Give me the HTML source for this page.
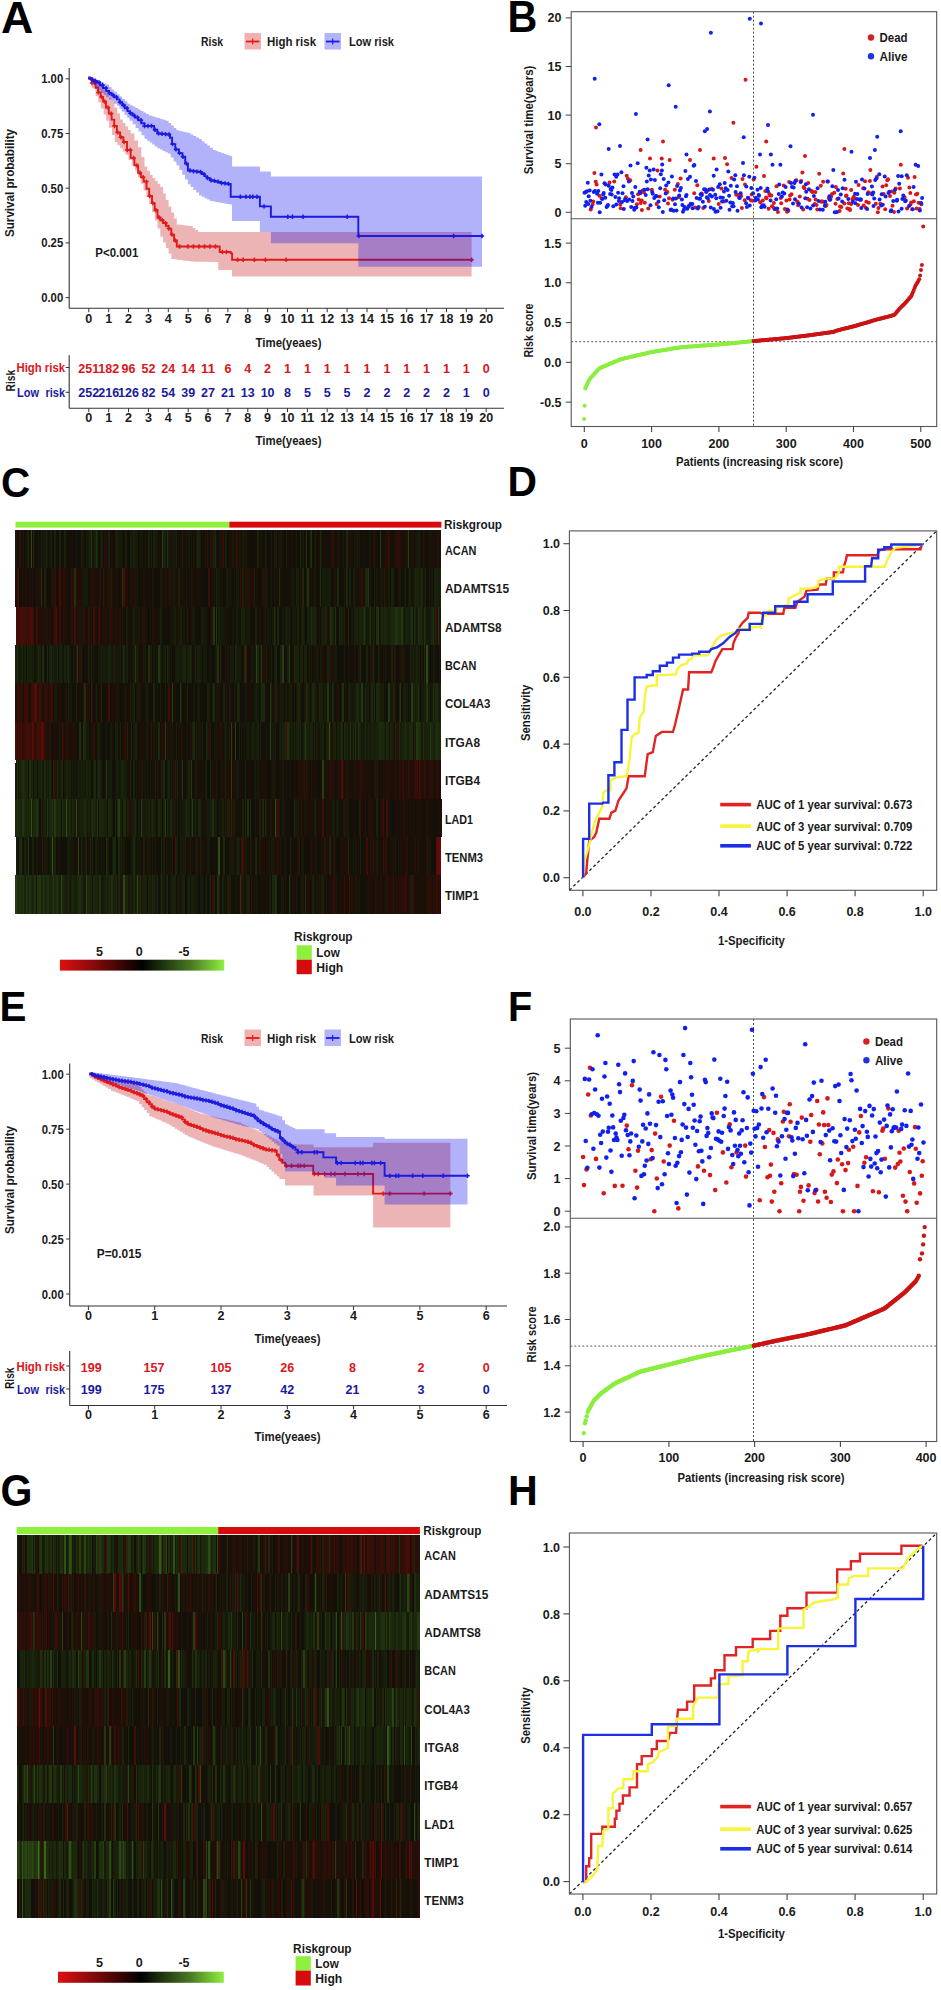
<!DOCTYPE html><html><head><meta charset="utf-8"><style>html,body{margin:0;padding:0;background:#fff;width:941px;height:1990px;overflow:hidden}svg{display:block}</style></head><body><svg width="941" height="1990" viewBox="0 0 941 1990" font-family="Liberation Sans, sans-serif" font-weight="bold">
<rect width="941" height="1990" fill="#fff"/>
<text transform="translate(1.06,32.94) scale(0.4470,0.4353)" x="0" y="0" font-size="100" fill="#000">A</text>
<text transform="translate(507.51,32.10) scale(0.4131,0.4348)" x="0" y="0" font-size="100" fill="#000">B</text>
<text transform="translate(1.08,496.97) scale(0.4046,0.4338)" x="0" y="0" font-size="100" fill="#000">C</text>
<text transform="translate(507.54,496.30) scale(0.4082,0.4261)" x="0" y="0" font-size="100" fill="#000">D</text>
<text transform="translate(-0.43,1020.90) scale(0.4036,0.4290)" x="0" y="0" font-size="100" fill="#000">E</text>
<text transform="translate(508.11,1020.70) scale(0.3980,0.4290)" x="0" y="0" font-size="100" fill="#000">F</text>
<text transform="translate(0.46,1506.16) scale(0.4103,0.4380)" x="0" y="0" font-size="100" fill="#000">G</text>
<text transform="translate(508.02,1504.80) scale(0.4121,0.4290)" x="0" y="0" font-size="100" fill="#000">H</text>
<path d="M88.2 76 L90.8 76 L90.8 77.9 L93.3 77.9 L93.3 79.8 L95.9 79.8 L95.9 81.8 L98.4 81.8 L98.4 83.7 L101 83.7 L101 85.6 L103.7 85.6 L103.7 89.6 L106.3 89.6 L106.3 93.6 L108.9 93.6 L108.9 97.6 L111.6 97.6 L111.6 101.6 L114.4 101.6 L114.4 107.6 L117.3 107.6 L117.3 113.6 L120.1 113.6 L120.1 119.6 L122.8 119.6 L122.8 123 L125.4 123 L125.4 126.5 L128 126.5 L128 129.9 L130.7 129.9 L130.7 133.4 L134.4 133.4 L134.4 140.4 L138.1 140.4 L138.1 147.3 L141.3 147.3 L141.3 156.9 L144.5 156.9 L144.5 166.4 L147.2 166.4 L147.2 170.7 L150 170.7 L150 175 L152.6 175 L152.6 178 L155.2 178 L155.2 181.1 L157.7 181.1 L157.7 184.1 L160.3 184.1 L160.3 187.1 L163.1 187.1 L163.1 193.5 L165.8 193.5 L165.8 200 L168.6 200 L168.6 206.4 L171.3 206.4 L171.3 212.4 L174.1 212.4 L174.1 218.4 L176.8 218.4 L176.8 224.4 L179.4 224.4 L179.4 224.7 L182.1 224.7 L182.1 225 L184.7 225 L184.7 225.4 L187.4 225.4 L187.4 225.7 L190 225.7 L190 226 L192.7 226 L192.7 228 L195.3 228 L195.3 229.9 L198 229.9 L198 231.9 L471.6 231.9 L471.6 231.9 L471.6 276.4 L471.6 276.4 L232 276.4 L232 270 L232 270 L232 270 L221 270 L218.3 270 L218.3 262 L218.3 262 L215.5 262 L215.5 261.9 L212.8 261.9 L212.8 261.9 L210 261.9 L210 261.9 L207.2 261.9 L207.2 261.8 L204.5 261.8 L204.5 261.8 L201.7 261.8 L201.7 261.8 L198.9 261.8 L198.9 261.7 L196.2 261.7 L196.2 261.7 L193.4 261.7 L193.4 261.4 L190.6 261.4 L190.6 261 L187.9 261 L187.9 260.7 L185.1 260.7 L185.1 260.4 L182.4 260.4 L182.4 260 L179.6 260 L179.6 259.7 L176.8 259.7 L176.8 259.3 L174.1 259.3 L174.1 259 L171.3 259 L171.3 253.4 L168.6 253.4 L168.6 247.9 L165.8 247.9 L165.8 242.4 L163.1 242.4 L163.1 236.8 L160.3 236.8 L160.3 228.5 L157.5 228.5 L157.5 220.2 L154.8 220.2 L154.8 212 L152 212 L152 203.7 L149.2 203.7 L149.2 197.1 L146.4 197.1 L146.4 190.5 L143.5 190.5 L143.5 183.8 L140.7 183.8 L140.7 177.2 L137.8 177.2 L137.8 170.6 L135 170.6 L135 165.3 L131.8 165.3 L131.8 160 L128.6 160 L128.6 154.7 L125.4 154.7 L125.4 151.5 L122.8 151.5 L122.8 148.3 L120.1 148.3 L120.1 145.2 L117.5 145.2 L117.5 142 L114.8 142 L114.8 134.9 L112 134.9 L112 127.8 L109.1 127.8 L109.1 120.7 L106.3 120.7 L106.3 114.6 L103.6 114.6 L103.6 108.5 L100.9 108.5 L100.9 102.4 L98.3 102.4 L98.3 96.3 L95.6 96.3 L95.6 88.2 L91.9 88.2 L91.9 80 L88.2 80 Z" fill="#c10d0d" fill-opacity="0.31" stroke="none"/>
<path d="M88.2 78.2 L91.9 78.2 L91.9 83 L95.6 83 L95.6 87.8 L98.1 87.8 L98.1 92.4 L100.6 92.4 L100.6 97 L103.1 97 L103.1 101.6 L105.9 101.6 L105.9 107.6 L108.8 107.6 L108.8 113.6 L111.6 113.6 L111.6 119.6 L114.2 119.6 L114.2 126 L116.9 126 L116.9 132.4 L120.1 132.4 L120.1 137.2 L123.3 137.2 L123.3 142 L127 142 L127 149.9 L130.7 149.9 L130.7 157.9 L134.4 157.9 L134.4 165.4 L138.1 165.4 L138.1 172.8 L140.9 172.8 L140.9 177.2 L143.7 177.2 L143.7 181.6 L146.5 181.6 L146.5 188.8 L149.2 188.8 L149.2 196 L152 196 L152 203.1 L154.7 203.1 L154.7 210.3 L157.5 210.3 L157.5 217.5 L160.3 217.5 L160.3 220.3 L163.1 220.3 L163.1 223.1 L165.8 223.1 L165.8 225.8 L168.6 225.8 L168.6 228.6 L171.3 228.6 L171.3 234.6 L174.1 234.6 L174.1 240.5 L176.8 240.5 L176.8 246.5 L218.3 246.5 L218.3 246.5 L219.7 246.5 L219.7 252 L230.7 252 L230.7 253.4 L232.1 253.4 L232.1 259.8 L471.6 259.8 L471.6 259.8" fill="none" stroke="#e01a1a" stroke-width="1.9"/>
<path d="M89.8 83h4.4M92 80.8v4.4M93 83h4.4M95.2 80.8v4.4M96.2 92.4h4.4M98.4 90.2v4.4M99.4 97h4.4M101.6 94.8v4.4M102.6 101.6h4.4M104.8 99.4v4.4M105.8 107.6h4.4M108 105.4v4.4M109 113.6h4.4M111.2 111.4v4.4M112.2 126h4.4M114.4 123.8v4.4M115.4 132.4h4.4M117.6 130.2v4.4M118.6 137.2h4.4M120.8 135v4.4M121.8 142h4.4M124 139.8v4.4M125 149.9h4.4M127.2 147.8v4.4M128.2 149.9h4.4M130.4 147.8v4.4M131.4 157.9h4.4M133.6 155.7v4.4M134.6 165.4h4.4M136.8 163.2v4.4M137.8 172.8h4.4M140 170.6v4.4M141 177.2h4.4M143.2 175v4.4M144.2 181.6h4.4M146.4 179.4v4.4M147.4 196h4.4M149.6 193.8v4.4M150.6 203.1h4.4M152.8 200.9v4.4M153.8 210.3h4.4M156 208.1v4.4M157 217.5h4.4M159.2 215.3v4.4M160.2 220.3h4.4M162.4 218.1v4.4M163.4 223.1h4.4M165.6 220.9v4.4M166.6 228.6h4.4M168.8 226.4v4.4M169.8 234.6h4.4M172 232.4v4.4M173 240.5h4.4M175.2 238.3v4.4M177.4 246.5h4.4M179.6 244.3v4.4M185.7 246.5h4.4M187.9 244.3v4.4M191.2 246.5h4.4M193.4 244.3v4.4M196.8 246.5h4.4M199 244.3v4.4M202.3 246.5h4.4M204.5 244.3v4.4M207.8 246.5h4.4M210 244.3v4.4M213.3 246.5h4.4M215.5 244.3v4.4M220.2 252h4.4M222.4 249.8v4.4M224.3 252h4.4M226.5 249.8v4.4M235.4 259.8h4.4M237.6 257.6v4.4M241 259.8h4.4M243.2 257.6v4.4M252.2 259.8h4.4M254.4 257.6v4.4M263.2 259.8h4.4M265.4 257.6v4.4M283.9 259.8h4.4M286.1 257.6v4.4M469.4 259.8h4.4M471.6 257.6v4.4" fill="none" stroke="#e01a1a" stroke-width="1.5"/>
<path d="M88.2 76 L90.8 76 L90.8 77.2 L93.4 77.2 L93.4 78.5 L96 78.5 L96 79.7 L98.5 79.7 L98.5 80.9 L101.1 80.9 L101.1 82.1 L103.7 82.1 L103.7 83.4 L106.3 83.4 L106.3 84.6 L109 84.6 L109 87 L111.6 87 L111.6 89.4 L114.2 89.4 L114.2 91.8 L116.9 91.8 L116.9 94.2 L119.5 94.2 L119.5 96.5 L122.2 96.5 L122.2 98.9 L124.8 98.9 L124.8 101.3 L127.5 101.3 L127.5 103.7 L130.2 103.7 L130.2 105.2 L132.8 105.2 L132.8 106.6 L135.5 106.6 L135.5 108.1 L138.2 108.1 L138.2 109.6 L140.8 109.6 L140.8 111 L143.5 111 L143.5 112.5 L146.1 112.5 L146.1 113.9 L148.8 113.9 L148.8 115.4 L151.6 115.4 L151.6 116.3 L154.5 116.3 L154.5 117.2 L157.3 117.2 L157.3 118.1 L160.1 118.1 L160.1 118.9 L163 118.9 L163 119.8 L165.8 119.8 L165.8 120.7 L168.5 120.7 L168.5 123.1 L171.1 123.1 L171.1 125.5 L173.8 125.5 L173.8 127.9 L176.4 127.9 L176.4 130.3 L179.3 130.3 L179.3 131 L182.2 131 L182.2 131.7 L185 131.7 L185 132.3 L187.9 132.3 L187.9 133 L190.7 133 L190.7 134.5 L193.4 134.5 L193.4 136 L196.2 136 L196.2 137.5 L199 137.5 L199 139 L201.8 139 L201.8 141.2 L204.5 141.2 L204.5 143.4 L207.3 143.4 L207.3 145.6 L210 145.6 L210 147.8 L212.8 147.8 L212.8 150 L215.6 150 L215.6 151 L218.3 151 L218.3 152 L221.1 152 L221.1 153 L223.8 153 L223.8 154 L226.6 154 L226.6 155 L229.3 155 L229.3 156 L232.1 156 L232.1 157 L232.1 166.4 L234.9 166.4 L259.9 166.4 L259.9 166.4 L259.9 166.4 L259.9 171.4 L270.9 171.4 L270.9 171.4 L270.9 171.4 L270.9 176.6 L482 176.6 L482 176.6 L482 266.7 L482 266.7 L358.3 266.7 L358.3 243.2 L358.3 243.2 L358.3 243.2 L270.9 243.2 L270.9 231.9 L270.9 231.9 L270.9 231.9 L259.9 231.9 L259.9 221.1 L259.9 221.1 L259.9 221.1 L234.9 221.1 L232 221.1 L232 205 L232 204.5 L229.2 204.5 L229.2 204 L226.5 204 L226.5 203.5 L223.8 203.5 L223.8 203 L221 203 L221 202.5 L218.2 202.5 L218.2 202 L215.5 202 L215.5 201.5 L212.8 201.5 L212.8 201 L210 201 L210 199.6 L207.2 199.6 L207.2 198.2 L204.5 198.2 L204.5 196.8 L201.8 196.8 L201.8 195.4 L199 195.4 L199 192.6 L196.2 192.6 L196.2 189.9 L193.4 189.9 L193.4 187.1 L190.7 187.1 L190.7 184.3 L187.9 184.3 L187.9 179.6 L185 179.6 L185 174.8 L182.2 174.8 L182.2 170.1 L179.3 170.1 L179.3 165.3 L176.4 165.3 L176.4 161.4 L173.6 161.4 L173.6 157.5 L170.7 157.5 L170.7 153.6 L167.9 153.6 L167.9 152.3 L165.2 152.3 L165.2 150.9 L162.6 150.9 L162.6 149.6 L160 149.6 L160 148.3 L157.3 148.3 L157.3 146.4 L154.7 146.4 L154.7 144.5 L152.2 144.5 L152.2 142.6 L149.6 142.6 L149.6 140.7 L147.1 140.7 L147.1 138.8 L144.5 138.8 L144.5 135.2 L141.5 135.2 L141.5 131.6 L138.5 131.6 L138.5 127.9 L135.6 127.9 L135.6 124.3 L132.6 124.3 L132.6 120.7 L129.6 120.7 L129.6 117.7 L127.1 117.7 L127.1 114.7 L124.5 114.7 L124.5 111.8 L122 111.8 L122 108.8 L119.4 108.8 L119.4 105.8 L116.9 105.8 L116.9 103.7 L114.2 103.7 L114.2 101.5 L111.6 101.5 L111.6 99.4 L109 99.4 L109 97.3 L106.3 97.3 L106.3 95.1 L103.7 95.1 L103.7 93 L101 93 L101 90.4 L98.4 90.4 L98.4 87.8 L95.9 87.8 L95.9 85.2 L93.3 85.2 L93.3 82.6 L90.8 82.6 L90.8 80 L88.2 80 Z" fill="#0707ef" fill-opacity="0.31" stroke="none"/>
<path d="M88.2 78.2 L91 78.2 L91 79.6 L93.9 79.6 L93.9 81 L96.7 81 L96.7 82.4 L99.9 82.4 L99.9 85.3 L103.1 85.3 L103.1 88.1 L106.3 88.1 L106.3 91 L109 91 L109 93.1 L111.6 93.1 L111.6 95.2 L114.2 95.2 L114.2 97.3 L116.9 97.3 L116.9 99.4 L119.6 99.4 L119.6 102.3 L122.2 102.3 L122.2 105.2 L124.8 105.2 L124.8 108.2 L127.5 108.2 L127.5 111.1 L130 111.1 L130 113.2 L132.5 113.2 L132.5 115.4 L135 115.4 L135 117.5 L138.2 117.5 L138.2 120.3 L141.3 120.3 L141.3 123.2 L144.5 123.2 L144.5 126 L147.7 126 L147.7 126 L150.9 126 L150.9 126 L154.1 126 L154.1 129.7 L157.3 129.7 L157.3 133.4 L160.1 133.4 L160.1 133.8 L163 133.8 L163 134.1 L165.8 134.1 L165.8 134.5 L170 134.5 L170 137.7 L172.1 137.7 L172.1 144.1 L175.3 144.1 L175.3 149.4 L178.9 149.4 L178.9 153.1 L182.4 153.1 L182.4 156.7 L185.2 156.7 L185.2 163.6 L187.9 163.6 L187.9 170.5 L190.7 170.5 L190.7 170.9 L193.4 170.9 L193.4 171.2 L196.2 171.2 L196.2 171.6 L199 171.6 L199 172 L201.8 172 L201.8 174.1 L204.5 174.1 L204.5 176.1 L207.2 176.1 L207.2 178.1 L210 178.1 L210 180.2 L212.8 180.2 L212.8 180.9 L215.5 180.9 L215.5 181.6 L218.2 181.6 L218.2 182.3 L221 182.3 L221 183 L224.2 183 L224.2 183.4 L227.5 183.4 L227.5 183.9 L230.7 183.9 L230.7 184.3 L230.7 196.8 L234.9 196.8 L259.9 196.8 L259.9 196.8 L259.9 196.8 L259.9 206.4 L270.9 206.4 L270.9 206.4 L270.9 206.4 L270.9 216.7 L358.3 216.7 L358.3 216.7 L358.3 216.7 L358.3 236 L482 236 L482 236" fill="none" stroke="#1a1ae0" stroke-width="1.9"/>
<path d="M89.8 79.6h4.4M92 77.4v4.4M93.3 81h4.4M95.5 78.8v4.4M96.8 82.4h4.4M99 80.2v4.4M100.3 85.3h4.4M102.5 83.1v4.4M103.8 88.1h4.4M106 85.9v4.4M107.3 93.1h4.4M109.5 90.9v4.4M110.8 95.2h4.4M113 93v4.4M114.3 97.3h4.4M116.5 95.1v4.4M117.8 102.3h4.4M120 100.1v4.4M121.3 105.2h4.4M123.5 103v4.4M124.8 108.2h4.4M127 106v4.4M128.3 113.2h4.4M130.5 111v4.4M131.8 115.4h4.4M134 113.2v4.4M135.3 117.5h4.4M137.5 115.3v4.4M138.8 120.3h4.4M141 118.1v4.4M142.3 126h4.4M144.5 123.8v4.4M145.8 126h4.4M148 123.8v4.4M149.3 126h4.4M151.5 123.8v4.4M152.8 129.7h4.4M155 127.5v4.4M156.3 133.4h4.4M158.5 131.2v4.4M159.8 133.8h4.4M162 131.6v4.4M163.3 134.1h4.4M165.5 131.9v4.4M166.8 134.5h4.4M169 132.3v4.4M170.3 144.1h4.4M172.5 141.9v4.4M173.8 149.4h4.4M176 147.2v4.4M177.3 153.1h4.4M179.5 150.9v4.4M180.8 156.7h4.4M183 154.5v4.4M184.3 163.6h4.4M186.5 161.4v4.4M187.8 170.5h4.4M190 168.3v4.4M191.3 171.2h4.4M193.5 169.1v4.4M194.8 171.6h4.4M197 169.4v4.4M198.3 172h4.4M200.5 169.8v4.4M201.8 174.1h4.4M204 171.9v4.4M205.3 178.1h4.4M207.5 175.9v4.4M208.8 180.2h4.4M211 178v4.4M212.3 180.9h4.4M214.5 178.7v4.4M215.8 181.6h4.4M218 179.4v4.4M219.3 183h4.4M221.5 180.8v4.4M222.8 183.4h4.4M225 181.2v4.4M226.3 183.9h4.4M228.5 181.7v4.4M238.2 196.8h4.4M240.4 194.6v4.4M243.7 196.8h4.4M245.9 194.6v4.4M247.8 196.8h4.4M250 194.6v4.4M250.6 196.8h4.4M252.8 194.6v4.4M254.8 196.8h4.4M257 194.6v4.4M261.8 206.4h4.4M264 204.2v4.4M285.6 216.7h4.4M287.8 214.5v4.4M290.3 216.7h4.4M292.5 214.5v4.4M300.8 216.7h4.4M303 214.5v4.4M345 216.7h4.4M347.2 214.5v4.4M356.6 236h4.4M358.8 233.8v4.4M451.4 236h4.4M453.6 233.8v4.4M479.8 236h4.4M482 233.8v4.4" fill="none" stroke="#1a1ae0" stroke-width="1.5"/>
<line x1="69.2" y1="68" x2="69.2" y2="308.2" stroke="#333" stroke-width="1.1"/>
<line x1="69.2" y1="308.2" x2="504" y2="308.2" stroke="#333" stroke-width="1.1"/>
<line x1="65.7" y1="78.8" x2="69.2" y2="78.8" stroke="#333" stroke-width="1"/>
<text x="63.2" y="83.3" text-anchor="end" font-size="13.2" fill="#1a1a1a" textLength="22" lengthAdjust="spacingAndGlyphs">1.00</text>
<line x1="65.7" y1="133.5" x2="69.2" y2="133.5" stroke="#333" stroke-width="1"/>
<text x="63.2" y="138" text-anchor="end" font-size="13.2" fill="#1a1a1a" textLength="22" lengthAdjust="spacingAndGlyphs">0.75</text>
<line x1="65.7" y1="188.2" x2="69.2" y2="188.2" stroke="#333" stroke-width="1"/>
<text x="63.2" y="192.7" text-anchor="end" font-size="13.2" fill="#1a1a1a" textLength="22" lengthAdjust="spacingAndGlyphs">0.50</text>
<line x1="65.7" y1="242.9" x2="69.2" y2="242.9" stroke="#333" stroke-width="1"/>
<text x="63.2" y="247.4" text-anchor="end" font-size="13.2" fill="#1a1a1a" textLength="22" lengthAdjust="spacingAndGlyphs">0.25</text>
<line x1="65.7" y1="297.6" x2="69.2" y2="297.6" stroke="#333" stroke-width="1"/>
<text x="63.2" y="302.1" text-anchor="end" font-size="13.2" fill="#1a1a1a" textLength="22" lengthAdjust="spacingAndGlyphs">0.00</text>
<line x1="88.8" y1="308.2" x2="88.8" y2="312.2" stroke="#333" stroke-width="1"/>
<text x="88.8" y="323.1" text-anchor="middle" font-size="13.2" fill="#1a1a1a" textLength="7" lengthAdjust="spacingAndGlyphs">0</text>
<line x1="108.7" y1="308.2" x2="108.7" y2="312.2" stroke="#333" stroke-width="1"/>
<text x="108.7" y="323.1" text-anchor="middle" font-size="13.2" fill="#1a1a1a" textLength="7" lengthAdjust="spacingAndGlyphs">1</text>
<line x1="128.5" y1="308.2" x2="128.5" y2="312.2" stroke="#333" stroke-width="1"/>
<text x="128.5" y="323.1" text-anchor="middle" font-size="13.2" fill="#1a1a1a" textLength="7" lengthAdjust="spacingAndGlyphs">2</text>
<line x1="148.4" y1="308.2" x2="148.4" y2="312.2" stroke="#333" stroke-width="1"/>
<text x="148.4" y="323.1" text-anchor="middle" font-size="13.2" fill="#1a1a1a" textLength="7" lengthAdjust="spacingAndGlyphs">3</text>
<line x1="168.3" y1="308.2" x2="168.3" y2="312.2" stroke="#333" stroke-width="1"/>
<text x="168.3" y="323.1" text-anchor="middle" font-size="13.2" fill="#1a1a1a" textLength="7" lengthAdjust="spacingAndGlyphs">4</text>
<line x1="188.2" y1="308.2" x2="188.2" y2="312.2" stroke="#333" stroke-width="1"/>
<text x="188.2" y="323.1" text-anchor="middle" font-size="13.2" fill="#1a1a1a" textLength="7" lengthAdjust="spacingAndGlyphs">5</text>
<line x1="208" y1="308.2" x2="208" y2="312.2" stroke="#333" stroke-width="1"/>
<text x="208" y="323.1" text-anchor="middle" font-size="13.2" fill="#1a1a1a" textLength="7" lengthAdjust="spacingAndGlyphs">6</text>
<line x1="227.9" y1="308.2" x2="227.9" y2="312.2" stroke="#333" stroke-width="1"/>
<text x="227.9" y="323.1" text-anchor="middle" font-size="13.2" fill="#1a1a1a" textLength="7" lengthAdjust="spacingAndGlyphs">7</text>
<line x1="247.8" y1="308.2" x2="247.8" y2="312.2" stroke="#333" stroke-width="1"/>
<text x="247.8" y="323.1" text-anchor="middle" font-size="13.2" fill="#1a1a1a" textLength="7" lengthAdjust="spacingAndGlyphs">8</text>
<line x1="267.6" y1="308.2" x2="267.6" y2="312.2" stroke="#333" stroke-width="1"/>
<text x="267.6" y="323.1" text-anchor="middle" font-size="13.2" fill="#1a1a1a" textLength="7" lengthAdjust="spacingAndGlyphs">9</text>
<line x1="287.5" y1="308.2" x2="287.5" y2="312.2" stroke="#333" stroke-width="1"/>
<text x="287.5" y="323.1" text-anchor="middle" font-size="13.2" fill="#1a1a1a" textLength="13.9" lengthAdjust="spacingAndGlyphs">10</text>
<line x1="307.4" y1="308.2" x2="307.4" y2="312.2" stroke="#333" stroke-width="1"/>
<text x="307.4" y="323.1" text-anchor="middle" font-size="13.2" fill="#1a1a1a" textLength="13.9" lengthAdjust="spacingAndGlyphs">11</text>
<line x1="327.2" y1="308.2" x2="327.2" y2="312.2" stroke="#333" stroke-width="1"/>
<text x="327.2" y="323.1" text-anchor="middle" font-size="13.2" fill="#1a1a1a" textLength="13.9" lengthAdjust="spacingAndGlyphs">12</text>
<line x1="347.1" y1="308.2" x2="347.1" y2="312.2" stroke="#333" stroke-width="1"/>
<text x="347.1" y="323.1" text-anchor="middle" font-size="13.2" fill="#1a1a1a" textLength="13.9" lengthAdjust="spacingAndGlyphs">13</text>
<line x1="367" y1="308.2" x2="367" y2="312.2" stroke="#333" stroke-width="1"/>
<text x="367" y="323.1" text-anchor="middle" font-size="13.2" fill="#1a1a1a" textLength="13.9" lengthAdjust="spacingAndGlyphs">14</text>
<line x1="386.9" y1="308.2" x2="386.9" y2="312.2" stroke="#333" stroke-width="1"/>
<text x="386.9" y="323.1" text-anchor="middle" font-size="13.2" fill="#1a1a1a" textLength="13.9" lengthAdjust="spacingAndGlyphs">15</text>
<line x1="406.7" y1="308.2" x2="406.7" y2="312.2" stroke="#333" stroke-width="1"/>
<text x="406.7" y="323.1" text-anchor="middle" font-size="13.2" fill="#1a1a1a" textLength="13.9" lengthAdjust="spacingAndGlyphs">16</text>
<line x1="426.6" y1="308.2" x2="426.6" y2="312.2" stroke="#333" stroke-width="1"/>
<text x="426.6" y="323.1" text-anchor="middle" font-size="13.2" fill="#1a1a1a" textLength="13.9" lengthAdjust="spacingAndGlyphs">17</text>
<line x1="446.5" y1="308.2" x2="446.5" y2="312.2" stroke="#333" stroke-width="1"/>
<text x="446.5" y="323.1" text-anchor="middle" font-size="13.2" fill="#1a1a1a" textLength="13.9" lengthAdjust="spacingAndGlyphs">18</text>
<line x1="466.3" y1="308.2" x2="466.3" y2="312.2" stroke="#333" stroke-width="1"/>
<text x="466.3" y="323.1" text-anchor="middle" font-size="13.2" fill="#1a1a1a" textLength="13.9" lengthAdjust="spacingAndGlyphs">19</text>
<line x1="486.2" y1="308.2" x2="486.2" y2="312.2" stroke="#333" stroke-width="1"/>
<text x="486.2" y="323.1" text-anchor="middle" font-size="13.2" fill="#1a1a1a" textLength="13.9" lengthAdjust="spacingAndGlyphs">20</text>
<text x="288.5" y="346.8" text-anchor="middle" font-size="13.2" fill="#1a1a1a" textLength="66" lengthAdjust="spacingAndGlyphs">Time(yeaes)</text>
<text transform="translate(9.6,183) rotate(-90)" x="0" y="4.1" text-anchor="middle" font-size="12" fill="#1a1a1a" textLength="108" lengthAdjust="spacingAndGlyphs">Survival probability</text>
<text x="95.3" y="256.5" text-anchor="start" font-size="13.2" fill="#1a1a1a" textLength="43" lengthAdjust="spacingAndGlyphs">P&lt;0.001</text>
<text x="201" y="46" text-anchor="start" font-size="13" fill="#1a1a1a" textLength="22" lengthAdjust="spacingAndGlyphs">Risk</text>
<rect x="244.5" y="33" width="16.5" height="16.5" fill="#f2b1b1"/>
<line x1="246" y1="41.5" x2="259.5" y2="41.5" stroke="#e01a1a" stroke-width="1.8"/>
<line x1="252.7" y1="38.5" x2="252.7" y2="44.5" stroke="#e01a1a" stroke-width="1.2"/>
<text x="267" y="46" text-anchor="start" font-size="13" fill="#1a1a1a" textLength="49" lengthAdjust="spacingAndGlyphs">High risk</text>
<rect x="324.5" y="33" width="16.5" height="16.5" fill="#b4b4fb"/>
<line x1="326" y1="41.5" x2="339.5" y2="41.5" stroke="#1a1ae0" stroke-width="1.8"/>
<line x1="332.7" y1="38.5" x2="332.7" y2="44.5" stroke="#1a1ae0" stroke-width="1.2"/>
<text x="349" y="46" text-anchor="start" font-size="13" fill="#1a1a1a" textLength="45" lengthAdjust="spacingAndGlyphs">Low risk</text>
<line x1="69.2" y1="355.3" x2="69.2" y2="408.2" stroke="#333" stroke-width="1.1"/>
<line x1="69.2" y1="408.2" x2="504" y2="408.2" stroke="#333" stroke-width="1.1"/>
<line x1="65.7" y1="367.5" x2="69.2" y2="367.5" stroke="#333" stroke-width="1"/>
<line x1="65.7" y1="392.3" x2="69.2" y2="392.3" stroke="#333" stroke-width="1"/>
<text x="65" y="372" text-anchor="end" font-size="13.2" fill="#d8161b" textLength="48.5" lengthAdjust="spacingAndGlyphs">High risk</text>
<text x="17" y="396.8" text-anchor="start" font-size="13.2" fill="#1a1a9c" textLength="22" lengthAdjust="spacingAndGlyphs">Low</text>
<text x="65" y="396.8" text-anchor="end" font-size="13.2" fill="#1a1a9c" textLength="19.5" lengthAdjust="spacingAndGlyphs">risk</text>
<text transform="translate(10,380.7) rotate(-90)" x="0" y="4.7" text-anchor="middle" font-size="13.6" fill="#1a1a1a" textLength="21.5" lengthAdjust="spacingAndGlyphs">Risk</text>
<text x="88.8" y="373" text-anchor="middle" font-size="13.2" fill="#d8161b" textLength="20.9" lengthAdjust="spacingAndGlyphs">251</text>
<text x="108.7" y="373" text-anchor="middle" font-size="13.2" fill="#d8161b" textLength="20.9" lengthAdjust="spacingAndGlyphs">182</text>
<text x="128.5" y="373" text-anchor="middle" font-size="13.2" fill="#d8161b" textLength="13.9" lengthAdjust="spacingAndGlyphs">96</text>
<text x="148.4" y="373" text-anchor="middle" font-size="13.2" fill="#d8161b" textLength="13.9" lengthAdjust="spacingAndGlyphs">52</text>
<text x="168.3" y="373" text-anchor="middle" font-size="13.2" fill="#d8161b" textLength="13.9" lengthAdjust="spacingAndGlyphs">24</text>
<text x="188.2" y="373" text-anchor="middle" font-size="13.2" fill="#d8161b" textLength="13.9" lengthAdjust="spacingAndGlyphs">14</text>
<text x="208" y="373" text-anchor="middle" font-size="13.2" fill="#d8161b" textLength="13.9" lengthAdjust="spacingAndGlyphs">11</text>
<text x="227.9" y="373" text-anchor="middle" font-size="13.2" fill="#d8161b" textLength="7" lengthAdjust="spacingAndGlyphs">6</text>
<text x="247.8" y="373" text-anchor="middle" font-size="13.2" fill="#d8161b" textLength="7" lengthAdjust="spacingAndGlyphs">4</text>
<text x="267.6" y="373" text-anchor="middle" font-size="13.2" fill="#d8161b" textLength="7" lengthAdjust="spacingAndGlyphs">2</text>
<text x="287.5" y="373" text-anchor="middle" font-size="13.2" fill="#d8161b" textLength="7" lengthAdjust="spacingAndGlyphs">1</text>
<text x="307.4" y="373" text-anchor="middle" font-size="13.2" fill="#d8161b" textLength="7" lengthAdjust="spacingAndGlyphs">1</text>
<text x="327.2" y="373" text-anchor="middle" font-size="13.2" fill="#d8161b" textLength="7" lengthAdjust="spacingAndGlyphs">1</text>
<text x="347.1" y="373" text-anchor="middle" font-size="13.2" fill="#d8161b" textLength="7" lengthAdjust="spacingAndGlyphs">1</text>
<text x="367" y="373" text-anchor="middle" font-size="13.2" fill="#d8161b" textLength="7" lengthAdjust="spacingAndGlyphs">1</text>
<text x="386.9" y="373" text-anchor="middle" font-size="13.2" fill="#d8161b" textLength="7" lengthAdjust="spacingAndGlyphs">1</text>
<text x="406.7" y="373" text-anchor="middle" font-size="13.2" fill="#d8161b" textLength="7" lengthAdjust="spacingAndGlyphs">1</text>
<text x="426.6" y="373" text-anchor="middle" font-size="13.2" fill="#d8161b" textLength="7" lengthAdjust="spacingAndGlyphs">1</text>
<text x="446.5" y="373" text-anchor="middle" font-size="13.2" fill="#d8161b" textLength="7" lengthAdjust="spacingAndGlyphs">1</text>
<text x="466.3" y="373" text-anchor="middle" font-size="13.2" fill="#d8161b" textLength="7" lengthAdjust="spacingAndGlyphs">1</text>
<text x="486.2" y="373" text-anchor="middle" font-size="13.2" fill="#d8161b" textLength="7" lengthAdjust="spacingAndGlyphs">0</text>
<text x="88.8" y="396.8" text-anchor="middle" font-size="13.2" fill="#1a1a9c" textLength="20.9" lengthAdjust="spacingAndGlyphs">252</text>
<text x="108.7" y="396.8" text-anchor="middle" font-size="13.2" fill="#1a1a9c" textLength="20.9" lengthAdjust="spacingAndGlyphs">216</text>
<text x="128.5" y="396.8" text-anchor="middle" font-size="13.2" fill="#1a1a9c" textLength="20.9" lengthAdjust="spacingAndGlyphs">126</text>
<text x="148.4" y="396.8" text-anchor="middle" font-size="13.2" fill="#1a1a9c" textLength="13.9" lengthAdjust="spacingAndGlyphs">82</text>
<text x="168.3" y="396.8" text-anchor="middle" font-size="13.2" fill="#1a1a9c" textLength="13.9" lengthAdjust="spacingAndGlyphs">54</text>
<text x="188.2" y="396.8" text-anchor="middle" font-size="13.2" fill="#1a1a9c" textLength="13.9" lengthAdjust="spacingAndGlyphs">39</text>
<text x="208" y="396.8" text-anchor="middle" font-size="13.2" fill="#1a1a9c" textLength="13.9" lengthAdjust="spacingAndGlyphs">27</text>
<text x="227.9" y="396.8" text-anchor="middle" font-size="13.2" fill="#1a1a9c" textLength="13.9" lengthAdjust="spacingAndGlyphs">21</text>
<text x="247.8" y="396.8" text-anchor="middle" font-size="13.2" fill="#1a1a9c" textLength="13.9" lengthAdjust="spacingAndGlyphs">13</text>
<text x="267.6" y="396.8" text-anchor="middle" font-size="13.2" fill="#1a1a9c" textLength="13.9" lengthAdjust="spacingAndGlyphs">10</text>
<text x="287.5" y="396.8" text-anchor="middle" font-size="13.2" fill="#1a1a9c" textLength="7" lengthAdjust="spacingAndGlyphs">8</text>
<text x="307.4" y="396.8" text-anchor="middle" font-size="13.2" fill="#1a1a9c" textLength="7" lengthAdjust="spacingAndGlyphs">5</text>
<text x="327.2" y="396.8" text-anchor="middle" font-size="13.2" fill="#1a1a9c" textLength="7" lengthAdjust="spacingAndGlyphs">5</text>
<text x="347.1" y="396.8" text-anchor="middle" font-size="13.2" fill="#1a1a9c" textLength="7" lengthAdjust="spacingAndGlyphs">5</text>
<text x="367" y="396.8" text-anchor="middle" font-size="13.2" fill="#1a1a9c" textLength="7" lengthAdjust="spacingAndGlyphs">2</text>
<text x="386.9" y="396.8" text-anchor="middle" font-size="13.2" fill="#1a1a9c" textLength="7" lengthAdjust="spacingAndGlyphs">2</text>
<text x="406.7" y="396.8" text-anchor="middle" font-size="13.2" fill="#1a1a9c" textLength="7" lengthAdjust="spacingAndGlyphs">2</text>
<text x="426.6" y="396.8" text-anchor="middle" font-size="13.2" fill="#1a1a9c" textLength="7" lengthAdjust="spacingAndGlyphs">2</text>
<text x="446.5" y="396.8" text-anchor="middle" font-size="13.2" fill="#1a1a9c" textLength="7" lengthAdjust="spacingAndGlyphs">2</text>
<text x="466.3" y="396.8" text-anchor="middle" font-size="13.2" fill="#1a1a9c" textLength="7" lengthAdjust="spacingAndGlyphs">1</text>
<text x="486.2" y="396.8" text-anchor="middle" font-size="13.2" fill="#1a1a9c" textLength="7" lengthAdjust="spacingAndGlyphs">0</text>
<line x1="88.8" y1="408.2" x2="88.8" y2="412.2" stroke="#333" stroke-width="1"/>
<text x="88.8" y="421.7" text-anchor="middle" font-size="13.2" fill="#1a1a1a" textLength="7" lengthAdjust="spacingAndGlyphs">0</text>
<line x1="108.7" y1="408.2" x2="108.7" y2="412.2" stroke="#333" stroke-width="1"/>
<text x="108.7" y="421.7" text-anchor="middle" font-size="13.2" fill="#1a1a1a" textLength="7" lengthAdjust="spacingAndGlyphs">1</text>
<line x1="128.5" y1="408.2" x2="128.5" y2="412.2" stroke="#333" stroke-width="1"/>
<text x="128.5" y="421.7" text-anchor="middle" font-size="13.2" fill="#1a1a1a" textLength="7" lengthAdjust="spacingAndGlyphs">2</text>
<line x1="148.4" y1="408.2" x2="148.4" y2="412.2" stroke="#333" stroke-width="1"/>
<text x="148.4" y="421.7" text-anchor="middle" font-size="13.2" fill="#1a1a1a" textLength="7" lengthAdjust="spacingAndGlyphs">3</text>
<line x1="168.3" y1="408.2" x2="168.3" y2="412.2" stroke="#333" stroke-width="1"/>
<text x="168.3" y="421.7" text-anchor="middle" font-size="13.2" fill="#1a1a1a" textLength="7" lengthAdjust="spacingAndGlyphs">4</text>
<line x1="188.2" y1="408.2" x2="188.2" y2="412.2" stroke="#333" stroke-width="1"/>
<text x="188.2" y="421.7" text-anchor="middle" font-size="13.2" fill="#1a1a1a" textLength="7" lengthAdjust="spacingAndGlyphs">5</text>
<line x1="208" y1="408.2" x2="208" y2="412.2" stroke="#333" stroke-width="1"/>
<text x="208" y="421.7" text-anchor="middle" font-size="13.2" fill="#1a1a1a" textLength="7" lengthAdjust="spacingAndGlyphs">6</text>
<line x1="227.9" y1="408.2" x2="227.9" y2="412.2" stroke="#333" stroke-width="1"/>
<text x="227.9" y="421.7" text-anchor="middle" font-size="13.2" fill="#1a1a1a" textLength="7" lengthAdjust="spacingAndGlyphs">7</text>
<line x1="247.8" y1="408.2" x2="247.8" y2="412.2" stroke="#333" stroke-width="1"/>
<text x="247.8" y="421.7" text-anchor="middle" font-size="13.2" fill="#1a1a1a" textLength="7" lengthAdjust="spacingAndGlyphs">8</text>
<line x1="267.6" y1="408.2" x2="267.6" y2="412.2" stroke="#333" stroke-width="1"/>
<text x="267.6" y="421.7" text-anchor="middle" font-size="13.2" fill="#1a1a1a" textLength="7" lengthAdjust="spacingAndGlyphs">9</text>
<line x1="287.5" y1="408.2" x2="287.5" y2="412.2" stroke="#333" stroke-width="1"/>
<text x="287.5" y="421.7" text-anchor="middle" font-size="13.2" fill="#1a1a1a" textLength="13.9" lengthAdjust="spacingAndGlyphs">10</text>
<line x1="307.4" y1="408.2" x2="307.4" y2="412.2" stroke="#333" stroke-width="1"/>
<text x="307.4" y="421.7" text-anchor="middle" font-size="13.2" fill="#1a1a1a" textLength="13.9" lengthAdjust="spacingAndGlyphs">11</text>
<line x1="327.2" y1="408.2" x2="327.2" y2="412.2" stroke="#333" stroke-width="1"/>
<text x="327.2" y="421.7" text-anchor="middle" font-size="13.2" fill="#1a1a1a" textLength="13.9" lengthAdjust="spacingAndGlyphs">12</text>
<line x1="347.1" y1="408.2" x2="347.1" y2="412.2" stroke="#333" stroke-width="1"/>
<text x="347.1" y="421.7" text-anchor="middle" font-size="13.2" fill="#1a1a1a" textLength="13.9" lengthAdjust="spacingAndGlyphs">13</text>
<line x1="367" y1="408.2" x2="367" y2="412.2" stroke="#333" stroke-width="1"/>
<text x="367" y="421.7" text-anchor="middle" font-size="13.2" fill="#1a1a1a" textLength="13.9" lengthAdjust="spacingAndGlyphs">14</text>
<line x1="386.9" y1="408.2" x2="386.9" y2="412.2" stroke="#333" stroke-width="1"/>
<text x="386.9" y="421.7" text-anchor="middle" font-size="13.2" fill="#1a1a1a" textLength="13.9" lengthAdjust="spacingAndGlyphs">15</text>
<line x1="406.7" y1="408.2" x2="406.7" y2="412.2" stroke="#333" stroke-width="1"/>
<text x="406.7" y="421.7" text-anchor="middle" font-size="13.2" fill="#1a1a1a" textLength="13.9" lengthAdjust="spacingAndGlyphs">16</text>
<line x1="426.6" y1="408.2" x2="426.6" y2="412.2" stroke="#333" stroke-width="1"/>
<text x="426.6" y="421.7" text-anchor="middle" font-size="13.2" fill="#1a1a1a" textLength="13.9" lengthAdjust="spacingAndGlyphs">17</text>
<line x1="446.5" y1="408.2" x2="446.5" y2="412.2" stroke="#333" stroke-width="1"/>
<text x="446.5" y="421.7" text-anchor="middle" font-size="13.2" fill="#1a1a1a" textLength="13.9" lengthAdjust="spacingAndGlyphs">18</text>
<line x1="466.3" y1="408.2" x2="466.3" y2="412.2" stroke="#333" stroke-width="1"/>
<text x="466.3" y="421.7" text-anchor="middle" font-size="13.2" fill="#1a1a1a" textLength="13.9" lengthAdjust="spacingAndGlyphs">19</text>
<line x1="486.2" y1="408.2" x2="486.2" y2="412.2" stroke="#333" stroke-width="1"/>
<text x="486.2" y="421.7" text-anchor="middle" font-size="13.2" fill="#1a1a1a" textLength="13.9" lengthAdjust="spacingAndGlyphs">20</text>
<text x="288.5" y="445" text-anchor="middle" font-size="13.2" fill="#1a1a1a" textLength="66" lengthAdjust="spacingAndGlyphs">Time(yeaes)</text>
<path d="M89.3 1072 L91.9 1072 L91.9 1072.7 L94.5 1072.7 L94.5 1073.4 L97.2 1073.4 L97.2 1074 L99.8 1074 L99.8 1074.7 L102.4 1074.7 L102.4 1075.4 L105 1075.4 L105 1076.1 L107.7 1076.1 L107.7 1076.8 L110.3 1076.8 L110.3 1077.5 L112.9 1077.5 L112.9 1078.2 L115.5 1078.2 L115.5 1078.8 L118.1 1078.8 L118.1 1079.5 L120.8 1079.5 L120.8 1080.2 L123.4 1080.2 L123.4 1080.9 L126 1080.9 L126 1081.6 L128.6 1081.6 L128.6 1082.2 L131.3 1082.2 L131.3 1082.9 L133.9 1082.9 L133.9 1083.6 L136.5 1083.6 L136.5 1084.3 L139.1 1084.3 L139.1 1086.8 L141.6 1086.8 L141.6 1089.4 L144.1 1089.4 L144.1 1092 L146.7 1092 L146.7 1094.5 L149.3 1094.5 L149.3 1095.3 L151.8 1095.3 L151.8 1096.1 L154.4 1096.1 L154.4 1097 L156.9 1097 L156.9 1097.8 L159.5 1097.8 L159.5 1098.6 L162 1098.6 L162 1099.4 L164.6 1099.4 L164.6 1100.2 L167.1 1100.2 L167.1 1101 L169.7 1101 L169.7 1101.9 L172.2 1101.9 L172.2 1102.7 L174.8 1102.7 L174.8 1103.5 L177.4 1103.5 L177.4 1104.5 L179.9 1104.5 L179.9 1105.5 L182.5 1105.5 L182.5 1106.6 L185 1106.6 L185 1107.6 L187.6 1107.6 L187.6 1108.6 L190.1 1108.6 L190.1 1109.6 L192.7 1109.6 L192.7 1110.6 L195.2 1110.6 L195.2 1111.7 L197.8 1111.7 L197.8 1112.7 L200.3 1112.7 L200.3 1113.7 L202.8 1113.7 L202.8 1114.3 L205.4 1114.3 L205.4 1114.9 L207.9 1114.9 L207.9 1115.5 L210.5 1115.5 L210.5 1116.1 L213 1116.1 L213 1116.7 L215.6 1116.7 L215.6 1117.3 L218.1 1117.3 L218.1 1117.9 L220.7 1117.9 L220.7 1118.4 L223.2 1118.4 L223.2 1119 L225.8 1119 L225.8 1119.6 L228.3 1119.6 L228.3 1120.2 L230.9 1120.2 L230.9 1120.8 L233.4 1120.8 L233.4 1121.4 L236 1121.4 L236 1122 L238.5 1122 L238.5 1122.6 L241.1 1122.6 L241.1 1123.7 L243.6 1123.7 L243.6 1124.9 L246.2 1124.9 L246.2 1126 L248.7 1126 L248.7 1127.2 L251.2 1127.2 L251.2 1128.3 L253.8 1128.3 L253.8 1129.4 L256.4 1129.4 L256.4 1130.6 L258.9 1130.6 L258.9 1131.7 L261.4 1131.7 L261.4 1132.9 L264 1132.9 L264 1134 L266.6 1134 L266.6 1135.3 L269.1 1135.3 L269.1 1136.6 L271.6 1136.6 L271.6 1137.8 L274.2 1137.8 L274.2 1139.1 L276.8 1139.1 L276.8 1140.4 L279.3 1140.4 L279.3 1141.7 L282 1141.7 L282 1142.2 L284.6 1142.2 L284.6 1142.7 L287.3 1142.7 L287.3 1143.2 L290 1143.2 L290 1143.6 L292.6 1143.6 L292.6 1144.1 L295.3 1144.1 L295.3 1144.6 L313.5 1144.6 L313.5 1147.2 L373.1 1147.2 L373.1 1142.8 L450.4 1142.8 L450.4 1142.8 L450.4 1227.5 L450.4 1227.5 L373.1 1227.5 L373.1 1195.6 L313.5 1195.6 L313.5 1185.4 L285.1 1185.4 L285.1 1179 L279.3 1179 L279.3 1176.6 L276.8 1176.6 L276.8 1174.2 L274.2 1174.2 L274.2 1171.8 L271.6 1171.8 L271.6 1169.5 L269.1 1169.5 L269.1 1167.1 L266.6 1167.1 L266.6 1164.7 L264 1164.7 L264 1163.7 L261.4 1163.7 L261.4 1162.7 L258.9 1162.7 L258.9 1161.6 L256.4 1161.6 L256.4 1160.6 L253.8 1160.6 L253.8 1159.6 L251.2 1159.6 L251.2 1158.6 L248.7 1158.6 L248.7 1157.6 L246.2 1157.6 L246.2 1156.5 L243.6 1156.5 L243.6 1155.5 L241.1 1155.5 L241.1 1154.5 L238.5 1154.5 L238.5 1153.7 L235.9 1153.7 L235.9 1153 L233.4 1153 L233.4 1152.2 L230.8 1152.2 L230.8 1151.4 L228.3 1151.4 L228.3 1150.7 L225.8 1150.7 L225.8 1149.9 L223.2 1149.9 L223.2 1149.1 L220.7 1149.1 L220.7 1148.3 L218.1 1148.3 L218.1 1147.6 L215.6 1147.6 L215.6 1146.8 L213 1146.8 L213 1145.8 L210.4 1145.8 L210.4 1144.8 L207.9 1144.8 L207.9 1143.7 L205.3 1143.7 L205.3 1142.7 L202.8 1142.7 L202.8 1141.7 L200.2 1141.7 L200.2 1140.7 L197.7 1140.7 L197.7 1139.7 L195.2 1139.7 L195.2 1138.6 L192.6 1138.6 L192.6 1137.6 L190.1 1137.6 L190.1 1136.6 L187.5 1136.6 L187.5 1135 L184.9 1135 L184.9 1133.4 L182.4 1133.4 L182.4 1131.8 L179.8 1131.8 L179.8 1130.2 L177.3 1130.2 L177.3 1128.7 L174.8 1128.7 L174.8 1127.1 L172.2 1127.1 L172.2 1125.5 L169.7 1125.5 L169.7 1123.9 L167.1 1123.9 L167.1 1122.8 L164.6 1122.8 L164.6 1121.7 L162 1121.7 L162 1120.6 L159.5 1120.6 L159.5 1119.5 L156.9 1119.5 L156.9 1118.4 L154.4 1118.4 L154.4 1117.3 L151.8 1117.3 L151.8 1116.2 L149.3 1116.2 L149.3 1113.1 L146.7 1113.1 L146.7 1110.1 L144.2 1110.1 L144.2 1107 L141.6 1107 L141.6 1104 L139.1 1104 L139.1 1100.9 L136.5 1100.9 L136.5 1099.9 L133.9 1099.9 L133.9 1098.9 L131.4 1098.9 L131.4 1097.8 L128.8 1097.8 L128.8 1096.8 L126.3 1096.8 L126.3 1095.8 L123.8 1095.8 L123.8 1094.8 L121.2 1094.8 L121.2 1093.8 L118.7 1093.8 L118.7 1092.7 L116.1 1092.7 L116.1 1091.7 L113.5 1091.7 L113.5 1090.7 L111 1090.7 L111 1089.1 L108.3 1089.1 L108.3 1087.5 L105.6 1087.5 L105.6 1085.9 L102.9 1085.9 L102.9 1084.3 L100.2 1084.3 L100.2 1082.8 L97.4 1082.8 L97.4 1081.2 L94.7 1081.2 L94.7 1079.6 L92 1079.6 L92 1078 L89.3 1078 Z" fill="#c10d0d" fill-opacity="0.31" stroke="none"/>
<path d="M89.3 1074.1 L92 1074.1 L92 1075.4 L94.7 1075.4 L94.7 1076.6 L97.4 1076.6 L97.4 1077.9 L100.2 1077.9 L100.2 1079.2 L102.9 1079.2 L102.9 1080.5 L105.6 1080.5 L105.6 1081.8 L108.3 1081.8 L108.3 1083 L111 1083 L111 1084.3 L113.5 1084.3 L113.5 1085.2 L116.1 1085.2 L116.1 1086.1 L118.7 1086.1 L118.7 1087 L121.2 1087 L121.2 1087.9 L123.8 1087.9 L123.8 1088.8 L126.3 1088.8 L126.3 1089.7 L128.8 1089.7 L128.8 1090.6 L131.4 1090.6 L131.4 1091.5 L133.9 1091.5 L133.9 1092.4 L136.5 1092.4 L136.5 1093.3 L139.1 1093.3 L139.1 1094.5 L141.6 1094.5 L141.6 1095.8 L144.1 1095.8 L144.1 1099 L146.7 1099 L146.7 1102.2 L149.3 1102.2 L149.3 1104.3 L151.8 1104.3 L151.8 1106.5 L154.4 1106.5 L154.4 1108.6 L156.9 1108.6 L156.9 1109.4 L159.5 1109.4 L159.5 1110.1 L162 1110.1 L162 1110.9 L164.6 1110.9 L164.6 1111.6 L167.1 1111.6 L167.1 1112.4 L169.7 1112.4 L169.7 1113.4 L172.2 1113.4 L172.2 1114.4 L174.8 1114.4 L174.8 1115.5 L177.3 1115.5 L177.3 1116.5 L179.9 1116.5 L179.9 1117.5 L182.4 1117.5 L182.4 1119.6 L185 1119.6 L185 1121.8 L187.5 1121.8 L187.5 1123.9 L190.1 1123.9 L190.1 1124.9 L192.6 1124.9 L192.6 1125.8 L195.2 1125.8 L195.2 1126.8 L197.7 1126.8 L197.7 1127.7 L200.2 1127.7 L200.2 1128.7 L202.8 1128.7 L202.8 1129.6 L205.3 1129.6 L205.3 1130.5 L207.9 1130.5 L207.9 1131.5 L210.5 1131.5 L210.5 1132.2 L213 1132.2 L213 1133 L215.6 1133 L215.6 1133.7 L218.1 1133.7 L218.1 1134.4 L220.7 1134.4 L220.7 1135.1 L223.2 1135.1 L223.2 1135.9 L225.8 1135.9 L225.8 1136.6 L228.4 1136.6 L228.4 1137.2 L230.9 1137.2 L230.9 1137.9 L233.4 1137.9 L233.4 1138.5 L236 1138.5 L236 1139.2 L238.6 1139.2 L238.6 1139.8 L241.1 1139.8 L241.1 1140.4 L243.6 1140.4 L243.6 1141.1 L246.2 1141.1 L246.2 1141.7 L248.7 1141.7 L248.7 1142.8 L251.3 1142.8 L251.3 1143.9 L253.8 1143.9 L253.8 1145 L256.4 1145 L256.4 1146.1 L258.9 1146.1 L258.9 1147.2 L261.5 1147.2 L261.5 1148.3 L264 1148.3 L264 1149.4 L266.6 1149.4 L266.6 1149.7 L269.1 1149.7 L269.1 1150 L271.6 1150 L271.6 1150.3 L274.2 1150.3 L274.2 1150.6 L276.8 1150.6 L276.8 1155.2 L279.3 1155.2 L279.3 1159.9 L282.2 1159.9 L282.2 1162.8 L285.1 1162.8 L285.1 1165.8 L313.2 1165.8 L313.2 1174 L373.1 1174 L373.1 1193.6 L450.4 1193.6 L450.4 1193.6" fill="none" stroke="#e01a1a" stroke-width="1.9"/>
<path d="M89.8 1074.1h4.4M92 1071.9v4.4M92.8 1076.6h4.4M95 1074.4v4.4M95.8 1077.9h4.4M98 1075.7v4.4M98.8 1079.2h4.4M101 1077v4.4M101.8 1080.5h4.4M104 1078.3v4.4M104.8 1081.8h4.4M107 1079.5v4.4M107.8 1083h4.4M110 1080.8v4.4M110.8 1084.3h4.4M113 1082.1v4.4M113.8 1085.2h4.4M116 1083v4.4M116.8 1087h4.4M119 1084.8v4.4M119.8 1087.9h4.4M122 1085.7v4.4M122.8 1088.8h4.4M125 1086.6v4.4M125.8 1089.7h4.4M128 1087.5v4.4M128.8 1090.6h4.4M131 1088.4v4.4M131.8 1092.4h4.4M134 1090.2v4.4M134.8 1093.3h4.4M137 1091.1v4.4M137.8 1094.5h4.4M140 1092.3v4.4M140.8 1095.8h4.4M143 1093.6v4.4M143.8 1099h4.4M146 1096.8v4.4M146.8 1102.2h4.4M149 1100v4.4M149.8 1106.5h4.4M152 1104.3v4.4M152.8 1108.6h4.4M155 1106.4v4.4M155.8 1109.4h4.4M158 1107.2v4.4M158.8 1110.1h4.4M161 1107.9v4.4M161.8 1110.9h4.4M164 1108.7v4.4M164.8 1111.6h4.4M167 1109.4v4.4M167.8 1113.4h4.4M170 1111.2v4.4M170.8 1114.4h4.4M173 1112.2v4.4M173.8 1115.5h4.4M176 1113.3v4.4M176.8 1116.5h4.4M179 1114.3v4.4M179.8 1117.5h4.4M182 1115.3v4.4M182.8 1121.8h4.4M185 1119.6v4.4M185.8 1123.9h4.4M188 1121.7v4.4M188.8 1124.9h4.4M191 1122.7v4.4M191.8 1125.8h4.4M194 1123.6v4.4M194.8 1126.8h4.4M197 1124.5v4.4M197.8 1127.7h4.4M200 1125.5v4.4M200.8 1129.6h4.4M203 1127.4v4.4M203.8 1130.5h4.4M206 1128.3v4.4M206.8 1131.5h4.4M209 1129.3v4.4M209.8 1132.2h4.4M212 1130v4.4M212.8 1133h4.4M215 1130.8v4.4M215.8 1133.7h4.4M218 1131.5v4.4M218.8 1135.1h4.4M221 1132.9v4.4M221.8 1135.9h4.4M224 1133.7v4.4M224.8 1136.6h4.4M227 1134.4v4.4M227.8 1137.2h4.4M230 1135v4.4M230.8 1137.9h4.4M233 1135.7v4.4M233.8 1139.2h4.4M236 1137v4.4M236.8 1139.8h4.4M239 1137.6v4.4M239.8 1140.4h4.4M242 1138.2v4.4M242.8 1141.1h4.4M245 1138.9v4.4M245.8 1141.7h4.4M248 1139.5v4.4M248.8 1142.8h4.4M251 1140.6v4.4M251.8 1145h4.4M254 1142.8v4.4M254.8 1146.1h4.4M257 1143.9v4.4M257.8 1147.2h4.4M260 1145v4.4M260.8 1148.3h4.4M263 1146.1v4.4M263.8 1149.4h4.4M266 1147.2v4.4M266.8 1149.7h4.4M269 1147.5v4.4M269.8 1150.3h4.4M272 1148.1v4.4M272.8 1150.6h4.4M275 1148.4v4.4M275.8 1155.2h4.4M278 1153v4.4M278.8 1159.9h4.4M281 1157.7v4.4M284.2 1165.8h4.4M286.4 1163.6v4.4M289.3 1165.8h4.4M291.5 1163.6v4.4M295.7 1165.8h4.4M297.9 1163.6v4.4M298.2 1165.8h4.4M300.4 1163.6v4.4M302 1165.8h4.4M304.2 1163.6v4.4M312.2 1174h4.4M314.4 1171.8v4.4M316.1 1174h4.4M318.3 1171.8v4.4M322.4 1174h4.4M324.6 1171.8v4.4M328.8 1174h4.4M331 1171.8v4.4M332.6 1174h4.4M334.8 1171.8v4.4M342.8 1174h4.4M345 1171.8v4.4M355.6 1174h4.4M357.8 1171.8v4.4M362 1174h4.4M364.2 1171.8v4.4M381.1 1193.6h4.4M383.3 1191.4v4.4M387.5 1193.6h4.4M389.7 1191.4v4.4M421.9 1193.6h4.4M424.1 1191.4v4.4M448.2 1193.6h4.4M450.4 1191.4v4.4" fill="none" stroke="#e01a1a" stroke-width="1.5"/>
<path d="M89.3 1072 L91.9 1072 L91.9 1072.3 L94.5 1072.3 L94.5 1072.7 L97.2 1072.7 L97.2 1073 L99.8 1073 L99.8 1073.3 L102.4 1073.3 L102.4 1073.7 L105 1073.7 L105 1074 L107.7 1074 L107.7 1074.3 L110.3 1074.3 L110.3 1074.7 L112.9 1074.7 L112.9 1075 L115.5 1075 L115.5 1075.3 L118.1 1075.3 L118.1 1075.7 L120.8 1075.7 L120.8 1076 L123.4 1076 L123.4 1076.3 L126 1076.3 L126 1076.7 L128.6 1076.7 L128.6 1077 L131.3 1077 L131.3 1077.3 L133.9 1077.3 L133.9 1077.7 L136.5 1077.7 L136.5 1078 L139.1 1078 L139.1 1078.3 L141.6 1078.3 L141.6 1078.7 L144.2 1078.7 L144.2 1079 L146.7 1079 L146.7 1079.4 L149.3 1079.4 L149.3 1079.7 L151.8 1079.7 L151.8 1080 L154.4 1080 L154.4 1080.4 L156.9 1080.4 L156.9 1080.7 L159.5 1080.7 L159.5 1081.1 L162 1081.1 L162 1081.4 L164.6 1081.4 L164.6 1081.7 L167.1 1081.7 L167.1 1082.1 L169.7 1082.1 L169.7 1082.4 L172.2 1082.4 L172.2 1082.8 L174.8 1082.8 L174.8 1083.1 L177.3 1083.1 L177.3 1083.8 L179.9 1083.8 L179.9 1084.5 L182.4 1084.5 L182.4 1085.1 L185 1085.1 L185 1085.8 L187.5 1085.8 L187.5 1086.5 L190.1 1086.5 L190.1 1087.2 L192.6 1087.2 L192.6 1087.9 L195.2 1087.9 L195.2 1088.5 L197.7 1088.5 L197.7 1089.2 L200.3 1089.2 L200.3 1089.9 L202.8 1089.9 L202.8 1090.6 L205.4 1090.6 L205.4 1091.3 L207.9 1091.3 L207.9 1091.9 L210.5 1091.9 L210.5 1092.6 L213 1092.6 L213 1093.3 L215.6 1093.3 L215.6 1093.9 L218.1 1093.9 L218.1 1094.6 L220.7 1094.6 L220.7 1095.2 L223.2 1095.2 L223.2 1095.8 L225.8 1095.8 L225.8 1096.5 L228.3 1096.5 L228.3 1097.1 L230.8 1097.1 L230.8 1097.8 L233.4 1097.8 L233.4 1098.4 L236 1098.4 L236 1099 L238.5 1099 L238.5 1099.7 L241.1 1099.7 L241.1 1100.3 L243.6 1100.3 L243.6 1101 L246.2 1101 L246.2 1101.6 L248.7 1101.6 L248.7 1102.2 L251.2 1102.2 L251.2 1102.9 L253.8 1102.9 L253.8 1103.5 L256.4 1103.5 L256.4 1106.7 L258.9 1106.7 L258.9 1109.8 L261.4 1109.8 L261.4 1110.6 L264 1110.6 L264 1111.4 L266.6 1111.4 L266.6 1112.2 L269.1 1112.2 L269.1 1113 L271.6 1113 L271.6 1113.8 L274.2 1113.8 L274.2 1114.6 L276.8 1114.6 L276.8 1115.4 L279.3 1115.4 L279.3 1116.2 L282.2 1116.2 L282.2 1120.2 L285.1 1120.2 L285.1 1124.2 L287.7 1124.2 L287.7 1125.5 L290.2 1125.5 L290.2 1126.8 L292.8 1126.8 L292.8 1128 L295.3 1128 L295.3 1129.3 L324.6 1129.3 L324.6 1133.2 L336.1 1133.2 L336.1 1137 L384.6 1137 L384.6 1138.8 L467.5 1138.8 L467.5 1138.8 L467.5 1204.6 L467.5 1204.6 L384.6 1204.6 L384.6 1185.4 L336.1 1185.4 L336.1 1177.8 L324.6 1177.8 L324.6 1174 L313.5 1174 L313.5 1171.4 L285.1 1171.4 L285.1 1162.8 L282.3 1162.8 L282.3 1154.1 L279.6 1154.1 L279.6 1145.5 L276.8 1145.5 L276.8 1143.4 L274.2 1143.4 L274.2 1141.4 L271.7 1141.4 L271.7 1139.3 L269.1 1139.3 L269.1 1137.2 L266.6 1137.2 L266.6 1135.2 L264.1 1135.2 L264.1 1133.1 L261.5 1133.1 L261.5 1131.1 L258.9 1131.1 L258.9 1129 L256.4 1129 L256.4 1128.4 L253.8 1128.4 L253.8 1127.9 L251.3 1127.9 L251.3 1127.3 L248.7 1127.3 L248.7 1126.8 L246.2 1126.8 L246.2 1126.2 L243.6 1126.2 L243.6 1125.7 L241.1 1125.7 L241.1 1125.1 L238.5 1125.1 L238.5 1124.3 L235.9 1124.3 L235.9 1123.6 L233.4 1123.6 L233.4 1122.8 L230.8 1122.8 L230.8 1122.1 L228.3 1122.1 L228.3 1121.3 L225.8 1121.3 L225.8 1120.5 L223.2 1120.5 L223.2 1119.8 L220.7 1119.8 L220.7 1119 L218.1 1119 L218.1 1118.3 L215.6 1118.3 L215.6 1117.5 L213 1117.5 L213 1116.6 L210.5 1116.6 L210.5 1115.6 L207.9 1115.6 L207.9 1114.7 L205.4 1114.7 L205.4 1113.8 L202.8 1113.8 L202.8 1112.8 L200.3 1112.8 L200.3 1111.9 L197.7 1111.9 L197.7 1111 L195.2 1111 L195.2 1110 L192.6 1110 L192.6 1109.1 L190.1 1109.1 L190.1 1108.2 L187.5 1108.2 L187.5 1107.2 L185 1107.2 L185 1106.3 L182.4 1106.3 L182.4 1105.4 L179.9 1105.4 L179.9 1104.4 L177.3 1104.4 L177.3 1103.5 L174.8 1103.5 L174.8 1102.6 L172.2 1102.6 L172.2 1101.8 L169.7 1101.8 L169.7 1100.9 L167.1 1100.9 L167.1 1100.1 L164.6 1100.1 L164.6 1099.2 L162 1099.2 L162 1098.4 L159.5 1098.4 L159.5 1097.5 L156.9 1097.5 L156.9 1096.7 L154.4 1096.7 L154.4 1095.8 L151.8 1095.8 L151.8 1095 L149.3 1095 L149.3 1094.1 L146.7 1094.1 L146.7 1093.3 L144.2 1093.3 L144.2 1092.4 L141.6 1092.4 L141.6 1091.6 L139.1 1091.6 L139.1 1090.7 L136.5 1090.7 L136.5 1089.9 L133.9 1089.9 L133.9 1089.1 L131.3 1089.1 L131.3 1088.2 L128.6 1088.2 L128.6 1087.4 L126 1087.4 L126 1086.6 L123.4 1086.6 L123.4 1085.8 L120.8 1085.8 L120.8 1085 L118.1 1085 L118.1 1084.2 L115.5 1084.2 L115.5 1083.3 L112.9 1083.3 L112.9 1082.5 L110.3 1082.5 L110.3 1081.7 L107.7 1081.7 L107.7 1080.9 L105 1080.9 L105 1080.1 L102.4 1080.1 L102.4 1079.3 L99.8 1079.3 L99.8 1078.5 L97.2 1078.5 L97.2 1077.6 L94.5 1077.6 L94.5 1076.8 L91.9 1076.8 L91.9 1076 L89.3 1076 Z" fill="#0707ef" fill-opacity="0.31" stroke="none"/>
<path d="M89.3 1074.1 L92 1074.1 L92 1074.7 L94.7 1074.7 L94.7 1075.4 L97.4 1075.4 L97.4 1076 L100.2 1076 L100.2 1076.7 L102.9 1076.7 L102.9 1077.3 L105.6 1077.3 L105.6 1077.9 L108.3 1077.9 L108.3 1078.6 L111 1078.6 L111 1079.2 L113.5 1079.2 L113.5 1079.6 L116.1 1079.6 L116.1 1080 L118.7 1080 L118.7 1080.4 L121.2 1080.4 L121.2 1080.8 L123.8 1080.8 L123.8 1081.2 L126.3 1081.2 L126.3 1081.5 L128.8 1081.5 L128.8 1081.9 L131.4 1081.9 L131.4 1082.3 L133.9 1082.3 L133.9 1082.7 L136.5 1082.7 L136.5 1083.1 L139.1 1083.1 L139.1 1083.9 L141.6 1083.9 L141.6 1084.6 L144.2 1084.6 L144.2 1085.4 L146.7 1085.4 L146.7 1086.1 L149.2 1086.1 L149.2 1086.9 L151.8 1086.9 L151.8 1087.7 L154.3 1087.7 L154.3 1088.4 L156.9 1088.4 L156.9 1089.2 L159.4 1089.2 L159.4 1089.9 L162 1089.9 L162 1090.7 L164.6 1090.7 L164.6 1091.3 L167.1 1091.3 L167.1 1092 L169.7 1092 L169.7 1092.6 L172.2 1092.6 L172.2 1093.3 L174.8 1093.3 L174.8 1093.9 L177.3 1093.9 L177.3 1094.5 L179.8 1094.5 L179.8 1095.2 L182.4 1095.2 L182.4 1095.8 L184.9 1095.8 L184.9 1096.5 L187.5 1096.5 L187.5 1097.1 L190.1 1097.1 L190.1 1097.6 L192.6 1097.6 L192.6 1098 L195.2 1098 L195.2 1098.5 L197.7 1098.5 L197.7 1099 L200.2 1099 L200.2 1099.5 L202.8 1099.5 L202.8 1100 L205.3 1100 L205.3 1100.4 L207.9 1100.4 L207.9 1100.9 L210.4 1100.9 L210.4 1101.8 L213 1101.8 L213 1102.6 L215.6 1102.6 L215.6 1103.5 L218.1 1103.5 L218.1 1104.3 L220.6 1104.3 L220.6 1105.2 L223.2 1105.2 L223.2 1106 L225.8 1106 L225.8 1106.8 L228.3 1106.8 L228.3 1107.7 L230.8 1107.7 L230.8 1108.5 L233.4 1108.5 L233.4 1109.4 L235.9 1109.4 L235.9 1110.2 L238.5 1110.2 L238.5 1111.1 L241.3 1111.1 L241.3 1112 L244.1 1112 L244.1 1112.9 L246.9 1112.9 L246.9 1113.9 L249.7 1113.9 L249.7 1114.8 L252.5 1114.8 L252.5 1115.7 L255.1 1115.7 L255.1 1118.5 L257.7 1118.5 L257.7 1121.3 L260.9 1121.3 L260.9 1123.2 L264 1123.2 L264 1125.1 L266.6 1125.1 L266.6 1126.4 L269.1 1126.4 L269.1 1127.7 L271.7 1127.7 L271.7 1128.9 L274.2 1128.9 L274.2 1130.2 L276.8 1130.2 L276.8 1131.5 L280 1131.5 L280 1138.3 L282.6 1138.3 L282.6 1140.8 L285.1 1140.8 L285.1 1143.4 L287.7 1143.4 L287.7 1144.7 L290.2 1144.7 L290.2 1145.9 L292.8 1145.9 L292.8 1147.2 L295.4 1147.2 L295.4 1149.8 L297.9 1149.8 L297.9 1152.3 L323.4 1152.3 L323.4 1157.4 L336.1 1157.4 L336.1 1163 L384.6 1163 L384.6 1175.7 L467.5 1175.7 L467.5 1175.7" fill="none" stroke="#1a1ae0" stroke-width="1.9"/>
<path d="M89.8 1074.1h4.4M92 1071.9v4.4M92.8 1075.4h4.4M95 1073.2v4.4M95.8 1076h4.4M98 1073.8v4.4M98.8 1076.7h4.4M101 1074.5v4.4M101.8 1077.3h4.4M104 1075.1v4.4M104.8 1077.9h4.4M107 1075.7v4.4M107.8 1078.6h4.4M110 1076.4v4.4M110.8 1079.2h4.4M113 1077v4.4M113.8 1079.6h4.4M116 1077.4v4.4M116.8 1080.4h4.4M119 1078.2v4.4M119.8 1080.8h4.4M122 1078.6v4.4M122.8 1081.2h4.4M125 1079v4.4M125.8 1081.5h4.4M128 1079.3v4.4M128.8 1081.9h4.4M131 1079.7v4.4M131.8 1082.7h4.4M134 1080.5v4.4M134.8 1083.1h4.4M137 1080.9v4.4M137.8 1083.9h4.4M140 1081.7v4.4M140.8 1084.6h4.4M143 1082.4v4.4M143.8 1085.4h4.4M146 1083.2v4.4M146.8 1086.1h4.4M149 1083.9v4.4M149.8 1087.7h4.4M152 1085.5v4.4M152.8 1088.4h4.4M155 1086.2v4.4M155.8 1089.2h4.4M158 1087v4.4M158.8 1089.9h4.4M161 1087.7v4.4M161.8 1090.7h4.4M164 1088.5v4.4M164.8 1091.3h4.4M167 1089.1v4.4M167.8 1092.6h4.4M170 1090.4v4.4M170.8 1093.3h4.4M173 1091.1v4.4M173.8 1093.9h4.4M176 1091.7v4.4M176.8 1094.5h4.4M179 1092.3v4.4M179.8 1095.2h4.4M182 1093v4.4M182.8 1096.5h4.4M185 1094.3v4.4M185.8 1097.1h4.4M188 1094.9v4.4M188.8 1097.6h4.4M191 1095.4v4.4M191.8 1098h4.4M194 1095.8v4.4M194.8 1098.5h4.4M197 1096.3v4.4M197.8 1099h4.4M200 1096.8v4.4M200.8 1100h4.4M203 1097.8v4.4M203.8 1100.4h4.4M206 1098.2v4.4M206.8 1100.9h4.4M209 1098.7v4.4M209.8 1101.8h4.4M212 1099.5v4.4M212.8 1102.6h4.4M215 1100.4v4.4M215.8 1103.5h4.4M218 1101.2v4.4M218.8 1105.2h4.4M221 1103v4.4M221.8 1106h4.4M224 1103.8v4.4M224.8 1106.8h4.4M227 1104.6v4.4M227.8 1107.7h4.4M230 1105.5v4.4M230.8 1108.5h4.4M233 1106.3v4.4M233.8 1110.2h4.4M236 1108v4.4M236.8 1111.1h4.4M239 1108.9v4.4M239.8 1112h4.4M242 1109.8v4.4M242.8 1112.9h4.4M245 1110.7v4.4M245.8 1113.9h4.4M248 1111.7v4.4M248.8 1114.8h4.4M251 1112.6v4.4M251.8 1115.7h4.4M254 1113.5v4.4M254.8 1118.5h4.4M257 1116.3v4.4M257.8 1121.3h4.4M260 1119.1v4.4M260.8 1123.2h4.4M263 1121v4.4M263.8 1125.1h4.4M266 1122.9v4.4M266.8 1126.4h4.4M269 1124.2v4.4M269.8 1128.9h4.4M272 1126.7v4.4M272.8 1130.2h4.4M275 1128v4.4M275.8 1131.5h4.4M278 1129.3v4.4M278.8 1138.3h4.4M281 1136.1v4.4M281.8 1140.8h4.4M284 1138.6v4.4M284.8 1143.4h4.4M287 1141.2v4.4M287.8 1144.7h4.4M290 1142.5v4.4M290.8 1147.2h4.4M293 1145v4.4M295.7 1152.3h4.4M297.9 1150.1v4.4M299.5 1152.3h4.4M301.7 1150.1v4.4M312.2 1152.3h4.4M314.4 1150.1v4.4M314.8 1152.3h4.4M317 1150.1v4.4M335.2 1163h4.4M337.4 1160.8v4.4M339 1163h4.4M341.2 1160.8v4.4M353 1163h4.4M355.2 1160.8v4.4M358.1 1163h4.4M360.3 1160.8v4.4M360.7 1163h4.4M362.9 1160.8v4.4M369.6 1163h4.4M371.8 1160.8v4.4M372.2 1163h4.4M374.4 1160.8v4.4M378.5 1163h4.4M380.7 1160.8v4.4M387.5 1175.7h4.4M389.7 1173.5v4.4M393.8 1175.7h4.4M396 1173.5v4.4M396.4 1175.7h4.4M398.6 1173.5v4.4M410.4 1175.7h4.4M412.6 1173.5v4.4M420.6 1175.7h4.4M422.8 1173.5v4.4M441 1175.7h4.4M443.2 1173.5v4.4M465.3 1175.7h4.4M467.5 1173.5v4.4" fill="none" stroke="#1a1ae0" stroke-width="1.5"/>
<line x1="69.7" y1="1063.5" x2="69.7" y2="1306" stroke="#333" stroke-width="1.1"/>
<line x1="69.7" y1="1306" x2="507" y2="1306" stroke="#333" stroke-width="1.1"/>
<line x1="66.2" y1="1074.2" x2="69.7" y2="1074.2" stroke="#333" stroke-width="1"/>
<text x="63.7" y="1078.7" text-anchor="end" font-size="13.2" fill="#1a1a1a" textLength="22" lengthAdjust="spacingAndGlyphs">1.00</text>
<line x1="66.2" y1="1129.2" x2="69.7" y2="1129.2" stroke="#333" stroke-width="1"/>
<text x="63.7" y="1133.7" text-anchor="end" font-size="13.2" fill="#1a1a1a" textLength="22" lengthAdjust="spacingAndGlyphs">0.75</text>
<line x1="66.2" y1="1184.1" x2="69.7" y2="1184.1" stroke="#333" stroke-width="1"/>
<text x="63.7" y="1188.6" text-anchor="end" font-size="13.2" fill="#1a1a1a" textLength="22" lengthAdjust="spacingAndGlyphs">0.50</text>
<line x1="66.2" y1="1239" x2="69.7" y2="1239" stroke="#333" stroke-width="1"/>
<text x="63.7" y="1243.6" text-anchor="end" font-size="13.2" fill="#1a1a1a" textLength="22" lengthAdjust="spacingAndGlyphs">0.25</text>
<line x1="66.2" y1="1294" x2="69.7" y2="1294" stroke="#333" stroke-width="1"/>
<text x="63.7" y="1298.5" text-anchor="end" font-size="13.2" fill="#1a1a1a" textLength="22" lengthAdjust="spacingAndGlyphs">0.00</text>
<line x1="88.4" y1="1306" x2="88.4" y2="1310" stroke="#333" stroke-width="1"/>
<text x="88.4" y="1319.5" text-anchor="middle" font-size="13.2" fill="#1a1a1a" textLength="7" lengthAdjust="spacingAndGlyphs">0</text>
<line x1="154.7" y1="1306" x2="154.7" y2="1310" stroke="#333" stroke-width="1"/>
<text x="154.7" y="1319.5" text-anchor="middle" font-size="13.2" fill="#1a1a1a" textLength="7" lengthAdjust="spacingAndGlyphs">1</text>
<line x1="221" y1="1306" x2="221" y2="1310" stroke="#333" stroke-width="1"/>
<text x="221" y="1319.5" text-anchor="middle" font-size="13.2" fill="#1a1a1a" textLength="7" lengthAdjust="spacingAndGlyphs">2</text>
<line x1="287.3" y1="1306" x2="287.3" y2="1310" stroke="#333" stroke-width="1"/>
<text x="287.3" y="1319.5" text-anchor="middle" font-size="13.2" fill="#1a1a1a" textLength="7" lengthAdjust="spacingAndGlyphs">3</text>
<line x1="353.6" y1="1306" x2="353.6" y2="1310" stroke="#333" stroke-width="1"/>
<text x="353.6" y="1319.5" text-anchor="middle" font-size="13.2" fill="#1a1a1a" textLength="7" lengthAdjust="spacingAndGlyphs">4</text>
<line x1="419.9" y1="1306" x2="419.9" y2="1310" stroke="#333" stroke-width="1"/>
<text x="419.9" y="1319.5" text-anchor="middle" font-size="13.2" fill="#1a1a1a" textLength="7" lengthAdjust="spacingAndGlyphs">5</text>
<line x1="486.2" y1="1306" x2="486.2" y2="1310" stroke="#333" stroke-width="1"/>
<text x="486.2" y="1319.5" text-anchor="middle" font-size="13.2" fill="#1a1a1a" textLength="7" lengthAdjust="spacingAndGlyphs">6</text>
<text x="287.5" y="1342.5" text-anchor="middle" font-size="13.2" fill="#1a1a1a" textLength="66" lengthAdjust="spacingAndGlyphs">Time(yeaes)</text>
<text transform="translate(9.6,1180) rotate(-90)" x="0" y="4.1" text-anchor="middle" font-size="12" fill="#1a1a1a" textLength="108" lengthAdjust="spacingAndGlyphs">Survival probability</text>
<text x="96.7" y="1257.5" text-anchor="start" font-size="13.2" fill="#1a1a1a" textLength="44.7" lengthAdjust="spacingAndGlyphs">P=0.015</text>
<text x="201" y="1042.5" text-anchor="start" font-size="13" fill="#1a1a1a" textLength="22" lengthAdjust="spacingAndGlyphs">Risk</text>
<rect x="244.5" y="1029.5" width="16.5" height="16.5" fill="#f2b1b1"/>
<line x1="246" y1="1038" x2="259.5" y2="1038" stroke="#e01a1a" stroke-width="1.8"/>
<line x1="252.7" y1="1035" x2="252.7" y2="1041" stroke="#e01a1a" stroke-width="1.2"/>
<text x="267" y="1042.5" text-anchor="start" font-size="13" fill="#1a1a1a" textLength="49" lengthAdjust="spacingAndGlyphs">High risk</text>
<rect x="324.5" y="1029.5" width="16.5" height="16.5" fill="#b4b4fb"/>
<line x1="326" y1="1038" x2="339.5" y2="1038" stroke="#1a1ae0" stroke-width="1.8"/>
<line x1="332.7" y1="1035" x2="332.7" y2="1041" stroke="#1a1ae0" stroke-width="1.2"/>
<text x="349" y="1042.5" text-anchor="start" font-size="13" fill="#1a1a1a" textLength="45" lengthAdjust="spacingAndGlyphs">Low risk</text>
<line x1="69.7" y1="1351" x2="69.7" y2="1405.5" stroke="#333" stroke-width="1.1"/>
<line x1="69.7" y1="1405.5" x2="507" y2="1405.5" stroke="#333" stroke-width="1.1"/>
<line x1="66.2" y1="1366" x2="69.7" y2="1366" stroke="#333" stroke-width="1"/>
<line x1="66.2" y1="1389" x2="69.7" y2="1389" stroke="#333" stroke-width="1"/>
<text x="65" y="1370.5" text-anchor="end" font-size="13.2" fill="#d8161b" textLength="48.5" lengthAdjust="spacingAndGlyphs">High risk</text>
<text x="17" y="1393.5" text-anchor="start" font-size="13.2" fill="#1a1a9c" textLength="22" lengthAdjust="spacingAndGlyphs">Low</text>
<text x="65" y="1393.5" text-anchor="end" font-size="13.2" fill="#1a1a9c" textLength="19.5" lengthAdjust="spacingAndGlyphs">risk</text>
<text transform="translate(9.5,1378.3) rotate(-90)" x="0" y="4.7" text-anchor="middle" font-size="13.6" fill="#1a1a1a" textLength="21.5" lengthAdjust="spacingAndGlyphs">Risk</text>
<text x="91.2" y="1371.5" text-anchor="middle" font-size="13.2" fill="#d8161b" textLength="20.9" lengthAdjust="spacingAndGlyphs">199</text>
<text x="154" y="1371.5" text-anchor="middle" font-size="13.2" fill="#d8161b" textLength="20.9" lengthAdjust="spacingAndGlyphs">157</text>
<text x="221" y="1371.5" text-anchor="middle" font-size="13.2" fill="#d8161b" textLength="20.9" lengthAdjust="spacingAndGlyphs">105</text>
<text x="287.3" y="1371.5" text-anchor="middle" font-size="13.2" fill="#d8161b" textLength="13.9" lengthAdjust="spacingAndGlyphs">26</text>
<text x="352.5" y="1371.5" text-anchor="middle" font-size="13.2" fill="#d8161b" textLength="7" lengthAdjust="spacingAndGlyphs">8</text>
<text x="421" y="1371.5" text-anchor="middle" font-size="13.2" fill="#d8161b" textLength="7" lengthAdjust="spacingAndGlyphs">2</text>
<text x="486.2" y="1371.5" text-anchor="middle" font-size="13.2" fill="#d8161b" textLength="7" lengthAdjust="spacingAndGlyphs">0</text>
<text x="91.2" y="1393.5" text-anchor="middle" font-size="13.2" fill="#1a1a9c" textLength="20.9" lengthAdjust="spacingAndGlyphs">199</text>
<text x="154" y="1393.5" text-anchor="middle" font-size="13.2" fill="#1a1a9c" textLength="20.9" lengthAdjust="spacingAndGlyphs">175</text>
<text x="221" y="1393.5" text-anchor="middle" font-size="13.2" fill="#1a1a9c" textLength="20.9" lengthAdjust="spacingAndGlyphs">137</text>
<text x="287.3" y="1393.5" text-anchor="middle" font-size="13.2" fill="#1a1a9c" textLength="13.9" lengthAdjust="spacingAndGlyphs">42</text>
<text x="352.5" y="1393.5" text-anchor="middle" font-size="13.2" fill="#1a1a9c" textLength="13.9" lengthAdjust="spacingAndGlyphs">21</text>
<text x="421" y="1393.5" text-anchor="middle" font-size="13.2" fill="#1a1a9c" textLength="7" lengthAdjust="spacingAndGlyphs">3</text>
<text x="486.2" y="1393.5" text-anchor="middle" font-size="13.2" fill="#1a1a9c" textLength="7" lengthAdjust="spacingAndGlyphs">0</text>
<line x1="88.4" y1="1405.5" x2="88.4" y2="1409.5" stroke="#333" stroke-width="1"/>
<text x="88.4" y="1418.8" text-anchor="middle" font-size="13.2" fill="#1a1a1a" textLength="7" lengthAdjust="spacingAndGlyphs">0</text>
<line x1="154.7" y1="1405.5" x2="154.7" y2="1409.5" stroke="#333" stroke-width="1"/>
<text x="154.7" y="1418.8" text-anchor="middle" font-size="13.2" fill="#1a1a1a" textLength="7" lengthAdjust="spacingAndGlyphs">1</text>
<line x1="221" y1="1405.5" x2="221" y2="1409.5" stroke="#333" stroke-width="1"/>
<text x="221" y="1418.8" text-anchor="middle" font-size="13.2" fill="#1a1a1a" textLength="7" lengthAdjust="spacingAndGlyphs">2</text>
<line x1="287.3" y1="1405.5" x2="287.3" y2="1409.5" stroke="#333" stroke-width="1"/>
<text x="287.3" y="1418.8" text-anchor="middle" font-size="13.2" fill="#1a1a1a" textLength="7" lengthAdjust="spacingAndGlyphs">3</text>
<line x1="353.6" y1="1405.5" x2="353.6" y2="1409.5" stroke="#333" stroke-width="1"/>
<text x="353.6" y="1418.8" text-anchor="middle" font-size="13.2" fill="#1a1a1a" textLength="7" lengthAdjust="spacingAndGlyphs">4</text>
<line x1="419.9" y1="1405.5" x2="419.9" y2="1409.5" stroke="#333" stroke-width="1"/>
<text x="419.9" y="1418.8" text-anchor="middle" font-size="13.2" fill="#1a1a1a" textLength="7" lengthAdjust="spacingAndGlyphs">5</text>
<line x1="486.2" y1="1405.5" x2="486.2" y2="1409.5" stroke="#333" stroke-width="1"/>
<text x="486.2" y="1418.8" text-anchor="middle" font-size="13.2" fill="#1a1a1a" textLength="7" lengthAdjust="spacingAndGlyphs">6</text>
<text x="287.5" y="1440.9" text-anchor="middle" font-size="13.2" fill="#1a1a1a" textLength="66" lengthAdjust="spacingAndGlyphs">Time(yeaes)</text>
<line x1="753.5" y1="11.7" x2="753.5" y2="426.5" stroke="#444" stroke-width="0.9" stroke-dasharray="2,2"/>
<line x1="571.2" y1="341.7" x2="936.7" y2="341.7" stroke="#444" stroke-width="0.9" stroke-dasharray="2,2"/>
<g fill="#d81818"><circle cx="596" cy="127.5" r="2.0"/><circle cx="661.7" cy="158.4" r="2.0"/><circle cx="663" cy="141.5" r="2.0"/><circle cx="650" cy="158.4" r="2.0"/><circle cx="713.7" cy="158.4" r="2.0"/><circle cx="733.4" cy="122.8" r="2.0"/><circle cx="745.5" cy="79.7" r="2.0"/><circle cx="766.2" cy="141.5" r="2.0"/><circle cx="844.4" cy="149" r="2.0"/><circle cx="640.6" cy="150" r="2.0"/><circle cx="700" cy="150" r="2.0"/><circle cx="725" cy="158" r="2.0"/><circle cx="690" cy="160" r="2.0"/><circle cx="805" cy="156" r="2.0"/><circle cx="590.7" cy="209.4" r="2.0"/><circle cx="592.6" cy="204.6" r="2.0"/><circle cx="593.3" cy="201.4" r="2.0"/><circle cx="594.4" cy="173" r="2.0"/><circle cx="595.7" cy="181.7" r="2.0"/><circle cx="596.6" cy="184.5" r="2.0"/><circle cx="599.4" cy="195.7" r="2.0"/><circle cx="601.6" cy="198.2" r="2.0"/><circle cx="609.5" cy="182.6" r="2.0"/><circle cx="614.2" cy="181.5" r="2.0"/><circle cx="620.2" cy="204.6" r="2.0"/><circle cx="620.7" cy="208.2" r="2.0"/><circle cx="625.9" cy="197.3" r="2.0"/><circle cx="626.7" cy="175.7" r="2.0"/><circle cx="627.9" cy="178.8" r="2.0"/><circle cx="630.2" cy="180.3" r="2.0"/><circle cx="636.9" cy="204.3" r="2.0"/><circle cx="638.1" cy="194.2" r="2.0"/><circle cx="638.7" cy="199.6" r="2.0"/><circle cx="640.7" cy="203" r="2.0"/><circle cx="641.7" cy="200.6" r="2.0"/><circle cx="641.9" cy="210" r="2.0"/><circle cx="642.6" cy="190.6" r="2.0"/><circle cx="643.8" cy="192.3" r="2.0"/><circle cx="644.8" cy="202.8" r="2.0"/><circle cx="648.3" cy="208.6" r="2.0"/><circle cx="651.8" cy="189.7" r="2.0"/><circle cx="656.7" cy="204.1" r="2.0"/><circle cx="657.5" cy="170.6" r="2.0"/><circle cx="659.7" cy="196.6" r="2.0"/><circle cx="665.1" cy="189.7" r="2.0"/><circle cx="667.4" cy="192" r="2.0"/><circle cx="668" cy="203.4" r="2.0"/><circle cx="669" cy="198.3" r="2.0"/><circle cx="669.6" cy="159.9" r="2.0"/><circle cx="672.6" cy="199.8" r="2.0"/><circle cx="674.8" cy="189.7" r="2.0"/><circle cx="677.9" cy="184.1" r="2.0"/><circle cx="678.7" cy="197.2" r="2.0"/><circle cx="680.6" cy="178.5" r="2.0"/><circle cx="689.2" cy="205.4" r="2.0"/><circle cx="691.2" cy="204.6" r="2.0"/><circle cx="694.2" cy="193.3" r="2.0"/><circle cx="695.3" cy="207.6" r="2.0"/><circle cx="697.3" cy="185.2" r="2.0"/><circle cx="701.7" cy="193.4" r="2.0"/><circle cx="703.2" cy="208.1" r="2.0"/><circle cx="707.3" cy="190.7" r="2.0"/><circle cx="708.8" cy="200.9" r="2.0"/><circle cx="711.8" cy="188.7" r="2.0"/><circle cx="718.7" cy="204.1" r="2.0"/><circle cx="721.4" cy="188.4" r="2.0"/><circle cx="723.8" cy="201.6" r="2.0"/><circle cx="727.1" cy="164.3" r="2.0"/><circle cx="731.5" cy="177.9" r="2.0"/><circle cx="736.3" cy="194.7" r="2.0"/><circle cx="738.2" cy="194.9" r="2.0"/><circle cx="741.2" cy="196.1" r="2.0"/><circle cx="741.9" cy="208" r="2.0"/><circle cx="742.5" cy="178.9" r="2.0"/><circle cx="744.7" cy="200.3" r="2.0"/><circle cx="745" cy="184.6" r="2.0"/><circle cx="750.8" cy="200.2" r="2.0"/><circle cx="751.7" cy="194.5" r="2.0"/><circle cx="752.4" cy="200.7" r="2.0"/><circle cx="753.6" cy="179.4" r="2.0"/><circle cx="756.4" cy="166.8" r="2.0"/><circle cx="760.2" cy="202.2" r="2.0"/><circle cx="762.8" cy="200.6" r="2.0"/><circle cx="764" cy="175.9" r="2.0"/><circle cx="765.3" cy="191" r="2.0"/><circle cx="766" cy="197.4" r="2.0"/><circle cx="766.5" cy="198.2" r="2.0"/><circle cx="768.6" cy="208.7" r="2.0"/><circle cx="769.3" cy="194" r="2.0"/><circle cx="769.8" cy="195.4" r="2.0"/><circle cx="771.3" cy="195.5" r="2.0"/><circle cx="772" cy="206.3" r="2.0"/><circle cx="773.7" cy="207.8" r="2.0"/><circle cx="773.9" cy="203.1" r="2.0"/><circle cx="774.8" cy="209.3" r="2.0"/><circle cx="776.5" cy="186.3" r="2.0"/><circle cx="777.9" cy="212.1" r="2.0"/><circle cx="780.7" cy="197.9" r="2.0"/><circle cx="781.2" cy="203.2" r="2.0"/><circle cx="783.7" cy="185.4" r="2.0"/><circle cx="784.9" cy="208.9" r="2.0"/><circle cx="786.4" cy="200.4" r="2.0"/><circle cx="787" cy="211.7" r="2.0"/><circle cx="788.4" cy="210.8" r="2.0"/><circle cx="789.1" cy="181.9" r="2.0"/><circle cx="789.6" cy="199.6" r="2.0"/><circle cx="790.1" cy="195.4" r="2.0"/><circle cx="791.5" cy="194.3" r="2.0"/><circle cx="796.4" cy="180.2" r="2.0"/><circle cx="797.3" cy="201.5" r="2.0"/><circle cx="797.6" cy="202.4" r="2.0"/><circle cx="798.2" cy="205.2" r="2.0"/><circle cx="799.8" cy="196.4" r="2.0"/><circle cx="801.2" cy="181" r="2.0"/><circle cx="802.4" cy="172.4" r="2.0"/><circle cx="803.2" cy="209.5" r="2.0"/><circle cx="803.6" cy="187.1" r="2.0"/><circle cx="804.4" cy="188.2" r="2.0"/><circle cx="807.7" cy="198.8" r="2.0"/><circle cx="808.2" cy="183" r="2.0"/><circle cx="809.5" cy="199.9" r="2.0"/><circle cx="811.2" cy="190.7" r="2.0"/><circle cx="811.8" cy="191.6" r="2.0"/><circle cx="812.6" cy="191.9" r="2.0"/><circle cx="814.8" cy="204.1" r="2.0"/><circle cx="815.4" cy="191.9" r="2.0"/><circle cx="815.6" cy="199.6" r="2.0"/><circle cx="816.5" cy="204.9" r="2.0"/><circle cx="817.3" cy="209.4" r="2.0"/><circle cx="819.2" cy="173.7" r="2.0"/><circle cx="820.8" cy="185.8" r="2.0"/><circle cx="821.1" cy="201.8" r="2.0"/><circle cx="822" cy="201.3" r="2.0"/><circle cx="823.1" cy="181.7" r="2.0"/><circle cx="824" cy="202.1" r="2.0"/><circle cx="825.6" cy="205.9" r="2.0"/><circle cx="826.5" cy="205" r="2.0"/><circle cx="828" cy="181.6" r="2.0"/><circle cx="828.9" cy="198.2" r="2.0"/><circle cx="830.4" cy="199.6" r="2.0"/><circle cx="831.1" cy="196.8" r="2.0"/><circle cx="832" cy="193.9" r="2.0"/><circle cx="834.2" cy="192.8" r="2.0"/><circle cx="835.5" cy="203.8" r="2.0"/><circle cx="835.9" cy="187" r="2.0"/><circle cx="837.3" cy="199.1" r="2.0"/><circle cx="839.6" cy="211" r="2.0"/><circle cx="840" cy="206.6" r="2.0"/><circle cx="841.3" cy="207" r="2.0"/><circle cx="843.2" cy="173.4" r="2.0"/><circle cx="844.3" cy="203.4" r="2.0"/><circle cx="845.7" cy="188.7" r="2.0"/><circle cx="845.9" cy="196.1" r="2.0"/><circle cx="846.5" cy="195.5" r="2.0"/><circle cx="847.4" cy="208.5" r="2.0"/><circle cx="848.8" cy="203.2" r="2.0"/><circle cx="849.5" cy="208.9" r="2.0"/><circle cx="850" cy="210.1" r="2.0"/><circle cx="851.1" cy="190.1" r="2.0"/><circle cx="851.2" cy="204" r="2.0"/><circle cx="852.4" cy="199.1" r="2.0"/><circle cx="853.8" cy="196.8" r="2.0"/><circle cx="854.3" cy="198.7" r="2.0"/><circle cx="858" cy="205" r="2.0"/><circle cx="858.6" cy="185.1" r="2.0"/><circle cx="860.2" cy="200" r="2.0"/><circle cx="863.2" cy="188.2" r="2.0"/><circle cx="863.6" cy="205.6" r="2.0"/><circle cx="865.1" cy="181.2" r="2.0"/><circle cx="865.8" cy="207.8" r="2.0"/><circle cx="866.3" cy="201.8" r="2.0"/><circle cx="868.3" cy="192.3" r="2.0"/><circle cx="868.8" cy="202.7" r="2.0"/><circle cx="869.9" cy="181.1" r="2.0"/><circle cx="870.4" cy="170.1" r="2.0"/><circle cx="871" cy="193.6" r="2.0"/><circle cx="875.8" cy="203.8" r="2.0"/><circle cx="876.9" cy="176.8" r="2.0"/><circle cx="877.9" cy="212.2" r="2.0"/><circle cx="878.4" cy="207.9" r="2.0"/><circle cx="880.3" cy="203.7" r="2.0"/><circle cx="882.5" cy="186.6" r="2.0"/><circle cx="883.7" cy="193.9" r="2.0"/><circle cx="885.2" cy="209.3" r="2.0"/><circle cx="886.2" cy="185.2" r="2.0"/><circle cx="887.3" cy="180.2" r="2.0"/><circle cx="888" cy="179.2" r="2.0"/><circle cx="890" cy="195.9" r="2.0"/><circle cx="891.9" cy="191.4" r="2.0"/><circle cx="892.5" cy="205.7" r="2.0"/><circle cx="894" cy="211.9" r="2.0"/><circle cx="894.4" cy="192.7" r="2.0"/><circle cx="895.7" cy="188.6" r="2.0"/><circle cx="899.9" cy="188.5" r="2.0"/><circle cx="900.8" cy="164.7" r="2.0"/><circle cx="903.9" cy="198.2" r="2.0"/><circle cx="904.5" cy="197.3" r="2.0"/><circle cx="907.1" cy="208.5" r="2.0"/><circle cx="908" cy="177.7" r="2.0"/><circle cx="909.4" cy="187.5" r="2.0"/><circle cx="910.3" cy="192.9" r="2.0"/><circle cx="910.5" cy="204.4" r="2.0"/><circle cx="911.1" cy="202.5" r="2.0"/><circle cx="912.2" cy="209.3" r="2.0"/><circle cx="913.9" cy="201.3" r="2.0"/><circle cx="914.6" cy="177.1" r="2.0"/><circle cx="916" cy="194.5" r="2.0"/><circle cx="916.7" cy="208.4" r="2.0"/><circle cx="917.3" cy="193.8" r="2.0"/><circle cx="918.6" cy="202.7" r="2.0"/><circle cx="919.6" cy="209.1" r="2.0"/><circle cx="921.4" cy="204.3" r="2.0"/></g>
<g fill="#1020ee"><circle cx="594.7" cy="78.7" r="2.0"/><circle cx="599.3" cy="124.2" r="2.0"/><circle cx="608.7" cy="149" r="2.0"/><circle cx="635.9" cy="113.9" r="2.0"/><circle cx="647.6" cy="139.6" r="2.0"/><circle cx="668.7" cy="85.3" r="2.0"/><circle cx="675.7" cy="106.8" r="2.0"/><circle cx="686.5" cy="154.6" r="2.0"/><circle cx="704.8" cy="131.2" r="2.0"/><circle cx="707.1" cy="128.9" r="2.0"/><circle cx="709.9" cy="111.5" r="2.0"/><circle cx="710.9" cy="32.8" r="2.0"/><circle cx="743.7" cy="137.3" r="2.0"/><circle cx="749.8" cy="18.7" r="2.0"/><circle cx="761" cy="23.4" r="2.0"/><circle cx="768" cy="125.1" r="2.0"/><circle cx="770.9" cy="154.6" r="2.0"/><circle cx="790.5" cy="146.2" r="2.0"/><circle cx="813" cy="114.8" r="2.0"/><circle cx="851.5" cy="151.8" r="2.0"/><circle cx="877.2" cy="136.8" r="2.0"/><circle cx="900.7" cy="131.2" r="2.0"/><circle cx="874.9" cy="150" r="2.0"/><circle cx="620" cy="146" r="2.0"/><circle cx="760" cy="154.6" r="2.0"/><circle cx="870" cy="158" r="2.0"/><circle cx="584.5" cy="192.8" r="2.0"/><circle cx="585.2" cy="205.8" r="2.0"/><circle cx="585.8" cy="192" r="2.0"/><circle cx="586.2" cy="201.9" r="2.0"/><circle cx="587" cy="191.3" r="2.0"/><circle cx="587.8" cy="182.7" r="2.0"/><circle cx="588.2" cy="204" r="2.0"/><circle cx="588.7" cy="196.3" r="2.0"/><circle cx="589.7" cy="190.6" r="2.0"/><circle cx="590.4" cy="200.7" r="2.0"/><circle cx="591.5" cy="207.1" r="2.0"/><circle cx="593.8" cy="191.9" r="2.0"/><circle cx="595" cy="191.1" r="2.0"/><circle cx="597.1" cy="193.8" r="2.0"/><circle cx="597.9" cy="202.7" r="2.0"/><circle cx="598.3" cy="191" r="2.0"/><circle cx="599.7" cy="212.2" r="2.0"/><circle cx="600.2" cy="202.7" r="2.0"/><circle cx="601.4" cy="174.5" r="2.0"/><circle cx="602.3" cy="199.1" r="2.0"/><circle cx="603.2" cy="194.6" r="2.0"/><circle cx="603.7" cy="193" r="2.0"/><circle cx="604.5" cy="183.3" r="2.0"/><circle cx="605.3" cy="197.8" r="2.0"/><circle cx="605.6" cy="184.4" r="2.0"/><circle cx="606.6" cy="207.1" r="2.0"/><circle cx="607.4" cy="206" r="2.0"/><circle cx="608" cy="205" r="2.0"/><circle cx="608.7" cy="185.7" r="2.0"/><circle cx="610.1" cy="194" r="2.0"/><circle cx="610.7" cy="189.1" r="2.0"/><circle cx="611.4" cy="190" r="2.0"/><circle cx="611.7" cy="194.6" r="2.0"/><circle cx="612.4" cy="187.6" r="2.0"/><circle cx="613.3" cy="206.3" r="2.0"/><circle cx="614.6" cy="174.6" r="2.0"/><circle cx="615.4" cy="196.9" r="2.0"/><circle cx="616.2" cy="176.8" r="2.0"/><circle cx="616.3" cy="204.4" r="2.0"/><circle cx="617.5" cy="174.5" r="2.0"/><circle cx="618.1" cy="192.7" r="2.0"/><circle cx="618.9" cy="201" r="2.0"/><circle cx="619.1" cy="198.3" r="2.0"/><circle cx="621.4" cy="172.3" r="2.0"/><circle cx="622" cy="202.1" r="2.0"/><circle cx="622.5" cy="193.2" r="2.0"/><circle cx="623.5" cy="186.2" r="2.0"/><circle cx="623.8" cy="209" r="2.0"/><circle cx="624.9" cy="200.3" r="2.0"/><circle cx="625.1" cy="199.3" r="2.0"/><circle cx="627.2" cy="201.1" r="2.0"/><circle cx="628.9" cy="181.5" r="2.0"/><circle cx="629.2" cy="199.5" r="2.0"/><circle cx="630.5" cy="165.5" r="2.0"/><circle cx="631.2" cy="207.1" r="2.0"/><circle cx="632" cy="193" r="2.0"/><circle cx="632.5" cy="201" r="2.0"/><circle cx="633.2" cy="196.4" r="2.0"/><circle cx="634.2" cy="209.7" r="2.0"/><circle cx="634.9" cy="207.8" r="2.0"/><circle cx="635.3" cy="186.9" r="2.0"/><circle cx="636.4" cy="207.4" r="2.0"/><circle cx="637.7" cy="163.3" r="2.0"/><circle cx="639.7" cy="191.7" r="2.0"/><circle cx="640.2" cy="193.2" r="2.0"/><circle cx="644.4" cy="189.7" r="2.0"/><circle cx="645.7" cy="194.9" r="2.0"/><circle cx="646.4" cy="167.8" r="2.0"/><circle cx="646.8" cy="181.6" r="2.0"/><circle cx="647.7" cy="189.2" r="2.0"/><circle cx="648.7" cy="175.5" r="2.0"/><circle cx="649.7" cy="170.6" r="2.0"/><circle cx="650.5" cy="205.3" r="2.0"/><circle cx="650.9" cy="179.5" r="2.0"/><circle cx="652.2" cy="192.1" r="2.0"/><circle cx="652.7" cy="193.7" r="2.0"/><circle cx="653.6" cy="169.5" r="2.0"/><circle cx="654.2" cy="197.9" r="2.0"/><circle cx="654.9" cy="180.1" r="2.0"/><circle cx="655.9" cy="196.1" r="2.0"/><circle cx="656.5" cy="196.3" r="2.0"/><circle cx="658.5" cy="201.6" r="2.0"/><circle cx="658.8" cy="207.3" r="2.0"/><circle cx="660.2" cy="188.2" r="2.0"/><circle cx="660.8" cy="174.2" r="2.0"/><circle cx="661.9" cy="170.6" r="2.0"/><circle cx="662.2" cy="164.4" r="2.0"/><circle cx="662.8" cy="212" r="2.0"/><circle cx="663.7" cy="178.9" r="2.0"/><circle cx="664.2" cy="200.2" r="2.0"/><circle cx="665.7" cy="193.4" r="2.0"/><circle cx="666.2" cy="185.5" r="2.0"/><circle cx="668.4" cy="182.6" r="2.0"/><circle cx="670.6" cy="209.9" r="2.0"/><circle cx="671.2" cy="209.6" r="2.0"/><circle cx="671.9" cy="176.6" r="2.0"/><circle cx="673.2" cy="198.5" r="2.0"/><circle cx="673.6" cy="210.7" r="2.0"/><circle cx="675" cy="204.3" r="2.0"/><circle cx="675.9" cy="198.4" r="2.0"/><circle cx="676.5" cy="210.6" r="2.0"/><circle cx="677.1" cy="186.1" r="2.0"/><circle cx="679.2" cy="195.4" r="2.0"/><circle cx="679.9" cy="190.5" r="2.0"/><circle cx="680.9" cy="187.9" r="2.0"/><circle cx="681.9" cy="199.6" r="2.0"/><circle cx="682.4" cy="204.9" r="2.0"/><circle cx="683" cy="211.7" r="2.0"/><circle cx="684" cy="209.4" r="2.0"/><circle cx="684.6" cy="207.1" r="2.0"/><circle cx="685.4" cy="171" r="2.0"/><circle cx="686" cy="196.2" r="2.0"/><circle cx="686.5" cy="195.1" r="2.0"/><circle cx="687.3" cy="208.7" r="2.0"/><circle cx="687.9" cy="178.9" r="2.0"/><circle cx="688.6" cy="206.6" r="2.0"/><circle cx="690" cy="176.7" r="2.0"/><circle cx="690.7" cy="203.7" r="2.0"/><circle cx="692.3" cy="203.9" r="2.0"/><circle cx="692.6" cy="208.2" r="2.0"/><circle cx="693.6" cy="165.7" r="2.0"/><circle cx="694.4" cy="165" r="2.0"/><circle cx="696" cy="180.9" r="2.0"/><circle cx="696.6" cy="198" r="2.0"/><circle cx="697.8" cy="208.6" r="2.0"/><circle cx="698.7" cy="207.1" r="2.0"/><circle cx="699.2" cy="198.7" r="2.0"/><circle cx="700.1" cy="198.6" r="2.0"/><circle cx="700.7" cy="194.2" r="2.0"/><circle cx="701.9" cy="194.9" r="2.0"/><circle cx="702.9" cy="201.7" r="2.0"/><circle cx="704.1" cy="189.2" r="2.0"/><circle cx="704.8" cy="206.7" r="2.0"/><circle cx="705.3" cy="189.4" r="2.0"/><circle cx="706.1" cy="191.9" r="2.0"/><circle cx="706.9" cy="197.2" r="2.0"/><circle cx="707.8" cy="198.3" r="2.0"/><circle cx="709.3" cy="189.4" r="2.0"/><circle cx="710" cy="194.9" r="2.0"/><circle cx="710.8" cy="207.5" r="2.0"/><circle cx="711.9" cy="196.6" r="2.0"/><circle cx="713" cy="189.8" r="2.0"/><circle cx="713.7" cy="175.8" r="2.0"/><circle cx="713.9" cy="209" r="2.0"/><circle cx="715.2" cy="194.8" r="2.0"/><circle cx="715.6" cy="211.8" r="2.0"/><circle cx="716.3" cy="198.3" r="2.0"/><circle cx="716.6" cy="169.6" r="2.0"/><circle cx="717.5" cy="211.2" r="2.0"/><circle cx="718.1" cy="187.1" r="2.0"/><circle cx="719.8" cy="184.3" r="2.0"/><circle cx="720.4" cy="197.4" r="2.0"/><circle cx="720.6" cy="207.8" r="2.0"/><circle cx="722.1" cy="201.6" r="2.0"/><circle cx="722.8" cy="197.7" r="2.0"/><circle cx="724" cy="191.5" r="2.0"/><circle cx="724.7" cy="182.9" r="2.0"/><circle cx="725.7" cy="188.3" r="2.0"/><circle cx="726.3" cy="200.7" r="2.0"/><circle cx="727.6" cy="190" r="2.0"/><circle cx="728.3" cy="171.4" r="2.0"/><circle cx="729.1" cy="195.7" r="2.0"/><circle cx="729.5" cy="209.7" r="2.0"/><circle cx="730.3" cy="202.5" r="2.0"/><circle cx="730.8" cy="185.7" r="2.0"/><circle cx="732.2" cy="206.2" r="2.0"/><circle cx="732.9" cy="203.1" r="2.0"/><circle cx="733.5" cy="206.3" r="2.0"/><circle cx="734.1" cy="179.5" r="2.0"/><circle cx="735.3" cy="175.2" r="2.0"/><circle cx="735.6" cy="191.9" r="2.0"/><circle cx="737" cy="186.3" r="2.0"/><circle cx="737.5" cy="210.8" r="2.0"/><circle cx="739.1" cy="197.7" r="2.0"/><circle cx="739.8" cy="198.1" r="2.0"/><circle cx="740.6" cy="193.3" r="2.0"/><circle cx="743" cy="162.9" r="2.0"/><circle cx="743.9" cy="175.2" r="2.0"/><circle cx="746.1" cy="203.3" r="2.0"/><circle cx="746.3" cy="186.5" r="2.0"/><circle cx="746.9" cy="207.1" r="2.0"/><circle cx="747.9" cy="197.7" r="2.0"/><circle cx="748.3" cy="198.1" r="2.0"/><circle cx="749.3" cy="176.7" r="2.0"/><circle cx="749.7" cy="205.5" r="2.0"/><circle cx="751.3" cy="187.9" r="2.0"/><circle cx="753.1" cy="193.3" r="2.0"/><circle cx="754.4" cy="177.8" r="2.0"/><circle cx="755.2" cy="200.6" r="2.0"/><circle cx="755.8" cy="197.8" r="2.0"/><circle cx="757.5" cy="189.8" r="2.0"/><circle cx="757.9" cy="199.5" r="2.0"/><circle cx="758.7" cy="195.1" r="2.0"/><circle cx="759" cy="195.7" r="2.0"/><circle cx="760.7" cy="188" r="2.0"/><circle cx="761.3" cy="207.2" r="2.0"/><circle cx="762.1" cy="205.5" r="2.0"/><circle cx="763.6" cy="205.3" r="2.0"/><circle cx="764.6" cy="206.7" r="2.0"/><circle cx="767.4" cy="188.5" r="2.0"/><circle cx="767.9" cy="191.2" r="2.0"/><circle cx="770.6" cy="200.4" r="2.0"/><circle cx="772.5" cy="164.7" r="2.0"/><circle cx="775.2" cy="208.9" r="2.0"/><circle cx="776.2" cy="199.2" r="2.0"/><circle cx="777.2" cy="208.4" r="2.0"/><circle cx="778.8" cy="193.9" r="2.0"/><circle cx="779.2" cy="184.4" r="2.0"/><circle cx="780.4" cy="164.7" r="2.0"/><circle cx="781.9" cy="196.5" r="2.0"/><circle cx="782.7" cy="192.6" r="2.0"/><circle cx="784.3" cy="193.4" r="2.0"/><circle cx="785.6" cy="187" r="2.0"/><circle cx="787.5" cy="209.4" r="2.0"/><circle cx="791.1" cy="182.9" r="2.0"/><circle cx="792" cy="187.1" r="2.0"/><circle cx="793" cy="203.6" r="2.0"/><circle cx="793.6" cy="187.6" r="2.0"/><circle cx="794.5" cy="183.1" r="2.0"/><circle cx="795" cy="199.2" r="2.0"/><circle cx="795.4" cy="181.1" r="2.0"/><circle cx="798.9" cy="203.8" r="2.0"/><circle cx="800.6" cy="182.1" r="2.0"/><circle cx="801.6" cy="207.6" r="2.0"/><circle cx="805.3" cy="198.2" r="2.0"/><circle cx="805.9" cy="184.2" r="2.0"/><circle cx="806.2" cy="191.8" r="2.0"/><circle cx="807.1" cy="207.3" r="2.0"/><circle cx="808.9" cy="189.2" r="2.0"/><circle cx="810.4" cy="208.6" r="2.0"/><circle cx="813.1" cy="205.4" r="2.0"/><circle cx="813.9" cy="195.9" r="2.0"/><circle cx="817.6" cy="188.2" r="2.0"/><circle cx="818.5" cy="200.9" r="2.0"/><circle cx="820" cy="209.5" r="2.0"/><circle cx="822.8" cy="209.7" r="2.0"/><circle cx="824.8" cy="205.8" r="2.0"/><circle cx="825.3" cy="201.7" r="2.0"/><circle cx="827.4" cy="181.4" r="2.0"/><circle cx="829.4" cy="196.3" r="2.0"/><circle cx="829.8" cy="199.7" r="2.0"/><circle cx="832.4" cy="186.3" r="2.0"/><circle cx="833.3" cy="170" r="2.0"/><circle cx="834.8" cy="212.3" r="2.0"/><circle cx="836.9" cy="212.1" r="2.0"/><circle cx="838" cy="190.1" r="2.0"/><circle cx="838.6" cy="198.4" r="2.0"/><circle cx="840.8" cy="194.6" r="2.0"/><circle cx="842.2" cy="201.5" r="2.0"/><circle cx="842.7" cy="188.2" r="2.0"/><circle cx="844.5" cy="179.7" r="2.0"/><circle cx="848.3" cy="198.9" r="2.0"/><circle cx="852.7" cy="201.7" r="2.0"/><circle cx="855" cy="193.8" r="2.0"/><circle cx="855.4" cy="203.3" r="2.0"/><circle cx="856" cy="181.8" r="2.0"/><circle cx="856.9" cy="199" r="2.0"/><circle cx="857.4" cy="194" r="2.0"/><circle cx="859.7" cy="199.2" r="2.0"/><circle cx="861" cy="199.4" r="2.0"/><circle cx="861.3" cy="208" r="2.0"/><circle cx="862" cy="179.6" r="2.0"/><circle cx="864.4" cy="188.4" r="2.0"/><circle cx="867.1" cy="208.9" r="2.0"/><circle cx="867.6" cy="193.9" r="2.0"/><circle cx="871.9" cy="186.4" r="2.0"/><circle cx="872.4" cy="194.4" r="2.0"/><circle cx="873.2" cy="192.4" r="2.0"/><circle cx="873.5" cy="206" r="2.0"/><circle cx="874.2" cy="198.4" r="2.0"/><circle cx="875.2" cy="180.1" r="2.0"/><circle cx="876.4" cy="178.4" r="2.0"/><circle cx="879.3" cy="174.2" r="2.0"/><circle cx="879.6" cy="199.4" r="2.0"/><circle cx="881.2" cy="205.5" r="2.0"/><circle cx="881.7" cy="194.3" r="2.0"/><circle cx="882.8" cy="204.7" r="2.0"/><circle cx="884.7" cy="176.4" r="2.0"/><circle cx="885.6" cy="196.4" r="2.0"/><circle cx="888.5" cy="193.1" r="2.0"/><circle cx="889.3" cy="191.7" r="2.0"/><circle cx="890.7" cy="211.2" r="2.0"/><circle cx="891.3" cy="210.2" r="2.0"/><circle cx="893.2" cy="201" r="2.0"/><circle cx="895" cy="189.7" r="2.0"/><circle cx="896.8" cy="200.8" r="2.0"/><circle cx="897.1" cy="199.8" r="2.0"/><circle cx="898.1" cy="176" r="2.0"/><circle cx="898.5" cy="211.5" r="2.0"/><circle cx="899.2" cy="183.8" r="2.0"/><circle cx="901.6" cy="208.7" r="2.0"/><circle cx="901.7" cy="176.3" r="2.0"/><circle cx="902.4" cy="199.1" r="2.0"/><circle cx="903.3" cy="195.5" r="2.0"/><circle cx="905.2" cy="201.2" r="2.0"/><circle cx="905.8" cy="200.4" r="2.0"/><circle cx="906.8" cy="175.3" r="2.0"/><circle cx="909" cy="206.1" r="2.0"/><circle cx="912.7" cy="209.2" r="2.0"/><circle cx="913.6" cy="187" r="2.0"/><circle cx="915.6" cy="164.7" r="2.0"/><circle cx="918.2" cy="165.9" r="2.0"/><circle cx="919.8" cy="210.5" r="2.0"/><circle cx="921.1" cy="203.1" r="2.0"/><circle cx="922.1" cy="198.1" r="2.0"/></g>
<g fill="#8aee3e"><circle cx="584.1" cy="418.9" r="2.0"/><circle cx="584.6" cy="405.7" r="2.0"/><circle cx="585.2" cy="388.6" r="2.0"/><circle cx="586.1" cy="386.6" r="2.0"/><circle cx="587" cy="384.5" r="2.0"/><circle cx="587.9" cy="382.5" r="2.0"/><circle cx="588.8" cy="380.4" r="2.0"/><circle cx="589.7" cy="379" r="2.0"/><circle cx="590.6" cy="378" r="2.0"/><circle cx="591.5" cy="377" r="2.0"/><circle cx="592.4" cy="376" r="2.0"/><circle cx="593.3" cy="375" r="2.0"/><circle cx="594.2" cy="374" r="2.0"/><circle cx="595.1" cy="373" r="2.0"/><circle cx="596" cy="372" r="2.0"/><circle cx="596.9" cy="371" r="2.0"/><circle cx="597.8" cy="370" r="2.0"/><circle cx="598.7" cy="369.1" r="2.0"/><circle cx="599.6" cy="368.3" r="2.0"/><circle cx="600.5" cy="367.9" r="2.0"/><circle cx="601.4" cy="367.5" r="2.0"/><circle cx="602.3" cy="367.1" r="2.0"/><circle cx="603.2" cy="366.7" r="2.0"/><circle cx="604.1" cy="366.3" r="2.0"/><circle cx="605" cy="366" r="2.0"/><circle cx="605.9" cy="365.6" r="2.0"/><circle cx="606.8" cy="365.2" r="2.0"/><circle cx="607.7" cy="364.8" r="2.0"/><circle cx="608.6" cy="364.4" r="2.0"/><circle cx="609.5" cy="364" r="2.0"/><circle cx="610.4" cy="363.6" r="2.0"/><circle cx="611.3" cy="363.2" r="2.0"/><circle cx="612.2" cy="362.9" r="2.0"/><circle cx="613.1" cy="362.5" r="2.0"/><circle cx="614" cy="362.1" r="2.0"/><circle cx="614.9" cy="361.7" r="2.0"/><circle cx="615.8" cy="361.3" r="2.0"/><circle cx="616.7" cy="360.9" r="2.0"/><circle cx="617.6" cy="360.5" r="2.0"/><circle cx="618.5" cy="360.2" r="2.0"/><circle cx="619.4" cy="359.8" r="2.0"/><circle cx="620.3" cy="359.4" r="2.0"/><circle cx="621.2" cy="359.1" r="2.0"/><circle cx="622.1" cy="358.9" r="2.0"/><circle cx="623" cy="358.7" r="2.0"/><circle cx="623.9" cy="358.5" r="2.0"/><circle cx="624.8" cy="358.3" r="2.0"/><circle cx="625.7" cy="358.1" r="2.0"/><circle cx="626.6" cy="357.9" r="2.0"/><circle cx="627.5" cy="357.7" r="2.0"/><circle cx="628.4" cy="357.4" r="2.0"/><circle cx="629.3" cy="357.2" r="2.0"/><circle cx="630.2" cy="357" r="2.0"/><circle cx="631.1" cy="356.8" r="2.0"/><circle cx="632" cy="356.6" r="2.0"/><circle cx="632.9" cy="356.4" r="2.0"/><circle cx="633.8" cy="356.2" r="2.0"/><circle cx="634.7" cy="356" r="2.0"/><circle cx="635.6" cy="355.8" r="2.0"/><circle cx="636.5" cy="355.6" r="2.0"/><circle cx="637.4" cy="355.3" r="2.0"/><circle cx="638.3" cy="355.1" r="2.0"/><circle cx="639.2" cy="354.9" r="2.0"/><circle cx="640.1" cy="354.7" r="2.0"/><circle cx="641" cy="354.5" r="2.0"/><circle cx="641.9" cy="354.3" r="2.0"/><circle cx="642.8" cy="354.1" r="2.0"/><circle cx="643.7" cy="353.9" r="2.0"/><circle cx="644.6" cy="353.7" r="2.0"/><circle cx="645.5" cy="353.4" r="2.0"/><circle cx="646.4" cy="353.2" r="2.0"/><circle cx="647.3" cy="353" r="2.0"/><circle cx="648.2" cy="352.8" r="2.0"/><circle cx="649.1" cy="352.6" r="2.0"/><circle cx="650" cy="352.4" r="2.0"/><circle cx="650.9" cy="352.2" r="2.0"/><circle cx="651.8" cy="352" r="2.0"/><circle cx="652.7" cy="351.9" r="2.0"/><circle cx="653.6" cy="351.7" r="2.0"/><circle cx="654.5" cy="351.6" r="2.0"/><circle cx="655.4" cy="351.4" r="2.0"/><circle cx="656.3" cy="351.3" r="2.0"/><circle cx="657.2" cy="351.1" r="2.0"/><circle cx="658.1" cy="351" r="2.0"/><circle cx="659" cy="350.8" r="2.0"/><circle cx="659.9" cy="350.7" r="2.0"/><circle cx="660.8" cy="350.5" r="2.0"/><circle cx="661.7" cy="350.4" r="2.0"/><circle cx="662.6" cy="350.2" r="2.0"/><circle cx="663.5" cy="350.1" r="2.0"/><circle cx="664.4" cy="349.9" r="2.0"/><circle cx="665.3" cy="349.8" r="2.0"/><circle cx="666.2" cy="349.7" r="2.0"/><circle cx="667.1" cy="349.5" r="2.0"/><circle cx="668" cy="349.4" r="2.0"/><circle cx="668.9" cy="349.2" r="2.0"/><circle cx="669.8" cy="349.1" r="2.0"/><circle cx="670.7" cy="348.9" r="2.0"/><circle cx="671.6" cy="348.8" r="2.0"/><circle cx="672.5" cy="348.6" r="2.0"/><circle cx="673.4" cy="348.5" r="2.0"/><circle cx="674.3" cy="348.3" r="2.0"/><circle cx="675.2" cy="348.2" r="2.0"/><circle cx="676.1" cy="348" r="2.0"/><circle cx="677" cy="347.9" r="2.0"/><circle cx="677.9" cy="347.7" r="2.0"/><circle cx="678.8" cy="347.6" r="2.0"/><circle cx="679.7" cy="347.4" r="2.0"/><circle cx="680.6" cy="347.3" r="2.0"/><circle cx="681.5" cy="347.2" r="2.0"/><circle cx="682.4" cy="347.1" r="2.0"/><circle cx="683.3" cy="347" r="2.0"/><circle cx="684.2" cy="347" r="2.0"/><circle cx="685.1" cy="346.9" r="2.0"/><circle cx="686" cy="346.8" r="2.0"/><circle cx="686.9" cy="346.8" r="2.0"/><circle cx="687.8" cy="346.7" r="2.0"/><circle cx="688.7" cy="346.6" r="2.0"/><circle cx="689.6" cy="346.6" r="2.0"/><circle cx="690.5" cy="346.5" r="2.0"/><circle cx="691.4" cy="346.4" r="2.0"/><circle cx="692.3" cy="346.4" r="2.0"/><circle cx="693.2" cy="346.3" r="2.0"/><circle cx="694.1" cy="346.2" r="2.0"/><circle cx="695" cy="346.2" r="2.0"/><circle cx="695.9" cy="346.1" r="2.0"/><circle cx="696.8" cy="346" r="2.0"/><circle cx="697.7" cy="346" r="2.0"/><circle cx="698.6" cy="345.9" r="2.0"/><circle cx="699.5" cy="345.8" r="2.0"/><circle cx="700.4" cy="345.8" r="2.0"/><circle cx="701.3" cy="345.7" r="2.0"/><circle cx="702.2" cy="345.6" r="2.0"/><circle cx="703.1" cy="345.6" r="2.0"/><circle cx="704" cy="345.5" r="2.0"/><circle cx="704.9" cy="345.4" r="2.0"/><circle cx="705.8" cy="345.4" r="2.0"/><circle cx="706.7" cy="345.3" r="2.0"/><circle cx="707.6" cy="345.2" r="2.0"/><circle cx="708.5" cy="345.2" r="2.0"/><circle cx="709.4" cy="345.1" r="2.0"/><circle cx="710.3" cy="345" r="2.0"/><circle cx="711.2" cy="345" r="2.0"/><circle cx="712.1" cy="344.9" r="2.0"/><circle cx="713" cy="344.8" r="2.0"/><circle cx="713.9" cy="344.8" r="2.0"/><circle cx="714.8" cy="344.7" r="2.0"/><circle cx="715.7" cy="344.6" r="2.0"/><circle cx="716.6" cy="344.6" r="2.0"/><circle cx="717.5" cy="344.5" r="2.0"/><circle cx="718.4" cy="344.4" r="2.0"/><circle cx="719.3" cy="344.4" r="2.0"/><circle cx="720.2" cy="344.3" r="2.0"/><circle cx="721.1" cy="344.2" r="2.0"/><circle cx="722" cy="344.1" r="2.0"/><circle cx="722.9" cy="344.1" r="2.0"/><circle cx="723.8" cy="344" r="2.0"/><circle cx="724.7" cy="343.9" r="2.0"/><circle cx="725.6" cy="343.8" r="2.0"/><circle cx="726.5" cy="343.7" r="2.0"/><circle cx="727.4" cy="343.6" r="2.0"/><circle cx="728.3" cy="343.5" r="2.0"/><circle cx="729.2" cy="343.4" r="2.0"/><circle cx="730.1" cy="343.4" r="2.0"/><circle cx="731" cy="343.3" r="2.0"/><circle cx="731.9" cy="343.2" r="2.0"/><circle cx="732.8" cy="343.1" r="2.0"/><circle cx="733.7" cy="343" r="2.0"/><circle cx="734.6" cy="342.9" r="2.0"/><circle cx="735.5" cy="342.8" r="2.0"/><circle cx="736.4" cy="342.7" r="2.0"/><circle cx="737.3" cy="342.7" r="2.0"/><circle cx="738.2" cy="342.6" r="2.0"/><circle cx="739.1" cy="342.5" r="2.0"/><circle cx="740" cy="342.4" r="2.0"/><circle cx="740.9" cy="342.3" r="2.0"/><circle cx="741.8" cy="342.2" r="2.0"/><circle cx="742.7" cy="342.1" r="2.0"/><circle cx="743.6" cy="342" r="2.0"/><circle cx="744.5" cy="342" r="2.0"/><circle cx="745.4" cy="341.9" r="2.0"/><circle cx="746.3" cy="341.8" r="2.0"/><circle cx="747.2" cy="341.7" r="2.0"/><circle cx="748.1" cy="341.6" r="2.0"/><circle cx="749" cy="341.5" r="2.0"/><circle cx="749.9" cy="341.4" r="2.0"/><circle cx="750.8" cy="341.3" r="2.0"/><circle cx="751.7" cy="341.3" r="2.0"/><circle cx="752.6" cy="341.2" r="2.0"/></g>
<g fill="#cc1414"><circle cx="753.6" cy="341.1" r="2.0"/><circle cx="754.5" cy="341" r="2.0"/><circle cx="755.4" cy="340.9" r="2.0"/><circle cx="756.3" cy="340.8" r="2.0"/><circle cx="757.2" cy="340.7" r="2.0"/><circle cx="758.1" cy="340.7" r="2.0"/><circle cx="759" cy="340.6" r="2.0"/><circle cx="759.9" cy="340.5" r="2.0"/><circle cx="760.8" cy="340.4" r="2.0"/><circle cx="761.7" cy="340.3" r="2.0"/><circle cx="762.6" cy="340.3" r="2.0"/><circle cx="763.5" cy="340.2" r="2.0"/><circle cx="764.4" cy="340.1" r="2.0"/><circle cx="765.3" cy="340" r="2.0"/><circle cx="766.2" cy="339.9" r="2.0"/><circle cx="767.1" cy="339.8" r="2.0"/><circle cx="768" cy="339.8" r="2.0"/><circle cx="768.9" cy="339.7" r="2.0"/><circle cx="769.8" cy="339.6" r="2.0"/><circle cx="770.7" cy="339.5" r="2.0"/><circle cx="771.6" cy="339.4" r="2.0"/><circle cx="772.5" cy="339.4" r="2.0"/><circle cx="773.4" cy="339.3" r="2.0"/><circle cx="774.3" cy="339.2" r="2.0"/><circle cx="775.2" cy="339.1" r="2.0"/><circle cx="776.1" cy="339" r="2.0"/><circle cx="777" cy="338.9" r="2.0"/><circle cx="777.9" cy="338.9" r="2.0"/><circle cx="778.8" cy="338.8" r="2.0"/><circle cx="779.7" cy="338.7" r="2.0"/><circle cx="780.6" cy="338.6" r="2.0"/><circle cx="781.5" cy="338.5" r="2.0"/><circle cx="782.4" cy="338.5" r="2.0"/><circle cx="783.3" cy="338.4" r="2.0"/><circle cx="784.2" cy="338.3" r="2.0"/><circle cx="785.1" cy="338.2" r="2.0"/><circle cx="786" cy="338.1" r="2.0"/><circle cx="786.9" cy="338" r="2.0"/><circle cx="787.8" cy="337.9" r="2.0"/><circle cx="788.7" cy="337.8" r="2.0"/><circle cx="789.6" cy="337.7" r="2.0"/><circle cx="790.5" cy="337.6" r="2.0"/><circle cx="791.4" cy="337.5" r="2.0"/><circle cx="792.3" cy="337.4" r="2.0"/><circle cx="793.2" cy="337.2" r="2.0"/><circle cx="794.1" cy="337.1" r="2.0"/><circle cx="795" cy="337" r="2.0"/><circle cx="795.9" cy="336.9" r="2.0"/><circle cx="796.8" cy="336.8" r="2.0"/><circle cx="797.7" cy="336.7" r="2.0"/><circle cx="798.6" cy="336.6" r="2.0"/><circle cx="799.5" cy="336.5" r="2.0"/><circle cx="800.4" cy="336.4" r="2.0"/><circle cx="801.3" cy="336.2" r="2.0"/><circle cx="802.2" cy="336.1" r="2.0"/><circle cx="803.1" cy="336" r="2.0"/><circle cx="804" cy="335.9" r="2.0"/><circle cx="804.9" cy="335.8" r="2.0"/><circle cx="805.8" cy="335.7" r="2.0"/><circle cx="806.7" cy="335.6" r="2.0"/><circle cx="807.6" cy="335.5" r="2.0"/><circle cx="808.5" cy="335.4" r="2.0"/><circle cx="809.4" cy="335.2" r="2.0"/><circle cx="810.3" cy="335.1" r="2.0"/><circle cx="811.2" cy="335" r="2.0"/><circle cx="812.1" cy="334.9" r="2.0"/><circle cx="813" cy="334.8" r="2.0"/><circle cx="813.9" cy="334.6" r="2.0"/><circle cx="814.8" cy="334.5" r="2.0"/><circle cx="815.7" cy="334.4" r="2.0"/><circle cx="816.6" cy="334.3" r="2.0"/><circle cx="817.5" cy="334.1" r="2.0"/><circle cx="818.4" cy="334" r="2.0"/><circle cx="819.3" cy="333.9" r="2.0"/><circle cx="820.2" cy="333.8" r="2.0"/><circle cx="821.1" cy="333.6" r="2.0"/><circle cx="822" cy="333.5" r="2.0"/><circle cx="822.9" cy="333.4" r="2.0"/><circle cx="823.8" cy="333.3" r="2.0"/><circle cx="824.7" cy="333.1" r="2.0"/><circle cx="825.6" cy="333" r="2.0"/><circle cx="826.5" cy="332.9" r="2.0"/><circle cx="827.4" cy="332.8" r="2.0"/><circle cx="828.3" cy="332.6" r="2.0"/><circle cx="829.2" cy="332.5" r="2.0"/><circle cx="830.1" cy="332.4" r="2.0"/><circle cx="831" cy="332.3" r="2.0"/><circle cx="831.9" cy="332.1" r="2.0"/><circle cx="832.8" cy="332" r="2.0"/><circle cx="833.7" cy="331.7" r="2.0"/><circle cx="834.6" cy="331.4" r="2.0"/><circle cx="835.5" cy="331.1" r="2.0"/><circle cx="836.4" cy="330.8" r="2.0"/><circle cx="837.3" cy="330.5" r="2.0"/><circle cx="838.2" cy="330.2" r="2.0"/><circle cx="839.1" cy="329.9" r="2.0"/><circle cx="840" cy="329.7" r="2.0"/><circle cx="840.9" cy="329.5" r="2.0"/><circle cx="841.8" cy="329.3" r="2.0"/><circle cx="842.7" cy="329" r="2.0"/><circle cx="843.6" cy="328.8" r="2.0"/><circle cx="844.5" cy="328.6" r="2.0"/><circle cx="845.4" cy="328.4" r="2.0"/><circle cx="846.3" cy="328.1" r="2.0"/><circle cx="847.2" cy="327.9" r="2.0"/><circle cx="848.1" cy="327.7" r="2.0"/><circle cx="849" cy="327.5" r="2.0"/><circle cx="849.9" cy="327.3" r="2.0"/><circle cx="850.8" cy="327" r="2.0"/><circle cx="851.7" cy="326.8" r="2.0"/><circle cx="852.6" cy="326.6" r="2.0"/><circle cx="853.5" cy="326.4" r="2.0"/><circle cx="854.4" cy="326.1" r="2.0"/><circle cx="855.3" cy="325.9" r="2.0"/><circle cx="856.2" cy="325.6" r="2.0"/><circle cx="857.1" cy="325.4" r="2.0"/><circle cx="858" cy="325.1" r="2.0"/><circle cx="858.9" cy="324.8" r="2.0"/><circle cx="859.8" cy="324.6" r="2.0"/><circle cx="860.7" cy="324.3" r="2.0"/><circle cx="861.6" cy="324" r="2.0"/><circle cx="862.5" cy="323.8" r="2.0"/><circle cx="863.4" cy="323.5" r="2.0"/><circle cx="864.3" cy="323.2" r="2.0"/><circle cx="865.2" cy="323" r="2.0"/><circle cx="866.1" cy="322.7" r="2.0"/><circle cx="867" cy="322.4" r="2.0"/><circle cx="867.9" cy="322.2" r="2.0"/><circle cx="868.8" cy="321.9" r="2.0"/><circle cx="869.7" cy="321.6" r="2.0"/><circle cx="870.6" cy="321.4" r="2.0"/><circle cx="871.5" cy="321.1" r="2.0"/><circle cx="872.4" cy="320.8" r="2.0"/><circle cx="873.3" cy="320.6" r="2.0"/><circle cx="874.2" cy="320.3" r="2.0"/><circle cx="875.1" cy="320" r="2.0"/><circle cx="876" cy="319.8" r="2.0"/><circle cx="876.9" cy="319.5" r="2.0"/><circle cx="877.8" cy="319.3" r="2.0"/><circle cx="878.7" cy="319.1" r="2.0"/><circle cx="879.6" cy="318.8" r="2.0"/><circle cx="880.5" cy="318.6" r="2.0"/><circle cx="881.4" cy="318.4" r="2.0"/><circle cx="882.3" cy="318.1" r="2.0"/><circle cx="883.2" cy="317.9" r="2.0"/><circle cx="884.1" cy="317.6" r="2.0"/><circle cx="885" cy="317.4" r="2.0"/><circle cx="885.9" cy="317.2" r="2.0"/><circle cx="886.8" cy="316.9" r="2.0"/><circle cx="887.7" cy="316.7" r="2.0"/><circle cx="888.6" cy="316.4" r="2.0"/><circle cx="889.5" cy="316.2" r="2.0"/><circle cx="890.4" cy="316" r="2.0"/><circle cx="891.3" cy="315.7" r="2.0"/><circle cx="892.2" cy="315.5" r="2.0"/><circle cx="893.1" cy="315.2" r="2.0"/><circle cx="894" cy="315" r="2.0"/><circle cx="894.9" cy="314.3" r="2.0"/><circle cx="895.8" cy="313.2" r="2.0"/><circle cx="896.7" cy="312.1" r="2.0"/><circle cx="897.6" cy="311" r="2.0"/><circle cx="898.5" cy="309.9" r="2.0"/><circle cx="899.4" cy="308.8" r="2.0"/><circle cx="900.3" cy="307.9" r="2.0"/><circle cx="901.2" cy="307" r="2.0"/><circle cx="902.1" cy="306.1" r="2.0"/><circle cx="903" cy="305.3" r="2.0"/><circle cx="903.9" cy="304.4" r="2.0"/><circle cx="904.8" cy="303.5" r="2.0"/><circle cx="905.7" cy="302.6" r="2.0"/><circle cx="906.6" cy="301.5" r="2.0"/><circle cx="907.5" cy="300.4" r="2.0"/><circle cx="908.4" cy="299.4" r="2.0"/><circle cx="909.3" cy="298.3" r="2.0"/><circle cx="910.2" cy="297.2" r="2.0"/><circle cx="911.1" cy="296.2" r="2.0"/><circle cx="912" cy="294.5" r="2.0"/><circle cx="912.9" cy="292.3" r="2.0"/><circle cx="913.8" cy="290" r="2.0"/><circle cx="914.7" cy="287.8" r="2.0"/><circle cx="915.6" cy="285.6" r="2.0"/><circle cx="916.5" cy="284" r="2.0"/><circle cx="917.4" cy="282.5" r="2.0"/><circle cx="918.3" cy="280.9" r="2.0"/><circle cx="919.2" cy="279.3" r="2.0"/><circle cx="920.1" cy="275.6" r="2.0"/><circle cx="921" cy="270.1" r="2.0"/><circle cx="921.9" cy="264.9" r="2.0"/><circle cx="923.2" cy="226.5" r="2.0"/></g>
<rect x="571.2" y="11.7" width="365.5" height="414.8" fill="none" stroke="#555" stroke-width="1.1"/>
<line x1="571.2" y1="218.8" x2="936.7" y2="218.8" stroke="#555" stroke-width="1.1"/>
<line x1="565.7" y1="212.3" x2="571.2" y2="212.3" stroke="#444" stroke-width="1"/>
<text x="561.5" y="216.8" text-anchor="end" font-size="13.2" fill="#1a1a1a" textLength="7" lengthAdjust="spacingAndGlyphs">0</text>
<line x1="565.7" y1="163.7" x2="571.2" y2="163.7" stroke="#444" stroke-width="1"/>
<text x="561.5" y="168.2" text-anchor="end" font-size="13.2" fill="#1a1a1a" textLength="7" lengthAdjust="spacingAndGlyphs">5</text>
<line x1="565.7" y1="115.1" x2="571.2" y2="115.1" stroke="#444" stroke-width="1"/>
<text x="561.5" y="119.6" text-anchor="end" font-size="13.2" fill="#1a1a1a" textLength="13.9" lengthAdjust="spacingAndGlyphs">10</text>
<line x1="565.7" y1="66.5" x2="571.2" y2="66.5" stroke="#444" stroke-width="1"/>
<text x="561.5" y="71" text-anchor="end" font-size="13.2" fill="#1a1a1a" textLength="13.9" lengthAdjust="spacingAndGlyphs">15</text>
<line x1="565.7" y1="17.9" x2="571.2" y2="17.9" stroke="#444" stroke-width="1"/>
<text x="561.5" y="22.4" text-anchor="end" font-size="13.2" fill="#1a1a1a" textLength="13.9" lengthAdjust="spacingAndGlyphs">20</text>
<line x1="565.7" y1="402.1" x2="571.2" y2="402.1" stroke="#444" stroke-width="1"/>
<text x="561.5" y="406.6" text-anchor="end" font-size="13.2" fill="#1a1a1a" textLength="21.5" lengthAdjust="spacingAndGlyphs">-0.5</text>
<line x1="565.7" y1="362.3" x2="571.2" y2="362.3" stroke="#444" stroke-width="1"/>
<text x="561.5" y="366.8" text-anchor="end" font-size="13.2" fill="#1a1a1a" textLength="17.4" lengthAdjust="spacingAndGlyphs">0.0</text>
<line x1="565.7" y1="322.6" x2="571.2" y2="322.6" stroke="#444" stroke-width="1"/>
<text x="561.5" y="327.1" text-anchor="end" font-size="13.2" fill="#1a1a1a" textLength="17.4" lengthAdjust="spacingAndGlyphs">0.5</text>
<line x1="565.7" y1="282.8" x2="571.2" y2="282.8" stroke="#444" stroke-width="1"/>
<text x="561.5" y="287.3" text-anchor="end" font-size="13.2" fill="#1a1a1a" textLength="17.4" lengthAdjust="spacingAndGlyphs">1.0</text>
<line x1="565.7" y1="243.1" x2="571.2" y2="243.1" stroke="#444" stroke-width="1"/>
<text x="561.5" y="247.6" text-anchor="end" font-size="13.2" fill="#1a1a1a" textLength="17.4" lengthAdjust="spacingAndGlyphs">1.5</text>
<line x1="584.3" y1="426.5" x2="584.3" y2="432" stroke="#444" stroke-width="1.1"/>
<text x="584.3" y="447.5" text-anchor="middle" font-size="13.2" fill="#1a1a1a" textLength="7" lengthAdjust="spacingAndGlyphs">0</text>
<line x1="651.6" y1="426.5" x2="651.6" y2="432" stroke="#444" stroke-width="1.1"/>
<text x="651.6" y="447.5" text-anchor="middle" font-size="13.2" fill="#1a1a1a" textLength="20.9" lengthAdjust="spacingAndGlyphs">100</text>
<line x1="718.9" y1="426.5" x2="718.9" y2="432" stroke="#444" stroke-width="1.1"/>
<text x="718.9" y="447.5" text-anchor="middle" font-size="13.2" fill="#1a1a1a" textLength="20.9" lengthAdjust="spacingAndGlyphs">200</text>
<line x1="786.2" y1="426.5" x2="786.2" y2="432" stroke="#444" stroke-width="1.1"/>
<text x="786.2" y="447.5" text-anchor="middle" font-size="13.2" fill="#1a1a1a" textLength="20.9" lengthAdjust="spacingAndGlyphs">300</text>
<line x1="853.5" y1="426.5" x2="853.5" y2="432" stroke="#444" stroke-width="1.1"/>
<text x="853.5" y="447.5" text-anchor="middle" font-size="13.2" fill="#1a1a1a" textLength="20.9" lengthAdjust="spacingAndGlyphs">400</text>
<line x1="920.8" y1="426.5" x2="920.8" y2="432" stroke="#444" stroke-width="1.1"/>
<text x="920.8" y="447.5" text-anchor="middle" font-size="13.2" fill="#1a1a1a" textLength="20.9" lengthAdjust="spacingAndGlyphs">500</text>
<text x="759.4" y="466.1" text-anchor="middle" font-size="13.2" fill="#1a1a1a" textLength="167" lengthAdjust="spacingAndGlyphs">Patients (increasing risk score)</text>
<text transform="translate(528,120) rotate(-90)" x="0" y="4.5" text-anchor="middle" font-size="13.2" fill="#1a1a1a" textLength="108.7" lengthAdjust="spacingAndGlyphs">Survival time(years)</text>
<text transform="translate(528,330.6) rotate(-90)" x="0" y="4.5" text-anchor="middle" font-size="13.2" fill="#1a1a1a" textLength="54" lengthAdjust="spacingAndGlyphs">Risk score</text>
<circle cx="871" cy="37.5" r="3.2" fill="#d42222"/>
<circle cx="871" cy="56.2" r="3.2" fill="#2233dd"/>
<text x="879.5" y="42" text-anchor="start" font-size="13.2" fill="#1a1a1a" textLength="28" lengthAdjust="spacingAndGlyphs">Dead</text>
<text x="879.5" y="60.7" text-anchor="start" font-size="13.2" fill="#1a1a1a" textLength="28" lengthAdjust="spacingAndGlyphs">Alive</text>
<line x1="753.5" y1="1019" x2="753.5" y2="1441.5" stroke="#444" stroke-width="0.9" stroke-dasharray="2,2"/>
<line x1="570.3" y1="1346.1" x2="936.7" y2="1346.1" stroke="#444" stroke-width="0.9" stroke-dasharray="2,2"/>
<g fill="#d81818"><circle cx="583.1" cy="1157" r="2.3"/><circle cx="584" cy="1185.1" r="2.3"/><circle cx="586.5" cy="1169.4" r="2.3"/><circle cx="588.2" cy="1094.5" r="2.3"/><circle cx="590" cy="1067.8" r="2.3"/><circle cx="590.8" cy="1115.5" r="2.3"/><circle cx="596" cy="1158.9" r="2.3"/><circle cx="603.7" cy="1193.3" r="2.3"/><circle cx="614.8" cy="1185.9" r="2.3"/><circle cx="622.5" cy="1185.8" r="2.3"/><circle cx="626.8" cy="1125.6" r="2.3"/><circle cx="628.5" cy="1149.2" r="2.3"/><circle cx="632" cy="1085.3" r="2.3"/><circle cx="635.4" cy="1170.8" r="2.3"/><circle cx="637.1" cy="1187.6" r="2.3"/><circle cx="638" cy="1150.8" r="2.3"/><circle cx="650.8" cy="1159.2" r="2.3"/><circle cx="651.7" cy="1150.1" r="2.3"/><circle cx="654.3" cy="1211.2" r="2.3"/><circle cx="655.1" cy="1133.6" r="2.3"/><circle cx="656.8" cy="1178.5" r="2.3"/><circle cx="661.1" cy="1096.7" r="2.3"/><circle cx="663.7" cy="1161.5" r="2.3"/><circle cx="669.7" cy="1145.6" r="2.3"/><circle cx="674" cy="1120.7" r="2.3"/><circle cx="678.3" cy="1208.4" r="2.3"/><circle cx="698" cy="1166.4" r="2.3"/><circle cx="704" cy="1170.8" r="2.3"/><circle cx="710" cy="1175.1" r="2.3"/><circle cx="715.2" cy="1190.1" r="2.3"/><circle cx="716.9" cy="1112.8" r="2.3"/><circle cx="722.9" cy="1152.4" r="2.3"/><circle cx="726.3" cy="1182.5" r="2.3"/><circle cx="729.7" cy="1124.4" r="2.3"/><circle cx="731.4" cy="1167.3" r="2.3"/><circle cx="736.6" cy="1152.4" r="2.3"/><circle cx="745.2" cy="1145.6" r="2.3"/><circle cx="746" cy="1176.6" r="2.3"/><circle cx="759.7" cy="1200.2" r="2.3"/><circle cx="764" cy="1097.1" r="2.3"/><circle cx="764.9" cy="1147" r="2.3"/><circle cx="767.5" cy="1177.2" r="2.3"/><circle cx="769.2" cy="1130" r="2.3"/><circle cx="770" cy="1175.7" r="2.3"/><circle cx="770.9" cy="1164.6" r="2.3"/><circle cx="771.8" cy="1201.6" r="2.3"/><circle cx="773.5" cy="1132.9" r="2.3"/><circle cx="774.3" cy="1191.8" r="2.3"/><circle cx="777.8" cy="1139.4" r="2.3"/><circle cx="779.5" cy="1211.2" r="2.3"/><circle cx="781.2" cy="1183.3" r="2.3"/><circle cx="782.9" cy="1121.5" r="2.3"/><circle cx="783.8" cy="1111.8" r="2.3"/><circle cx="788.9" cy="1136.2" r="2.3"/><circle cx="789.8" cy="1104.2" r="2.3"/><circle cx="790.6" cy="1121.7" r="2.3"/><circle cx="794" cy="1174" r="2.3"/><circle cx="796.6" cy="1174.7" r="2.3"/><circle cx="799.2" cy="1211.2" r="2.3"/><circle cx="800" cy="1191.7" r="2.3"/><circle cx="800.9" cy="1186.9" r="2.3"/><circle cx="801.8" cy="1117.6" r="2.3"/><circle cx="803.5" cy="1200.7" r="2.3"/><circle cx="808.6" cy="1185.4" r="2.3"/><circle cx="810.3" cy="1141.8" r="2.3"/><circle cx="811.2" cy="1115" r="2.3"/><circle cx="814.6" cy="1193.1" r="2.3"/><circle cx="816.3" cy="1189.7" r="2.3"/><circle cx="817.2" cy="1101" r="2.3"/><circle cx="818.1" cy="1201.5" r="2.3"/><circle cx="818.9" cy="1124.5" r="2.3"/><circle cx="819.8" cy="1154.2" r="2.3"/><circle cx="822.3" cy="1143.4" r="2.3"/><circle cx="823.2" cy="1112.4" r="2.3"/><circle cx="824.1" cy="1125.1" r="2.3"/><circle cx="824.9" cy="1191.8" r="2.3"/><circle cx="826.6" cy="1197.8" r="2.3"/><circle cx="827.5" cy="1098.4" r="2.3"/><circle cx="828.3" cy="1125" r="2.3"/><circle cx="830.9" cy="1202" r="2.3"/><circle cx="831.8" cy="1174.6" r="2.3"/><circle cx="833.5" cy="1171.4" r="2.3"/><circle cx="836.9" cy="1183.1" r="2.3"/><circle cx="837.8" cy="1159.5" r="2.3"/><circle cx="842.1" cy="1164.3" r="2.3"/><circle cx="842.9" cy="1211.2" r="2.3"/><circle cx="845.5" cy="1170.1" r="2.3"/><circle cx="848.1" cy="1163.1" r="2.3"/><circle cx="848.9" cy="1149.7" r="2.3"/><circle cx="853.2" cy="1146.8" r="2.3"/><circle cx="854.1" cy="1211.2" r="2.3"/><circle cx="857.5" cy="1185.9" r="2.3"/><circle cx="859.2" cy="1132.4" r="2.3"/><circle cx="860.9" cy="1116" r="2.3"/><circle cx="864.4" cy="1162.8" r="2.3"/><circle cx="866.1" cy="1157.3" r="2.3"/><circle cx="872.9" cy="1191.3" r="2.3"/><circle cx="878.9" cy="1192.2" r="2.3"/><circle cx="882.4" cy="1130.7" r="2.3"/><circle cx="883.2" cy="1128.5" r="2.3"/><circle cx="884.9" cy="1158.7" r="2.3"/><circle cx="888.4" cy="1108.5" r="2.3"/><circle cx="895.2" cy="1167.6" r="2.3"/><circle cx="897.8" cy="1164.1" r="2.3"/><circle cx="898.7" cy="1130.8" r="2.3"/><circle cx="899.5" cy="1152.7" r="2.3"/><circle cx="900.4" cy="1161.5" r="2.3"/><circle cx="902.9" cy="1195.8" r="2.3"/><circle cx="903.8" cy="1148.5" r="2.3"/><circle cx="905.5" cy="1201.6" r="2.3"/><circle cx="907.2" cy="1211.2" r="2.3"/><circle cx="909.8" cy="1172" r="2.3"/><circle cx="914.1" cy="1183.4" r="2.3"/><circle cx="915" cy="1127.1" r="2.3"/><circle cx="915.8" cy="1148.7" r="2.3"/><circle cx="916.7" cy="1202.7" r="2.3"/><circle cx="920.1" cy="1193.4" r="2.3"/><circle cx="921.8" cy="1175.8" r="2.3"/><circle cx="922.7" cy="1161.3" r="2.3"/></g>
<g fill="#1020ee"><circle cx="584.8" cy="1078.9" r="2.3"/><circle cx="585.7" cy="1141" r="2.3"/><circle cx="587.4" cy="1167.8" r="2.3"/><circle cx="589.1" cy="1079.5" r="2.3"/><circle cx="591.7" cy="1114.3" r="2.3"/><circle cx="592.5" cy="1069.2" r="2.3"/><circle cx="593.4" cy="1148.7" r="2.3"/><circle cx="594.2" cy="1113" r="2.3"/><circle cx="595.1" cy="1089.5" r="2.3"/><circle cx="596.8" cy="1114.3" r="2.3"/><circle cx="597.7" cy="1035.2" r="2.3"/><circle cx="598.5" cy="1115.7" r="2.3"/><circle cx="599.4" cy="1167.6" r="2.3"/><circle cx="600.2" cy="1134.7" r="2.3"/><circle cx="601.1" cy="1143" r="2.3"/><circle cx="602" cy="1098.8" r="2.3"/><circle cx="602.8" cy="1131.6" r="2.3"/><circle cx="604.5" cy="1076.5" r="2.3"/><circle cx="605.4" cy="1063" r="2.3"/><circle cx="606.3" cy="1157.6" r="2.3"/><circle cx="607.1" cy="1096.5" r="2.3"/><circle cx="608" cy="1131.8" r="2.3"/><circle cx="608.8" cy="1127.8" r="2.3"/><circle cx="609.7" cy="1103.7" r="2.3"/><circle cx="610.5" cy="1150.5" r="2.3"/><circle cx="611.4" cy="1171.7" r="2.3"/><circle cx="612.3" cy="1115.5" r="2.3"/><circle cx="613.1" cy="1127.4" r="2.3"/><circle cx="614" cy="1140" r="2.3"/><circle cx="615.7" cy="1133.6" r="2.3"/><circle cx="616.5" cy="1137.6" r="2.3"/><circle cx="617.4" cy="1140" r="2.3"/><circle cx="618.3" cy="1064.8" r="2.3"/><circle cx="619.1" cy="1084.3" r="2.3"/><circle cx="620" cy="1092.1" r="2.3"/><circle cx="620.8" cy="1120.7" r="2.3"/><circle cx="621.7" cy="1155.8" r="2.3"/><circle cx="623.4" cy="1118" r="2.3"/><circle cx="624.3" cy="1114.7" r="2.3"/><circle cx="625.1" cy="1073.4" r="2.3"/><circle cx="626" cy="1130.2" r="2.3"/><circle cx="627.7" cy="1135" r="2.3"/><circle cx="629.4" cy="1155.3" r="2.3"/><circle cx="630.3" cy="1141.4" r="2.3"/><circle cx="631.1" cy="1133.5" r="2.3"/><circle cx="632.8" cy="1080.9" r="2.3"/><circle cx="633.7" cy="1061.1" r="2.3"/><circle cx="634.6" cy="1198.3" r="2.3"/><circle cx="636.3" cy="1135.5" r="2.3"/><circle cx="638.8" cy="1146.8" r="2.3"/><circle cx="639.7" cy="1089.6" r="2.3"/><circle cx="640.6" cy="1100.6" r="2.3"/><circle cx="641.4" cy="1175.9" r="2.3"/><circle cx="642.3" cy="1141.4" r="2.3"/><circle cx="643.1" cy="1124.8" r="2.3"/><circle cx="644" cy="1174.3" r="2.3"/><circle cx="644.8" cy="1165.8" r="2.3"/><circle cx="645.7" cy="1128.5" r="2.3"/><circle cx="646.6" cy="1160.5" r="2.3"/><circle cx="647.4" cy="1113.4" r="2.3"/><circle cx="648.3" cy="1143.9" r="2.3"/><circle cx="649.1" cy="1094.4" r="2.3"/><circle cx="650" cy="1123.7" r="2.3"/><circle cx="652.6" cy="1158.1" r="2.3"/><circle cx="653.4" cy="1052.2" r="2.3"/><circle cx="656" cy="1125.1" r="2.3"/><circle cx="657.7" cy="1188.1" r="2.3"/><circle cx="658.6" cy="1101.7" r="2.3"/><circle cx="659.4" cy="1055" r="2.3"/><circle cx="660.3" cy="1137.1" r="2.3"/><circle cx="662" cy="1184.3" r="2.3"/><circle cx="662.8" cy="1101.3" r="2.3"/><circle cx="664.6" cy="1174.3" r="2.3"/><circle cx="665.4" cy="1059.9" r="2.3"/><circle cx="666.3" cy="1069.3" r="2.3"/><circle cx="667.1" cy="1116" r="2.3"/><circle cx="668" cy="1153.3" r="2.3"/><circle cx="668.9" cy="1164" r="2.3"/><circle cx="670.6" cy="1090.6" r="2.3"/><circle cx="671.4" cy="1114.8" r="2.3"/><circle cx="672.3" cy="1094.5" r="2.3"/><circle cx="673.1" cy="1097.7" r="2.3"/><circle cx="674.9" cy="1138" r="2.3"/><circle cx="675.7" cy="1165.8" r="2.3"/><circle cx="676.6" cy="1203" r="2.3"/><circle cx="677.4" cy="1162.8" r="2.3"/><circle cx="679.1" cy="1156.1" r="2.3"/><circle cx="680" cy="1082.1" r="2.3"/><circle cx="680.9" cy="1152.3" r="2.3"/><circle cx="681.7" cy="1139.9" r="2.3"/><circle cx="682.6" cy="1124.5" r="2.3"/><circle cx="683.4" cy="1055" r="2.3"/><circle cx="684.3" cy="1104.1" r="2.3"/><circle cx="685.1" cy="1028.1" r="2.3"/><circle cx="686" cy="1127.6" r="2.3"/><circle cx="686.9" cy="1194.6" r="2.3"/><circle cx="687.7" cy="1137" r="2.3"/><circle cx="688.6" cy="1108.9" r="2.3"/><circle cx="689.4" cy="1172.6" r="2.3"/><circle cx="690.3" cy="1063" r="2.3"/><circle cx="691.1" cy="1077.2" r="2.3"/><circle cx="692" cy="1094.8" r="2.3"/><circle cx="692.9" cy="1127.7" r="2.3"/><circle cx="693.7" cy="1104.7" r="2.3"/><circle cx="694.6" cy="1120.5" r="2.3"/><circle cx="695.4" cy="1144.8" r="2.3"/><circle cx="696.3" cy="1179.1" r="2.3"/><circle cx="697.1" cy="1131" r="2.3"/><circle cx="698.9" cy="1151.3" r="2.3"/><circle cx="699.7" cy="1121.3" r="2.3"/><circle cx="700.6" cy="1116.6" r="2.3"/><circle cx="701.4" cy="1150.8" r="2.3"/><circle cx="702.3" cy="1161.4" r="2.3"/><circle cx="703.2" cy="1203.9" r="2.3"/><circle cx="704.9" cy="1079.8" r="2.3"/><circle cx="705.7" cy="1082.1" r="2.3"/><circle cx="706.6" cy="1135.9" r="2.3"/><circle cx="707.4" cy="1128.1" r="2.3"/><circle cx="708.3" cy="1133.1" r="2.3"/><circle cx="709.2" cy="1157.2" r="2.3"/><circle cx="710.9" cy="1148" r="2.3"/><circle cx="711.7" cy="1113.4" r="2.3"/><circle cx="712.6" cy="1117.5" r="2.3"/><circle cx="713.4" cy="1118.1" r="2.3"/><circle cx="714.3" cy="1059.6" r="2.3"/><circle cx="716" cy="1138.8" r="2.3"/><circle cx="717.7" cy="1139.4" r="2.3"/><circle cx="718.6" cy="1131.4" r="2.3"/><circle cx="719.4" cy="1140.7" r="2.3"/><circle cx="720.3" cy="1078.7" r="2.3"/><circle cx="721.2" cy="1141.7" r="2.3"/><circle cx="722" cy="1132.8" r="2.3"/><circle cx="723.7" cy="1116" r="2.3"/><circle cx="724.6" cy="1108.6" r="2.3"/><circle cx="725.4" cy="1096" r="2.3"/><circle cx="727.2" cy="1081.8" r="2.3"/><circle cx="728" cy="1148.9" r="2.3"/><circle cx="728.9" cy="1127.1" r="2.3"/><circle cx="730.6" cy="1130.4" r="2.3"/><circle cx="732.3" cy="1155" r="2.3"/><circle cx="733.2" cy="1164" r="2.3"/><circle cx="734" cy="1112.4" r="2.3"/><circle cx="734.9" cy="1145.7" r="2.3"/><circle cx="735.7" cy="1119.9" r="2.3"/><circle cx="737.5" cy="1150" r="2.3"/><circle cx="738.3" cy="1156.3" r="2.3"/><circle cx="739.2" cy="1133.5" r="2.3"/><circle cx="740" cy="1145.7" r="2.3"/><circle cx="740.9" cy="1153.7" r="2.3"/><circle cx="741.7" cy="1130.4" r="2.3"/><circle cx="742.6" cy="1120.3" r="2.3"/><circle cx="743.5" cy="1092.2" r="2.3"/><circle cx="744.3" cy="1162.2" r="2.3"/><circle cx="746.9" cy="1128" r="2.3"/><circle cx="747.7" cy="1097.4" r="2.3"/><circle cx="748.6" cy="1172.3" r="2.3"/><circle cx="749.5" cy="1205.4" r="2.3"/><circle cx="750.3" cy="1143.6" r="2.3"/><circle cx="751.2" cy="1152.6" r="2.3"/><circle cx="752" cy="1029.8" r="2.3"/><circle cx="752.9" cy="1073.7" r="2.3"/><circle cx="753.7" cy="1110.8" r="2.3"/><circle cx="754.6" cy="1128.7" r="2.3"/><circle cx="755.5" cy="1136.4" r="2.3"/><circle cx="756.3" cy="1111.2" r="2.3"/><circle cx="757.2" cy="1127.9" r="2.3"/><circle cx="758" cy="1166.8" r="2.3"/><circle cx="758.9" cy="1124.5" r="2.3"/><circle cx="760.6" cy="1067.1" r="2.3"/><circle cx="761.5" cy="1108.5" r="2.3"/><circle cx="762.3" cy="1094.1" r="2.3"/><circle cx="763.2" cy="1137.8" r="2.3"/><circle cx="765.7" cy="1059.7" r="2.3"/><circle cx="766.6" cy="1132.2" r="2.3"/><circle cx="768.3" cy="1108.7" r="2.3"/><circle cx="772.6" cy="1088.5" r="2.3"/><circle cx="775.2" cy="1112.7" r="2.3"/><circle cx="776" cy="1095.7" r="2.3"/><circle cx="776.9" cy="1146.2" r="2.3"/><circle cx="778.6" cy="1141.6" r="2.3"/><circle cx="780.3" cy="1175.5" r="2.3"/><circle cx="782" cy="1136.3" r="2.3"/><circle cx="784.6" cy="1119" r="2.3"/><circle cx="785.5" cy="1158.7" r="2.3"/><circle cx="786.3" cy="1129.7" r="2.3"/><circle cx="787.2" cy="1112.9" r="2.3"/><circle cx="788" cy="1112.9" r="2.3"/><circle cx="791.5" cy="1137.2" r="2.3"/><circle cx="792.3" cy="1140.5" r="2.3"/><circle cx="793.2" cy="1176.1" r="2.3"/><circle cx="794.9" cy="1153.7" r="2.3"/><circle cx="795.8" cy="1127.9" r="2.3"/><circle cx="797.5" cy="1122.9" r="2.3"/><circle cx="798.3" cy="1138.3" r="2.3"/><circle cx="802.6" cy="1139.2" r="2.3"/><circle cx="804.3" cy="1173.3" r="2.3"/><circle cx="805.2" cy="1044.3" r="2.3"/><circle cx="806.1" cy="1119.9" r="2.3"/><circle cx="806.9" cy="1135.7" r="2.3"/><circle cx="807.8" cy="1190.2" r="2.3"/><circle cx="809.5" cy="1099.5" r="2.3"/><circle cx="812.1" cy="1096.1" r="2.3"/><circle cx="812.9" cy="1131.9" r="2.3"/><circle cx="813.8" cy="1082.6" r="2.3"/><circle cx="815.5" cy="1190.3" r="2.3"/><circle cx="820.6" cy="1142" r="2.3"/><circle cx="821.5" cy="1080.7" r="2.3"/><circle cx="825.8" cy="1135.1" r="2.3"/><circle cx="829.2" cy="1130.6" r="2.3"/><circle cx="830.1" cy="1160.3" r="2.3"/><circle cx="832.6" cy="1128.2" r="2.3"/><circle cx="834.3" cy="1141.2" r="2.3"/><circle cx="835.2" cy="1086.1" r="2.3"/><circle cx="836.1" cy="1141.6" r="2.3"/><circle cx="838.6" cy="1084.6" r="2.3"/><circle cx="839.5" cy="1101" r="2.3"/><circle cx="840.4" cy="1135.2" r="2.3"/><circle cx="841.2" cy="1153" r="2.3"/><circle cx="843.8" cy="1189.9" r="2.3"/><circle cx="844.6" cy="1119.1" r="2.3"/><circle cx="846.4" cy="1147.1" r="2.3"/><circle cx="847.2" cy="1128.6" r="2.3"/><circle cx="849.8" cy="1120.3" r="2.3"/><circle cx="850.6" cy="1074" r="2.3"/><circle cx="851.5" cy="1080.3" r="2.3"/><circle cx="852.4" cy="1141.1" r="2.3"/><circle cx="854.9" cy="1129.8" r="2.3"/><circle cx="855.8" cy="1138.8" r="2.3"/><circle cx="856.6" cy="1090.5" r="2.3"/><circle cx="858.4" cy="1211.2" r="2.3"/><circle cx="860.1" cy="1108.9" r="2.3"/><circle cx="861.8" cy="1143" r="2.3"/><circle cx="862.6" cy="1126.1" r="2.3"/><circle cx="863.5" cy="1167.1" r="2.3"/><circle cx="865.2" cy="1111.1" r="2.3"/><circle cx="866.9" cy="1131.7" r="2.3"/><circle cx="867.8" cy="1136.9" r="2.3"/><circle cx="868.6" cy="1176.5" r="2.3"/><circle cx="869.5" cy="1105.9" r="2.3"/><circle cx="870.4" cy="1158.9" r="2.3"/><circle cx="871.2" cy="1166.6" r="2.3"/><circle cx="872.1" cy="1115.5" r="2.3"/><circle cx="873.8" cy="1109.1" r="2.3"/><circle cx="874.7" cy="1163.5" r="2.3"/><circle cx="875.5" cy="1136.5" r="2.3"/><circle cx="876.4" cy="1153.1" r="2.3"/><circle cx="877.2" cy="1168.3" r="2.3"/><circle cx="878.1" cy="1151.1" r="2.3"/><circle cx="879.8" cy="1122.6" r="2.3"/><circle cx="880.7" cy="1172.2" r="2.3"/><circle cx="881.5" cy="1159.6" r="2.3"/><circle cx="884.1" cy="1119.6" r="2.3"/><circle cx="885.8" cy="1196.6" r="2.3"/><circle cx="886.7" cy="1125.9" r="2.3"/><circle cx="887.5" cy="1105.6" r="2.3"/><circle cx="889.2" cy="1167.4" r="2.3"/><circle cx="890.1" cy="1114.4" r="2.3"/><circle cx="890.9" cy="1147.4" r="2.3"/><circle cx="891.8" cy="1131.3" r="2.3"/><circle cx="892.7" cy="1109.2" r="2.3"/><circle cx="893.5" cy="1128.1" r="2.3"/><circle cx="894.4" cy="1127" r="2.3"/><circle cx="896.1" cy="1127.6" r="2.3"/><circle cx="896.9" cy="1091.5" r="2.3"/><circle cx="901.2" cy="1128.9" r="2.3"/><circle cx="902.1" cy="1124.6" r="2.3"/><circle cx="904.7" cy="1110.3" r="2.3"/><circle cx="906.4" cy="1125.9" r="2.3"/><circle cx="908.1" cy="1073.5" r="2.3"/><circle cx="909" cy="1146.6" r="2.3"/><circle cx="910.7" cy="1110.9" r="2.3"/><circle cx="911.5" cy="1144.7" r="2.3"/><circle cx="912.4" cy="1139.5" r="2.3"/><circle cx="913.2" cy="1178.9" r="2.3"/><circle cx="917.5" cy="1158.8" r="2.3"/><circle cx="918.4" cy="1127.5" r="2.3"/><circle cx="919.2" cy="1153.1" r="2.3"/><circle cx="921" cy="1104.5" r="2.3"/><circle cx="923.5" cy="1142.5" r="2.3"/></g>
<g fill="#8aee3e"><circle cx="583.8" cy="1433.1" r="2.2"/><circle cx="585" cy="1423.3" r="2.2"/><circle cx="585.7" cy="1420.5" r="2.2"/><circle cx="586.7" cy="1416.2" r="2.2"/><circle cx="587.7" cy="1411.9" r="2.2"/><circle cx="588.7" cy="1410" r="2.2"/><circle cx="589.7" cy="1408.2" r="2.2"/><circle cx="590.7" cy="1406.3" r="2.2"/><circle cx="591.7" cy="1404.4" r="2.2"/><circle cx="592.7" cy="1402.6" r="2.2"/><circle cx="593.7" cy="1400.8" r="2.2"/><circle cx="594.7" cy="1399.8" r="2.2"/><circle cx="595.7" cy="1398.8" r="2.2"/><circle cx="596.7" cy="1397.8" r="2.2"/><circle cx="597.7" cy="1396.8" r="2.2"/><circle cx="598.7" cy="1395.8" r="2.2"/><circle cx="599.7" cy="1394.8" r="2.2"/><circle cx="600.7" cy="1393.8" r="2.2"/><circle cx="601.7" cy="1392.9" r="2.2"/><circle cx="602.7" cy="1392.1" r="2.2"/><circle cx="603.7" cy="1391.4" r="2.2"/><circle cx="604.7" cy="1390.7" r="2.2"/><circle cx="605.7" cy="1390" r="2.2"/><circle cx="606.7" cy="1389.3" r="2.2"/><circle cx="607.7" cy="1388.6" r="2.2"/><circle cx="608.7" cy="1387.8" r="2.2"/><circle cx="609.7" cy="1387.1" r="2.2"/><circle cx="610.7" cy="1386.4" r="2.2"/><circle cx="611.7" cy="1385.7" r="2.2"/><circle cx="612.7" cy="1385" r="2.2"/><circle cx="613.7" cy="1384.3" r="2.2"/><circle cx="614.7" cy="1383.6" r="2.2"/><circle cx="615.7" cy="1383" r="2.2"/><circle cx="616.7" cy="1382.5" r="2.2"/><circle cx="617.7" cy="1382" r="2.2"/><circle cx="618.7" cy="1381.6" r="2.2"/><circle cx="619.7" cy="1381.1" r="2.2"/><circle cx="620.7" cy="1380.7" r="2.2"/><circle cx="621.7" cy="1380.2" r="2.2"/><circle cx="622.7" cy="1379.7" r="2.2"/><circle cx="623.7" cy="1379.3" r="2.2"/><circle cx="624.7" cy="1378.8" r="2.2"/><circle cx="625.7" cy="1378.4" r="2.2"/><circle cx="626.7" cy="1377.9" r="2.2"/><circle cx="627.7" cy="1377.4" r="2.2"/><circle cx="628.7" cy="1377" r="2.2"/><circle cx="629.7" cy="1376.5" r="2.2"/><circle cx="630.7" cy="1376.1" r="2.2"/><circle cx="631.7" cy="1375.6" r="2.2"/><circle cx="632.7" cy="1375.1" r="2.2"/><circle cx="633.7" cy="1374.7" r="2.2"/><circle cx="634.7" cy="1374.2" r="2.2"/><circle cx="635.7" cy="1373.8" r="2.2"/><circle cx="636.7" cy="1373.3" r="2.2"/><circle cx="637.7" cy="1372.8" r="2.2"/><circle cx="638.7" cy="1372.4" r="2.2"/><circle cx="639.7" cy="1371.9" r="2.2"/><circle cx="640.7" cy="1371.4" r="2.2"/><circle cx="641.7" cy="1371.2" r="2.2"/><circle cx="642.7" cy="1370.9" r="2.2"/><circle cx="643.7" cy="1370.7" r="2.2"/><circle cx="644.7" cy="1370.4" r="2.2"/><circle cx="645.7" cy="1370.2" r="2.2"/><circle cx="646.7" cy="1370" r="2.2"/><circle cx="647.7" cy="1369.7" r="2.2"/><circle cx="648.7" cy="1369.5" r="2.2"/><circle cx="649.7" cy="1369.2" r="2.2"/><circle cx="650.7" cy="1369" r="2.2"/><circle cx="651.7" cy="1368.7" r="2.2"/><circle cx="652.7" cy="1368.5" r="2.2"/><circle cx="653.7" cy="1368.3" r="2.2"/><circle cx="654.7" cy="1368" r="2.2"/><circle cx="655.7" cy="1367.8" r="2.2"/><circle cx="656.7" cy="1367.5" r="2.2"/><circle cx="657.7" cy="1367.3" r="2.2"/><circle cx="658.7" cy="1367" r="2.2"/><circle cx="659.7" cy="1366.8" r="2.2"/><circle cx="660.7" cy="1366.6" r="2.2"/><circle cx="661.7" cy="1366.3" r="2.2"/><circle cx="662.7" cy="1366.1" r="2.2"/><circle cx="663.7" cy="1365.8" r="2.2"/><circle cx="664.7" cy="1365.6" r="2.2"/><circle cx="665.7" cy="1365.3" r="2.2"/><circle cx="666.7" cy="1365.1" r="2.2"/><circle cx="667.7" cy="1364.8" r="2.2"/><circle cx="668.7" cy="1364.6" r="2.2"/><circle cx="669.7" cy="1364.3" r="2.2"/><circle cx="670.7" cy="1364.1" r="2.2"/><circle cx="671.7" cy="1363.8" r="2.2"/><circle cx="672.7" cy="1363.6" r="2.2"/><circle cx="673.7" cy="1363.3" r="2.2"/><circle cx="674.7" cy="1363.1" r="2.2"/><circle cx="675.7" cy="1362.8" r="2.2"/><circle cx="676.7" cy="1362.6" r="2.2"/><circle cx="677.7" cy="1362.3" r="2.2"/><circle cx="678.7" cy="1362.1" r="2.2"/><circle cx="679.7" cy="1361.8" r="2.2"/><circle cx="680.7" cy="1361.6" r="2.2"/><circle cx="681.7" cy="1361.3" r="2.2"/><circle cx="682.7" cy="1361.1" r="2.2"/><circle cx="683.7" cy="1360.8" r="2.2"/><circle cx="684.7" cy="1360.6" r="2.2"/><circle cx="685.7" cy="1360.3" r="2.2"/><circle cx="686.7" cy="1360.1" r="2.2"/><circle cx="687.7" cy="1359.8" r="2.2"/><circle cx="688.7" cy="1359.6" r="2.2"/><circle cx="689.7" cy="1359.3" r="2.2"/><circle cx="690.7" cy="1359.1" r="2.2"/><circle cx="691.7" cy="1358.8" r="2.2"/><circle cx="692.7" cy="1358.6" r="2.2"/><circle cx="693.7" cy="1358.3" r="2.2"/><circle cx="694.7" cy="1358.1" r="2.2"/><circle cx="695.7" cy="1357.8" r="2.2"/><circle cx="696.7" cy="1357.6" r="2.2"/><circle cx="697.7" cy="1357.3" r="2.2"/><circle cx="698.7" cy="1357.1" r="2.2"/><circle cx="699.7" cy="1356.8" r="2.2"/><circle cx="700.7" cy="1356.6" r="2.2"/><circle cx="701.7" cy="1356.4" r="2.2"/><circle cx="702.7" cy="1356.2" r="2.2"/><circle cx="703.7" cy="1356" r="2.2"/><circle cx="704.7" cy="1355.8" r="2.2"/><circle cx="705.7" cy="1355.6" r="2.2"/><circle cx="706.7" cy="1355.3" r="2.2"/><circle cx="707.7" cy="1355.1" r="2.2"/><circle cx="708.7" cy="1354.9" r="2.2"/><circle cx="709.7" cy="1354.7" r="2.2"/><circle cx="710.7" cy="1354.5" r="2.2"/><circle cx="711.7" cy="1354.3" r="2.2"/><circle cx="712.7" cy="1354.1" r="2.2"/><circle cx="713.7" cy="1353.9" r="2.2"/><circle cx="714.7" cy="1353.7" r="2.2"/><circle cx="715.7" cy="1353.4" r="2.2"/><circle cx="716.7" cy="1353.2" r="2.2"/><circle cx="717.7" cy="1353" r="2.2"/><circle cx="718.7" cy="1352.8" r="2.2"/><circle cx="719.7" cy="1352.6" r="2.2"/><circle cx="720.7" cy="1352.4" r="2.2"/><circle cx="721.7" cy="1352.2" r="2.2"/><circle cx="722.7" cy="1352" r="2.2"/><circle cx="723.7" cy="1351.8" r="2.2"/><circle cx="724.7" cy="1351.5" r="2.2"/><circle cx="725.7" cy="1351.3" r="2.2"/><circle cx="726.7" cy="1351.1" r="2.2"/><circle cx="727.7" cy="1350.9" r="2.2"/><circle cx="728.7" cy="1350.7" r="2.2"/><circle cx="729.7" cy="1350.5" r="2.2"/><circle cx="730.7" cy="1350.3" r="2.2"/><circle cx="731.7" cy="1350.1" r="2.2"/><circle cx="732.7" cy="1349.9" r="2.2"/><circle cx="733.7" cy="1349.7" r="2.2"/><circle cx="734.7" cy="1349.5" r="2.2"/><circle cx="735.7" cy="1349.3" r="2.2"/><circle cx="736.7" cy="1349.1" r="2.2"/><circle cx="737.7" cy="1348.9" r="2.2"/><circle cx="738.7" cy="1348.7" r="2.2"/><circle cx="739.7" cy="1348.5" r="2.2"/><circle cx="740.7" cy="1348.3" r="2.2"/><circle cx="741.7" cy="1348.1" r="2.2"/><circle cx="742.7" cy="1347.9" r="2.2"/><circle cx="743.7" cy="1347.7" r="2.2"/><circle cx="744.7" cy="1347.5" r="2.2"/><circle cx="745.7" cy="1347.3" r="2.2"/><circle cx="746.7" cy="1347.1" r="2.2"/><circle cx="747.7" cy="1346.9" r="2.2"/><circle cx="748.7" cy="1346.7" r="2.2"/><circle cx="749.7" cy="1346.5" r="2.2"/><circle cx="750.7" cy="1346.3" r="2.2"/><circle cx="751.7" cy="1346.1" r="2.2"/><circle cx="752.7" cy="1345.9" r="2.2"/></g>
<g fill="#cc1414"><circle cx="753.8" cy="1345.7" r="2.2"/><circle cx="754.8" cy="1345.4" r="2.2"/><circle cx="755.8" cy="1345.2" r="2.2"/><circle cx="756.8" cy="1345" r="2.2"/><circle cx="757.8" cy="1344.8" r="2.2"/><circle cx="758.8" cy="1344.6" r="2.2"/><circle cx="759.8" cy="1344.3" r="2.2"/><circle cx="760.8" cy="1344.1" r="2.2"/><circle cx="761.8" cy="1343.9" r="2.2"/><circle cx="762.8" cy="1343.7" r="2.2"/><circle cx="763.8" cy="1343.5" r="2.2"/><circle cx="764.8" cy="1343.2" r="2.2"/><circle cx="765.8" cy="1343" r="2.2"/><circle cx="766.8" cy="1342.8" r="2.2"/><circle cx="767.8" cy="1342.6" r="2.2"/><circle cx="768.8" cy="1342.4" r="2.2"/><circle cx="769.8" cy="1342.1" r="2.2"/><circle cx="770.8" cy="1341.9" r="2.2"/><circle cx="771.8" cy="1341.7" r="2.2"/><circle cx="772.8" cy="1341.5" r="2.2"/><circle cx="773.8" cy="1341.3" r="2.2"/><circle cx="774.8" cy="1341" r="2.2"/><circle cx="775.8" cy="1340.8" r="2.2"/><circle cx="776.8" cy="1340.6" r="2.2"/><circle cx="777.8" cy="1340.4" r="2.2"/><circle cx="778.8" cy="1340.2" r="2.2"/><circle cx="779.8" cy="1340" r="2.2"/><circle cx="780.8" cy="1339.8" r="2.2"/><circle cx="781.8" cy="1339.6" r="2.2"/><circle cx="782.8" cy="1339.4" r="2.2"/><circle cx="783.8" cy="1339.2" r="2.2"/><circle cx="784.8" cy="1339" r="2.2"/><circle cx="785.8" cy="1338.8" r="2.2"/><circle cx="786.8" cy="1338.6" r="2.2"/><circle cx="787.8" cy="1338.4" r="2.2"/><circle cx="788.8" cy="1338.2" r="2.2"/><circle cx="789.8" cy="1338" r="2.2"/><circle cx="790.8" cy="1337.8" r="2.2"/><circle cx="791.8" cy="1337.6" r="2.2"/><circle cx="792.8" cy="1337.4" r="2.2"/><circle cx="793.8" cy="1337.2" r="2.2"/><circle cx="794.8" cy="1337" r="2.2"/><circle cx="795.8" cy="1336.8" r="2.2"/><circle cx="796.8" cy="1336.6" r="2.2"/><circle cx="797.8" cy="1336.4" r="2.2"/><circle cx="798.8" cy="1336.2" r="2.2"/><circle cx="799.8" cy="1336" r="2.2"/><circle cx="800.8" cy="1335.8" r="2.2"/><circle cx="801.8" cy="1335.6" r="2.2"/><circle cx="802.8" cy="1335.4" r="2.2"/><circle cx="803.8" cy="1335.2" r="2.2"/><circle cx="804.8" cy="1335" r="2.2"/><circle cx="805.8" cy="1334.8" r="2.2"/><circle cx="806.8" cy="1334.6" r="2.2"/><circle cx="807.8" cy="1334.3" r="2.2"/><circle cx="808.8" cy="1334.1" r="2.2"/><circle cx="809.8" cy="1333.9" r="2.2"/><circle cx="810.8" cy="1333.6" r="2.2"/><circle cx="811.8" cy="1333.4" r="2.2"/><circle cx="812.8" cy="1333.2" r="2.2"/><circle cx="813.8" cy="1332.9" r="2.2"/><circle cx="814.8" cy="1332.7" r="2.2"/><circle cx="815.8" cy="1332.4" r="2.2"/><circle cx="816.8" cy="1332.2" r="2.2"/><circle cx="817.8" cy="1332" r="2.2"/><circle cx="818.8" cy="1331.7" r="2.2"/><circle cx="819.8" cy="1331.5" r="2.2"/><circle cx="820.8" cy="1331.2" r="2.2"/><circle cx="821.8" cy="1331" r="2.2"/><circle cx="822.8" cy="1330.8" r="2.2"/><circle cx="823.8" cy="1330.5" r="2.2"/><circle cx="824.8" cy="1330.3" r="2.2"/><circle cx="825.8" cy="1330.1" r="2.2"/><circle cx="826.8" cy="1329.8" r="2.2"/><circle cx="827.8" cy="1329.6" r="2.2"/><circle cx="828.8" cy="1329.3" r="2.2"/><circle cx="829.8" cy="1329.1" r="2.2"/><circle cx="830.8" cy="1328.9" r="2.2"/><circle cx="831.8" cy="1328.6" r="2.2"/><circle cx="832.8" cy="1328.4" r="2.2"/><circle cx="833.8" cy="1328.1" r="2.2"/><circle cx="834.8" cy="1327.9" r="2.2"/><circle cx="835.8" cy="1327.7" r="2.2"/><circle cx="836.8" cy="1327.4" r="2.2"/><circle cx="837.8" cy="1327.2" r="2.2"/><circle cx="838.8" cy="1327" r="2.2"/><circle cx="839.8" cy="1326.7" r="2.2"/><circle cx="840.8" cy="1326.5" r="2.2"/><circle cx="841.8" cy="1326.2" r="2.2"/><circle cx="842.8" cy="1326" r="2.2"/><circle cx="843.8" cy="1325.8" r="2.2"/><circle cx="844.8" cy="1325.5" r="2.2"/><circle cx="845.8" cy="1325.2" r="2.2"/><circle cx="846.8" cy="1324.8" r="2.2"/><circle cx="847.8" cy="1324.3" r="2.2"/><circle cx="848.8" cy="1323.9" r="2.2"/><circle cx="849.8" cy="1323.5" r="2.2"/><circle cx="850.8" cy="1323" r="2.2"/><circle cx="851.8" cy="1322.6" r="2.2"/><circle cx="852.8" cy="1322.2" r="2.2"/><circle cx="853.8" cy="1321.7" r="2.2"/><circle cx="854.8" cy="1321.3" r="2.2"/><circle cx="855.8" cy="1320.9" r="2.2"/><circle cx="856.8" cy="1320.5" r="2.2"/><circle cx="857.8" cy="1320" r="2.2"/><circle cx="858.8" cy="1319.6" r="2.2"/><circle cx="859.8" cy="1319.2" r="2.2"/><circle cx="860.8" cy="1318.7" r="2.2"/><circle cx="861.8" cy="1318.3" r="2.2"/><circle cx="862.8" cy="1317.9" r="2.2"/><circle cx="863.8" cy="1317.4" r="2.2"/><circle cx="864.8" cy="1317" r="2.2"/><circle cx="865.8" cy="1316.6" r="2.2"/><circle cx="866.8" cy="1316.2" r="2.2"/><circle cx="867.8" cy="1315.7" r="2.2"/><circle cx="868.8" cy="1315.3" r="2.2"/><circle cx="869.8" cy="1314.9" r="2.2"/><circle cx="870.8" cy="1314.4" r="2.2"/><circle cx="871.8" cy="1314" r="2.2"/><circle cx="872.8" cy="1313.6" r="2.2"/><circle cx="873.8" cy="1313.1" r="2.2"/><circle cx="874.8" cy="1312.7" r="2.2"/><circle cx="875.8" cy="1312.3" r="2.2"/><circle cx="876.8" cy="1311.9" r="2.2"/><circle cx="877.8" cy="1311.4" r="2.2"/><circle cx="878.8" cy="1311" r="2.2"/><circle cx="879.8" cy="1310.6" r="2.2"/><circle cx="880.8" cy="1310.1" r="2.2"/><circle cx="881.8" cy="1309.7" r="2.2"/><circle cx="882.8" cy="1309.3" r="2.2"/><circle cx="883.8" cy="1308.8" r="2.2"/><circle cx="884.8" cy="1308.3" r="2.2"/><circle cx="885.8" cy="1307.5" r="2.2"/><circle cx="886.8" cy="1306.7" r="2.2"/><circle cx="887.8" cy="1305.9" r="2.2"/><circle cx="888.8" cy="1305.1" r="2.2"/><circle cx="889.8" cy="1304.3" r="2.2"/><circle cx="890.8" cy="1303.5" r="2.2"/><circle cx="891.8" cy="1302.7" r="2.2"/><circle cx="892.8" cy="1301.9" r="2.2"/><circle cx="893.8" cy="1301.1" r="2.2"/><circle cx="894.8" cy="1300.3" r="2.2"/><circle cx="895.8" cy="1299.5" r="2.2"/><circle cx="896.8" cy="1298.7" r="2.2"/><circle cx="897.8" cy="1297.9" r="2.2"/><circle cx="898.8" cy="1297.1" r="2.2"/><circle cx="899.8" cy="1296.3" r="2.2"/><circle cx="900.8" cy="1295.5" r="2.2"/><circle cx="901.8" cy="1294.7" r="2.2"/><circle cx="902.8" cy="1293.9" r="2.2"/><circle cx="903.8" cy="1293.1" r="2.2"/><circle cx="904.8" cy="1292.2" r="2.2"/><circle cx="905.8" cy="1291.2" r="2.2"/><circle cx="906.8" cy="1290.2" r="2.2"/><circle cx="907.8" cy="1289.2" r="2.2"/><circle cx="908.8" cy="1288.2" r="2.2"/><circle cx="909.8" cy="1287.2" r="2.2"/><circle cx="910.8" cy="1286.3" r="2.2"/><circle cx="911.8" cy="1285.3" r="2.2"/><circle cx="912.8" cy="1284.3" r="2.2"/><circle cx="913.8" cy="1283.3" r="2.2"/><circle cx="914.8" cy="1282.3" r="2.2"/><circle cx="915.8" cy="1281.3" r="2.2"/><circle cx="916.8" cy="1279.6" r="2.2"/><circle cx="917.8" cy="1277.7" r="2.2"/><circle cx="918.8" cy="1275.8" r="2.2"/><circle cx="920" cy="1259.3" r="2.2"/><circle cx="922" cy="1253.4" r="2.2"/><circle cx="923.1" cy="1244.4" r="2.2"/><circle cx="923.9" cy="1235.7" r="2.2"/><circle cx="924.7" cy="1227.1" r="2.2"/></g>
<rect x="570.3" y="1019" width="366.4" height="422.5" fill="none" stroke="#555" stroke-width="1.1"/>
<line x1="570.3" y1="1218.2" x2="936.7" y2="1218.2" stroke="#555" stroke-width="1.1"/>
<line x1="564.8" y1="1211.2" x2="570.3" y2="1211.2" stroke="#444" stroke-width="1"/>
<text x="560.6" y="1215.7" text-anchor="end" font-size="13.2" fill="#1a1a1a" textLength="7" lengthAdjust="spacingAndGlyphs">0</text>
<line x1="564.8" y1="1178.6" x2="570.3" y2="1178.6" stroke="#444" stroke-width="1"/>
<text x="560.6" y="1183.1" text-anchor="end" font-size="13.2" fill="#1a1a1a" textLength="7" lengthAdjust="spacingAndGlyphs">1</text>
<line x1="564.8" y1="1146" x2="570.3" y2="1146" stroke="#444" stroke-width="1"/>
<text x="560.6" y="1150.5" text-anchor="end" font-size="13.2" fill="#1a1a1a" textLength="7" lengthAdjust="spacingAndGlyphs">2</text>
<line x1="564.8" y1="1113.4" x2="570.3" y2="1113.4" stroke="#444" stroke-width="1"/>
<text x="560.6" y="1117.9" text-anchor="end" font-size="13.2" fill="#1a1a1a" textLength="7" lengthAdjust="spacingAndGlyphs">3</text>
<line x1="564.8" y1="1080.8" x2="570.3" y2="1080.8" stroke="#444" stroke-width="1"/>
<text x="560.6" y="1085.3" text-anchor="end" font-size="13.2" fill="#1a1a1a" textLength="7" lengthAdjust="spacingAndGlyphs">4</text>
<line x1="564.8" y1="1048.2" x2="570.3" y2="1048.2" stroke="#444" stroke-width="1"/>
<text x="560.6" y="1052.7" text-anchor="end" font-size="13.2" fill="#1a1a1a" textLength="7" lengthAdjust="spacingAndGlyphs">5</text>
<line x1="564.8" y1="1412.1" x2="570.3" y2="1412.1" stroke="#444" stroke-width="1"/>
<text x="560.6" y="1416.6" text-anchor="end" font-size="13.2" fill="#1a1a1a" textLength="17.4" lengthAdjust="spacingAndGlyphs">1.2</text>
<line x1="564.8" y1="1365.8" x2="570.3" y2="1365.8" stroke="#444" stroke-width="1"/>
<text x="560.6" y="1370.3" text-anchor="end" font-size="13.2" fill="#1a1a1a" textLength="17.4" lengthAdjust="spacingAndGlyphs">1.4</text>
<line x1="564.8" y1="1319.5" x2="570.3" y2="1319.5" stroke="#444" stroke-width="1"/>
<text x="560.6" y="1324" text-anchor="end" font-size="13.2" fill="#1a1a1a" textLength="17.4" lengthAdjust="spacingAndGlyphs">1.6</text>
<line x1="564.8" y1="1273.2" x2="570.3" y2="1273.2" stroke="#444" stroke-width="1"/>
<text x="560.6" y="1277.7" text-anchor="end" font-size="13.2" fill="#1a1a1a" textLength="17.4" lengthAdjust="spacingAndGlyphs">1.8</text>
<line x1="564.8" y1="1226.9" x2="570.3" y2="1226.9" stroke="#444" stroke-width="1"/>
<text x="560.6" y="1231.4" text-anchor="end" font-size="13.2" fill="#1a1a1a" textLength="17.4" lengthAdjust="spacingAndGlyphs">2.0</text>
<line x1="583.1" y1="1441.5" x2="583.1" y2="1447" stroke="#444" stroke-width="1.1"/>
<text x="583.1" y="1461.7" text-anchor="middle" font-size="13.2" fill="#1a1a1a" textLength="7" lengthAdjust="spacingAndGlyphs">0</text>
<line x1="668.9" y1="1441.5" x2="668.9" y2="1447" stroke="#444" stroke-width="1.1"/>
<text x="668.9" y="1461.7" text-anchor="middle" font-size="13.2" fill="#1a1a1a" textLength="20.9" lengthAdjust="spacingAndGlyphs">100</text>
<line x1="754.6" y1="1441.5" x2="754.6" y2="1447" stroke="#444" stroke-width="1.1"/>
<text x="754.6" y="1461.7" text-anchor="middle" font-size="13.2" fill="#1a1a1a" textLength="20.9" lengthAdjust="spacingAndGlyphs">200</text>
<line x1="840.4" y1="1441.5" x2="840.4" y2="1447" stroke="#444" stroke-width="1.1"/>
<text x="840.4" y="1461.7" text-anchor="middle" font-size="13.2" fill="#1a1a1a" textLength="20.9" lengthAdjust="spacingAndGlyphs">300</text>
<line x1="926.1" y1="1441.5" x2="926.1" y2="1447" stroke="#444" stroke-width="1.1"/>
<text x="926.1" y="1461.7" text-anchor="middle" font-size="13.2" fill="#1a1a1a" textLength="20.9" lengthAdjust="spacingAndGlyphs">400</text>
<text x="761" y="1481.8" text-anchor="middle" font-size="13.2" fill="#1a1a1a" textLength="167" lengthAdjust="spacingAndGlyphs">Patients (increasing risk score)</text>
<text transform="translate(531.9,1126) rotate(-90)" x="0" y="4.5" text-anchor="middle" font-size="13.2" fill="#1a1a1a" textLength="108" lengthAdjust="spacingAndGlyphs">Survival time(years)</text>
<text transform="translate(531.9,1334.4) rotate(-90)" x="0" y="4.5" text-anchor="middle" font-size="13.2" fill="#1a1a1a" textLength="56" lengthAdjust="spacingAndGlyphs">Risk score</text>
<circle cx="866.4" cy="1041.5" r="3.2" fill="#d42222"/>
<circle cx="866.4" cy="1060.3" r="3.2" fill="#2233dd"/>
<text x="874.9" y="1046" text-anchor="start" font-size="13.2" fill="#1a1a1a" textLength="28" lengthAdjust="spacingAndGlyphs">Dead</text>
<text x="874.9" y="1064.8" text-anchor="start" font-size="13.2" fill="#1a1a1a" textLength="28" lengthAdjust="spacingAndGlyphs">Alive</text>
<rect x="15.5" y="521.7" width="213.8" height="5.9" fill="#8ef03c"/>
<rect x="229.3" y="521.7" width="212.1" height="5.9" fill="#d60c0c"/>
<text x="445" y="554.9" text-anchor="start" font-size="13.2" fill="#1a1a1a" textLength="31.5" lengthAdjust="spacingAndGlyphs">ACAN</text>
<text x="445" y="593.3" text-anchor="start" font-size="13.2" fill="#1a1a1a" textLength="64" lengthAdjust="spacingAndGlyphs">ADAMTS15</text>
<text x="445" y="631.7" text-anchor="start" font-size="13.2" fill="#1a1a1a" textLength="56.5" lengthAdjust="spacingAndGlyphs">ADAMTS8</text>
<text x="445" y="670" text-anchor="start" font-size="13.2" fill="#1a1a1a" textLength="31.5" lengthAdjust="spacingAndGlyphs">BCAN</text>
<text x="445" y="708.4" text-anchor="start" font-size="13.2" fill="#1a1a1a" textLength="45.5" lengthAdjust="spacingAndGlyphs">COL4A3</text>
<text x="445" y="746.8" text-anchor="start" font-size="13.2" fill="#1a1a1a" textLength="35" lengthAdjust="spacingAndGlyphs">ITGA8</text>
<text x="445" y="785.1" text-anchor="start" font-size="13.2" fill="#1a1a1a" textLength="35" lengthAdjust="spacingAndGlyphs">ITGB4</text>
<text x="445" y="823.5" text-anchor="start" font-size="13.2" fill="#1a1a1a" textLength="28" lengthAdjust="spacingAndGlyphs">LAD1</text>
<text x="445" y="861.9" text-anchor="start" font-size="13.2" fill="#1a1a1a" textLength="38" lengthAdjust="spacingAndGlyphs">TENM3</text>
<text x="445" y="900.3" text-anchor="start" font-size="13.2" fill="#1a1a1a" textLength="34" lengthAdjust="spacingAndGlyphs">TIMP1</text>
<path fill="#151a0a" shape-rendering="crispEdges" d="M15.5 529.9h1.3v38.4h-1.3zM23 529.9h1.3v38.4h-1.3zM38 529.9h1.3v38.4h-1.3zM43.1 529.9h2.6v38.4h-2.6zM46.8 529.9h1.3v38.4h-1.3zM49.3 529.9h1.3v38.4h-1.3zM75.6 529.9h1.3v38.4h-1.3zM81.9 529.9h1.3v38.4h-1.3zM85.6 529.9h3.8v38.4h-3.8zM93.2 529.9h1.3v38.4h-1.3zM99.4 529.9h1.3v38.4h-1.3zM101.9 529.9h1.3v38.4h-1.3zM118.2 529.9h3.8v38.4h-3.8zM125.7 529.9h1.3v38.4h-1.3zM130.7 529.9h2.6v38.4h-2.6zM134.5 529.9h3.8v38.4h-3.8zM139.5 529.9h1.3v38.4h-1.3zM142 529.9h1.3v38.4h-1.3zM144.5 529.9h1.3v38.4h-1.3zM154.5 529.9h3.8v38.4h-3.8zM168.3 529.9h2.6v38.4h-2.6zM173.3 529.9h2.6v38.4h-2.6zM185.9 529.9h1.3v38.4h-1.3zM188.4 529.9h1.3v38.4h-1.3zM190.9 529.9h1.3v38.4h-1.3zM195.9 529.9h1.3v38.4h-1.3zM199.6 529.9h1.3v38.4h-1.3zM204.6 529.9h1.3v38.4h-1.3zM212.2 529.9h1.3v38.4h-1.3zM218.4 529.9h2.6v38.4h-2.6zM225.9 529.9h1.3v38.4h-1.3zM232.2 529.9h1.3v38.4h-1.3zM238.5 529.9h1.3v38.4h-1.3zM242.2 529.9h2.6v38.4h-2.6zM246 529.9h1.3v38.4h-1.3zM261 529.9h1.3v38.4h-1.3zM271 529.9h1.3v38.4h-1.3zM278.6 529.9h3.8v38.4h-3.8zM296.1 529.9h1.3v38.4h-1.3zM302.4 529.9h1.3v38.4h-1.3zM321.1 529.9h1.3v38.4h-1.3zM337.4 529.9h1.3v38.4h-1.3zM342.4 529.9h1.3v38.4h-1.3zM350 529.9h1.3v38.4h-1.3zM353.7 529.9h1.3v38.4h-1.3zM356.2 529.9h1.3v38.4h-1.3zM358.7 529.9h1.3v38.4h-1.3zM368.7 529.9h1.3v38.4h-1.3zM406.3 529.9h1.3v38.4h-1.3zM412.6 529.9h1.3v38.4h-1.3zM416.3 529.9h2.6v38.4h-2.6zM422.6 529.9h1.3v38.4h-1.3zM430.1 529.9h1.3v38.4h-1.3zM437.6 529.9h1.3v38.4h-1.3zM36.8 568.3h1.3v38.4h-1.3zM81.9 568.3h6.3v38.4h-6.3zM90.7 568.3h1.3v38.4h-1.3zM108.2 568.3h1.3v38.4h-1.3zM134.5 568.3h1.3v38.4h-1.3zM137 568.3h1.3v38.4h-1.3zM159.6 568.3h2.6v38.4h-2.6zM164.6 568.3h1.3v38.4h-1.3zM169.6 568.3h1.3v38.4h-1.3zM173.3 568.3h1.3v38.4h-1.3zM185.9 568.3h1.3v38.4h-1.3zM190.9 568.3h1.3v38.4h-1.3zM213.4 568.3h1.3v38.4h-1.3zM217.2 568.3h2.6v38.4h-2.6zM220.9 568.3h1.3v38.4h-1.3zM225.9 568.3h2.6v38.4h-2.6zM229.7 568.3h1.3v38.4h-1.3zM233.5 568.3h1.3v38.4h-1.3zM236 568.3h2.6v38.4h-2.6zM244.7 568.3h1.3v38.4h-1.3zM248.5 568.3h1.3v38.4h-1.3zM263.5 568.3h2.6v38.4h-2.6zM271 568.3h1.3v38.4h-1.3zM273.5 568.3h1.3v38.4h-1.3zM291.1 568.3h3.8v38.4h-3.8zM297.3 568.3h1.3v38.4h-1.3zM306.1 568.3h1.3v38.4h-1.3zM308.6 568.3h1.3v38.4h-1.3zM313.6 568.3h2.6v38.4h-2.6zM322.4 568.3h6.3v38.4h-6.3zM329.9 568.3h1.3v38.4h-1.3zM333.7 568.3h1.3v38.4h-1.3zM343.7 568.3h1.3v38.4h-1.3zM352.5 568.3h1.3v38.4h-1.3zM358.7 568.3h1.3v38.4h-1.3zM370 568.3h1.3v38.4h-1.3zM376.3 568.3h1.3v38.4h-1.3zM380 568.3h2.6v38.4h-2.6zM387.5 568.3h2.6v38.4h-2.6zM398.8 568.3h2.6v38.4h-2.6zM403.8 568.3h1.3v38.4h-1.3zM407.6 568.3h1.3v38.4h-1.3zM412.6 568.3h2.6v38.4h-2.6zM418.9 568.3h1.3v38.4h-1.3zM423.9 568.3h1.3v38.4h-1.3zM428.9 568.3h1.3v38.4h-1.3zM431.4 568.3h1.3v38.4h-1.3zM437.6 568.3h2.6v38.4h-2.6zM43.1 606.6h1.3v38.4h-1.3zM45.6 606.6h1.3v38.4h-1.3zM70.6 606.6h1.3v38.4h-1.3zM79.4 606.6h1.3v38.4h-1.3zM81.9 606.6h1.3v38.4h-1.3zM90.7 606.6h1.3v38.4h-1.3zM105.7 606.6h1.3v38.4h-1.3zM119.5 606.6h1.3v38.4h-1.3zM127 606.6h1.3v38.4h-1.3zM132 606.6h1.3v38.4h-1.3zM135.8 606.6h1.3v38.4h-1.3zM138.3 606.6h1.3v38.4h-1.3zM142 606.6h1.3v38.4h-1.3zM145.8 606.6h1.3v38.4h-1.3zM152 606.6h1.3v38.4h-1.3zM160.8 606.6h1.3v38.4h-1.3zM169.6 606.6h1.3v38.4h-1.3zM172.1 606.6h2.6v38.4h-2.6zM178.3 606.6h1.3v38.4h-1.3zM183.4 606.6h1.3v38.4h-1.3zM192.1 606.6h2.6v38.4h-2.6zM200.9 606.6h1.3v38.4h-1.3zM203.4 606.6h3.8v38.4h-3.8zM212.2 606.6h1.3v38.4h-1.3zM219.7 606.6h5.1v38.4h-5.1zM225.9 606.6h1.3v38.4h-1.3zM232.2 606.6h1.3v38.4h-1.3zM237.2 606.6h1.3v38.4h-1.3zM246 606.6h3.8v38.4h-3.8zM259.8 606.6h1.3v38.4h-1.3zM263.5 606.6h2.6v38.4h-2.6zM267.3 606.6h1.3v38.4h-1.3zM269.8 606.6h1.3v38.4h-1.3zM272.3 606.6h1.3v38.4h-1.3zM282.3 606.6h1.3v38.4h-1.3zM284.8 606.6h1.3v38.4h-1.3zM287.3 606.6h1.3v38.4h-1.3zM292.3 606.6h3.8v38.4h-3.8zM303.6 606.6h1.3v38.4h-1.3zM309.9 606.6h1.3v38.4h-1.3zM318.6 606.6h1.3v38.4h-1.3zM321.1 606.6h1.3v38.4h-1.3zM323.7 606.6h1.3v38.4h-1.3zM328.7 606.6h1.3v38.4h-1.3zM332.4 606.6h2.6v38.4h-2.6zM339.9 606.6h1.3v38.4h-1.3zM342.4 606.6h1.3v38.4h-1.3zM351.2 606.6h1.3v38.4h-1.3zM355 606.6h1.3v38.4h-1.3zM357.5 606.6h1.3v38.4h-1.3zM366.2 606.6h2.6v38.4h-2.6zM371.3 606.6h1.3v38.4h-1.3zM380 606.6h1.3v38.4h-1.3zM387.5 606.6h1.3v38.4h-1.3zM403.8 606.6h1.3v38.4h-1.3zM408.8 606.6h1.3v38.4h-1.3zM416.3 606.6h1.3v38.4h-1.3zM422.6 606.6h1.3v38.4h-1.3zM426.4 606.6h5.1v38.4h-5.1zM433.9 606.6h1.3v38.4h-1.3zM440.1 606.6h1.3v38.4h-1.3zM18 645h2.6v38.4h-2.6zM28 645h1.3v38.4h-1.3zM31.8 645h1.3v38.4h-1.3zM35.5 645h1.3v38.4h-1.3zM51.8 645h1.3v38.4h-1.3zM54.3 645h2.6v38.4h-2.6zM61.8 645h1.3v38.4h-1.3zM65.6 645h1.3v38.4h-1.3zM69.4 645h1.3v38.4h-1.3zM73.1 645h1.3v38.4h-1.3zM93.2 645h1.3v38.4h-1.3zM98.2 645h2.6v38.4h-2.6zM101.9 645h6.3v38.4h-6.3zM110.7 645h1.3v38.4h-1.3zM114.5 645h2.6v38.4h-2.6zM118.2 645h1.3v38.4h-1.3zM124.5 645h2.6v38.4h-2.6zM129.5 645h1.3v38.4h-1.3zM133.2 645h1.3v38.4h-1.3zM135.8 645h1.3v38.4h-1.3zM143.3 645h1.3v38.4h-1.3zM153.3 645h1.3v38.4h-1.3zM155.8 645h1.3v38.4h-1.3zM160.8 645h1.3v38.4h-1.3zM163.3 645h1.3v38.4h-1.3zM168.3 645h1.3v38.4h-1.3zM170.8 645h1.3v38.4h-1.3zM174.6 645h2.6v38.4h-2.6zM178.3 645h3.8v38.4h-3.8zM199.6 645h2.6v38.4h-2.6zM203.4 645h3.8v38.4h-3.8zM209.7 645h1.3v38.4h-1.3zM214.7 645h1.3v38.4h-1.3zM227.2 645h1.3v38.4h-1.3zM231 645h2.6v38.4h-2.6zM237.2 645h3.8v38.4h-3.8zM251 645h2.6v38.4h-2.6zM254.8 645h1.3v38.4h-1.3zM263.5 645h1.3v38.4h-1.3zM268.5 645h1.3v38.4h-1.3zM273.5 645h1.3v38.4h-1.3zM311.1 645h1.3v38.4h-1.3zM313.6 645h1.3v38.4h-1.3zM316.1 645h2.6v38.4h-2.6zM319.9 645h2.6v38.4h-2.6zM328.7 645h1.3v38.4h-1.3zM333.7 645h3.8v38.4h-3.8zM343.7 645h1.3v38.4h-1.3zM347.5 645h1.3v38.4h-1.3zM357.5 645h2.6v38.4h-2.6zM370 645h1.3v38.4h-1.3zM373.8 645h1.3v38.4h-1.3zM378.8 645h1.3v38.4h-1.3zM385 645h1.3v38.4h-1.3zM395.1 645h1.3v38.4h-1.3zM401.3 645h2.6v38.4h-2.6zM411.3 645h1.3v38.4h-1.3zM413.8 645h2.6v38.4h-2.6zM421.4 645h1.3v38.4h-1.3zM427.6 645h1.3v38.4h-1.3zM432.6 645h2.6v38.4h-2.6zM438.9 645h1.3v38.4h-1.3zM40.6 683.4h1.3v38.4h-1.3zM54.3 683.4h2.6v38.4h-2.6zM65.6 683.4h1.3v38.4h-1.3zM70.6 683.4h1.3v38.4h-1.3zM117 683.4h1.3v38.4h-1.3zM124.5 683.4h1.3v38.4h-1.3zM132 683.4h1.3v38.4h-1.3zM137 683.4h2.6v38.4h-2.6zM144.5 683.4h2.6v38.4h-2.6zM157 683.4h1.3v38.4h-1.3zM193.4 683.4h1.3v38.4h-1.3zM197.1 683.4h2.6v38.4h-2.6zM208.4 683.4h1.3v38.4h-1.3zM215.9 683.4h1.3v38.4h-1.3zM218.4 683.4h1.3v38.4h-1.3zM233.5 683.4h1.3v38.4h-1.3zM244.7 683.4h2.6v38.4h-2.6zM253.5 683.4h2.6v38.4h-2.6zM257.3 683.4h1.3v38.4h-1.3zM259.8 683.4h1.3v38.4h-1.3zM273.5 683.4h1.3v38.4h-1.3zM279.8 683.4h3.8v38.4h-3.8zM284.8 683.4h2.6v38.4h-2.6zM289.8 683.4h1.3v38.4h-1.3zM296.1 683.4h1.3v38.4h-1.3zM299.9 683.4h1.3v38.4h-1.3zM304.9 683.4h1.3v38.4h-1.3zM308.6 683.4h1.3v38.4h-1.3zM311.1 683.4h1.3v38.4h-1.3zM314.9 683.4h2.6v38.4h-2.6zM324.9 683.4h2.6v38.4h-2.6zM329.9 683.4h1.3v38.4h-1.3zM337.4 683.4h1.3v38.4h-1.3zM341.2 683.4h1.3v38.4h-1.3zM344.9 683.4h1.3v38.4h-1.3zM347.5 683.4h1.3v38.4h-1.3zM350 683.4h6.3v38.4h-6.3zM358.7 683.4h2.6v38.4h-2.6zM362.5 683.4h1.3v38.4h-1.3zM366.2 683.4h2.6v38.4h-2.6zM370 683.4h1.3v38.4h-1.3zM372.5 683.4h1.3v38.4h-1.3zM381.3 683.4h1.3v38.4h-1.3zM385 683.4h1.3v38.4h-1.3zM390 683.4h2.6v38.4h-2.6zM402.6 683.4h1.3v38.4h-1.3zM406.3 683.4h1.3v38.4h-1.3zM408.8 683.4h1.3v38.4h-1.3zM412.6 683.4h1.3v38.4h-1.3zM415.1 683.4h1.3v38.4h-1.3zM418.9 683.4h1.3v38.4h-1.3zM421.4 683.4h2.6v38.4h-2.6zM425.1 683.4h1.3v38.4h-1.3zM427.6 683.4h1.3v38.4h-1.3zM431.4 683.4h1.3v38.4h-1.3zM438.9 683.4h1.3v38.4h-1.3zM45.6 721.8h1.3v38.4h-1.3zM59.3 721.8h1.3v38.4h-1.3zM85.6 721.8h3.8v38.4h-3.8zM90.7 721.8h1.3v38.4h-1.3zM96.9 721.8h1.3v38.4h-1.3zM100.7 721.8h1.3v38.4h-1.3zM105.7 721.8h1.3v38.4h-1.3zM109.4 721.8h2.6v38.4h-2.6zM115.7 721.8h1.3v38.4h-1.3zM133.2 721.8h1.3v38.4h-1.3zM145.8 721.8h2.6v38.4h-2.6zM153.3 721.8h1.3v38.4h-1.3zM155.8 721.8h1.3v38.4h-1.3zM167.1 721.8h1.3v38.4h-1.3zM169.6 721.8h1.3v38.4h-1.3zM172.1 721.8h1.3v38.4h-1.3zM180.8 721.8h1.3v38.4h-1.3zM187.1 721.8h1.3v38.4h-1.3zM189.6 721.8h1.3v38.4h-1.3zM198.4 721.8h2.6v38.4h-2.6zM213.4 721.8h1.3v38.4h-1.3zM215.9 721.8h1.3v38.4h-1.3zM218.4 721.8h1.3v38.4h-1.3zM223.4 721.8h1.3v38.4h-1.3zM225.9 721.8h1.3v38.4h-1.3zM228.5 721.8h1.3v38.4h-1.3zM241 721.8h1.3v38.4h-1.3zM243.5 721.8h1.3v38.4h-1.3zM246 721.8h3.8v38.4h-3.8zM251 721.8h1.3v38.4h-1.3zM253.5 721.8h3.8v38.4h-3.8zM266 721.8h1.3v38.4h-1.3zM268.5 721.8h1.3v38.4h-1.3zM271 721.8h2.6v38.4h-2.6zM278.6 721.8h1.3v38.4h-1.3zM281.1 721.8h1.3v38.4h-1.3zM289.8 721.8h1.3v38.4h-1.3zM292.3 721.8h1.3v38.4h-1.3zM294.8 721.8h1.3v38.4h-1.3zM298.6 721.8h1.3v38.4h-1.3zM302.4 721.8h1.3v38.4h-1.3zM308.6 721.8h1.3v38.4h-1.3zM317.4 721.8h1.3v38.4h-1.3zM321.1 721.8h1.3v38.4h-1.3zM338.7 721.8h1.3v38.4h-1.3zM347.5 721.8h2.6v38.4h-2.6zM351.2 721.8h1.3v38.4h-1.3zM353.7 721.8h1.3v38.4h-1.3zM356.2 721.8h1.3v38.4h-1.3zM361.2 721.8h3.8v38.4h-3.8zM366.2 721.8h1.3v38.4h-1.3zM370 721.8h1.3v38.4h-1.3zM373.8 721.8h1.3v38.4h-1.3zM385 721.8h1.3v38.4h-1.3zM397.6 721.8h1.3v38.4h-1.3zM400.1 721.8h1.3v38.4h-1.3zM415.1 721.8h1.3v38.4h-1.3zM421.4 721.8h1.3v38.4h-1.3zM15.5 760.1h1.3v38.4h-1.3zM18 760.1h1.3v38.4h-1.3zM41.8 760.1h2.6v38.4h-2.6zM45.6 760.1h1.3v38.4h-1.3zM48.1 760.1h1.3v38.4h-1.3zM50.6 760.1h1.3v38.4h-1.3zM55.6 760.1h1.3v38.4h-1.3zM58.1 760.1h2.6v38.4h-2.6zM64.4 760.1h1.3v38.4h-1.3zM68.1 760.1h1.3v38.4h-1.3zM71.9 760.1h1.3v38.4h-1.3zM74.4 760.1h1.3v38.4h-1.3zM76.9 760.1h1.3v38.4h-1.3zM79.4 760.1h1.3v38.4h-1.3zM81.9 760.1h1.3v38.4h-1.3zM84.4 760.1h1.3v38.4h-1.3zM88.2 760.1h1.3v38.4h-1.3zM100.7 760.1h1.3v38.4h-1.3zM104.4 760.1h1.3v38.4h-1.3zM106.9 760.1h3.8v38.4h-3.8zM114.5 760.1h2.6v38.4h-2.6zM118.2 760.1h2.6v38.4h-2.6zM124.5 760.1h1.3v38.4h-1.3zM135.8 760.1h1.3v38.4h-1.3zM140.8 760.1h2.6v38.4h-2.6zM144.5 760.1h1.3v38.4h-1.3zM147 760.1h1.3v38.4h-1.3zM149.5 760.1h1.3v38.4h-1.3zM157 760.1h1.3v38.4h-1.3zM162.1 760.1h1.3v38.4h-1.3zM167.1 760.1h1.3v38.4h-1.3zM173.3 760.1h1.3v38.4h-1.3zM180.8 760.1h1.3v38.4h-1.3zM187.1 760.1h1.3v38.4h-1.3zM189.6 760.1h1.3v38.4h-1.3zM194.6 760.1h2.6v38.4h-2.6zM202.1 760.1h1.3v38.4h-1.3zM204.6 760.1h1.3v38.4h-1.3zM212.2 760.1h1.3v38.4h-1.3zM215.9 760.1h1.3v38.4h-1.3zM220.9 760.1h1.3v38.4h-1.3zM236 760.1h2.6v38.4h-2.6zM253.5 760.1h2.6v38.4h-2.6zM257.3 760.1h1.3v38.4h-1.3zM272.3 760.1h2.6v38.4h-2.6zM282.3 760.1h1.3v38.4h-1.3zM306.1 760.1h1.3v38.4h-1.3zM323.7 760.1h1.3v38.4h-1.3zM337.4 760.1h1.3v38.4h-1.3zM346.2 760.1h1.3v38.4h-1.3zM353.7 760.1h1.3v38.4h-1.3zM376.3 760.1h1.3v38.4h-1.3zM45.6 798.5h1.3v38.4h-1.3zM48.1 798.5h1.3v38.4h-1.3zM70.6 798.5h1.3v38.4h-1.3zM74.4 798.5h1.3v38.4h-1.3zM76.9 798.5h1.3v38.4h-1.3zM86.9 798.5h1.3v38.4h-1.3zM89.4 798.5h1.3v38.4h-1.3zM95.7 798.5h1.3v38.4h-1.3zM112 798.5h1.3v38.4h-1.3zM125.7 798.5h1.3v38.4h-1.3zM128.2 798.5h1.3v38.4h-1.3zM132 798.5h1.3v38.4h-1.3zM135.8 798.5h1.3v38.4h-1.3zM138.3 798.5h1.3v38.4h-1.3zM143.3 798.5h2.6v38.4h-2.6zM147 798.5h1.3v38.4h-1.3zM149.5 798.5h1.3v38.4h-1.3zM154.5 798.5h1.3v38.4h-1.3zM157 798.5h1.3v38.4h-1.3zM168.3 798.5h1.3v38.4h-1.3zM172.1 798.5h2.6v38.4h-2.6zM182.1 798.5h2.6v38.4h-2.6zM193.4 798.5h1.3v38.4h-1.3zM195.9 798.5h1.3v38.4h-1.3zM200.9 798.5h1.3v38.4h-1.3zM205.9 798.5h3.8v38.4h-3.8zM210.9 798.5h1.3v38.4h-1.3zM213.4 798.5h3.8v38.4h-3.8zM218.4 798.5h1.3v38.4h-1.3zM220.9 798.5h1.3v38.4h-1.3zM229.7 798.5h1.3v38.4h-1.3zM232.2 798.5h1.3v38.4h-1.3zM254.8 798.5h1.3v38.4h-1.3zM266 798.5h1.3v38.4h-1.3zM271 798.5h1.3v38.4h-1.3zM278.6 798.5h1.3v38.4h-1.3zM282.3 798.5h1.3v38.4h-1.3zM294.8 798.5h3.8v38.4h-3.8zM304.9 798.5h1.3v38.4h-1.3zM313.6 798.5h1.3v38.4h-1.3zM326.2 798.5h1.3v38.4h-1.3zM329.9 798.5h1.3v38.4h-1.3zM333.7 798.5h1.3v38.4h-1.3zM336.2 798.5h2.6v38.4h-2.6zM342.4 798.5h1.3v38.4h-1.3zM344.9 798.5h1.3v38.4h-1.3zM347.5 798.5h1.3v38.4h-1.3zM388.8 798.5h1.3v38.4h-1.3zM15.5 836.9h2.6v38.4h-2.6zM25.5 836.9h2.6v38.4h-2.6zM35.5 836.9h2.6v38.4h-2.6zM44.3 836.9h2.6v38.4h-2.6zM49.3 836.9h2.6v38.4h-2.6zM58.1 836.9h1.3v38.4h-1.3zM66.9 836.9h1.3v38.4h-1.3zM69.4 836.9h3.8v38.4h-3.8zM81.9 836.9h1.3v38.4h-1.3zM84.4 836.9h1.3v38.4h-1.3zM94.4 836.9h1.3v38.4h-1.3zM96.9 836.9h2.6v38.4h-2.6zM100.7 836.9h1.3v38.4h-1.3zM103.2 836.9h1.3v38.4h-1.3zM108.2 836.9h1.3v38.4h-1.3zM112 836.9h1.3v38.4h-1.3zM119.5 836.9h1.3v38.4h-1.3zM123.2 836.9h1.3v38.4h-1.3zM130.7 836.9h2.6v38.4h-2.6zM134.5 836.9h1.3v38.4h-1.3zM137 836.9h2.6v38.4h-2.6zM148.3 836.9h1.3v38.4h-1.3zM152 836.9h1.3v38.4h-1.3zM154.5 836.9h1.3v38.4h-1.3zM165.8 836.9h1.3v38.4h-1.3zM169.6 836.9h1.3v38.4h-1.3zM177.1 836.9h1.3v38.4h-1.3zM180.8 836.9h1.3v38.4h-1.3zM183.4 836.9h1.3v38.4h-1.3zM194.6 836.9h2.6v38.4h-2.6zM207.2 836.9h2.6v38.4h-2.6zM217.2 836.9h1.3v38.4h-1.3zM228.5 836.9h2.6v38.4h-2.6zM232.2 836.9h1.3v38.4h-1.3zM234.7 836.9h1.3v38.4h-1.3zM238.5 836.9h1.3v38.4h-1.3zM244.7 836.9h2.6v38.4h-2.6zM258.5 836.9h1.3v38.4h-1.3zM268.5 836.9h1.3v38.4h-1.3zM271 836.9h2.6v38.4h-2.6zM279.8 836.9h1.3v38.4h-1.3zM284.8 836.9h1.3v38.4h-1.3zM302.4 836.9h1.3v38.4h-1.3zM316.1 836.9h1.3v38.4h-1.3zM321.1 836.9h1.3v38.4h-1.3zM324.9 836.9h1.3v38.4h-1.3zM352.5 836.9h1.3v38.4h-1.3zM355 836.9h1.3v38.4h-1.3zM376.3 836.9h1.3v38.4h-1.3zM392.5 836.9h1.3v38.4h-1.3zM397.6 836.9h1.3v38.4h-1.3zM427.6 836.9h1.3v38.4h-1.3zM430.1 836.9h1.3v38.4h-1.3zM65.6 875.2h1.3v38.4h-1.3zM69.4 875.2h1.3v38.4h-1.3zM75.6 875.2h1.3v38.4h-1.3zM83.1 875.2h2.6v38.4h-2.6zM100.7 875.2h3.8v38.4h-3.8zM106.9 875.2h1.3v38.4h-1.3zM119.5 875.2h2.6v38.4h-2.6zM128.2 875.2h1.3v38.4h-1.3zM134.5 875.2h1.3v38.4h-1.3zM150.8 875.2h1.3v38.4h-1.3zM154.5 875.2h2.6v38.4h-2.6zM159.6 875.2h1.3v38.4h-1.3zM163.3 875.2h1.3v38.4h-1.3zM169.6 875.2h2.6v38.4h-2.6zM177.1 875.2h2.6v38.4h-2.6zM180.8 875.2h1.3v38.4h-1.3zM187.1 875.2h1.3v38.4h-1.3zM193.4 875.2h5.1v38.4h-5.1zM199.6 875.2h2.6v38.4h-2.6zM204.6 875.2h1.3v38.4h-1.3zM208.4 875.2h1.3v38.4h-1.3zM224.7 875.2h1.3v38.4h-1.3zM236 875.2h1.3v38.4h-1.3zM242.2 875.2h1.3v38.4h-1.3zM253.5 875.2h1.3v38.4h-1.3zM256 875.2h1.3v38.4h-1.3zM266 875.2h1.3v38.4h-1.3zM268.5 875.2h1.3v38.4h-1.3zM281.1 875.2h2.6v38.4h-2.6zM289.8 875.2h1.3v38.4h-1.3zM296.1 875.2h1.3v38.4h-1.3zM301.1 875.2h2.6v38.4h-2.6zM313.6 875.2h1.3v38.4h-1.3zM316.1 875.2h1.3v38.4h-1.3zM318.6 875.2h1.3v38.4h-1.3zM326.2 875.2h1.3v38.4h-1.3zM336.2 875.2h1.3v38.4h-1.3zM355 875.2h1.3v38.4h-1.3zM358.7 875.2h1.3v38.4h-1.3zM385 875.2h1.3v38.4h-1.3z"/>
<path fill="#1a1008" shape-rendering="crispEdges" d="M16.8 529.9h2.6v38.4h-2.6zM21.8 529.9h1.3v38.4h-1.3zM29.3 529.9h1.3v38.4h-1.3zM34.3 529.9h1.3v38.4h-1.3zM41.8 529.9h1.3v38.4h-1.3zM53.1 529.9h1.3v38.4h-1.3zM65.6 529.9h1.3v38.4h-1.3zM69.4 529.9h1.3v38.4h-1.3zM71.9 529.9h1.3v38.4h-1.3zM91.9 529.9h1.3v38.4h-1.3zM110.7 529.9h1.3v38.4h-1.3zM122 529.9h1.3v38.4h-1.3zM140.8 529.9h1.3v38.4h-1.3zM147 529.9h1.3v38.4h-1.3zM158.3 529.9h2.6v38.4h-2.6zM170.8 529.9h1.3v38.4h-1.3zM178.3 529.9h2.6v38.4h-2.6zM183.4 529.9h2.6v38.4h-2.6zM187.1 529.9h1.3v38.4h-1.3zM202.1 529.9h1.3v38.4h-1.3zM220.9 529.9h1.3v38.4h-1.3zM223.4 529.9h1.3v38.4h-1.3zM228.5 529.9h3.8v38.4h-3.8zM233.5 529.9h1.3v38.4h-1.3zM244.7 529.9h1.3v38.4h-1.3zM247.2 529.9h1.3v38.4h-1.3zM253.5 529.9h1.3v38.4h-1.3zM256 529.9h1.3v38.4h-1.3zM258.5 529.9h2.6v38.4h-2.6zM268.5 529.9h1.3v38.4h-1.3zM277.3 529.9h1.3v38.4h-1.3zM282.3 529.9h1.3v38.4h-1.3zM287.3 529.9h1.3v38.4h-1.3zM292.3 529.9h1.3v38.4h-1.3zM294.8 529.9h1.3v38.4h-1.3zM304.9 529.9h1.3v38.4h-1.3zM313.6 529.9h1.3v38.4h-1.3zM316.1 529.9h1.3v38.4h-1.3zM318.6 529.9h1.3v38.4h-1.3zM322.4 529.9h1.3v38.4h-1.3zM326.2 529.9h1.3v38.4h-1.3zM329.9 529.9h1.3v38.4h-1.3zM333.7 529.9h1.3v38.4h-1.3zM336.2 529.9h1.3v38.4h-1.3zM338.7 529.9h2.6v38.4h-2.6zM343.7 529.9h1.3v38.4h-1.3zM351.2 529.9h1.3v38.4h-1.3zM355 529.9h1.3v38.4h-1.3zM357.5 529.9h1.3v38.4h-1.3zM365 529.9h1.3v38.4h-1.3zM370 529.9h1.3v38.4h-1.3zM375 529.9h1.3v38.4h-1.3zM381.3 529.9h1.3v38.4h-1.3zM390 529.9h1.3v38.4h-1.3zM395.1 529.9h1.3v38.4h-1.3zM401.3 529.9h1.3v38.4h-1.3zM403.8 529.9h2.6v38.4h-2.6zM408.8 529.9h2.6v38.4h-2.6zM420.1 529.9h2.6v38.4h-2.6zM427.6 529.9h1.3v38.4h-1.3zM431.4 529.9h1.3v38.4h-1.3zM438.9 529.9h1.3v38.4h-1.3zM24.3 568.3h1.3v38.4h-1.3zM26.8 568.3h1.3v38.4h-1.3zM38 568.3h1.3v38.4h-1.3zM41.8 568.3h2.6v38.4h-2.6zM45.6 568.3h1.3v38.4h-1.3zM48.1 568.3h1.3v38.4h-1.3zM53.1 568.3h1.3v38.4h-1.3zM55.6 568.3h1.3v38.4h-1.3zM60.6 568.3h1.3v38.4h-1.3zM65.6 568.3h3.8v38.4h-3.8zM88.2 568.3h2.6v38.4h-2.6zM94.4 568.3h3.8v38.4h-3.8zM112 568.3h2.6v38.4h-2.6zM119.5 568.3h2.6v38.4h-2.6zM124.5 568.3h2.6v38.4h-2.6zM130.7 568.3h1.3v38.4h-1.3zM133.2 568.3h1.3v38.4h-1.3zM139.5 568.3h1.3v38.4h-1.3zM143.3 568.3h1.3v38.4h-1.3zM148.3 568.3h2.6v38.4h-2.6zM157 568.3h1.3v38.4h-1.3zM163.3 568.3h1.3v38.4h-1.3zM165.8 568.3h2.6v38.4h-2.6zM172.1 568.3h1.3v38.4h-1.3zM174.6 568.3h3.8v38.4h-3.8zM179.6 568.3h1.3v38.4h-1.3zM182.1 568.3h2.6v38.4h-2.6zM188.4 568.3h1.3v38.4h-1.3zM193.4 568.3h1.3v38.4h-1.3zM195.9 568.3h3.8v38.4h-3.8zM210.9 568.3h2.6v38.4h-2.6zM222.2 568.3h1.3v38.4h-1.3zM228.5 568.3h1.3v38.4h-1.3zM231 568.3h1.3v38.4h-1.3zM238.5 568.3h1.3v38.4h-1.3zM243.5 568.3h1.3v38.4h-1.3zM254.8 568.3h1.3v38.4h-1.3zM267.3 568.3h1.3v38.4h-1.3zM269.8 568.3h1.3v38.4h-1.3zM274.8 568.3h3.8v38.4h-3.8zM279.8 568.3h1.3v38.4h-1.3zM283.6 568.3h1.3v38.4h-1.3zM286.1 568.3h1.3v38.4h-1.3zM288.6 568.3h2.6v38.4h-2.6zM301.1 568.3h1.3v38.4h-1.3zM312.4 568.3h1.3v38.4h-1.3zM318.6 568.3h1.3v38.4h-1.3zM332.4 568.3h1.3v38.4h-1.3zM336.2 568.3h1.3v38.4h-1.3zM342.4 568.3h1.3v38.4h-1.3zM344.9 568.3h1.3v38.4h-1.3zM356.2 568.3h1.3v38.4h-1.3zM363.7 568.3h1.3v38.4h-1.3zM368.7 568.3h1.3v38.4h-1.3zM377.5 568.3h2.6v38.4h-2.6zM382.5 568.3h1.3v38.4h-1.3zM386.3 568.3h1.3v38.4h-1.3zM411.3 568.3h1.3v38.4h-1.3zM430.1 568.3h1.3v38.4h-1.3zM38 606.6h1.3v38.4h-1.3zM41.8 606.6h1.3v38.4h-1.3zM51.8 606.6h1.3v38.4h-1.3zM58.1 606.6h1.3v38.4h-1.3zM60.6 606.6h1.3v38.4h-1.3zM65.6 606.6h5.1v38.4h-5.1zM73.1 606.6h1.3v38.4h-1.3zM78.1 606.6h1.3v38.4h-1.3zM80.6 606.6h1.3v38.4h-1.3zM86.9 606.6h1.3v38.4h-1.3zM89.4 606.6h1.3v38.4h-1.3zM100.7 606.6h2.6v38.4h-2.6zM106.9 606.6h2.6v38.4h-2.6zM113.2 606.6h2.6v38.4h-2.6zM120.7 606.6h1.3v38.4h-1.3zM123.2 606.6h1.3v38.4h-1.3zM128.2 606.6h1.3v38.4h-1.3zM137 606.6h1.3v38.4h-1.3zM139.5 606.6h1.3v38.4h-1.3zM144.5 606.6h1.3v38.4h-1.3zM154.5 606.6h1.3v38.4h-1.3zM157 606.6h2.6v38.4h-2.6zM162.1 606.6h1.3v38.4h-1.3zM170.8 606.6h1.3v38.4h-1.3zM175.8 606.6h2.6v38.4h-2.6zM182.1 606.6h1.3v38.4h-1.3zM185.9 606.6h1.3v38.4h-1.3zM194.6 606.6h1.3v38.4h-1.3zM197.1 606.6h1.3v38.4h-1.3zM199.6 606.6h1.3v38.4h-1.3zM207.2 606.6h1.3v38.4h-1.3zM217.2 606.6h1.3v38.4h-1.3zM227.2 606.6h1.3v38.4h-1.3zM244.7 606.6h1.3v38.4h-1.3zM249.7 606.6h1.3v38.4h-1.3zM258.5 606.6h1.3v38.4h-1.3zM261 606.6h2.6v38.4h-2.6zM266 606.6h1.3v38.4h-1.3zM289.8 606.6h1.3v38.4h-1.3zM296.1 606.6h1.3v38.4h-1.3zM298.6 606.6h1.3v38.4h-1.3zM336.2 606.6h1.3v38.4h-1.3zM344.9 606.6h2.6v38.4h-2.6zM350 606.6h1.3v38.4h-1.3zM378.8 606.6h1.3v38.4h-1.3zM23 645h1.3v38.4h-1.3zM74.4 645h1.3v38.4h-1.3zM84.4 645h1.3v38.4h-1.3zM94.4 645h2.6v38.4h-2.6zM112 645h1.3v38.4h-1.3zM138.3 645h2.6v38.4h-2.6zM142 645h1.3v38.4h-1.3zM165.8 645h1.3v38.4h-1.3zM193.4 645h1.3v38.4h-1.3zM195.9 645h1.3v38.4h-1.3zM208.4 645h1.3v38.4h-1.3zM218.4 645h1.3v38.4h-1.3zM220.9 645h2.6v38.4h-2.6zM242.2 645h1.3v38.4h-1.3zM249.7 645h1.3v38.4h-1.3zM264.8 645h1.3v38.4h-1.3zM267.3 645h1.3v38.4h-1.3zM292.3 645h1.3v38.4h-1.3zM312.4 645h1.3v38.4h-1.3zM323.7 645h3.8v38.4h-3.8zM331.2 645h1.3v38.4h-1.3zM344.9 645h1.3v38.4h-1.3zM348.7 645h1.3v38.4h-1.3zM351.2 645h1.3v38.4h-1.3zM361.2 645h1.3v38.4h-1.3zM388.8 645h1.3v38.4h-1.3zM392.5 645h1.3v38.4h-1.3zM398.8 645h1.3v38.4h-1.3zM405.1 645h1.3v38.4h-1.3zM408.8 645h1.3v38.4h-1.3zM425.1 645h1.3v38.4h-1.3zM435.1 645h2.6v38.4h-2.6zM440.1 645h1.3v38.4h-1.3zM23 683.4h1.3v38.4h-1.3zM29.3 683.4h1.3v38.4h-1.3zM43.1 683.4h1.3v38.4h-1.3zM56.8 683.4h2.6v38.4h-2.6zM64.4 683.4h1.3v38.4h-1.3zM76.9 683.4h3.8v38.4h-3.8zM85.6 683.4h1.3v38.4h-1.3zM94.4 683.4h1.3v38.4h-1.3zM96.9 683.4h1.3v38.4h-1.3zM101.9 683.4h1.3v38.4h-1.3zM105.7 683.4h1.3v38.4h-1.3zM112 683.4h2.6v38.4h-2.6zM115.7 683.4h1.3v38.4h-1.3zM118.2 683.4h1.3v38.4h-1.3zM122 683.4h2.6v38.4h-2.6zM128.2 683.4h1.3v38.4h-1.3zM130.7 683.4h1.3v38.4h-1.3zM140.8 683.4h1.3v38.4h-1.3zM149.5 683.4h1.3v38.4h-1.3zM154.5 683.4h1.3v38.4h-1.3zM160.8 683.4h1.3v38.4h-1.3zM167.1 683.4h1.3v38.4h-1.3zM170.8 683.4h1.3v38.4h-1.3zM173.3 683.4h2.6v38.4h-2.6zM184.6 683.4h1.3v38.4h-1.3zM190.9 683.4h1.3v38.4h-1.3zM200.9 683.4h1.3v38.4h-1.3zM209.7 683.4h1.3v38.4h-1.3zM220.9 683.4h1.3v38.4h-1.3zM229.7 683.4h2.6v38.4h-2.6zM249.7 683.4h2.6v38.4h-2.6zM264.8 683.4h2.6v38.4h-2.6zM272.3 683.4h1.3v38.4h-1.3zM278.6 683.4h1.3v38.4h-1.3zM287.3 683.4h1.3v38.4h-1.3zM317.4 683.4h1.3v38.4h-1.3zM322.4 683.4h1.3v38.4h-1.3zM346.2 683.4h1.3v38.4h-1.3zM401.3 683.4h1.3v38.4h-1.3zM48.1 721.8h1.3v38.4h-1.3zM53.1 721.8h5.1v38.4h-5.1zM60.6 721.8h1.3v38.4h-1.3zM64.4 721.8h1.3v38.4h-1.3zM68.1 721.8h5.1v38.4h-5.1zM75.6 721.8h2.6v38.4h-2.6zM81.9 721.8h1.3v38.4h-1.3zM91.9 721.8h1.3v38.4h-1.3zM94.4 721.8h2.6v38.4h-2.6zM99.4 721.8h1.3v38.4h-1.3zM112 721.8h1.3v38.4h-1.3zM118.2 721.8h1.3v38.4h-1.3zM122 721.8h1.3v38.4h-1.3zM128.2 721.8h1.3v38.4h-1.3zM140.8 721.8h3.8v38.4h-3.8zM148.3 721.8h2.6v38.4h-2.6zM152 721.8h1.3v38.4h-1.3zM157 721.8h1.3v38.4h-1.3zM165.8 721.8h1.3v38.4h-1.3zM168.3 721.8h1.3v38.4h-1.3zM170.8 721.8h1.3v38.4h-1.3zM173.3 721.8h1.3v38.4h-1.3zM179.6 721.8h1.3v38.4h-1.3zM185.9 721.8h1.3v38.4h-1.3zM194.6 721.8h1.3v38.4h-1.3zM197.1 721.8h1.3v38.4h-1.3zM200.9 721.8h1.3v38.4h-1.3zM214.7 721.8h1.3v38.4h-1.3zM217.2 721.8h1.3v38.4h-1.3zM219.7 721.8h1.3v38.4h-1.3zM222.2 721.8h1.3v38.4h-1.3zM227.2 721.8h1.3v38.4h-1.3zM229.7 721.8h1.3v38.4h-1.3zM232.2 721.8h2.6v38.4h-2.6zM242.2 721.8h1.3v38.4h-1.3zM244.7 721.8h1.3v38.4h-1.3zM263.5 721.8h1.3v38.4h-1.3zM273.5 721.8h1.3v38.4h-1.3zM324.9 721.8h1.3v38.4h-1.3zM388.8 721.8h1.3v38.4h-1.3zM412.6 721.8h1.3v38.4h-1.3zM70.6 760.1h1.3v38.4h-1.3zM101.9 760.1h1.3v38.4h-1.3zM112 760.1h1.3v38.4h-1.3zM128.2 760.1h1.3v38.4h-1.3zM139.5 760.1h1.3v38.4h-1.3zM143.3 760.1h1.3v38.4h-1.3zM152 760.1h2.6v38.4h-2.6zM158.3 760.1h2.6v38.4h-2.6zM175.8 760.1h1.3v38.4h-1.3zM178.3 760.1h2.6v38.4h-2.6zM192.1 760.1h1.3v38.4h-1.3zM197.1 760.1h3.8v38.4h-3.8zM217.2 760.1h1.3v38.4h-1.3zM219.7 760.1h1.3v38.4h-1.3zM222.2 760.1h2.6v38.4h-2.6zM225.9 760.1h1.3v38.4h-1.3zM232.2 760.1h1.3v38.4h-1.3zM234.7 760.1h1.3v38.4h-1.3zM239.7 760.1h1.3v38.4h-1.3zM251 760.1h1.3v38.4h-1.3zM256 760.1h1.3v38.4h-1.3zM258.5 760.1h2.6v38.4h-2.6zM262.3 760.1h2.6v38.4h-2.6zM266 760.1h1.3v38.4h-1.3zM278.6 760.1h1.3v38.4h-1.3zM288.6 760.1h1.3v38.4h-1.3zM294.8 760.1h1.3v38.4h-1.3zM297.3 760.1h1.3v38.4h-1.3zM301.1 760.1h1.3v38.4h-1.3zM304.9 760.1h1.3v38.4h-1.3zM312.4 760.1h5.1v38.4h-5.1zM319.9 760.1h2.6v38.4h-2.6zM324.9 760.1h1.3v38.4h-1.3zM327.4 760.1h1.3v38.4h-1.3zM336.2 760.1h1.3v38.4h-1.3zM343.7 760.1h2.6v38.4h-2.6zM350 760.1h3.8v38.4h-3.8zM355 760.1h1.3v38.4h-1.3zM357.5 760.1h1.3v38.4h-1.3zM363.7 760.1h1.3v38.4h-1.3zM366.2 760.1h1.3v38.4h-1.3zM368.7 760.1h2.6v38.4h-2.6zM383.8 760.1h1.3v38.4h-1.3zM390 760.1h3.8v38.4h-3.8zM403.8 760.1h1.3v38.4h-1.3zM410.1 760.1h1.3v38.4h-1.3zM426.4 760.1h1.3v38.4h-1.3zM433.9 760.1h2.6v38.4h-2.6zM440.1 760.1h1.3v38.4h-1.3zM122 798.5h1.3v38.4h-1.3zM129.5 798.5h1.3v38.4h-1.3zM139.5 798.5h1.3v38.4h-1.3zM155.8 798.5h1.3v38.4h-1.3zM180.8 798.5h1.3v38.4h-1.3zM203.4 798.5h2.6v38.4h-2.6zM219.7 798.5h1.3v38.4h-1.3zM223.4 798.5h1.3v38.4h-1.3zM234.7 798.5h3.8v38.4h-3.8zM239.7 798.5h1.3v38.4h-1.3zM243.5 798.5h1.3v38.4h-1.3zM251 798.5h1.3v38.4h-1.3zM257.3 798.5h1.3v38.4h-1.3zM261 798.5h1.3v38.4h-1.3zM263.5 798.5h1.3v38.4h-1.3zM267.3 798.5h2.6v38.4h-2.6zM272.3 798.5h2.6v38.4h-2.6zM281.1 798.5h1.3v38.4h-1.3zM283.6 798.5h2.6v38.4h-2.6zM287.3 798.5h1.3v38.4h-1.3zM298.6 798.5h2.6v38.4h-2.6zM302.4 798.5h2.6v38.4h-2.6zM306.1 798.5h7.6v38.4h-7.6zM317.4 798.5h5.1v38.4h-5.1zM328.7 798.5h1.3v38.4h-1.3zM362.5 798.5h1.3v38.4h-1.3zM367.5 798.5h1.3v38.4h-1.3zM370 798.5h1.3v38.4h-1.3zM377.5 798.5h1.3v38.4h-1.3zM380 798.5h1.3v38.4h-1.3zM383.8 798.5h1.3v38.4h-1.3zM396.3 798.5h3.8v38.4h-3.8zM405.1 798.5h2.6v38.4h-2.6zM408.8 798.5h1.3v38.4h-1.3zM411.3 798.5h3.8v38.4h-3.8zM416.3 798.5h1.3v38.4h-1.3zM418.9 798.5h3.8v38.4h-3.8zM425.1 798.5h1.3v38.4h-1.3zM430.1 798.5h2.6v38.4h-2.6zM433.9 798.5h2.6v38.4h-2.6zM438.9 798.5h2.6v38.4h-2.6zM21.8 836.9h1.3v38.4h-1.3zM39.3 836.9h1.3v38.4h-1.3zM59.3 836.9h1.3v38.4h-1.3zM74.4 836.9h1.3v38.4h-1.3zM99.4 836.9h1.3v38.4h-1.3zM122 836.9h1.3v38.4h-1.3zM125.7 836.9h1.3v38.4h-1.3zM142 836.9h1.3v38.4h-1.3zM144.5 836.9h2.6v38.4h-2.6zM153.3 836.9h1.3v38.4h-1.3zM157 836.9h1.3v38.4h-1.3zM167.1 836.9h2.6v38.4h-2.6zM170.8 836.9h1.3v38.4h-1.3zM185.9 836.9h1.3v38.4h-1.3zM190.9 836.9h2.6v38.4h-2.6zM198.4 836.9h1.3v38.4h-1.3zM200.9 836.9h3.8v38.4h-3.8zM205.9 836.9h1.3v38.4h-1.3zM213.4 836.9h1.3v38.4h-1.3zM219.7 836.9h1.3v38.4h-1.3zM225.9 836.9h1.3v38.4h-1.3zM239.7 836.9h1.3v38.4h-1.3zM243.5 836.9h1.3v38.4h-1.3zM247.2 836.9h1.3v38.4h-1.3zM257.3 836.9h1.3v38.4h-1.3zM261 836.9h2.6v38.4h-2.6zM266 836.9h1.3v38.4h-1.3zM278.6 836.9h1.3v38.4h-1.3zM293.6 836.9h2.6v38.4h-2.6zM304.9 836.9h1.3v38.4h-1.3zM308.6 836.9h1.3v38.4h-1.3zM312.4 836.9h1.3v38.4h-1.3zM314.9 836.9h1.3v38.4h-1.3zM318.6 836.9h2.6v38.4h-2.6zM322.4 836.9h1.3v38.4h-1.3zM331.2 836.9h1.3v38.4h-1.3zM339.9 836.9h1.3v38.4h-1.3zM342.4 836.9h1.3v38.4h-1.3zM346.2 836.9h1.3v38.4h-1.3zM348.7 836.9h2.6v38.4h-2.6zM356.2 836.9h1.3v38.4h-1.3zM362.5 836.9h2.6v38.4h-2.6zM367.5 836.9h1.3v38.4h-1.3zM373.8 836.9h2.6v38.4h-2.6zM377.5 836.9h1.3v38.4h-1.3zM383.8 836.9h1.3v38.4h-1.3zM390 836.9h2.6v38.4h-2.6zM401.3 836.9h3.8v38.4h-3.8zM410.1 836.9h1.3v38.4h-1.3zM416.3 836.9h1.3v38.4h-1.3zM418.9 836.9h1.3v38.4h-1.3zM421.4 836.9h1.3v38.4h-1.3zM423.9 836.9h1.3v38.4h-1.3zM435.1 836.9h1.3v38.4h-1.3zM35.5 875.2h1.3v38.4h-1.3zM223.4 875.2h1.3v38.4h-1.3zM234.7 875.2h1.3v38.4h-1.3zM252.3 875.2h1.3v38.4h-1.3zM254.8 875.2h1.3v38.4h-1.3zM261 875.2h3.8v38.4h-3.8zM279.8 875.2h1.3v38.4h-1.3zM293.6 875.2h1.3v38.4h-1.3zM299.9 875.2h1.3v38.4h-1.3zM303.6 875.2h1.3v38.4h-1.3zM306.1 875.2h1.3v38.4h-1.3zM308.6 875.2h3.8v38.4h-3.8zM323.7 875.2h2.6v38.4h-2.6zM338.7 875.2h5.1v38.4h-5.1zM346.2 875.2h1.3v38.4h-1.3zM350 875.2h1.3v38.4h-1.3zM352.5 875.2h2.6v38.4h-2.6zM360 875.2h1.3v38.4h-1.3zM365 875.2h2.6v38.4h-2.6zM370 875.2h2.6v38.4h-2.6zM373.8 875.2h1.3v38.4h-1.3zM377.5 875.2h1.3v38.4h-1.3zM381.3 875.2h1.3v38.4h-1.3zM383.8 875.2h1.3v38.4h-1.3zM393.8 875.2h2.6v38.4h-2.6zM407.6 875.2h1.3v38.4h-1.3zM415.1 875.2h3.8v38.4h-3.8zM421.4 875.2h2.6v38.4h-2.6zM425.1 875.2h1.3v38.4h-1.3zM440.1 875.2h1.3v38.4h-1.3z"/>
<path fill="#350e08" shape-rendering="crispEdges" d="M19.3 529.9h1.3v38.4h-1.3zM114.5 529.9h1.3v38.4h-1.3zM207.2 529.9h1.3v38.4h-1.3zM209.7 529.9h1.3v38.4h-1.3zM222.2 529.9h1.3v38.4h-1.3zM54.3 568.3h1.3v38.4h-1.3zM70.6 568.3h1.3v38.4h-1.3zM208.4 568.3h1.3v38.4h-1.3zM361.2 568.3h1.3v38.4h-1.3zM18 606.6h1.3v38.4h-1.3zM25.5 606.6h1.3v38.4h-1.3zM28 606.6h1.3v38.4h-1.3zM36.8 606.6h1.3v38.4h-1.3zM59.3 606.6h1.3v38.4h-1.3zM71.9 606.6h1.3v38.4h-1.3zM88.2 606.6h1.3v38.4h-1.3zM122 606.6h1.3v38.4h-1.3zM210.9 606.6h1.3v38.4h-1.3zM436.4 606.6h1.3v38.4h-1.3zM224.7 645h1.3v38.4h-1.3zM393.8 645h1.3v38.4h-1.3zM20.5 683.4h1.3v38.4h-1.3zM24.3 683.4h1.3v38.4h-1.3zM30.5 683.4h1.3v38.4h-1.3zM44.3 683.4h1.3v38.4h-1.3zM51.8 683.4h1.3v38.4h-1.3zM225.9 683.4h1.3v38.4h-1.3zM19.3 721.8h1.3v38.4h-1.3zM23 721.8h2.6v38.4h-2.6zM30.5 721.8h1.3v38.4h-1.3zM35.5 721.8h1.3v38.4h-1.3zM66.9 721.8h1.3v38.4h-1.3zM124.5 721.8h1.3v38.4h-1.3zM220.9 721.8h1.3v38.4h-1.3zM54.3 760.1h1.3v38.4h-1.3zM375 760.1h1.3v38.4h-1.3zM407.6 760.1h1.3v38.4h-1.3zM415.1 760.1h2.6v38.4h-2.6zM425.1 760.1h1.3v38.4h-1.3zM130.7 798.5h1.3v38.4h-1.3zM360 798.5h1.3v38.4h-1.3zM197.1 836.9h1.3v38.4h-1.3zM259.8 836.9h1.3v38.4h-1.3zM273.5 836.9h1.3v38.4h-1.3zM372.5 836.9h1.3v38.4h-1.3zM382.5 836.9h1.3v38.4h-1.3zM385 836.9h1.3v38.4h-1.3zM395.1 836.9h1.3v38.4h-1.3zM392.5 875.2h1.3v38.4h-1.3zM408.8 875.2h1.3v38.4h-1.3zM412.6 875.2h1.3v38.4h-1.3zM430.1 875.2h1.3v38.4h-1.3zM436.4 875.2h1.3v38.4h-1.3zM438.9 875.2h1.3v38.4h-1.3z"/>
<path fill="#121109" shape-rendering="crispEdges" d="M20.5 529.9h1.3v38.4h-1.3zM24.3 529.9h2.6v38.4h-2.6zM31.8 529.9h1.3v38.4h-1.3zM35.5 529.9h2.6v38.4h-2.6zM39.3 529.9h1.3v38.4h-1.3zM48.1 529.9h1.3v38.4h-1.3zM51.8 529.9h1.3v38.4h-1.3zM55.6 529.9h3.8v38.4h-3.8zM60.6 529.9h3.8v38.4h-3.8zM66.9 529.9h2.6v38.4h-2.6zM70.6 529.9h1.3v38.4h-1.3zM73.1 529.9h2.6v38.4h-2.6zM76.9 529.9h3.8v38.4h-3.8zM84.4 529.9h1.3v38.4h-1.3zM98.2 529.9h1.3v38.4h-1.3zM103.2 529.9h1.3v38.4h-1.3zM106.9 529.9h1.3v38.4h-1.3zM109.4 529.9h1.3v38.4h-1.3zM112 529.9h2.6v38.4h-2.6zM123.2 529.9h1.3v38.4h-1.3zM127 529.9h2.6v38.4h-2.6zM138.3 529.9h1.3v38.4h-1.3zM143.3 529.9h1.3v38.4h-1.3zM145.8 529.9h1.3v38.4h-1.3zM149.5 529.9h1.3v38.4h-1.3zM152 529.9h1.3v38.4h-1.3zM160.8 529.9h1.3v38.4h-1.3zM165.8 529.9h1.3v38.4h-1.3zM177.1 529.9h1.3v38.4h-1.3zM180.8 529.9h1.3v38.4h-1.3zM189.6 529.9h1.3v38.4h-1.3zM192.1 529.9h1.3v38.4h-1.3zM194.6 529.9h1.3v38.4h-1.3zM200.9 529.9h1.3v38.4h-1.3zM203.4 529.9h1.3v38.4h-1.3zM205.9 529.9h1.3v38.4h-1.3zM208.4 529.9h1.3v38.4h-1.3zM217.2 529.9h1.3v38.4h-1.3zM227.2 529.9h1.3v38.4h-1.3zM241 529.9h1.3v38.4h-1.3zM248.5 529.9h5.1v38.4h-5.1zM254.8 529.9h1.3v38.4h-1.3zM262.3 529.9h2.6v38.4h-2.6zM267.3 529.9h1.3v38.4h-1.3zM269.8 529.9h1.3v38.4h-1.3zM272.3 529.9h1.3v38.4h-1.3zM283.6 529.9h2.6v38.4h-2.6zM288.6 529.9h2.6v38.4h-2.6zM293.6 529.9h1.3v38.4h-1.3zM297.3 529.9h2.6v38.4h-2.6zM301.1 529.9h1.3v38.4h-1.3zM303.6 529.9h1.3v38.4h-1.3zM307.4 529.9h2.6v38.4h-2.6zM312.4 529.9h1.3v38.4h-1.3zM317.4 529.9h1.3v38.4h-1.3zM323.7 529.9h2.6v38.4h-2.6zM327.4 529.9h2.6v38.4h-2.6zM334.9 529.9h1.3v38.4h-1.3zM341.2 529.9h1.3v38.4h-1.3zM344.9 529.9h1.3v38.4h-1.3zM348.7 529.9h1.3v38.4h-1.3zM352.5 529.9h1.3v38.4h-1.3zM360 529.9h2.6v38.4h-2.6zM363.7 529.9h1.3v38.4h-1.3zM366.2 529.9h2.6v38.4h-2.6zM371.3 529.9h1.3v38.4h-1.3zM376.3 529.9h3.8v38.4h-3.8zM382.5 529.9h2.6v38.4h-2.6zM391.3 529.9h2.6v38.4h-2.6zM413.8 529.9h1.3v38.4h-1.3zM425.1 529.9h2.6v38.4h-2.6zM432.6 529.9h1.3v38.4h-1.3zM435.1 529.9h1.3v38.4h-1.3zM19.3 568.3h2.6v38.4h-2.6zM23 568.3h1.3v38.4h-1.3zM28 568.3h1.3v38.4h-1.3zM30.5 568.3h1.3v38.4h-1.3zM33 568.3h2.6v38.4h-2.6zM46.8 568.3h1.3v38.4h-1.3zM49.3 568.3h1.3v38.4h-1.3zM56.8 568.3h1.3v38.4h-1.3zM69.4 568.3h1.3v38.4h-1.3zM98.2 568.3h1.3v38.4h-1.3zM100.7 568.3h2.6v38.4h-2.6zM105.7 568.3h1.3v38.4h-1.3zM114.5 568.3h1.3v38.4h-1.3zM117 568.3h2.6v38.4h-2.6zM128.2 568.3h1.3v38.4h-1.3zM138.3 568.3h1.3v38.4h-1.3zM140.8 568.3h2.6v38.4h-2.6zM145.8 568.3h2.6v38.4h-2.6zM150.8 568.3h1.3v38.4h-1.3zM153.3 568.3h3.8v38.4h-3.8zM158.3 568.3h1.3v38.4h-1.3zM180.8 568.3h1.3v38.4h-1.3zM184.6 568.3h1.3v38.4h-1.3zM187.1 568.3h1.3v38.4h-1.3zM189.6 568.3h1.3v38.4h-1.3zM194.6 568.3h1.3v38.4h-1.3zM199.6 568.3h1.3v38.4h-1.3zM202.1 568.3h6.3v38.4h-6.3zM209.7 568.3h1.3v38.4h-1.3zM214.7 568.3h1.3v38.4h-1.3zM219.7 568.3h1.3v38.4h-1.3zM223.4 568.3h2.6v38.4h-2.6zM232.2 568.3h1.3v38.4h-1.3zM234.7 568.3h1.3v38.4h-1.3zM257.3 568.3h5.1v38.4h-5.1zM268.5 568.3h1.3v38.4h-1.3zM272.3 568.3h1.3v38.4h-1.3zM282.3 568.3h1.3v38.4h-1.3zM284.8 568.3h1.3v38.4h-1.3zM287.3 568.3h1.3v38.4h-1.3zM294.8 568.3h1.3v38.4h-1.3zM298.6 568.3h1.3v38.4h-1.3zM303.6 568.3h2.6v38.4h-2.6zM309.9 568.3h1.3v38.4h-1.3zM316.1 568.3h2.6v38.4h-2.6zM321.1 568.3h1.3v38.4h-1.3zM331.2 568.3h1.3v38.4h-1.3zM338.7 568.3h3.8v38.4h-3.8zM347.5 568.3h1.3v38.4h-1.3zM351.2 568.3h1.3v38.4h-1.3zM357.5 568.3h1.3v38.4h-1.3zM362.5 568.3h1.3v38.4h-1.3zM371.3 568.3h2.6v38.4h-2.6zM375 568.3h1.3v38.4h-1.3zM390 568.3h1.3v38.4h-1.3zM393.8 568.3h3.8v38.4h-3.8zM401.3 568.3h2.6v38.4h-2.6zM406.3 568.3h1.3v38.4h-1.3zM426.4 568.3h2.6v38.4h-2.6zM432.6 568.3h1.3v38.4h-1.3zM34.3 606.6h1.3v38.4h-1.3zM50.6 606.6h1.3v38.4h-1.3zM61.8 606.6h1.3v38.4h-1.3zM75.6 606.6h1.3v38.4h-1.3zM85.6 606.6h1.3v38.4h-1.3zM91.9 606.6h1.3v38.4h-1.3zM96.9 606.6h1.3v38.4h-1.3zM117 606.6h1.3v38.4h-1.3zM124.5 606.6h1.3v38.4h-1.3zM129.5 606.6h2.6v38.4h-2.6zM147 606.6h2.6v38.4h-2.6zM150.8 606.6h1.3v38.4h-1.3zM155.8 606.6h1.3v38.4h-1.3zM163.3 606.6h6.3v38.4h-6.3zM184.6 606.6h1.3v38.4h-1.3zM188.4 606.6h2.6v38.4h-2.6zM195.9 606.6h1.3v38.4h-1.3zM198.4 606.6h1.3v38.4h-1.3zM208.4 606.6h2.6v38.4h-2.6zM214.7 606.6h1.3v38.4h-1.3zM224.7 606.6h1.3v38.4h-1.3zM228.5 606.6h3.8v38.4h-3.8zM233.5 606.6h2.6v38.4h-2.6zM238.5 606.6h2.6v38.4h-2.6zM251 606.6h3.8v38.4h-3.8zM257.3 606.6h1.3v38.4h-1.3zM268.5 606.6h1.3v38.4h-1.3zM271 606.6h1.3v38.4h-1.3zM276.1 606.6h1.3v38.4h-1.3zM278.6 606.6h3.8v38.4h-3.8zM283.6 606.6h1.3v38.4h-1.3zM291.1 606.6h1.3v38.4h-1.3zM299.9 606.6h1.3v38.4h-1.3zM304.9 606.6h2.6v38.4h-2.6zM317.4 606.6h1.3v38.4h-1.3zM319.9 606.6h1.3v38.4h-1.3zM337.4 606.6h1.3v38.4h-1.3zM348.7 606.6h1.3v38.4h-1.3zM352.5 606.6h1.3v38.4h-1.3zM375 606.6h1.3v38.4h-1.3zM412.6 606.6h1.3v38.4h-1.3zM25.5 645h1.3v38.4h-1.3zM34.3 645h1.3v38.4h-1.3zM40.6 645h1.3v38.4h-1.3zM44.3 645h2.6v38.4h-2.6zM48.1 645h1.3v38.4h-1.3zM58.1 645h1.3v38.4h-1.3zM63.1 645h1.3v38.4h-1.3zM70.6 645h2.6v38.4h-2.6zM81.9 645h2.6v38.4h-2.6zM85.6 645h2.6v38.4h-2.6zM89.4 645h1.3v38.4h-1.3zM91.9 645h1.3v38.4h-1.3zM96.9 645h1.3v38.4h-1.3zM120.7 645h1.3v38.4h-1.3zM128.2 645h1.3v38.4h-1.3zM130.7 645h1.3v38.4h-1.3zM140.8 645h1.3v38.4h-1.3zM145.8 645h2.6v38.4h-2.6zM152 645h1.3v38.4h-1.3zM154.5 645h1.3v38.4h-1.3zM157 645h1.3v38.4h-1.3zM162.1 645h1.3v38.4h-1.3zM169.6 645h1.3v38.4h-1.3zM172.1 645h2.6v38.4h-2.6zM185.9 645h1.3v38.4h-1.3zM192.1 645h1.3v38.4h-1.3zM202.1 645h1.3v38.4h-1.3zM207.2 645h1.3v38.4h-1.3zM210.9 645h3.8v38.4h-3.8zM223.4 645h1.3v38.4h-1.3zM225.9 645h1.3v38.4h-1.3zM228.5 645h1.3v38.4h-1.3zM233.5 645h1.3v38.4h-1.3zM241 645h1.3v38.4h-1.3zM247.2 645h2.6v38.4h-2.6zM253.5 645h1.3v38.4h-1.3zM258.5 645h1.3v38.4h-1.3zM269.8 645h1.3v38.4h-1.3zM272.3 645h1.3v38.4h-1.3zM277.3 645h2.6v38.4h-2.6zM283.6 645h3.8v38.4h-3.8zM289.8 645h2.6v38.4h-2.6zM298.6 645h1.3v38.4h-1.3zM302.4 645h1.3v38.4h-1.3zM307.4 645h1.3v38.4h-1.3zM309.9 645h1.3v38.4h-1.3zM318.6 645h1.3v38.4h-1.3zM337.4 645h6.3v38.4h-6.3zM346.2 645h1.3v38.4h-1.3zM350 645h1.3v38.4h-1.3zM352.5 645h1.3v38.4h-1.3zM356.2 645h1.3v38.4h-1.3zM362.5 645h3.8v38.4h-3.8zM367.5 645h2.6v38.4h-2.6zM375 645h2.6v38.4h-2.6zM380 645h2.6v38.4h-2.6zM383.8 645h1.3v38.4h-1.3zM386.3 645h2.6v38.4h-2.6zM390 645h1.3v38.4h-1.3zM396.3 645h2.6v38.4h-2.6zM406.3 645h2.6v38.4h-2.6zM420.1 645h1.3v38.4h-1.3zM422.6 645h1.3v38.4h-1.3zM428.9 645h3.8v38.4h-3.8zM437.6 645h1.3v38.4h-1.3zM53.1 683.4h1.3v38.4h-1.3zM60.6 683.4h3.8v38.4h-3.8zM66.9 683.4h1.3v38.4h-1.3zM71.9 683.4h3.8v38.4h-3.8zM80.6 683.4h2.6v38.4h-2.6zM89.4 683.4h1.3v38.4h-1.3zM93.2 683.4h1.3v38.4h-1.3zM98.2 683.4h1.3v38.4h-1.3zM103.2 683.4h2.6v38.4h-2.6zM106.9 683.4h1.3v38.4h-1.3zM109.4 683.4h2.6v38.4h-2.6zM119.5 683.4h2.6v38.4h-2.6zM127 683.4h1.3v38.4h-1.3zM134.5 683.4h1.3v38.4h-1.3zM142 683.4h2.6v38.4h-2.6zM148.3 683.4h1.3v38.4h-1.3zM150.8 683.4h2.6v38.4h-2.6zM155.8 683.4h1.3v38.4h-1.3zM158.3 683.4h1.3v38.4h-1.3zM162.1 683.4h2.6v38.4h-2.6zM165.8 683.4h1.3v38.4h-1.3zM169.6 683.4h1.3v38.4h-1.3zM175.8 683.4h3.8v38.4h-3.8zM182.1 683.4h2.6v38.4h-2.6zM185.9 683.4h1.3v38.4h-1.3zM188.4 683.4h2.6v38.4h-2.6zM192.1 683.4h1.3v38.4h-1.3zM194.6 683.4h2.6v38.4h-2.6zM199.6 683.4h1.3v38.4h-1.3zM202.1 683.4h5.1v38.4h-5.1zM210.9 683.4h1.3v38.4h-1.3zM214.7 683.4h1.3v38.4h-1.3zM219.7 683.4h1.3v38.4h-1.3zM222.2 683.4h1.3v38.4h-1.3zM224.7 683.4h1.3v38.4h-1.3zM227.2 683.4h1.3v38.4h-1.3zM232.2 683.4h1.3v38.4h-1.3zM236 683.4h1.3v38.4h-1.3zM239.7 683.4h5.1v38.4h-5.1zM247.2 683.4h1.3v38.4h-1.3zM252.3 683.4h1.3v38.4h-1.3zM258.5 683.4h1.3v38.4h-1.3zM267.3 683.4h2.6v38.4h-2.6zM283.6 683.4h1.3v38.4h-1.3zM292.3 683.4h1.3v38.4h-1.3zM294.8 683.4h1.3v38.4h-1.3zM302.4 683.4h1.3v38.4h-1.3zM309.9 683.4h1.3v38.4h-1.3zM328.7 683.4h1.3v38.4h-1.3zM331.2 683.4h1.3v38.4h-1.3zM333.7 683.4h2.6v38.4h-2.6zM338.7 683.4h2.6v38.4h-2.6zM343.7 683.4h1.3v38.4h-1.3zM363.7 683.4h1.3v38.4h-1.3zM368.7 683.4h1.3v38.4h-1.3zM375 683.4h1.3v38.4h-1.3zM383.8 683.4h1.3v38.4h-1.3zM386.3 683.4h1.3v38.4h-1.3zM396.3 683.4h2.6v38.4h-2.6zM407.6 683.4h1.3v38.4h-1.3zM410.1 683.4h1.3v38.4h-1.3zM420.1 683.4h1.3v38.4h-1.3zM430.1 683.4h1.3v38.4h-1.3zM50.6 721.8h2.6v38.4h-2.6zM78.1 721.8h1.3v38.4h-1.3zM80.6 721.8h1.3v38.4h-1.3zM89.4 721.8h1.3v38.4h-1.3zM101.9 721.8h3.8v38.4h-3.8zM106.9 721.8h2.6v38.4h-2.6zM113.2 721.8h1.3v38.4h-1.3zM120.7 721.8h1.3v38.4h-1.3zM129.5 721.8h1.3v38.4h-1.3zM132 721.8h1.3v38.4h-1.3zM138.3 721.8h1.3v38.4h-1.3zM144.5 721.8h1.3v38.4h-1.3zM154.5 721.8h1.3v38.4h-1.3zM159.6 721.8h1.3v38.4h-1.3zM174.6 721.8h1.3v38.4h-1.3zM177.1 721.8h1.3v38.4h-1.3zM183.4 721.8h2.6v38.4h-2.6zM188.4 721.8h1.3v38.4h-1.3zM203.4 721.8h2.6v38.4h-2.6zM210.9 721.8h2.6v38.4h-2.6zM236 721.8h2.6v38.4h-2.6zM239.7 721.8h1.3v38.4h-1.3zM249.7 721.8h1.3v38.4h-1.3zM258.5 721.8h1.3v38.4h-1.3zM261 721.8h2.6v38.4h-2.6zM264.8 721.8h1.3v38.4h-1.3zM267.3 721.8h1.3v38.4h-1.3zM276.1 721.8h2.6v38.4h-2.6zM301.1 721.8h1.3v38.4h-1.3zM312.4 721.8h1.3v38.4h-1.3zM314.9 721.8h1.3v38.4h-1.3zM323.7 721.8h1.3v38.4h-1.3zM336.2 721.8h1.3v38.4h-1.3zM342.4 721.8h1.3v38.4h-1.3zM393.8 721.8h1.3v38.4h-1.3zM28 760.1h1.3v38.4h-1.3zM33 760.1h1.3v38.4h-1.3zM36.8 760.1h1.3v38.4h-1.3zM51.8 760.1h1.3v38.4h-1.3zM63.1 760.1h1.3v38.4h-1.3zM73.1 760.1h1.3v38.4h-1.3zM75.6 760.1h1.3v38.4h-1.3zM90.7 760.1h2.6v38.4h-2.6zM95.7 760.1h1.3v38.4h-1.3zM103.2 760.1h1.3v38.4h-1.3zM113.2 760.1h1.3v38.4h-1.3zM127 760.1h1.3v38.4h-1.3zM130.7 760.1h2.6v38.4h-2.6zM134.5 760.1h1.3v38.4h-1.3zM137 760.1h1.3v38.4h-1.3zM145.8 760.1h1.3v38.4h-1.3zM148.3 760.1h1.3v38.4h-1.3zM150.8 760.1h1.3v38.4h-1.3zM155.8 760.1h1.3v38.4h-1.3zM164.6 760.1h2.6v38.4h-2.6zM169.6 760.1h1.3v38.4h-1.3zM172.1 760.1h1.3v38.4h-1.3zM183.4 760.1h2.6v38.4h-2.6zM193.4 760.1h1.3v38.4h-1.3zM200.9 760.1h1.3v38.4h-1.3zM203.4 760.1h1.3v38.4h-1.3zM207.2 760.1h2.6v38.4h-2.6zM210.9 760.1h1.3v38.4h-1.3zM218.4 760.1h1.3v38.4h-1.3zM228.5 760.1h1.3v38.4h-1.3zM238.5 760.1h1.3v38.4h-1.3zM241 760.1h3.8v38.4h-3.8zM246 760.1h2.6v38.4h-2.6zM249.7 760.1h1.3v38.4h-1.3zM252.3 760.1h1.3v38.4h-1.3zM261 760.1h1.3v38.4h-1.3zM267.3 760.1h3.8v38.4h-3.8zM276.1 760.1h2.6v38.4h-2.6zM281.1 760.1h1.3v38.4h-1.3zM283.6 760.1h2.6v38.4h-2.6zM287.3 760.1h1.3v38.4h-1.3zM291.1 760.1h2.6v38.4h-2.6zM296.1 760.1h1.3v38.4h-1.3zM308.6 760.1h2.6v38.4h-2.6zM317.4 760.1h2.6v38.4h-2.6zM334.9 760.1h1.3v38.4h-1.3zM371.3 760.1h2.6v38.4h-2.6zM378.8 760.1h1.3v38.4h-1.3zM381.3 760.1h1.3v38.4h-1.3zM397.6 760.1h1.3v38.4h-1.3zM39.3 798.5h1.3v38.4h-1.3zM60.6 798.5h1.3v38.4h-1.3zM98.2 798.5h1.3v38.4h-1.3zM106.9 798.5h1.3v38.4h-1.3zM113.2 798.5h1.3v38.4h-1.3zM115.7 798.5h1.3v38.4h-1.3zM137 798.5h1.3v38.4h-1.3zM162.1 798.5h1.3v38.4h-1.3zM165.8 798.5h1.3v38.4h-1.3zM175.8 798.5h1.3v38.4h-1.3zM178.3 798.5h1.3v38.4h-1.3zM189.6 798.5h1.3v38.4h-1.3zM197.1 798.5h1.3v38.4h-1.3zM202.1 798.5h1.3v38.4h-1.3zM217.2 798.5h1.3v38.4h-1.3zM238.5 798.5h1.3v38.4h-1.3zM241 798.5h1.3v38.4h-1.3zM246 798.5h1.3v38.4h-1.3zM248.5 798.5h1.3v38.4h-1.3zM252.3 798.5h2.6v38.4h-2.6zM256 798.5h1.3v38.4h-1.3zM279.8 798.5h1.3v38.4h-1.3zM286.1 798.5h1.3v38.4h-1.3zM288.6 798.5h5.1v38.4h-5.1zM323.7 798.5h2.6v38.4h-2.6zM334.9 798.5h1.3v38.4h-1.3zM338.7 798.5h1.3v38.4h-1.3zM341.2 798.5h1.3v38.4h-1.3zM348.7 798.5h5.1v38.4h-5.1zM355 798.5h3.8v38.4h-3.8zM361.2 798.5h1.3v38.4h-1.3zM363.7 798.5h1.3v38.4h-1.3zM366.2 798.5h1.3v38.4h-1.3zM373.8 798.5h2.6v38.4h-2.6zM378.8 798.5h1.3v38.4h-1.3zM385 798.5h1.3v38.4h-1.3zM387.5 798.5h1.3v38.4h-1.3zM390 798.5h5.1v38.4h-5.1zM401.3 798.5h1.3v38.4h-1.3zM407.6 798.5h1.3v38.4h-1.3zM415.1 798.5h1.3v38.4h-1.3zM422.6 798.5h2.6v38.4h-2.6zM428.9 798.5h1.3v38.4h-1.3zM432.6 798.5h1.3v38.4h-1.3zM436.4 798.5h1.3v38.4h-1.3zM18 836.9h1.3v38.4h-1.3zM23 836.9h1.3v38.4h-1.3zM29.3 836.9h2.6v38.4h-2.6zM34.3 836.9h1.3v38.4h-1.3zM38 836.9h1.3v38.4h-1.3zM40.6 836.9h1.3v38.4h-1.3zM48.1 836.9h1.3v38.4h-1.3zM55.6 836.9h2.6v38.4h-2.6zM60.6 836.9h6.3v38.4h-6.3zM73.1 836.9h1.3v38.4h-1.3zM75.6 836.9h1.3v38.4h-1.3zM79.4 836.9h1.3v38.4h-1.3zM83.1 836.9h1.3v38.4h-1.3zM86.9 836.9h1.3v38.4h-1.3zM90.7 836.9h1.3v38.4h-1.3zM93.2 836.9h1.3v38.4h-1.3zM101.9 836.9h1.3v38.4h-1.3zM104.4 836.9h1.3v38.4h-1.3zM109.4 836.9h2.6v38.4h-2.6zM115.7 836.9h2.6v38.4h-2.6zM124.5 836.9h1.3v38.4h-1.3zM127 836.9h3.8v38.4h-3.8zM135.8 836.9h1.3v38.4h-1.3zM140.8 836.9h1.3v38.4h-1.3zM150.8 836.9h1.3v38.4h-1.3zM155.8 836.9h1.3v38.4h-1.3zM158.3 836.9h2.6v38.4h-2.6zM162.1 836.9h1.3v38.4h-1.3zM164.6 836.9h1.3v38.4h-1.3zM173.3 836.9h1.3v38.4h-1.3zM178.3 836.9h1.3v38.4h-1.3zM187.1 836.9h1.3v38.4h-1.3zM193.4 836.9h1.3v38.4h-1.3zM204.6 836.9h1.3v38.4h-1.3zM209.7 836.9h3.8v38.4h-3.8zM214.7 836.9h2.6v38.4h-2.6zM220.9 836.9h2.6v38.4h-2.6zM224.7 836.9h1.3v38.4h-1.3zM227.2 836.9h1.3v38.4h-1.3zM233.5 836.9h1.3v38.4h-1.3zM248.5 836.9h1.3v38.4h-1.3zM252.3 836.9h2.6v38.4h-2.6zM264.8 836.9h1.3v38.4h-1.3zM269.8 836.9h1.3v38.4h-1.3zM274.8 836.9h1.3v38.4h-1.3zM281.1 836.9h2.6v38.4h-2.6zM286.1 836.9h3.8v38.4h-3.8zM292.3 836.9h1.3v38.4h-1.3zM296.1 836.9h1.3v38.4h-1.3zM299.9 836.9h1.3v38.4h-1.3zM303.6 836.9h1.3v38.4h-1.3zM306.1 836.9h2.6v38.4h-2.6zM309.9 836.9h1.3v38.4h-1.3zM317.4 836.9h1.3v38.4h-1.3zM327.4 836.9h1.3v38.4h-1.3zM336.2 836.9h3.8v38.4h-3.8zM343.7 836.9h1.3v38.4h-1.3zM351.2 836.9h1.3v38.4h-1.3zM353.7 836.9h1.3v38.4h-1.3zM358.7 836.9h1.3v38.4h-1.3zM361.2 836.9h1.3v38.4h-1.3zM365 836.9h1.3v38.4h-1.3zM368.7 836.9h1.3v38.4h-1.3zM378.8 836.9h1.3v38.4h-1.3zM381.3 836.9h1.3v38.4h-1.3zM387.5 836.9h2.6v38.4h-2.6zM393.8 836.9h1.3v38.4h-1.3zM396.3 836.9h1.3v38.4h-1.3zM398.8 836.9h1.3v38.4h-1.3zM407.6 836.9h2.6v38.4h-2.6zM411.3 836.9h1.3v38.4h-1.3zM413.8 836.9h1.3v38.4h-1.3zM420.1 836.9h1.3v38.4h-1.3zM422.6 836.9h1.3v38.4h-1.3zM425.1 836.9h1.3v38.4h-1.3zM431.4 836.9h3.8v38.4h-3.8zM91.9 875.2h1.3v38.4h-1.3zM147 875.2h1.3v38.4h-1.3zM158.3 875.2h1.3v38.4h-1.3zM164.6 875.2h1.3v38.4h-1.3zM168.3 875.2h1.3v38.4h-1.3zM175.8 875.2h1.3v38.4h-1.3zM184.6 875.2h2.6v38.4h-2.6zM189.6 875.2h1.3v38.4h-1.3zM198.4 875.2h1.3v38.4h-1.3zM203.4 875.2h1.3v38.4h-1.3zM207.2 875.2h1.3v38.4h-1.3zM210.9 875.2h1.3v38.4h-1.3zM214.7 875.2h2.6v38.4h-2.6zM219.7 875.2h2.6v38.4h-2.6zM225.9 875.2h1.3v38.4h-1.3zM231 875.2h3.8v38.4h-3.8zM237.2 875.2h1.3v38.4h-1.3zM244.7 875.2h1.3v38.4h-1.3zM249.7 875.2h1.3v38.4h-1.3zM257.3 875.2h3.8v38.4h-3.8zM264.8 875.2h1.3v38.4h-1.3zM267.3 875.2h1.3v38.4h-1.3zM271 875.2h1.3v38.4h-1.3zM277.3 875.2h2.6v38.4h-2.6zM283.6 875.2h1.3v38.4h-1.3zM286.1 875.2h2.6v38.4h-2.6zM291.1 875.2h1.3v38.4h-1.3zM294.8 875.2h1.3v38.4h-1.3zM297.3 875.2h2.6v38.4h-2.6zM314.9 875.2h1.3v38.4h-1.3zM327.4 875.2h1.3v38.4h-1.3zM331.2 875.2h1.3v38.4h-1.3zM337.4 875.2h1.3v38.4h-1.3zM344.9 875.2h1.3v38.4h-1.3zM347.5 875.2h1.3v38.4h-1.3zM357.5 875.2h1.3v38.4h-1.3zM361.2 875.2h3.8v38.4h-3.8zM372.5 875.2h1.3v38.4h-1.3zM378.8 875.2h1.3v38.4h-1.3zM382.5 875.2h1.3v38.4h-1.3zM418.9 875.2h1.3v38.4h-1.3zM423.9 875.2h1.3v38.4h-1.3z"/>
<path fill="#19210b" shape-rendering="crispEdges" d="M26.8 529.9h2.6v38.4h-2.6zM40.6 529.9h1.3v38.4h-1.3zM45.6 529.9h1.3v38.4h-1.3zM50.6 529.9h1.3v38.4h-1.3zM54.3 529.9h1.3v38.4h-1.3zM59.3 529.9h1.3v38.4h-1.3zM64.4 529.9h1.3v38.4h-1.3zM80.6 529.9h1.3v38.4h-1.3zM89.4 529.9h1.3v38.4h-1.3zM94.4 529.9h1.3v38.4h-1.3zM100.7 529.9h1.3v38.4h-1.3zM108.2 529.9h1.3v38.4h-1.3zM115.7 529.9h2.6v38.4h-2.6zM124.5 529.9h1.3v38.4h-1.3zM129.5 529.9h1.3v38.4h-1.3zM133.2 529.9h1.3v38.4h-1.3zM148.3 529.9h1.3v38.4h-1.3zM150.8 529.9h1.3v38.4h-1.3zM153.3 529.9h1.3v38.4h-1.3zM163.3 529.9h2.6v38.4h-2.6zM175.8 529.9h1.3v38.4h-1.3zM182.1 529.9h1.3v38.4h-1.3zM198.4 529.9h1.3v38.4h-1.3zM213.4 529.9h1.3v38.4h-1.3zM224.7 529.9h1.3v38.4h-1.3zM257.3 529.9h1.3v38.4h-1.3zM264.8 529.9h1.3v38.4h-1.3zM273.5 529.9h1.3v38.4h-1.3zM276.1 529.9h1.3v38.4h-1.3zM286.1 529.9h1.3v38.4h-1.3zM314.9 529.9h1.3v38.4h-1.3zM418.9 529.9h1.3v38.4h-1.3zM44.3 568.3h1.3v38.4h-1.3zM51.8 568.3h1.3v38.4h-1.3zM103.2 568.3h1.3v38.4h-1.3zM110.7 568.3h1.3v38.4h-1.3zM178.3 568.3h1.3v38.4h-1.3zM215.9 568.3h1.3v38.4h-1.3zM242.2 568.3h1.3v38.4h-1.3zM253.5 568.3h1.3v38.4h-1.3zM266 568.3h1.3v38.4h-1.3zM296.1 568.3h1.3v38.4h-1.3zM328.7 568.3h1.3v38.4h-1.3zM348.7 568.3h2.6v38.4h-2.6zM353.7 568.3h1.3v38.4h-1.3zM373.8 568.3h1.3v38.4h-1.3zM383.8 568.3h1.3v38.4h-1.3zM391.3 568.3h2.6v38.4h-2.6zM405.1 568.3h1.3v38.4h-1.3zM408.8 568.3h2.6v38.4h-2.6zM416.3 568.3h1.3v38.4h-1.3zM420.1 568.3h1.3v38.4h-1.3zM425.1 568.3h1.3v38.4h-1.3zM433.9 568.3h3.8v38.4h-3.8zM440.1 568.3h1.3v38.4h-1.3zM125.7 606.6h1.3v38.4h-1.3zM133.2 606.6h1.3v38.4h-1.3zM159.6 606.6h1.3v38.4h-1.3zM174.6 606.6h1.3v38.4h-1.3zM179.6 606.6h2.6v38.4h-2.6zM187.1 606.6h1.3v38.4h-1.3zM202.1 606.6h1.3v38.4h-1.3zM218.4 606.6h1.3v38.4h-1.3zM236 606.6h1.3v38.4h-1.3zM241 606.6h3.8v38.4h-3.8zM254.8 606.6h2.6v38.4h-2.6zM274.8 606.6h1.3v38.4h-1.3zM288.6 606.6h1.3v38.4h-1.3zM297.3 606.6h1.3v38.4h-1.3zM301.1 606.6h2.6v38.4h-2.6zM307.4 606.6h2.6v38.4h-2.6zM312.4 606.6h2.6v38.4h-2.6zM322.4 606.6h1.3v38.4h-1.3zM326.2 606.6h1.3v38.4h-1.3zM341.2 606.6h1.3v38.4h-1.3zM343.7 606.6h1.3v38.4h-1.3zM353.7 606.6h1.3v38.4h-1.3zM356.2 606.6h1.3v38.4h-1.3zM358.7 606.6h3.8v38.4h-3.8zM365 606.6h1.3v38.4h-1.3zM368.7 606.6h1.3v38.4h-1.3zM372.5 606.6h2.6v38.4h-2.6zM382.5 606.6h1.3v38.4h-1.3zM386.3 606.6h1.3v38.4h-1.3zM388.8 606.6h2.6v38.4h-2.6zM402.6 606.6h1.3v38.4h-1.3zM405.1 606.6h3.8v38.4h-3.8zM410.1 606.6h1.3v38.4h-1.3zM415.1 606.6h1.3v38.4h-1.3zM421.4 606.6h1.3v38.4h-1.3zM438.9 606.6h1.3v38.4h-1.3zM15.5 645h1.3v38.4h-1.3zM20.5 645h1.3v38.4h-1.3zM24.3 645h1.3v38.4h-1.3zM29.3 645h2.6v38.4h-2.6zM33 645h1.3v38.4h-1.3zM36.8 645h1.3v38.4h-1.3zM39.3 645h1.3v38.4h-1.3zM49.3 645h1.3v38.4h-1.3zM53.1 645h1.3v38.4h-1.3zM59.3 645h2.6v38.4h-2.6zM64.4 645h1.3v38.4h-1.3zM66.9 645h1.3v38.4h-1.3zM75.6 645h1.3v38.4h-1.3zM80.6 645h1.3v38.4h-1.3zM88.2 645h1.3v38.4h-1.3zM100.7 645h1.3v38.4h-1.3zM108.2 645h2.6v38.4h-2.6zM113.2 645h1.3v38.4h-1.3zM119.5 645h1.3v38.4h-1.3zM122 645h1.3v38.4h-1.3zM127 645h1.3v38.4h-1.3zM137 645h1.3v38.4h-1.3zM144.5 645h1.3v38.4h-1.3zM150.8 645h1.3v38.4h-1.3zM159.6 645h1.3v38.4h-1.3zM164.6 645h1.3v38.4h-1.3zM177.1 645h1.3v38.4h-1.3zM182.1 645h2.6v38.4h-2.6zM187.1 645h2.6v38.4h-2.6zM190.9 645h1.3v38.4h-1.3zM197.1 645h2.6v38.4h-2.6zM215.9 645h1.3v38.4h-1.3zM229.7 645h1.3v38.4h-1.3zM236 645h1.3v38.4h-1.3zM259.8 645h1.3v38.4h-1.3zM266 645h1.3v38.4h-1.3zM271 645h1.3v38.4h-1.3zM274.8 645h1.3v38.4h-1.3zM279.8 645h2.6v38.4h-2.6zM287.3 645h1.3v38.4h-1.3zM294.8 645h3.8v38.4h-3.8zM299.9 645h2.6v38.4h-2.6zM303.6 645h3.8v38.4h-3.8zM308.6 645h1.3v38.4h-1.3zM327.4 645h1.3v38.4h-1.3zM329.9 645h1.3v38.4h-1.3zM366.2 645h1.3v38.4h-1.3zM377.5 645h1.3v38.4h-1.3zM391.3 645h1.3v38.4h-1.3zM410.1 645h1.3v38.4h-1.3zM412.6 645h1.3v38.4h-1.3zM416.3 645h1.3v38.4h-1.3zM418.9 645h1.3v38.4h-1.3zM68.1 683.4h1.3v38.4h-1.3zM75.6 683.4h1.3v38.4h-1.3zM95.7 683.4h1.3v38.4h-1.3zM129.5 683.4h1.3v38.4h-1.3zM133.2 683.4h1.3v38.4h-1.3zM147 683.4h1.3v38.4h-1.3zM159.6 683.4h1.3v38.4h-1.3zM164.6 683.4h1.3v38.4h-1.3zM180.8 683.4h1.3v38.4h-1.3zM187.1 683.4h1.3v38.4h-1.3zM207.2 683.4h1.3v38.4h-1.3zM212.2 683.4h1.3v38.4h-1.3zM223.4 683.4h1.3v38.4h-1.3zM228.5 683.4h1.3v38.4h-1.3zM238.5 683.4h1.3v38.4h-1.3zM256 683.4h1.3v38.4h-1.3zM271 683.4h1.3v38.4h-1.3zM274.8 683.4h2.6v38.4h-2.6zM288.6 683.4h1.3v38.4h-1.3zM291.1 683.4h1.3v38.4h-1.3zM297.3 683.4h1.3v38.4h-1.3zM307.4 683.4h1.3v38.4h-1.3zM319.9 683.4h2.6v38.4h-2.6zM323.7 683.4h1.3v38.4h-1.3zM378.8 683.4h2.6v38.4h-2.6zM382.5 683.4h1.3v38.4h-1.3zM393.8 683.4h1.3v38.4h-1.3zM403.8 683.4h2.6v38.4h-2.6zM416.3 683.4h1.3v38.4h-1.3zM423.9 683.4h1.3v38.4h-1.3zM428.9 683.4h1.3v38.4h-1.3zM433.9 683.4h1.3v38.4h-1.3zM437.6 683.4h1.3v38.4h-1.3zM440.1 683.4h1.3v38.4h-1.3zM98.2 721.8h1.3v38.4h-1.3zM114.5 721.8h1.3v38.4h-1.3zM117 721.8h1.3v38.4h-1.3zM119.5 721.8h1.3v38.4h-1.3zM134.5 721.8h2.6v38.4h-2.6zM175.8 721.8h1.3v38.4h-1.3zM192.1 721.8h1.3v38.4h-1.3zM195.9 721.8h1.3v38.4h-1.3zM202.1 721.8h1.3v38.4h-1.3zM207.2 721.8h1.3v38.4h-1.3zM209.7 721.8h1.3v38.4h-1.3zM224.7 721.8h1.3v38.4h-1.3zM238.5 721.8h1.3v38.4h-1.3zM252.3 721.8h1.3v38.4h-1.3zM257.3 721.8h1.3v38.4h-1.3zM259.8 721.8h1.3v38.4h-1.3zM274.8 721.8h1.3v38.4h-1.3zM279.8 721.8h1.3v38.4h-1.3zM282.3 721.8h2.6v38.4h-2.6zM291.1 721.8h1.3v38.4h-1.3zM293.6 721.8h1.3v38.4h-1.3zM296.1 721.8h2.6v38.4h-2.6zM306.1 721.8h2.6v38.4h-2.6zM309.9 721.8h2.6v38.4h-2.6zM316.1 721.8h1.3v38.4h-1.3zM319.9 721.8h1.3v38.4h-1.3zM322.4 721.8h1.3v38.4h-1.3zM326.2 721.8h2.6v38.4h-2.6zM329.9 721.8h1.3v38.4h-1.3zM332.4 721.8h3.8v38.4h-3.8zM337.4 721.8h1.3v38.4h-1.3zM339.9 721.8h1.3v38.4h-1.3zM344.9 721.8h2.6v38.4h-2.6zM360 721.8h1.3v38.4h-1.3zM367.5 721.8h2.6v38.4h-2.6zM371.3 721.8h2.6v38.4h-2.6zM375 721.8h2.6v38.4h-2.6zM383.8 721.8h1.3v38.4h-1.3zM387.5 721.8h1.3v38.4h-1.3zM391.3 721.8h1.3v38.4h-1.3zM401.3 721.8h3.8v38.4h-3.8zM406.3 721.8h2.6v38.4h-2.6zM413.8 721.8h1.3v38.4h-1.3zM423.9 721.8h3.8v38.4h-3.8zM428.9 721.8h1.3v38.4h-1.3zM432.6 721.8h2.6v38.4h-2.6zM19.3 760.1h1.3v38.4h-1.3zM25.5 760.1h1.3v38.4h-1.3zM30.5 760.1h1.3v38.4h-1.3zM34.3 760.1h2.6v38.4h-2.6zM38 760.1h2.6v38.4h-2.6zM46.8 760.1h1.3v38.4h-1.3zM65.6 760.1h1.3v38.4h-1.3zM69.4 760.1h1.3v38.4h-1.3zM78.1 760.1h1.3v38.4h-1.3zM80.6 760.1h1.3v38.4h-1.3zM83.1 760.1h1.3v38.4h-1.3zM85.6 760.1h2.6v38.4h-2.6zM89.4 760.1h1.3v38.4h-1.3zM93.2 760.1h1.3v38.4h-1.3zM96.9 760.1h1.3v38.4h-1.3zM99.4 760.1h1.3v38.4h-1.3zM110.7 760.1h1.3v38.4h-1.3zM117 760.1h1.3v38.4h-1.3zM120.7 760.1h1.3v38.4h-1.3zM123.2 760.1h1.3v38.4h-1.3zM125.7 760.1h1.3v38.4h-1.3zM133.2 760.1h1.3v38.4h-1.3zM154.5 760.1h1.3v38.4h-1.3zM160.8 760.1h1.3v38.4h-1.3zM168.3 760.1h1.3v38.4h-1.3zM170.8 760.1h1.3v38.4h-1.3zM188.4 760.1h1.3v38.4h-1.3zM205.9 760.1h1.3v38.4h-1.3zM224.7 760.1h1.3v38.4h-1.3zM244.7 760.1h1.3v38.4h-1.3zM20.5 798.5h1.3v38.4h-1.3zM25.5 798.5h1.3v38.4h-1.3zM28 798.5h1.3v38.4h-1.3zM31.8 798.5h1.3v38.4h-1.3zM38 798.5h1.3v38.4h-1.3zM40.6 798.5h1.3v38.4h-1.3zM43.1 798.5h2.6v38.4h-2.6zM53.1 798.5h1.3v38.4h-1.3zM56.8 798.5h1.3v38.4h-1.3zM63.1 798.5h2.6v38.4h-2.6zM68.1 798.5h1.3v38.4h-1.3zM73.1 798.5h1.3v38.4h-1.3zM79.4 798.5h5.1v38.4h-5.1zM85.6 798.5h1.3v38.4h-1.3zM88.2 798.5h1.3v38.4h-1.3zM90.7 798.5h1.3v38.4h-1.3zM94.4 798.5h1.3v38.4h-1.3zM100.7 798.5h1.3v38.4h-1.3zM103.2 798.5h3.8v38.4h-3.8zM110.7 798.5h1.3v38.4h-1.3zM119.5 798.5h2.6v38.4h-2.6zM127 798.5h1.3v38.4h-1.3zM133.2 798.5h1.3v38.4h-1.3zM142 798.5h1.3v38.4h-1.3zM145.8 798.5h1.3v38.4h-1.3zM148.3 798.5h1.3v38.4h-1.3zM150.8 798.5h1.3v38.4h-1.3zM153.3 798.5h1.3v38.4h-1.3zM159.6 798.5h2.6v38.4h-2.6zM163.3 798.5h1.3v38.4h-1.3zM177.1 798.5h1.3v38.4h-1.3zM179.6 798.5h1.3v38.4h-1.3zM184.6 798.5h1.3v38.4h-1.3zM187.1 798.5h2.6v38.4h-2.6zM190.9 798.5h1.3v38.4h-1.3zM194.6 798.5h1.3v38.4h-1.3zM199.6 798.5h1.3v38.4h-1.3zM209.7 798.5h1.3v38.4h-1.3zM222.2 798.5h1.3v38.4h-1.3zM224.7 798.5h1.3v38.4h-1.3zM227.2 798.5h2.6v38.4h-2.6zM233.5 798.5h1.3v38.4h-1.3zM242.2 798.5h1.3v38.4h-1.3zM244.7 798.5h1.3v38.4h-1.3zM258.5 798.5h2.6v38.4h-2.6zM269.8 798.5h1.3v38.4h-1.3zM276.1 798.5h1.3v38.4h-1.3zM301.1 798.5h1.3v38.4h-1.3zM314.9 798.5h1.3v38.4h-1.3zM332.4 798.5h1.3v38.4h-1.3zM343.7 798.5h1.3v38.4h-1.3zM358.7 798.5h1.3v38.4h-1.3zM376.3 798.5h1.3v38.4h-1.3zM24.3 836.9h1.3v38.4h-1.3zM31.8 836.9h2.6v38.4h-2.6zM41.8 836.9h1.3v38.4h-1.3zM53.1 836.9h2.6v38.4h-2.6zM68.1 836.9h1.3v38.4h-1.3zM95.7 836.9h1.3v38.4h-1.3zM106.9 836.9h1.3v38.4h-1.3zM114.5 836.9h1.3v38.4h-1.3zM120.7 836.9h1.3v38.4h-1.3zM143.3 836.9h1.3v38.4h-1.3zM163.3 836.9h1.3v38.4h-1.3zM172.1 836.9h1.3v38.4h-1.3zM175.8 836.9h1.3v38.4h-1.3zM179.6 836.9h1.3v38.4h-1.3zM184.6 836.9h1.3v38.4h-1.3zM189.6 836.9h1.3v38.4h-1.3zM199.6 836.9h1.3v38.4h-1.3zM237.2 836.9h1.3v38.4h-1.3zM241 836.9h1.3v38.4h-1.3zM249.7 836.9h1.3v38.4h-1.3zM254.8 836.9h1.3v38.4h-1.3zM289.8 836.9h1.3v38.4h-1.3zM298.6 836.9h1.3v38.4h-1.3zM333.7 836.9h1.3v38.4h-1.3zM360 836.9h1.3v38.4h-1.3zM24.3 875.2h1.3v38.4h-1.3zM31.8 875.2h1.3v38.4h-1.3zM40.6 875.2h1.3v38.4h-1.3zM49.3 875.2h1.3v38.4h-1.3zM59.3 875.2h1.3v38.4h-1.3zM64.4 875.2h1.3v38.4h-1.3zM66.9 875.2h1.3v38.4h-1.3zM70.6 875.2h1.3v38.4h-1.3zM73.1 875.2h2.6v38.4h-2.6zM80.6 875.2h1.3v38.4h-1.3zM89.4 875.2h1.3v38.4h-1.3zM94.4 875.2h1.3v38.4h-1.3zM96.9 875.2h2.6v38.4h-2.6zM104.4 875.2h1.3v38.4h-1.3zM109.4 875.2h1.3v38.4h-1.3zM113.2 875.2h2.6v38.4h-2.6zM124.5 875.2h2.6v38.4h-2.6zM129.5 875.2h2.6v38.4h-2.6zM135.8 875.2h1.3v38.4h-1.3zM138.3 875.2h1.3v38.4h-1.3zM142 875.2h5.1v38.4h-5.1zM148.3 875.2h2.6v38.4h-2.6zM153.3 875.2h1.3v38.4h-1.3zM162.1 875.2h1.3v38.4h-1.3zM165.8 875.2h1.3v38.4h-1.3zM172.1 875.2h3.8v38.4h-3.8zM182.1 875.2h2.6v38.4h-2.6zM188.4 875.2h1.3v38.4h-1.3zM190.9 875.2h2.6v38.4h-2.6zM202.1 875.2h1.3v38.4h-1.3zM205.9 875.2h1.3v38.4h-1.3zM213.4 875.2h1.3v38.4h-1.3zM218.4 875.2h1.3v38.4h-1.3zM222.2 875.2h1.3v38.4h-1.3zM227.2 875.2h1.3v38.4h-1.3zM229.7 875.2h1.3v38.4h-1.3zM246 875.2h2.6v38.4h-2.6zM251 875.2h1.3v38.4h-1.3zM269.8 875.2h1.3v38.4h-1.3zM273.5 875.2h1.3v38.4h-1.3zM312.4 875.2h1.3v38.4h-1.3zM321.1 875.2h2.6v38.4h-2.6zM411.3 875.2h1.3v38.4h-1.3z"/>
<path fill="#2e4b14" shape-rendering="crispEdges" d="M30.5 529.9h1.3v38.4h-1.3zM426.4 645h1.3v38.4h-1.3zM328.7 721.8h1.3v38.4h-1.3zM65.6 798.5h1.3v38.4h-1.3zM75.6 798.5h1.3v38.4h-1.3zM274.8 798.5h1.3v38.4h-1.3zM218.4 836.9h1.3v38.4h-1.3zM123.2 875.2h1.3v38.4h-1.3z"/>
<path fill="#1c280d" shape-rendering="crispEdges" d="M33 529.9h1.3v38.4h-1.3zM96.9 529.9h1.3v38.4h-1.3zM197.1 529.9h1.3v38.4h-1.3zM214.7 529.9h1.3v38.4h-1.3zM299.9 529.9h1.3v38.4h-1.3zM309.9 529.9h1.3v38.4h-1.3zM319.9 529.9h1.3v38.4h-1.3zM346.2 529.9h1.3v38.4h-1.3zM302.4 568.3h1.3v38.4h-1.3zM337.4 568.3h1.3v38.4h-1.3zM346.2 568.3h1.3v38.4h-1.3zM365 568.3h2.6v38.4h-2.6zM415.1 568.3h1.3v38.4h-1.3zM417.6 568.3h1.3v38.4h-1.3zM421.4 568.3h1.3v38.4h-1.3zM277.3 606.6h1.3v38.4h-1.3zM286.1 606.6h1.3v38.4h-1.3zM314.9 606.6h1.3v38.4h-1.3zM324.9 606.6h1.3v38.4h-1.3zM331.2 606.6h1.3v38.4h-1.3zM338.7 606.6h1.3v38.4h-1.3zM347.5 606.6h1.3v38.4h-1.3zM362.5 606.6h1.3v38.4h-1.3zM381.3 606.6h1.3v38.4h-1.3zM383.8 606.6h2.6v38.4h-2.6zM391.3 606.6h3.8v38.4h-3.8zM397.6 606.6h3.8v38.4h-3.8zM418.9 606.6h2.6v38.4h-2.6zM425.1 606.6h1.3v38.4h-1.3zM431.4 606.6h1.3v38.4h-1.3zM435.1 606.6h1.3v38.4h-1.3zM16.8 645h1.3v38.4h-1.3zM21.8 645h1.3v38.4h-1.3zM26.8 645h1.3v38.4h-1.3zM38 645h1.3v38.4h-1.3zM41.8 645h1.3v38.4h-1.3zM46.8 645h1.3v38.4h-1.3zM50.6 645h1.3v38.4h-1.3zM56.8 645h1.3v38.4h-1.3zM68.1 645h1.3v38.4h-1.3zM90.7 645h1.3v38.4h-1.3zM123.2 645h1.3v38.4h-1.3zM167.1 645h1.3v38.4h-1.3zM184.6 645h1.3v38.4h-1.3zM189.6 645h1.3v38.4h-1.3zM194.6 645h1.3v38.4h-1.3zM219.7 645h1.3v38.4h-1.3zM234.7 645h1.3v38.4h-1.3zM243.5 645h1.3v38.4h-1.3zM257.3 645h1.3v38.4h-1.3zM276.1 645h1.3v38.4h-1.3zM293.6 645h1.3v38.4h-1.3zM360 645h1.3v38.4h-1.3zM372.5 645h1.3v38.4h-1.3zM423.9 645h1.3v38.4h-1.3zM90.7 683.4h1.3v38.4h-1.3zM100.7 683.4h1.3v38.4h-1.3zM153.3 683.4h1.3v38.4h-1.3zM213.4 683.4h1.3v38.4h-1.3zM237.2 683.4h1.3v38.4h-1.3zM261 683.4h3.8v38.4h-3.8zM298.6 683.4h1.3v38.4h-1.3zM312.4 683.4h2.6v38.4h-2.6zM318.6 683.4h1.3v38.4h-1.3zM332.4 683.4h1.3v38.4h-1.3zM348.7 683.4h1.3v38.4h-1.3zM356.2 683.4h2.6v38.4h-2.6zM365 683.4h1.3v38.4h-1.3zM371.3 683.4h1.3v38.4h-1.3zM373.8 683.4h1.3v38.4h-1.3zM376.3 683.4h2.6v38.4h-2.6zM392.5 683.4h1.3v38.4h-1.3zM398.8 683.4h1.3v38.4h-1.3zM413.8 683.4h1.3v38.4h-1.3zM435.1 683.4h2.6v38.4h-2.6zM84.4 721.8h1.3v38.4h-1.3zM127 721.8h1.3v38.4h-1.3zM130.7 721.8h1.3v38.4h-1.3zM158.3 721.8h1.3v38.4h-1.3zM193.4 721.8h1.3v38.4h-1.3zM205.9 721.8h1.3v38.4h-1.3zM284.8 721.8h1.3v38.4h-1.3zM288.6 721.8h1.3v38.4h-1.3zM299.9 721.8h1.3v38.4h-1.3zM303.6 721.8h1.3v38.4h-1.3zM313.6 721.8h1.3v38.4h-1.3zM341.2 721.8h1.3v38.4h-1.3zM343.7 721.8h1.3v38.4h-1.3zM352.5 721.8h1.3v38.4h-1.3zM358.7 721.8h1.3v38.4h-1.3zM365 721.8h1.3v38.4h-1.3zM377.5 721.8h2.6v38.4h-2.6zM381.3 721.8h2.6v38.4h-2.6zM386.3 721.8h1.3v38.4h-1.3zM390 721.8h1.3v38.4h-1.3zM395.1 721.8h1.3v38.4h-1.3zM398.8 721.8h1.3v38.4h-1.3zM408.8 721.8h3.8v38.4h-3.8zM420.1 721.8h1.3v38.4h-1.3zM427.6 721.8h1.3v38.4h-1.3zM431.4 721.8h1.3v38.4h-1.3zM435.1 721.8h1.3v38.4h-1.3zM437.6 721.8h3.8v38.4h-3.8zM20.5 760.1h2.6v38.4h-2.6zM24.3 760.1h1.3v38.4h-1.3zM26.8 760.1h1.3v38.4h-1.3zM31.8 760.1h1.3v38.4h-1.3zM40.6 760.1h1.3v38.4h-1.3zM44.3 760.1h1.3v38.4h-1.3zM49.3 760.1h1.3v38.4h-1.3zM53.1 760.1h1.3v38.4h-1.3zM56.8 760.1h1.3v38.4h-1.3zM60.6 760.1h2.6v38.4h-2.6zM66.9 760.1h1.3v38.4h-1.3zM94.4 760.1h1.3v38.4h-1.3zM98.2 760.1h1.3v38.4h-1.3zM122 760.1h1.3v38.4h-1.3zM129.5 760.1h1.3v38.4h-1.3zM163.3 760.1h1.3v38.4h-1.3zM177.1 760.1h1.3v38.4h-1.3zM209.7 760.1h1.3v38.4h-1.3zM15.5 798.5h1.3v38.4h-1.3zM18 798.5h2.6v38.4h-2.6zM24.3 798.5h1.3v38.4h-1.3zM26.8 798.5h1.3v38.4h-1.3zM29.3 798.5h1.3v38.4h-1.3zM33 798.5h2.6v38.4h-2.6zM49.3 798.5h2.6v38.4h-2.6zM55.6 798.5h1.3v38.4h-1.3zM58.1 798.5h2.6v38.4h-2.6zM66.9 798.5h1.3v38.4h-1.3zM69.4 798.5h1.3v38.4h-1.3zM71.9 798.5h1.3v38.4h-1.3zM84.4 798.5h1.3v38.4h-1.3zM93.2 798.5h1.3v38.4h-1.3zM99.4 798.5h1.3v38.4h-1.3zM101.9 798.5h1.3v38.4h-1.3zM108.2 798.5h2.6v38.4h-2.6zM114.5 798.5h1.3v38.4h-1.3zM117 798.5h1.3v38.4h-1.3zM123.2 798.5h2.6v38.4h-2.6zM134.5 798.5h1.3v38.4h-1.3zM152 798.5h1.3v38.4h-1.3zM158.3 798.5h1.3v38.4h-1.3zM167.1 798.5h1.3v38.4h-1.3zM169.6 798.5h2.6v38.4h-2.6zM185.9 798.5h1.3v38.4h-1.3zM198.4 798.5h1.3v38.4h-1.3zM249.7 798.5h1.3v38.4h-1.3zM262.3 798.5h1.3v38.4h-1.3zM264.8 798.5h1.3v38.4h-1.3zM293.6 798.5h1.3v38.4h-1.3zM19.3 836.9h1.3v38.4h-1.3zM80.6 836.9h1.3v38.4h-1.3zM85.6 836.9h1.3v38.4h-1.3zM89.4 836.9h1.3v38.4h-1.3zM91.9 836.9h1.3v38.4h-1.3zM113.2 836.9h1.3v38.4h-1.3zM118.2 836.9h1.3v38.4h-1.3zM133.2 836.9h1.3v38.4h-1.3zM160.8 836.9h1.3v38.4h-1.3zM223.4 836.9h1.3v38.4h-1.3zM256 836.9h1.3v38.4h-1.3zM328.7 836.9h2.6v38.4h-2.6zM347.5 836.9h1.3v38.4h-1.3zM18 875.2h1.3v38.4h-1.3zM20.5 875.2h1.3v38.4h-1.3zM26.8 875.2h2.6v38.4h-2.6zM30.5 875.2h1.3v38.4h-1.3zM33 875.2h1.3v38.4h-1.3zM41.8 875.2h1.3v38.4h-1.3zM44.3 875.2h2.6v38.4h-2.6zM50.6 875.2h2.6v38.4h-2.6zM54.3 875.2h1.3v38.4h-1.3zM58.1 875.2h1.3v38.4h-1.3zM61.8 875.2h2.6v38.4h-2.6zM68.1 875.2h1.3v38.4h-1.3zM71.9 875.2h1.3v38.4h-1.3zM76.9 875.2h2.6v38.4h-2.6zM81.9 875.2h1.3v38.4h-1.3zM86.9 875.2h2.6v38.4h-2.6zM90.7 875.2h1.3v38.4h-1.3zM93.2 875.2h1.3v38.4h-1.3zM95.7 875.2h1.3v38.4h-1.3zM105.7 875.2h1.3v38.4h-1.3zM108.2 875.2h1.3v38.4h-1.3zM115.7 875.2h1.3v38.4h-1.3zM118.2 875.2h1.3v38.4h-1.3zM127 875.2h1.3v38.4h-1.3zM133.2 875.2h1.3v38.4h-1.3zM152 875.2h1.3v38.4h-1.3zM157 875.2h1.3v38.4h-1.3zM160.8 875.2h1.3v38.4h-1.3zM167.1 875.2h1.3v38.4h-1.3zM209.7 875.2h1.3v38.4h-1.3zM272.3 875.2h1.3v38.4h-1.3zM276.1 875.2h1.3v38.4h-1.3z"/>
<path fill="#2c0f08" shape-rendering="crispEdges" d="M83.1 529.9h1.3v38.4h-1.3zM172.1 529.9h1.3v38.4h-1.3zM331.2 529.9h2.6v38.4h-2.6zM347.5 529.9h1.3v38.4h-1.3zM373.8 529.9h1.3v38.4h-1.3zM396.3 529.9h1.3v38.4h-1.3zM398.8 529.9h1.3v38.4h-1.3zM16.8 568.3h1.3v38.4h-1.3zM21.8 568.3h1.3v38.4h-1.3zM31.8 568.3h1.3v38.4h-1.3zM73.1 568.3h1.3v38.4h-1.3zM99.4 568.3h1.3v38.4h-1.3zM106.9 568.3h1.3v38.4h-1.3zM109.4 568.3h1.3v38.4h-1.3zM115.7 568.3h1.3v38.4h-1.3zM129.5 568.3h1.3v38.4h-1.3zM152 568.3h1.3v38.4h-1.3zM162.1 568.3h1.3v38.4h-1.3zM247.2 568.3h1.3v38.4h-1.3zM262.3 568.3h1.3v38.4h-1.3zM299.9 568.3h1.3v38.4h-1.3zM63.1 606.6h1.3v38.4h-1.3zM76.9 606.6h1.3v38.4h-1.3zM83.1 606.6h1.3v38.4h-1.3zM109.4 606.6h1.3v38.4h-1.3zM115.7 606.6h1.3v38.4h-1.3zM143.3 606.6h1.3v38.4h-1.3zM79.4 645h1.3v38.4h-1.3zM149.5 645h1.3v38.4h-1.3zM371.3 645h1.3v38.4h-1.3zM16.8 683.4h1.3v38.4h-1.3zM19.3 683.4h1.3v38.4h-1.3zM21.8 683.4h1.3v38.4h-1.3zM33 683.4h1.3v38.4h-1.3zM36.8 683.4h2.6v38.4h-2.6zM45.6 683.4h2.6v38.4h-2.6zM49.3 683.4h1.3v38.4h-1.3zM83.1 683.4h1.3v38.4h-1.3zM86.9 683.4h1.3v38.4h-1.3zM91.9 683.4h1.3v38.4h-1.3zM293.6 683.4h1.3v38.4h-1.3zM303.6 683.4h1.3v38.4h-1.3zM395.1 683.4h1.3v38.4h-1.3zM16.8 721.8h1.3v38.4h-1.3zM21.8 721.8h1.3v38.4h-1.3zM34.3 721.8h1.3v38.4h-1.3zM44.3 721.8h1.3v38.4h-1.3zM49.3 721.8h1.3v38.4h-1.3zM63.1 721.8h1.3v38.4h-1.3zM73.1 721.8h1.3v38.4h-1.3zM93.2 721.8h1.3v38.4h-1.3zM208.4 721.8h1.3v38.4h-1.3zM392.5 721.8h1.3v38.4h-1.3zM396.3 721.8h1.3v38.4h-1.3zM311.1 760.1h1.3v38.4h-1.3zM329.9 760.1h1.3v38.4h-1.3zM342.4 760.1h1.3v38.4h-1.3zM360 760.1h1.3v38.4h-1.3zM398.8 760.1h1.3v38.4h-1.3zM408.8 760.1h1.3v38.4h-1.3zM413.8 760.1h1.3v38.4h-1.3zM420.1 760.1h1.3v38.4h-1.3zM423.9 760.1h1.3v38.4h-1.3zM428.9 760.1h3.8v38.4h-3.8zM436.4 760.1h1.3v38.4h-1.3zM41.8 798.5h1.3v38.4h-1.3zM174.6 798.5h1.3v38.4h-1.3zM346.2 798.5h1.3v38.4h-1.3zM365 798.5h1.3v38.4h-1.3zM368.7 798.5h1.3v38.4h-1.3zM381.3 798.5h1.3v38.4h-1.3zM402.6 798.5h1.3v38.4h-1.3zM147 836.9h1.3v38.4h-1.3zM182.1 836.9h1.3v38.4h-1.3zM231 836.9h1.3v38.4h-1.3zM277.3 836.9h1.3v38.4h-1.3zM297.3 836.9h1.3v38.4h-1.3zM311.1 836.9h1.3v38.4h-1.3zM370 836.9h1.3v38.4h-1.3zM406.3 836.9h1.3v38.4h-1.3zM415.1 836.9h1.3v38.4h-1.3zM417.6 836.9h1.3v38.4h-1.3zM426.4 836.9h1.3v38.4h-1.3zM122 875.2h1.3v38.4h-1.3zM140.8 875.2h1.3v38.4h-1.3zM284.8 875.2h1.3v38.4h-1.3zM332.4 875.2h2.6v38.4h-2.6zM375 875.2h1.3v38.4h-1.3zM380 875.2h1.3v38.4h-1.3zM386.3 875.2h1.3v38.4h-1.3zM401.3 875.2h1.3v38.4h-1.3zM403.8 875.2h1.3v38.4h-1.3zM410.1 875.2h1.3v38.4h-1.3zM427.6 875.2h1.3v38.4h-1.3zM433.9 875.2h1.3v38.4h-1.3z"/>
<path fill="#233610" shape-rendering="crispEdges" d="M90.7 529.9h1.3v38.4h-1.3zM380 529.9h1.3v38.4h-1.3zM367.5 568.3h1.3v38.4h-1.3zM213.4 606.6h1.3v38.4h-1.3zM215.9 606.6h1.3v38.4h-1.3zM363.7 606.6h1.3v38.4h-1.3zM377.5 606.6h1.3v38.4h-1.3zM395.1 606.6h1.3v38.4h-1.3zM401.3 606.6h1.3v38.4h-1.3zM76.9 645h1.3v38.4h-1.3zM134.5 645h1.3v38.4h-1.3zM158.3 645h1.3v38.4h-1.3zM261 645h1.3v38.4h-1.3zM179.6 683.4h1.3v38.4h-1.3zM269.8 683.4h1.3v38.4h-1.3zM327.4 683.4h1.3v38.4h-1.3zM361.2 683.4h1.3v38.4h-1.3zM388.8 683.4h1.3v38.4h-1.3zM400.1 683.4h1.3v38.4h-1.3zM426.4 683.4h1.3v38.4h-1.3zM304.9 721.8h1.3v38.4h-1.3zM416.3 721.8h1.3v38.4h-1.3zM430.1 721.8h1.3v38.4h-1.3zM105.7 760.1h1.3v38.4h-1.3zM182.1 760.1h1.3v38.4h-1.3zM190.9 760.1h1.3v38.4h-1.3zM23 798.5h1.3v38.4h-1.3zM36.8 798.5h1.3v38.4h-1.3zM46.8 798.5h1.3v38.4h-1.3zM54.3 798.5h1.3v38.4h-1.3zM96.9 798.5h1.3v38.4h-1.3zM28 836.9h1.3v38.4h-1.3zM25.5 875.2h1.3v38.4h-1.3zM36.8 875.2h1.3v38.4h-1.3zM39.3 875.2h1.3v38.4h-1.3zM43.1 875.2h1.3v38.4h-1.3zM53.1 875.2h1.3v38.4h-1.3zM239.7 875.2h1.3v38.4h-1.3zM274.8 875.2h1.3v38.4h-1.3zM288.6 875.2h1.3v38.4h-1.3z"/>
<path fill="#202f0e" shape-rendering="crispEdges" d="M95.7 529.9h1.3v38.4h-1.3zM167.1 529.9h1.3v38.4h-1.3zM306.1 529.9h1.3v38.4h-1.3zM311.1 529.9h1.3v38.4h-1.3zM40.6 568.3h1.3v38.4h-1.3zM74.4 568.3h1.3v38.4h-1.3zM122 568.3h1.3v38.4h-1.3zM278.6 568.3h1.3v38.4h-1.3zM307.4 568.3h1.3v38.4h-1.3zM319.9 568.3h1.3v38.4h-1.3zM273.5 606.6h1.3v38.4h-1.3zM311.1 606.6h1.3v38.4h-1.3zM329.9 606.6h1.3v38.4h-1.3zM334.9 606.6h1.3v38.4h-1.3zM370 606.6h1.3v38.4h-1.3zM376.3 606.6h1.3v38.4h-1.3zM396.3 606.6h1.3v38.4h-1.3zM411.3 606.6h1.3v38.4h-1.3zM413.8 606.6h1.3v38.4h-1.3zM417.6 606.6h1.3v38.4h-1.3zM423.9 606.6h1.3v38.4h-1.3zM432.6 606.6h1.3v38.4h-1.3zM437.6 606.6h1.3v38.4h-1.3zM43.1 645h1.3v38.4h-1.3zM148.3 645h1.3v38.4h-1.3zM217.2 645h1.3v38.4h-1.3zM244.7 645h1.3v38.4h-1.3zM84.4 683.4h1.3v38.4h-1.3zM306.1 683.4h1.3v38.4h-1.3zM342.4 683.4h1.3v38.4h-1.3zM417.6 683.4h1.3v38.4h-1.3zM432.6 683.4h1.3v38.4h-1.3zM79.4 721.8h1.3v38.4h-1.3zM83.1 721.8h1.3v38.4h-1.3zM287.3 721.8h1.3v38.4h-1.3zM350 721.8h1.3v38.4h-1.3zM355 721.8h1.3v38.4h-1.3zM357.5 721.8h1.3v38.4h-1.3zM380 721.8h1.3v38.4h-1.3zM405.1 721.8h1.3v38.4h-1.3zM417.6 721.8h2.6v38.4h-2.6zM422.6 721.8h1.3v38.4h-1.3zM436.4 721.8h1.3v38.4h-1.3zM16.8 760.1h1.3v38.4h-1.3zM23 760.1h1.3v38.4h-1.3zM29.3 760.1h1.3v38.4h-1.3zM16.8 798.5h1.3v38.4h-1.3zM21.8 798.5h1.3v38.4h-1.3zM35.5 798.5h1.3v38.4h-1.3zM51.8 798.5h1.3v38.4h-1.3zM61.8 798.5h1.3v38.4h-1.3zM91.9 798.5h1.3v38.4h-1.3zM212.2 798.5h1.3v38.4h-1.3zM247.2 798.5h1.3v38.4h-1.3zM20.5 836.9h1.3v38.4h-1.3zM105.7 836.9h1.3v38.4h-1.3zM16.8 875.2h1.3v38.4h-1.3zM19.3 875.2h1.3v38.4h-1.3zM21.8 875.2h2.6v38.4h-2.6zM29.3 875.2h1.3v38.4h-1.3zM34.3 875.2h1.3v38.4h-1.3zM38 875.2h1.3v38.4h-1.3zM46.8 875.2h2.6v38.4h-2.6zM55.6 875.2h2.6v38.4h-2.6zM79.4 875.2h1.3v38.4h-1.3zM99.4 875.2h1.3v38.4h-1.3zM110.7 875.2h2.6v38.4h-2.6zM139.5 875.2h1.3v38.4h-1.3zM217.2 875.2h1.3v38.4h-1.3zM304.9 875.2h1.3v38.4h-1.3z"/>
<path fill="#230f08" shape-rendering="crispEdges" d="M104.4 529.9h2.6v38.4h-2.6zM193.4 529.9h1.3v38.4h-1.3zM210.9 529.9h1.3v38.4h-1.3zM215.9 529.9h1.3v38.4h-1.3zM234.7 529.9h1.3v38.4h-1.3zM237.2 529.9h1.3v38.4h-1.3zM239.7 529.9h1.3v38.4h-1.3zM266 529.9h1.3v38.4h-1.3zM274.8 529.9h1.3v38.4h-1.3zM291.1 529.9h1.3v38.4h-1.3zM362.5 529.9h1.3v38.4h-1.3zM372.5 529.9h1.3v38.4h-1.3zM385 529.9h2.6v38.4h-2.6zM388.8 529.9h1.3v38.4h-1.3zM393.8 529.9h1.3v38.4h-1.3zM397.6 529.9h1.3v38.4h-1.3zM400.1 529.9h1.3v38.4h-1.3zM402.6 529.9h1.3v38.4h-1.3zM411.3 529.9h1.3v38.4h-1.3zM415.1 529.9h1.3v38.4h-1.3zM423.9 529.9h1.3v38.4h-1.3zM428.9 529.9h1.3v38.4h-1.3zM433.9 529.9h1.3v38.4h-1.3zM436.4 529.9h1.3v38.4h-1.3zM440.1 529.9h1.3v38.4h-1.3zM15.5 568.3h1.3v38.4h-1.3zM25.5 568.3h1.3v38.4h-1.3zM29.3 568.3h1.3v38.4h-1.3zM35.5 568.3h1.3v38.4h-1.3zM39.3 568.3h1.3v38.4h-1.3zM50.6 568.3h1.3v38.4h-1.3zM58.1 568.3h1.3v38.4h-1.3zM61.8 568.3h3.8v38.4h-3.8zM71.9 568.3h1.3v38.4h-1.3zM75.6 568.3h6.3v38.4h-6.3zM91.9 568.3h2.6v38.4h-2.6zM104.4 568.3h1.3v38.4h-1.3zM127 568.3h1.3v38.4h-1.3zM132 568.3h1.3v38.4h-1.3zM135.8 568.3h1.3v38.4h-1.3zM144.5 568.3h1.3v38.4h-1.3zM168.3 568.3h1.3v38.4h-1.3zM170.8 568.3h1.3v38.4h-1.3zM192.1 568.3h1.3v38.4h-1.3zM200.9 568.3h1.3v38.4h-1.3zM241 568.3h1.3v38.4h-1.3zM246 568.3h1.3v38.4h-1.3zM249.7 568.3h3.8v38.4h-3.8zM256 568.3h1.3v38.4h-1.3zM281.1 568.3h1.3v38.4h-1.3zM311.1 568.3h1.3v38.4h-1.3zM334.9 568.3h1.3v38.4h-1.3zM355 568.3h1.3v38.4h-1.3zM360 568.3h1.3v38.4h-1.3zM385 568.3h1.3v38.4h-1.3zM397.6 568.3h1.3v38.4h-1.3zM422.6 568.3h1.3v38.4h-1.3zM39.3 606.6h2.6v38.4h-2.6zM44.3 606.6h1.3v38.4h-1.3zM46.8 606.6h3.8v38.4h-3.8zM53.1 606.6h1.3v38.4h-1.3zM56.8 606.6h1.3v38.4h-1.3zM64.4 606.6h1.3v38.4h-1.3zM84.4 606.6h1.3v38.4h-1.3zM94.4 606.6h2.6v38.4h-2.6zM99.4 606.6h1.3v38.4h-1.3zM103.2 606.6h2.6v38.4h-2.6zM110.7 606.6h2.6v38.4h-2.6zM118.2 606.6h1.3v38.4h-1.3zM134.5 606.6h1.3v38.4h-1.3zM140.8 606.6h1.3v38.4h-1.3zM149.5 606.6h1.3v38.4h-1.3zM153.3 606.6h1.3v38.4h-1.3zM190.9 606.6h1.3v38.4h-1.3zM316.1 606.6h1.3v38.4h-1.3zM327.4 606.6h1.3v38.4h-1.3zM78.1 645h1.3v38.4h-1.3zM117 645h1.3v38.4h-1.3zM132 645h1.3v38.4h-1.3zM262.3 645h1.3v38.4h-1.3zM314.9 645h1.3v38.4h-1.3zM322.4 645h1.3v38.4h-1.3zM332.4 645h1.3v38.4h-1.3zM353.7 645h2.6v38.4h-2.6zM382.5 645h1.3v38.4h-1.3zM400.1 645h1.3v38.4h-1.3zM403.8 645h1.3v38.4h-1.3zM417.6 645h1.3v38.4h-1.3zM15.5 683.4h1.3v38.4h-1.3zM28 683.4h1.3v38.4h-1.3zM41.8 683.4h1.3v38.4h-1.3zM48.1 683.4h1.3v38.4h-1.3zM59.3 683.4h1.3v38.4h-1.3zM69.4 683.4h1.3v38.4h-1.3zM88.2 683.4h1.3v38.4h-1.3zM99.4 683.4h1.3v38.4h-1.3zM114.5 683.4h1.3v38.4h-1.3zM125.7 683.4h1.3v38.4h-1.3zM135.8 683.4h1.3v38.4h-1.3zM139.5 683.4h1.3v38.4h-1.3zM217.2 683.4h1.3v38.4h-1.3zM234.7 683.4h1.3v38.4h-1.3zM248.5 683.4h1.3v38.4h-1.3zM277.3 683.4h1.3v38.4h-1.3zM301.1 683.4h1.3v38.4h-1.3zM336.2 683.4h1.3v38.4h-1.3zM46.8 721.8h1.3v38.4h-1.3zM58.1 721.8h1.3v38.4h-1.3zM65.6 721.8h1.3v38.4h-1.3zM74.4 721.8h1.3v38.4h-1.3zM123.2 721.8h1.3v38.4h-1.3zM125.7 721.8h1.3v38.4h-1.3zM137 721.8h1.3v38.4h-1.3zM139.5 721.8h1.3v38.4h-1.3zM160.8 721.8h3.8v38.4h-3.8zM178.3 721.8h1.3v38.4h-1.3zM182.1 721.8h1.3v38.4h-1.3zM190.9 721.8h1.3v38.4h-1.3zM318.6 721.8h1.3v38.4h-1.3zM331.2 721.8h1.3v38.4h-1.3zM138.3 760.1h1.3v38.4h-1.3zM185.9 760.1h1.3v38.4h-1.3zM213.4 760.1h2.6v38.4h-2.6zM227.2 760.1h1.3v38.4h-1.3zM229.7 760.1h1.3v38.4h-1.3zM233.5 760.1h1.3v38.4h-1.3zM248.5 760.1h1.3v38.4h-1.3zM264.8 760.1h1.3v38.4h-1.3zM271 760.1h1.3v38.4h-1.3zM274.8 760.1h1.3v38.4h-1.3zM279.8 760.1h1.3v38.4h-1.3zM286.1 760.1h1.3v38.4h-1.3zM289.8 760.1h1.3v38.4h-1.3zM293.6 760.1h1.3v38.4h-1.3zM298.6 760.1h2.6v38.4h-2.6zM302.4 760.1h1.3v38.4h-1.3zM307.4 760.1h1.3v38.4h-1.3zM326.2 760.1h1.3v38.4h-1.3zM328.7 760.1h1.3v38.4h-1.3zM331.2 760.1h3.8v38.4h-3.8zM338.7 760.1h2.6v38.4h-2.6zM347.5 760.1h2.6v38.4h-2.6zM356.2 760.1h1.3v38.4h-1.3zM358.7 760.1h1.3v38.4h-1.3zM361.2 760.1h2.6v38.4h-2.6zM365 760.1h1.3v38.4h-1.3zM367.5 760.1h1.3v38.4h-1.3zM373.8 760.1h1.3v38.4h-1.3zM377.5 760.1h1.3v38.4h-1.3zM380 760.1h1.3v38.4h-1.3zM382.5 760.1h1.3v38.4h-1.3zM385 760.1h5.1v38.4h-5.1zM393.8 760.1h3.8v38.4h-3.8zM400.1 760.1h2.6v38.4h-2.6zM405.1 760.1h2.6v38.4h-2.6zM411.3 760.1h2.6v38.4h-2.6zM417.6 760.1h1.3v38.4h-1.3zM421.4 760.1h2.6v38.4h-2.6zM427.6 760.1h1.3v38.4h-1.3zM432.6 760.1h1.3v38.4h-1.3zM437.6 760.1h2.6v38.4h-2.6zM78.1 798.5h1.3v38.4h-1.3zM225.9 798.5h1.3v38.4h-1.3zM316.1 798.5h1.3v38.4h-1.3zM327.4 798.5h1.3v38.4h-1.3zM331.2 798.5h1.3v38.4h-1.3zM339.9 798.5h1.3v38.4h-1.3zM353.7 798.5h1.3v38.4h-1.3zM371.3 798.5h2.6v38.4h-2.6zM395.1 798.5h1.3v38.4h-1.3zM400.1 798.5h1.3v38.4h-1.3zM403.8 798.5h1.3v38.4h-1.3zM410.1 798.5h1.3v38.4h-1.3zM417.6 798.5h1.3v38.4h-1.3zM426.4 798.5h2.6v38.4h-2.6zM437.6 798.5h1.3v38.4h-1.3zM43.1 836.9h1.3v38.4h-1.3zM46.8 836.9h1.3v38.4h-1.3zM76.9 836.9h1.3v38.4h-1.3zM88.2 836.9h1.3v38.4h-1.3zM139.5 836.9h1.3v38.4h-1.3zM149.5 836.9h1.3v38.4h-1.3zM188.4 836.9h1.3v38.4h-1.3zM236 836.9h1.3v38.4h-1.3zM251 836.9h1.3v38.4h-1.3zM263.5 836.9h1.3v38.4h-1.3zM267.3 836.9h1.3v38.4h-1.3zM276.1 836.9h1.3v38.4h-1.3zM283.6 836.9h1.3v38.4h-1.3zM291.1 836.9h1.3v38.4h-1.3zM301.1 836.9h1.3v38.4h-1.3zM313.6 836.9h1.3v38.4h-1.3zM326.2 836.9h1.3v38.4h-1.3zM332.4 836.9h1.3v38.4h-1.3zM334.9 836.9h1.3v38.4h-1.3zM341.2 836.9h1.3v38.4h-1.3zM344.9 836.9h1.3v38.4h-1.3zM357.5 836.9h1.3v38.4h-1.3zM371.3 836.9h1.3v38.4h-1.3zM380 836.9h1.3v38.4h-1.3zM386.3 836.9h1.3v38.4h-1.3zM400.1 836.9h1.3v38.4h-1.3zM405.1 836.9h1.3v38.4h-1.3zM412.6 836.9h1.3v38.4h-1.3zM428.9 836.9h1.3v38.4h-1.3zM117 875.2h1.3v38.4h-1.3zM132 875.2h1.3v38.4h-1.3zM179.6 875.2h1.3v38.4h-1.3zM238.5 875.2h1.3v38.4h-1.3zM243.5 875.2h1.3v38.4h-1.3zM292.3 875.2h1.3v38.4h-1.3zM307.4 875.2h1.3v38.4h-1.3zM317.4 875.2h1.3v38.4h-1.3zM319.9 875.2h1.3v38.4h-1.3zM328.7 875.2h2.6v38.4h-2.6zM334.9 875.2h1.3v38.4h-1.3zM351.2 875.2h1.3v38.4h-1.3zM356.2 875.2h1.3v38.4h-1.3zM367.5 875.2h2.6v38.4h-2.6zM376.3 875.2h1.3v38.4h-1.3zM387.5 875.2h5.1v38.4h-5.1zM396.3 875.2h5.1v38.4h-5.1zM402.6 875.2h1.3v38.4h-1.3zM406.3 875.2h1.3v38.4h-1.3zM413.8 875.2h1.3v38.4h-1.3zM420.1 875.2h1.3v38.4h-1.3zM426.4 875.2h1.3v38.4h-1.3zM428.9 875.2h1.3v38.4h-1.3zM431.4 875.2h2.6v38.4h-2.6zM435.1 875.2h1.3v38.4h-1.3zM437.6 875.2h1.3v38.4h-1.3z"/>
<path fill="#273d11" shape-rendering="crispEdges" d="M162.1 529.9h1.3v38.4h-1.3zM407.6 529.9h1.3v38.4h-1.3zM282.3 645h1.3v38.4h-1.3zM288.6 645h1.3v38.4h-1.3zM172.1 683.4h1.3v38.4h-1.3zM387.5 683.4h1.3v38.4h-1.3zM411.3 683.4h1.3v38.4h-1.3zM164.6 721.8h1.3v38.4h-1.3zM231 721.8h1.3v38.4h-1.3zM234.7 721.8h1.3v38.4h-1.3zM269.8 721.8h1.3v38.4h-1.3zM231 760.1h1.3v38.4h-1.3zM322.4 760.1h1.3v38.4h-1.3zM118.2 798.5h1.3v38.4h-1.3zM140.8 798.5h1.3v38.4h-1.3zM164.6 798.5h1.3v38.4h-1.3zM192.1 798.5h1.3v38.4h-1.3zM15.5 875.2h1.3v38.4h-1.3z"/>
<path fill="#3d0e08" shape-rendering="crispEdges" d="M236 529.9h1.3v38.4h-1.3zM387.5 529.9h1.3v38.4h-1.3zM239.7 568.3h1.3v38.4h-1.3zM24.3 606.6h1.3v38.4h-1.3zM33 606.6h1.3v38.4h-1.3zM54.3 606.6h1.3v38.4h-1.3zM93.2 606.6h1.3v38.4h-1.3zM98.2 606.6h1.3v38.4h-1.3zM18 683.4h1.3v38.4h-1.3zM25.5 683.4h2.6v38.4h-2.6zM39.3 683.4h1.3v38.4h-1.3zM50.6 683.4h1.3v38.4h-1.3zM168.3 683.4h1.3v38.4h-1.3zM26.8 721.8h1.3v38.4h-1.3zM29.3 721.8h1.3v38.4h-1.3zM36.8 721.8h1.3v38.4h-1.3zM150.8 721.8h1.3v38.4h-1.3zM174.6 760.1h1.3v38.4h-1.3zM303.6 760.1h1.3v38.4h-1.3zM402.6 760.1h1.3v38.4h-1.3zM277.3 798.5h1.3v38.4h-1.3zM382.5 798.5h1.3v38.4h-1.3zM323.7 836.9h1.3v38.4h-1.3zM366.2 836.9h1.3v38.4h-1.3zM212.2 875.2h1.3v38.4h-1.3zM228.5 875.2h1.3v38.4h-1.3zM248.5 875.2h1.3v38.4h-1.3zM343.7 875.2h1.3v38.4h-1.3zM405.1 875.2h1.3v38.4h-1.3z"/>
<path fill="#4f0c08" shape-rendering="crispEdges" d="M18 568.3h1.3v38.4h-1.3zM30.5 606.6h1.3v38.4h-1.3zM35.5 606.6h1.3v38.4h-1.3zM246 645h1.3v38.4h-1.3zM35.5 683.4h1.3v38.4h-1.3zM20.5 721.8h1.3v38.4h-1.3zM33 721.8h1.3v38.4h-1.3zM40.6 721.8h1.3v38.4h-1.3zM341.2 760.1h1.3v38.4h-1.3zM418.9 760.1h1.3v38.4h-1.3zM231 798.5h1.3v38.4h-1.3zM174.6 836.9h1.3v38.4h-1.3zM348.7 875.2h1.3v38.4h-1.3z"/>
<path fill="#460d08" shape-rendering="crispEdges" d="M59.3 568.3h1.3v38.4h-1.3zM123.2 568.3h1.3v38.4h-1.3zM15.5 606.6h2.6v38.4h-2.6zM19.3 606.6h5.1v38.4h-5.1zM26.8 606.6h1.3v38.4h-1.3zM29.3 606.6h1.3v38.4h-1.3zM31.8 606.6h1.3v38.4h-1.3zM55.6 606.6h1.3v38.4h-1.3zM74.4 606.6h1.3v38.4h-1.3zM31.8 683.4h1.3v38.4h-1.3zM108.2 683.4h1.3v38.4h-1.3zM15.5 721.8h1.3v38.4h-1.3zM18 721.8h1.3v38.4h-1.3zM25.5 721.8h1.3v38.4h-1.3zM28 721.8h1.3v38.4h-1.3zM38 721.8h2.6v38.4h-2.6zM43.1 721.8h1.3v38.4h-1.3zM61.8 721.8h1.3v38.4h-1.3zM286.1 721.8h1.3v38.4h-1.3zM322.4 798.5h1.3v38.4h-1.3zM386.3 798.5h1.3v38.4h-1.3zM242.2 836.9h1.3v38.4h-1.3zM241 875.2h1.3v38.4h-1.3z"/>
<path fill="#2a4412" shape-rendering="crispEdges" d="M256 645h1.3v38.4h-1.3zM78.1 836.9h1.3v38.4h-1.3zM60.6 875.2h1.3v38.4h-1.3zM85.6 875.2h1.3v38.4h-1.3zM137 875.2h1.3v38.4h-1.3z"/>
<path fill="#580c08" shape-rendering="crispEdges" d="M34.3 683.4h1.3v38.4h-1.3zM31.8 721.8h1.3v38.4h-1.3zM436.4 836.9h1.3v38.4h-1.3z"/>
<path fill="#690b08" shape-rendering="crispEdges" d="M41.8 721.8h1.3v38.4h-1.3zM438.9 836.9h1.3v38.4h-1.3z"/>
<path fill="#315215" shape-rendering="crispEdges" d="M30.5 798.5h1.3v38.4h-1.3zM51.8 836.9h1.3v38.4h-1.3z"/>
<path fill="#600b08" shape-rendering="crispEdges" d="M437.6 836.9h1.3v38.4h-1.3zM440.1 836.9h1.3v38.4h-1.3z"/>
<text x="444" y="529.2" text-anchor="start" font-size="13.2" fill="#1a1a1a" textLength="58" lengthAdjust="spacingAndGlyphs">Riskgroup</text>
<linearGradient id="gc" x1="0" x2="1" y1="0" y2="0"><stop offset="0" stop-color="#dd1111"/><stop offset="0.2" stop-color="#8a0a0a"/><stop offset="0.5" stop-color="#000000"/><stop offset="0.8" stop-color="#4a7a22"/><stop offset="1" stop-color="#90f040"/></linearGradient>
<rect x="59.9" y="959.7" width="164.3" height="10.9" fill="url(#gc)"/>
<text x="99.6" y="956" text-anchor="middle" font-size="13.2" fill="#1a1a1a" textLength="7" lengthAdjust="spacingAndGlyphs">5</text>
<text x="139.3" y="956" text-anchor="middle" font-size="13.2" fill="#1a1a1a" textLength="7" lengthAdjust="spacingAndGlyphs">0</text>
<text x="184" y="956" text-anchor="middle" font-size="13.2" fill="#1a1a1a" textLength="11.1" lengthAdjust="spacingAndGlyphs">-5</text>
<text x="294.1" y="940.8" text-anchor="start" font-size="13.2" fill="#1a1a1a" textLength="58.5" lengthAdjust="spacingAndGlyphs">Riskgroup</text>
<rect x="296.6" y="945.3" width="15.2" height="14.4" fill="#8ef03c"/>
<rect x="296.6" y="959.7" width="15.2" height="14.5" fill="#d60c0c"/>
<text x="316.3" y="957" text-anchor="start" font-size="13.2" fill="#1a1a1a" textLength="23.5" lengthAdjust="spacingAndGlyphs">Low</text>
<text x="316.3" y="971.5" text-anchor="start" font-size="13.2" fill="#1a1a1a" textLength="27" lengthAdjust="spacingAndGlyphs">High</text>
<rect x="16.6" y="1527" width="201.6" height="7.1" fill="#8ef03c"/>
<rect x="218.2" y="1527" width="201.7" height="7.1" fill="#d60c0c"/>
<text x="424.3" y="1560.2" text-anchor="start" font-size="13.2" fill="#1a1a1a" textLength="31.5" lengthAdjust="spacingAndGlyphs">ACAN</text>
<text x="424.3" y="1598.5" text-anchor="start" font-size="13.2" fill="#1a1a1a" textLength="64" lengthAdjust="spacingAndGlyphs">ADAMTS15</text>
<text x="424.3" y="1636.9" text-anchor="start" font-size="13.2" fill="#1a1a1a" textLength="56.5" lengthAdjust="spacingAndGlyphs">ADAMTS8</text>
<text x="424.3" y="1675.2" text-anchor="start" font-size="13.2" fill="#1a1a1a" textLength="31.5" lengthAdjust="spacingAndGlyphs">BCAN</text>
<text x="424.3" y="1713.6" text-anchor="start" font-size="13.2" fill="#1a1a1a" textLength="45.5" lengthAdjust="spacingAndGlyphs">COL4A3</text>
<text x="424.3" y="1751.9" text-anchor="start" font-size="13.2" fill="#1a1a1a" textLength="34.5" lengthAdjust="spacingAndGlyphs">ITGA8</text>
<text x="424.3" y="1790.3" text-anchor="start" font-size="13.2" fill="#1a1a1a" textLength="33.5" lengthAdjust="spacingAndGlyphs">ITGB4</text>
<text x="424.3" y="1828.6" text-anchor="start" font-size="13.2" fill="#1a1a1a" textLength="30" lengthAdjust="spacingAndGlyphs">LAD1</text>
<text x="424.3" y="1867" text-anchor="start" font-size="13.2" fill="#1a1a1a" textLength="34.5" lengthAdjust="spacingAndGlyphs">TIMP1</text>
<text x="424.3" y="1905.3" text-anchor="start" font-size="13.2" fill="#1a1a1a" textLength="39.5" lengthAdjust="spacingAndGlyphs">TENM3</text>
<path fill="#19210b" shape-rendering="crispEdges" d="M16.6 1535.2h1.3v38.3h-1.3zM44.2 1535.2h1.3v38.3h-1.3zM49.2 1535.2h1.3v38.3h-1.3zM59.2 1535.2h1.3v38.3h-1.3zM62.9 1535.2h1.3v38.3h-1.3zM66.7 1535.2h1.3v38.3h-1.3zM73 1535.2h1.3v38.3h-1.3zM78 1535.2h1.3v38.3h-1.3zM80.5 1535.2h3.8v38.3h-3.8zM85.5 1535.2h1.3v38.3h-1.3zM131.8 1535.2h1.3v38.3h-1.3zM135.6 1535.2h1.3v38.3h-1.3zM146.9 1535.2h2.6v38.3h-2.6zM150.6 1535.2h1.3v38.3h-1.3zM171.9 1535.2h1.3v38.3h-1.3zM176.9 1535.2h1.3v38.3h-1.3zM189.4 1535.2h1.3v38.3h-1.3zM200.7 1535.2h1.3v38.3h-1.3zM210.7 1535.2h1.3v38.3h-1.3zM247.1 1535.2h1.3v38.3h-1.3zM257.1 1535.2h1.3v38.3h-1.3zM322.2 1535.2h1.3v38.3h-1.3zM386.1 1535.2h1.3v38.3h-1.3zM70.5 1573.4h1.3v38.3h-1.3zM159.4 1573.4h1.3v38.3h-1.3zM202 1573.4h1.3v38.3h-1.3zM225.8 1573.4h2.6v38.3h-2.6zM229.5 1573.4h1.3v38.3h-1.3zM240.8 1573.4h1.3v38.3h-1.3zM250.8 1573.4h1.3v38.3h-1.3zM269.6 1573.4h1.3v38.3h-1.3zM274.6 1573.4h1.3v38.3h-1.3zM280.9 1573.4h1.3v38.3h-1.3zM304.7 1573.4h1.3v38.3h-1.3zM313.4 1573.4h1.3v38.3h-1.3zM322.2 1573.4h1.3v38.3h-1.3zM326 1573.4h1.3v38.3h-1.3zM337.2 1573.4h1.3v38.3h-1.3zM341 1573.4h1.3v38.3h-1.3zM348.5 1573.4h2.6v38.3h-2.6zM359.8 1573.4h1.3v38.3h-1.3zM362.3 1573.4h1.3v38.3h-1.3zM371.1 1573.4h1.3v38.3h-1.3zM373.6 1573.4h1.3v38.3h-1.3zM388.6 1573.4h1.3v38.3h-1.3zM392.3 1573.4h1.3v38.3h-1.3zM398.6 1573.4h1.3v38.3h-1.3zM416.1 1573.4h3.8v38.3h-3.8zM70.5 1611.7h1.3v38.3h-1.3zM144.4 1611.7h1.3v38.3h-1.3zM158.1 1611.7h1.3v38.3h-1.3zM207 1611.7h1.3v38.3h-1.3zM223.3 1611.7h1.3v38.3h-1.3zM229.5 1611.7h1.3v38.3h-1.3zM234.5 1611.7h1.3v38.3h-1.3zM244.6 1611.7h1.3v38.3h-1.3zM257.1 1611.7h1.3v38.3h-1.3zM267.1 1611.7h1.3v38.3h-1.3zM272.1 1611.7h1.3v38.3h-1.3zM275.9 1611.7h1.3v38.3h-1.3zM278.4 1611.7h1.3v38.3h-1.3zM282.1 1611.7h1.3v38.3h-1.3zM284.6 1611.7h2.6v38.3h-2.6zM294.7 1611.7h1.3v38.3h-1.3zM309.7 1611.7h2.6v38.3h-2.6zM315.9 1611.7h1.3v38.3h-1.3zM321 1611.7h1.3v38.3h-1.3zM327.2 1611.7h1.3v38.3h-1.3zM332.2 1611.7h1.3v38.3h-1.3zM342.2 1611.7h1.3v38.3h-1.3zM344.8 1611.7h1.3v38.3h-1.3zM348.5 1611.7h1.3v38.3h-1.3zM357.3 1611.7h1.3v38.3h-1.3zM361 1611.7h1.3v38.3h-1.3zM367.3 1611.7h1.3v38.3h-1.3zM377.3 1611.7h1.3v38.3h-1.3zM384.8 1611.7h1.3v38.3h-1.3zM387.3 1611.7h1.3v38.3h-1.3zM393.6 1611.7h2.6v38.3h-2.6zM398.6 1611.7h1.3v38.3h-1.3zM401.1 1611.7h1.3v38.3h-1.3zM406.1 1611.7h1.3v38.3h-1.3zM412.4 1611.7h1.3v38.3h-1.3zM20.4 1649.9h1.3v38.3h-1.3zM22.9 1649.9h1.3v38.3h-1.3zM26.6 1649.9h2.6v38.3h-2.6zM30.4 1649.9h1.3v38.3h-1.3zM34.1 1649.9h2.6v38.3h-2.6zM41.6 1649.9h1.3v38.3h-1.3zM60.4 1649.9h5.1v38.3h-5.1zM68 1649.9h1.3v38.3h-1.3zM84.2 1649.9h1.3v38.3h-1.3zM96.8 1649.9h2.6v38.3h-2.6zM100.5 1649.9h1.3v38.3h-1.3zM104.3 1649.9h1.3v38.3h-1.3zM106.8 1649.9h1.3v38.3h-1.3zM109.3 1649.9h1.3v38.3h-1.3zM113 1649.9h1.3v38.3h-1.3zM125.6 1649.9h1.3v38.3h-1.3zM129.3 1649.9h1.3v38.3h-1.3zM141.8 1649.9h1.3v38.3h-1.3zM146.9 1649.9h1.3v38.3h-1.3zM161.9 1649.9h1.3v38.3h-1.3zM166.9 1649.9h1.3v38.3h-1.3zM169.4 1649.9h1.3v38.3h-1.3zM183.2 1649.9h1.3v38.3h-1.3zM198.2 1649.9h1.3v38.3h-1.3zM204.5 1649.9h1.3v38.3h-1.3zM213.2 1649.9h3.8v38.3h-3.8zM225.8 1649.9h1.3v38.3h-1.3zM230.8 1649.9h1.3v38.3h-1.3zM235.8 1649.9h1.3v38.3h-1.3zM239.5 1649.9h1.3v38.3h-1.3zM270.9 1649.9h1.3v38.3h-1.3zM289.6 1649.9h2.6v38.3h-2.6zM295.9 1649.9h1.3v38.3h-1.3zM300.9 1649.9h2.6v38.3h-2.6zM304.7 1649.9h1.3v38.3h-1.3zM308.4 1649.9h1.3v38.3h-1.3zM310.9 1649.9h1.3v38.3h-1.3zM313.4 1649.9h2.6v38.3h-2.6zM319.7 1649.9h1.3v38.3h-1.3zM327.2 1649.9h1.3v38.3h-1.3zM332.2 1649.9h1.3v38.3h-1.3zM334.7 1649.9h1.3v38.3h-1.3zM338.5 1649.9h1.3v38.3h-1.3zM341 1649.9h1.3v38.3h-1.3zM348.5 1649.9h1.3v38.3h-1.3zM356 1649.9h1.3v38.3h-1.3zM358.5 1649.9h1.3v38.3h-1.3zM362.3 1649.9h3.8v38.3h-3.8zM374.8 1649.9h1.3v38.3h-1.3zM377.3 1649.9h1.3v38.3h-1.3zM383.6 1649.9h1.3v38.3h-1.3zM386.1 1649.9h1.3v38.3h-1.3zM404.9 1649.9h1.3v38.3h-1.3zM408.6 1649.9h1.3v38.3h-1.3zM417.4 1649.9h1.3v38.3h-1.3zM22.9 1688.2h1.3v38.3h-1.3zM79.2 1688.2h1.3v38.3h-1.3zM104.3 1688.2h1.3v38.3h-1.3zM106.8 1688.2h1.3v38.3h-1.3zM126.8 1688.2h1.3v38.3h-1.3zM131.8 1688.2h1.3v38.3h-1.3zM156.9 1688.2h1.3v38.3h-1.3zM186.9 1688.2h2.6v38.3h-2.6zM194.5 1688.2h1.3v38.3h-1.3zM222 1688.2h1.3v38.3h-1.3zM227 1688.2h2.6v38.3h-2.6zM230.8 1688.2h1.3v38.3h-1.3zM249.6 1688.2h1.3v38.3h-1.3zM254.6 1688.2h1.3v38.3h-1.3zM262.1 1688.2h2.6v38.3h-2.6zM270.9 1688.2h1.3v38.3h-1.3zM274.6 1688.2h1.3v38.3h-1.3zM287.1 1688.2h1.3v38.3h-1.3zM298.4 1688.2h1.3v38.3h-1.3zM305.9 1688.2h1.3v38.3h-1.3zM310.9 1688.2h1.3v38.3h-1.3zM318.4 1688.2h1.3v38.3h-1.3zM323.5 1688.2h1.3v38.3h-1.3zM329.7 1688.2h1.3v38.3h-1.3zM336 1688.2h3.8v38.3h-3.8zM341 1688.2h1.3v38.3h-1.3zM354.8 1688.2h1.3v38.3h-1.3zM358.5 1688.2h1.3v38.3h-1.3zM366 1688.2h1.3v38.3h-1.3zM368.5 1688.2h1.3v38.3h-1.3zM371.1 1688.2h1.3v38.3h-1.3zM376.1 1688.2h1.3v38.3h-1.3zM378.6 1688.2h1.3v38.3h-1.3zM386.1 1688.2h1.3v38.3h-1.3zM411.1 1688.2h1.3v38.3h-1.3zM417.4 1688.2h1.3v38.3h-1.3zM123.1 1726.4h1.3v38.3h-1.3zM151.9 1726.4h1.3v38.3h-1.3zM199.5 1726.4h2.6v38.3h-2.6zM212 1726.4h1.3v38.3h-1.3zM214.5 1726.4h1.3v38.3h-1.3zM225.8 1726.4h1.3v38.3h-1.3zM230.8 1726.4h2.6v38.3h-2.6zM235.8 1726.4h1.3v38.3h-1.3zM238.3 1726.4h1.3v38.3h-1.3zM244.6 1726.4h1.3v38.3h-1.3zM247.1 1726.4h2.6v38.3h-2.6zM258.3 1726.4h1.3v38.3h-1.3zM290.9 1726.4h1.3v38.3h-1.3zM299.7 1726.4h1.3v38.3h-1.3zM302.2 1726.4h3.8v38.3h-3.8zM308.4 1726.4h1.3v38.3h-1.3zM314.7 1726.4h3.8v38.3h-3.8zM323.5 1726.4h1.3v38.3h-1.3zM328.5 1726.4h1.3v38.3h-1.3zM333.5 1726.4h1.3v38.3h-1.3zM336 1726.4h1.3v38.3h-1.3zM343.5 1726.4h1.3v38.3h-1.3zM346 1726.4h1.3v38.3h-1.3zM349.8 1726.4h2.6v38.3h-2.6zM361 1726.4h1.3v38.3h-1.3zM363.5 1726.4h1.3v38.3h-1.3zM366 1726.4h3.8v38.3h-3.8zM371.1 1726.4h1.3v38.3h-1.3zM373.6 1726.4h1.3v38.3h-1.3zM376.1 1726.4h1.3v38.3h-1.3zM378.6 1726.4h2.6v38.3h-2.6zM382.3 1726.4h1.3v38.3h-1.3zM384.8 1726.4h1.3v38.3h-1.3zM394.9 1726.4h1.3v38.3h-1.3zM407.4 1726.4h1.3v38.3h-1.3zM417.4 1726.4h1.3v38.3h-1.3zM17.9 1764.6h1.3v38.3h-1.3zM21.6 1764.6h1.3v38.3h-1.3zM31.6 1764.6h1.3v38.3h-1.3zM47.9 1764.6h1.3v38.3h-1.3zM57.9 1764.6h1.3v38.3h-1.3zM73 1764.6h1.3v38.3h-1.3zM75.5 1764.6h1.3v38.3h-1.3zM81.7 1764.6h3.8v38.3h-3.8zM89.2 1764.6h1.3v38.3h-1.3zM96.8 1764.6h1.3v38.3h-1.3zM109.3 1764.6h1.3v38.3h-1.3zM111.8 1764.6h1.3v38.3h-1.3zM126.8 1764.6h1.3v38.3h-1.3zM138.1 1764.6h3.8v38.3h-3.8zM144.4 1764.6h2.6v38.3h-2.6zM163.1 1764.6h1.3v38.3h-1.3zM166.9 1764.6h1.3v38.3h-1.3zM173.2 1764.6h1.3v38.3h-1.3zM176.9 1764.6h1.3v38.3h-1.3zM190.7 1764.6h1.3v38.3h-1.3zM195.7 1764.6h1.3v38.3h-1.3zM208.2 1764.6h2.6v38.3h-2.6zM224.5 1764.6h1.3v38.3h-1.3zM238.3 1764.6h2.6v38.3h-2.6zM248.3 1764.6h1.3v38.3h-1.3zM253.3 1764.6h1.3v38.3h-1.3zM260.8 1764.6h1.3v38.3h-1.3zM264.6 1764.6h1.3v38.3h-1.3zM267.1 1764.6h1.3v38.3h-1.3zM283.4 1764.6h1.3v38.3h-1.3zM287.1 1764.6h1.3v38.3h-1.3zM293.4 1764.6h1.3v38.3h-1.3zM297.2 1764.6h1.3v38.3h-1.3zM299.7 1764.6h1.3v38.3h-1.3zM307.2 1764.6h1.3v38.3h-1.3zM317.2 1764.6h1.3v38.3h-1.3zM322.2 1764.6h1.3v38.3h-1.3zM326 1764.6h5.1v38.3h-5.1zM333.5 1764.6h2.6v38.3h-2.6zM347.3 1764.6h1.3v38.3h-1.3zM358.5 1764.6h1.3v38.3h-1.3zM361 1764.6h1.3v38.3h-1.3zM364.8 1764.6h1.3v38.3h-1.3zM368.5 1764.6h1.3v38.3h-1.3zM381.1 1764.6h1.3v38.3h-1.3zM383.6 1764.6h1.3v38.3h-1.3zM388.6 1764.6h1.3v38.3h-1.3zM404.9 1764.6h1.3v38.3h-1.3zM409.9 1764.6h1.3v38.3h-1.3zM19.1 1802.9h1.3v38.3h-1.3zM32.9 1802.9h1.3v38.3h-1.3zM42.9 1802.9h2.6v38.3h-2.6zM61.7 1802.9h1.3v38.3h-1.3zM75.5 1802.9h2.6v38.3h-2.6zM84.2 1802.9h1.3v38.3h-1.3zM119.3 1802.9h1.3v38.3h-1.3zM195.7 1802.9h2.6v38.3h-2.6zM203.2 1802.9h1.3v38.3h-1.3zM213.2 1802.9h1.3v38.3h-1.3zM218.2 1802.9h1.3v38.3h-1.3zM220.8 1802.9h1.3v38.3h-1.3zM232 1802.9h1.3v38.3h-1.3zM244.6 1802.9h1.3v38.3h-1.3zM250.8 1802.9h2.6v38.3h-2.6zM254.6 1802.9h2.6v38.3h-2.6zM267.1 1802.9h2.6v38.3h-2.6zM270.9 1802.9h1.3v38.3h-1.3zM275.9 1802.9h1.3v38.3h-1.3zM278.4 1802.9h1.3v38.3h-1.3zM308.4 1802.9h1.3v38.3h-1.3zM315.9 1802.9h1.3v38.3h-1.3zM322.2 1802.9h1.3v38.3h-1.3zM344.8 1802.9h1.3v38.3h-1.3zM356 1802.9h2.6v38.3h-2.6zM363.5 1802.9h1.3v38.3h-1.3zM373.6 1802.9h1.3v38.3h-1.3zM376.1 1802.9h1.3v38.3h-1.3zM378.6 1802.9h1.3v38.3h-1.3zM384.8 1802.9h1.3v38.3h-1.3zM388.6 1802.9h1.3v38.3h-1.3zM393.6 1802.9h1.3v38.3h-1.3zM396.1 1802.9h2.6v38.3h-2.6zM408.6 1802.9h1.3v38.3h-1.3zM414.9 1802.9h1.3v38.3h-1.3zM417.4 1802.9h2.6v38.3h-2.6zM40.4 1841.1h1.3v38.3h-1.3zM49.2 1841.1h1.3v38.3h-1.3zM56.7 1841.1h1.3v38.3h-1.3zM71.7 1841.1h1.3v38.3h-1.3zM84.2 1841.1h1.3v38.3h-1.3zM86.7 1841.1h1.3v38.3h-1.3zM90.5 1841.1h1.3v38.3h-1.3zM93 1841.1h1.3v38.3h-1.3zM108 1841.1h1.3v38.3h-1.3zM110.5 1841.1h1.3v38.3h-1.3zM114.3 1841.1h3.8v38.3h-3.8zM126.8 1841.1h1.3v38.3h-1.3zM130.6 1841.1h1.3v38.3h-1.3zM135.6 1841.1h2.6v38.3h-2.6zM144.4 1841.1h1.3v38.3h-1.3zM153.1 1841.1h1.3v38.3h-1.3zM160.6 1841.1h2.6v38.3h-2.6zM166.9 1841.1h1.3v38.3h-1.3zM169.4 1841.1h1.3v38.3h-1.3zM176.9 1841.1h1.3v38.3h-1.3zM183.2 1841.1h2.6v38.3h-2.6zM189.4 1841.1h3.8v38.3h-3.8zM195.7 1841.1h1.3v38.3h-1.3zM209.5 1841.1h1.3v38.3h-1.3zM227 1841.1h1.3v38.3h-1.3zM235.8 1841.1h1.3v38.3h-1.3zM254.6 1841.1h2.6v38.3h-2.6zM277.1 1841.1h1.3v38.3h-1.3zM283.4 1841.1h1.3v38.3h-1.3zM39.1 1879.4h2.6v38.3h-2.6zM44.2 1879.4h2.6v38.3h-2.6zM47.9 1879.4h1.3v38.3h-1.3zM57.9 1879.4h1.3v38.3h-1.3zM65.4 1879.4h3.8v38.3h-3.8zM73 1879.4h1.3v38.3h-1.3zM78 1879.4h1.3v38.3h-1.3zM81.7 1879.4h1.3v38.3h-1.3zM85.5 1879.4h1.3v38.3h-1.3zM94.3 1879.4h1.3v38.3h-1.3zM101.8 1879.4h2.6v38.3h-2.6zM108 1879.4h1.3v38.3h-1.3zM114.3 1879.4h1.3v38.3h-1.3zM123.1 1879.4h1.3v38.3h-1.3zM125.6 1879.4h2.6v38.3h-2.6zM131.8 1879.4h1.3v38.3h-1.3zM136.8 1879.4h2.6v38.3h-2.6zM141.8 1879.4h1.3v38.3h-1.3zM144.4 1879.4h1.3v38.3h-1.3zM146.9 1879.4h1.3v38.3h-1.3zM150.6 1879.4h1.3v38.3h-1.3zM154.4 1879.4h1.3v38.3h-1.3zM161.9 1879.4h1.3v38.3h-1.3zM173.2 1879.4h1.3v38.3h-1.3zM184.4 1879.4h1.3v38.3h-1.3zM193.2 1879.4h1.3v38.3h-1.3zM208.2 1879.4h1.3v38.3h-1.3zM214.5 1879.4h1.3v38.3h-1.3zM237 1879.4h1.3v38.3h-1.3zM263.3 1879.4h1.3v38.3h-1.3zM282.1 1879.4h1.3v38.3h-1.3zM300.9 1879.4h1.3v38.3h-1.3zM303.4 1879.4h1.3v38.3h-1.3zM331 1879.4h1.3v38.3h-1.3zM338.5 1879.4h1.3v38.3h-1.3z"/>
<path fill="#151a0a" shape-rendering="crispEdges" d="M17.9 1535.2h1.3v38.3h-1.3zM32.9 1535.2h1.3v38.3h-1.3zM35.4 1535.2h1.3v38.3h-1.3zM41.6 1535.2h2.6v38.3h-2.6zM51.7 1535.2h1.3v38.3h-1.3zM55.4 1535.2h1.3v38.3h-1.3zM57.9 1535.2h1.3v38.3h-1.3zM65.4 1535.2h1.3v38.3h-1.3zM71.7 1535.2h1.3v38.3h-1.3zM74.2 1535.2h1.3v38.3h-1.3zM93 1535.2h2.6v38.3h-2.6zM110.5 1535.2h1.3v38.3h-1.3zM114.3 1535.2h1.3v38.3h-1.3zM123.1 1535.2h1.3v38.3h-1.3zM130.6 1535.2h1.3v38.3h-1.3zM145.6 1535.2h1.3v38.3h-1.3zM153.1 1535.2h1.3v38.3h-1.3zM169.4 1535.2h1.3v38.3h-1.3zM174.4 1535.2h1.3v38.3h-1.3zM195.7 1535.2h1.3v38.3h-1.3zM199.5 1535.2h1.3v38.3h-1.3zM232 1535.2h1.3v38.3h-1.3zM234.5 1535.2h1.3v38.3h-1.3zM240.8 1535.2h1.3v38.3h-1.3zM253.3 1535.2h1.3v38.3h-1.3zM263.3 1535.2h1.3v38.3h-1.3zM295.9 1535.2h1.3v38.3h-1.3zM312.2 1535.2h1.3v38.3h-1.3zM389.8 1535.2h1.3v38.3h-1.3zM414.9 1535.2h1.3v38.3h-1.3zM418.6 1535.2h1.3v38.3h-1.3zM49.2 1573.4h1.3v38.3h-1.3zM56.7 1573.4h1.3v38.3h-1.3zM69.2 1573.4h1.3v38.3h-1.3zM89.2 1573.4h1.3v38.3h-1.3zM96.8 1573.4h1.3v38.3h-1.3zM99.3 1573.4h1.3v38.3h-1.3zM140.6 1573.4h2.6v38.3h-2.6zM155.6 1573.4h1.3v38.3h-1.3zM174.4 1573.4h1.3v38.3h-1.3zM185.7 1573.4h1.3v38.3h-1.3zM197 1573.4h1.3v38.3h-1.3zM204.5 1573.4h1.3v38.3h-1.3zM209.5 1573.4h1.3v38.3h-1.3zM214.5 1573.4h1.3v38.3h-1.3zM219.5 1573.4h1.3v38.3h-1.3zM222 1573.4h1.3v38.3h-1.3zM233.3 1573.4h1.3v38.3h-1.3zM238.3 1573.4h1.3v38.3h-1.3zM243.3 1573.4h1.3v38.3h-1.3zM247.1 1573.4h1.3v38.3h-1.3zM263.3 1573.4h1.3v38.3h-1.3zM277.1 1573.4h1.3v38.3h-1.3zM282.1 1573.4h1.3v38.3h-1.3zM284.6 1573.4h2.6v38.3h-2.6zM289.6 1573.4h1.3v38.3h-1.3zM293.4 1573.4h1.3v38.3h-1.3zM297.2 1573.4h1.3v38.3h-1.3zM307.2 1573.4h1.3v38.3h-1.3zM318.4 1573.4h2.6v38.3h-2.6zM339.7 1573.4h1.3v38.3h-1.3zM351 1573.4h2.6v38.3h-2.6zM354.8 1573.4h1.3v38.3h-1.3zM358.5 1573.4h1.3v38.3h-1.3zM363.5 1573.4h3.8v38.3h-3.8zM374.8 1573.4h1.3v38.3h-1.3zM377.3 1573.4h1.3v38.3h-1.3zM379.8 1573.4h1.3v38.3h-1.3zM383.6 1573.4h1.3v38.3h-1.3zM387.3 1573.4h1.3v38.3h-1.3zM389.8 1573.4h1.3v38.3h-1.3zM393.6 1573.4h1.3v38.3h-1.3zM401.1 1573.4h2.6v38.3h-2.6zM404.9 1573.4h2.6v38.3h-2.6zM409.9 1573.4h1.3v38.3h-1.3zM51.7 1611.7h1.3v38.3h-1.3zM59.2 1611.7h1.3v38.3h-1.3zM75.5 1611.7h1.3v38.3h-1.3zM84.2 1611.7h1.3v38.3h-1.3zM94.3 1611.7h1.3v38.3h-1.3zM99.3 1611.7h1.3v38.3h-1.3zM116.8 1611.7h1.3v38.3h-1.3zM125.6 1611.7h1.3v38.3h-1.3zM148.1 1611.7h1.3v38.3h-1.3zM154.4 1611.7h1.3v38.3h-1.3zM191.9 1611.7h1.3v38.3h-1.3zM202 1611.7h1.3v38.3h-1.3zM210.7 1611.7h1.3v38.3h-1.3zM214.5 1611.7h2.6v38.3h-2.6zM222 1611.7h1.3v38.3h-1.3zM224.5 1611.7h3.8v38.3h-3.8zM232 1611.7h2.6v38.3h-2.6zM250.8 1611.7h3.8v38.3h-3.8zM264.6 1611.7h1.3v38.3h-1.3zM269.6 1611.7h2.6v38.3h-2.6zM283.4 1611.7h1.3v38.3h-1.3zM288.4 1611.7h1.3v38.3h-1.3zM299.7 1611.7h1.3v38.3h-1.3zM303.4 1611.7h2.6v38.3h-2.6zM308.4 1611.7h1.3v38.3h-1.3zM312.2 1611.7h1.3v38.3h-1.3zM319.7 1611.7h1.3v38.3h-1.3zM323.5 1611.7h1.3v38.3h-1.3zM329.7 1611.7h1.3v38.3h-1.3zM333.5 1611.7h1.3v38.3h-1.3zM338.5 1611.7h1.3v38.3h-1.3zM351 1611.7h1.3v38.3h-1.3zM354.8 1611.7h1.3v38.3h-1.3zM407.4 1611.7h1.3v38.3h-1.3zM19.1 1649.9h1.3v38.3h-1.3zM25.4 1649.9h1.3v38.3h-1.3zM29.1 1649.9h1.3v38.3h-1.3zM36.6 1649.9h3.8v38.3h-3.8zM45.4 1649.9h1.3v38.3h-1.3zM49.2 1649.9h1.3v38.3h-1.3zM51.7 1649.9h1.3v38.3h-1.3zM54.2 1649.9h2.6v38.3h-2.6zM65.4 1649.9h1.3v38.3h-1.3zM70.5 1649.9h1.3v38.3h-1.3zM90.5 1649.9h1.3v38.3h-1.3zM94.3 1649.9h1.3v38.3h-1.3zM105.5 1649.9h1.3v38.3h-1.3zM114.3 1649.9h1.3v38.3h-1.3zM128.1 1649.9h1.3v38.3h-1.3zM130.6 1649.9h1.3v38.3h-1.3zM133.1 1649.9h2.6v38.3h-2.6zM143.1 1649.9h1.3v38.3h-1.3zM151.9 1649.9h1.3v38.3h-1.3zM154.4 1649.9h1.3v38.3h-1.3zM156.9 1649.9h1.3v38.3h-1.3zM181.9 1649.9h1.3v38.3h-1.3zM184.4 1649.9h1.3v38.3h-1.3zM193.2 1649.9h1.3v38.3h-1.3zM197 1649.9h1.3v38.3h-1.3zM200.7 1649.9h1.3v38.3h-1.3zM203.2 1649.9h1.3v38.3h-1.3zM208.2 1649.9h1.3v38.3h-1.3zM210.7 1649.9h1.3v38.3h-1.3zM217 1649.9h1.3v38.3h-1.3zM228.3 1649.9h1.3v38.3h-1.3zM234.5 1649.9h1.3v38.3h-1.3zM238.3 1649.9h1.3v38.3h-1.3zM245.8 1649.9h1.3v38.3h-1.3zM248.3 1649.9h2.6v38.3h-2.6zM255.8 1649.9h3.8v38.3h-3.8zM274.6 1649.9h1.3v38.3h-1.3zM278.4 1649.9h1.3v38.3h-1.3zM280.9 1649.9h1.3v38.3h-1.3zM292.1 1649.9h1.3v38.3h-1.3zM294.7 1649.9h1.3v38.3h-1.3zM297.2 1649.9h1.3v38.3h-1.3zM309.7 1649.9h1.3v38.3h-1.3zM315.9 1649.9h1.3v38.3h-1.3zM321 1649.9h3.8v38.3h-3.8zM329.7 1649.9h1.3v38.3h-1.3zM346 1649.9h1.3v38.3h-1.3zM349.8 1649.9h1.3v38.3h-1.3zM352.3 1649.9h1.3v38.3h-1.3zM359.8 1649.9h1.3v38.3h-1.3zM369.8 1649.9h1.3v38.3h-1.3zM381.1 1649.9h2.6v38.3h-2.6zM384.8 1649.9h1.3v38.3h-1.3zM388.6 1649.9h2.6v38.3h-2.6zM397.4 1649.9h2.6v38.3h-2.6zM402.4 1649.9h2.6v38.3h-2.6zM411.1 1649.9h1.3v38.3h-1.3zM414.9 1649.9h1.3v38.3h-1.3zM418.6 1649.9h1.3v38.3h-1.3zM29.1 1688.2h2.6v38.3h-2.6zM44.2 1688.2h1.3v38.3h-1.3zM74.2 1688.2h1.3v38.3h-1.3zM76.7 1688.2h1.3v38.3h-1.3zM129.3 1688.2h1.3v38.3h-1.3zM140.6 1688.2h1.3v38.3h-1.3zM153.1 1688.2h1.3v38.3h-1.3zM160.6 1688.2h1.3v38.3h-1.3zM165.6 1688.2h3.8v38.3h-3.8zM173.2 1688.2h1.3v38.3h-1.3zM189.4 1688.2h1.3v38.3h-1.3zM202 1688.2h2.6v38.3h-2.6zM207 1688.2h1.3v38.3h-1.3zM214.5 1688.2h1.3v38.3h-1.3zM223.3 1688.2h1.3v38.3h-1.3zM243.3 1688.2h1.3v38.3h-1.3zM257.1 1688.2h3.8v38.3h-3.8zM269.6 1688.2h1.3v38.3h-1.3zM272.1 1688.2h1.3v38.3h-1.3zM275.9 1688.2h1.3v38.3h-1.3zM278.4 1688.2h1.3v38.3h-1.3zM282.1 1688.2h2.6v38.3h-2.6zM289.6 1688.2h1.3v38.3h-1.3zM293.4 1688.2h1.3v38.3h-1.3zM297.2 1688.2h1.3v38.3h-1.3zM303.4 1688.2h1.3v38.3h-1.3zM319.7 1688.2h1.3v38.3h-1.3zM332.2 1688.2h2.6v38.3h-2.6zM347.3 1688.2h2.6v38.3h-2.6zM353.5 1688.2h1.3v38.3h-1.3zM377.3 1688.2h1.3v38.3h-1.3zM381.1 1688.2h1.3v38.3h-1.3zM398.6 1688.2h1.3v38.3h-1.3zM402.4 1688.2h1.3v38.3h-1.3zM404.9 1688.2h1.3v38.3h-1.3zM412.4 1688.2h1.3v38.3h-1.3zM19.1 1726.4h1.3v38.3h-1.3zM79.2 1726.4h1.3v38.3h-1.3zM83 1726.4h1.3v38.3h-1.3zM86.7 1726.4h1.3v38.3h-1.3zM91.7 1726.4h2.6v38.3h-2.6zM153.1 1726.4h1.3v38.3h-1.3zM155.6 1726.4h1.3v38.3h-1.3zM161.9 1726.4h1.3v38.3h-1.3zM169.4 1726.4h2.6v38.3h-2.6zM175.7 1726.4h1.3v38.3h-1.3zM179.4 1726.4h1.3v38.3h-1.3zM181.9 1726.4h1.3v38.3h-1.3zM186.9 1726.4h1.3v38.3h-1.3zM190.7 1726.4h1.3v38.3h-1.3zM198.2 1726.4h1.3v38.3h-1.3zM203.2 1726.4h2.6v38.3h-2.6zM207 1726.4h1.3v38.3h-1.3zM223.3 1726.4h2.6v38.3h-2.6zM227 1726.4h2.6v38.3h-2.6zM234.5 1726.4h1.3v38.3h-1.3zM239.5 1726.4h2.6v38.3h-2.6zM243.3 1726.4h1.3v38.3h-1.3zM254.6 1726.4h1.3v38.3h-1.3zM260.8 1726.4h2.6v38.3h-2.6zM267.1 1726.4h1.3v38.3h-1.3zM279.6 1726.4h1.3v38.3h-1.3zM282.1 1726.4h2.6v38.3h-2.6zM288.4 1726.4h1.3v38.3h-1.3zM294.7 1726.4h1.3v38.3h-1.3zM297.2 1726.4h2.6v38.3h-2.6zM309.7 1726.4h5.1v38.3h-5.1zM319.7 1726.4h2.6v38.3h-2.6zM331 1726.4h1.3v38.3h-1.3zM339.7 1726.4h1.3v38.3h-1.3zM354.8 1726.4h1.3v38.3h-1.3zM357.3 1726.4h2.6v38.3h-2.6zM369.8 1726.4h1.3v38.3h-1.3zM374.8 1726.4h1.3v38.3h-1.3zM383.6 1726.4h1.3v38.3h-1.3zM397.4 1726.4h1.3v38.3h-1.3zM404.9 1726.4h1.3v38.3h-1.3zM408.6 1726.4h2.6v38.3h-2.6zM416.1 1726.4h1.3v38.3h-1.3zM30.4 1764.6h1.3v38.3h-1.3zM35.4 1764.6h1.3v38.3h-1.3zM37.9 1764.6h1.3v38.3h-1.3zM42.9 1764.6h2.6v38.3h-2.6zM56.7 1764.6h1.3v38.3h-1.3zM59.2 1764.6h1.3v38.3h-1.3zM61.7 1764.6h1.3v38.3h-1.3zM66.7 1764.6h1.3v38.3h-1.3zM74.2 1764.6h1.3v38.3h-1.3zM86.7 1764.6h1.3v38.3h-1.3zM93 1764.6h1.3v38.3h-1.3zM106.8 1764.6h1.3v38.3h-1.3zM113 1764.6h1.3v38.3h-1.3zM118.1 1764.6h2.6v38.3h-2.6zM121.8 1764.6h3.8v38.3h-3.8zM129.3 1764.6h2.6v38.3h-2.6zM133.1 1764.6h1.3v38.3h-1.3zM149.4 1764.6h1.3v38.3h-1.3zM153.1 1764.6h2.6v38.3h-2.6zM156.9 1764.6h1.3v38.3h-1.3zM161.9 1764.6h1.3v38.3h-1.3zM164.4 1764.6h1.3v38.3h-1.3zM169.4 1764.6h1.3v38.3h-1.3zM175.7 1764.6h1.3v38.3h-1.3zM178.2 1764.6h1.3v38.3h-1.3zM181.9 1764.6h1.3v38.3h-1.3zM185.7 1764.6h1.3v38.3h-1.3zM200.7 1764.6h1.3v38.3h-1.3zM207 1764.6h1.3v38.3h-1.3zM210.7 1764.6h1.3v38.3h-1.3zM220.8 1764.6h2.6v38.3h-2.6zM227 1764.6h1.3v38.3h-1.3zM229.5 1764.6h1.3v38.3h-1.3zM232 1764.6h1.3v38.3h-1.3zM237 1764.6h1.3v38.3h-1.3zM240.8 1764.6h2.6v38.3h-2.6zM244.6 1764.6h1.3v38.3h-1.3zM250.8 1764.6h2.6v38.3h-2.6zM255.8 1764.6h2.6v38.3h-2.6zM262.1 1764.6h2.6v38.3h-2.6zM265.8 1764.6h1.3v38.3h-1.3zM273.4 1764.6h1.3v38.3h-1.3zM275.9 1764.6h1.3v38.3h-1.3zM279.6 1764.6h1.3v38.3h-1.3zM282.1 1764.6h1.3v38.3h-1.3zM288.4 1764.6h1.3v38.3h-1.3zM294.7 1764.6h2.6v38.3h-2.6zM300.9 1764.6h1.3v38.3h-1.3zM304.7 1764.6h2.6v38.3h-2.6zM309.7 1764.6h2.6v38.3h-2.6zM315.9 1764.6h1.3v38.3h-1.3zM319.7 1764.6h2.6v38.3h-2.6zM323.5 1764.6h1.3v38.3h-1.3zM332.2 1764.6h1.3v38.3h-1.3zM337.2 1764.6h1.3v38.3h-1.3zM339.7 1764.6h1.3v38.3h-1.3zM346 1764.6h1.3v38.3h-1.3zM354.8 1764.6h1.3v38.3h-1.3zM366 1764.6h2.6v38.3h-2.6zM369.8 1764.6h1.3v38.3h-1.3zM373.6 1764.6h1.3v38.3h-1.3zM377.3 1764.6h1.3v38.3h-1.3zM391.1 1764.6h2.6v38.3h-2.6zM401.1 1764.6h1.3v38.3h-1.3zM403.6 1764.6h1.3v38.3h-1.3zM414.9 1764.6h1.3v38.3h-1.3zM417.4 1764.6h1.3v38.3h-1.3zM21.6 1802.9h1.3v38.3h-1.3zM25.4 1802.9h1.3v38.3h-1.3zM31.6 1802.9h1.3v38.3h-1.3zM35.4 1802.9h1.3v38.3h-1.3zM37.9 1802.9h1.3v38.3h-1.3zM46.7 1802.9h1.3v38.3h-1.3zM49.2 1802.9h1.3v38.3h-1.3zM57.9 1802.9h1.3v38.3h-1.3zM73 1802.9h2.6v38.3h-2.6zM91.7 1802.9h1.3v38.3h-1.3zM95.5 1802.9h1.3v38.3h-1.3zM100.5 1802.9h2.6v38.3h-2.6zM130.6 1802.9h1.3v38.3h-1.3zM133.1 1802.9h2.6v38.3h-2.6zM141.8 1802.9h1.3v38.3h-1.3zM145.6 1802.9h1.3v38.3h-1.3zM154.4 1802.9h1.3v38.3h-1.3zM161.9 1802.9h1.3v38.3h-1.3zM170.7 1802.9h1.3v38.3h-1.3zM173.2 1802.9h2.6v38.3h-2.6zM176.9 1802.9h2.6v38.3h-2.6zM186.9 1802.9h1.3v38.3h-1.3zM193.2 1802.9h1.3v38.3h-1.3zM200.7 1802.9h1.3v38.3h-1.3zM209.5 1802.9h1.3v38.3h-1.3zM215.7 1802.9h2.6v38.3h-2.6zM222 1802.9h1.3v38.3h-1.3zM224.5 1802.9h1.3v38.3h-1.3zM230.8 1802.9h1.3v38.3h-1.3zM234.5 1802.9h1.3v38.3h-1.3zM237 1802.9h1.3v38.3h-1.3zM240.8 1802.9h1.3v38.3h-1.3zM243.3 1802.9h1.3v38.3h-1.3zM249.6 1802.9h1.3v38.3h-1.3zM258.3 1802.9h1.3v38.3h-1.3zM262.1 1802.9h1.3v38.3h-1.3zM265.8 1802.9h1.3v38.3h-1.3zM272.1 1802.9h1.3v38.3h-1.3zM279.6 1802.9h1.3v38.3h-1.3zM284.6 1802.9h3.8v38.3h-3.8zM289.6 1802.9h1.3v38.3h-1.3zM293.4 1802.9h1.3v38.3h-1.3zM295.9 1802.9h1.3v38.3h-1.3zM298.4 1802.9h1.3v38.3h-1.3zM309.7 1802.9h3.8v38.3h-3.8zM318.4 1802.9h1.3v38.3h-1.3zM323.5 1802.9h1.3v38.3h-1.3zM326 1802.9h1.3v38.3h-1.3zM334.7 1802.9h2.6v38.3h-2.6zM342.2 1802.9h2.6v38.3h-2.6zM351 1802.9h1.3v38.3h-1.3zM362.3 1802.9h1.3v38.3h-1.3zM366 1802.9h3.8v38.3h-3.8zM386.1 1802.9h1.3v38.3h-1.3zM403.6 1802.9h2.6v38.3h-2.6zM407.4 1802.9h1.3v38.3h-1.3zM51.7 1841.1h1.3v38.3h-1.3zM55.4 1841.1h1.3v38.3h-1.3zM65.4 1841.1h2.6v38.3h-2.6zM76.7 1841.1h1.3v38.3h-1.3zM88 1841.1h2.6v38.3h-2.6zM98 1841.1h1.3v38.3h-1.3zM104.3 1841.1h1.3v38.3h-1.3zM113 1841.1h1.3v38.3h-1.3zM125.6 1841.1h1.3v38.3h-1.3zM128.1 1841.1h2.6v38.3h-2.6zM141.8 1841.1h1.3v38.3h-1.3zM146.9 1841.1h2.6v38.3h-2.6zM154.4 1841.1h2.6v38.3h-2.6zM159.4 1841.1h1.3v38.3h-1.3zM163.1 1841.1h1.3v38.3h-1.3zM165.6 1841.1h1.3v38.3h-1.3zM168.2 1841.1h1.3v38.3h-1.3zM171.9 1841.1h1.3v38.3h-1.3zM180.7 1841.1h1.3v38.3h-1.3zM204.5 1841.1h1.3v38.3h-1.3zM207 1841.1h1.3v38.3h-1.3zM224.5 1841.1h1.3v38.3h-1.3zM234.5 1841.1h1.3v38.3h-1.3zM252.1 1841.1h1.3v38.3h-1.3zM295.9 1841.1h1.3v38.3h-1.3zM302.2 1841.1h1.3v38.3h-1.3zM304.7 1841.1h1.3v38.3h-1.3zM336 1841.1h1.3v38.3h-1.3zM339.7 1841.1h1.3v38.3h-1.3zM343.5 1841.1h1.3v38.3h-1.3zM404.9 1841.1h1.3v38.3h-1.3zM22.9 1879.4h2.6v38.3h-2.6zM49.2 1879.4h2.6v38.3h-2.6zM52.9 1879.4h1.3v38.3h-1.3zM71.7 1879.4h1.3v38.3h-1.3zM83 1879.4h1.3v38.3h-1.3zM86.7 1879.4h2.6v38.3h-2.6zM93 1879.4h1.3v38.3h-1.3zM95.5 1879.4h1.3v38.3h-1.3zM98 1879.4h2.6v38.3h-2.6zM104.3 1879.4h1.3v38.3h-1.3zM119.3 1879.4h1.3v38.3h-1.3zM124.3 1879.4h1.3v38.3h-1.3zM133.1 1879.4h1.3v38.3h-1.3zM143.1 1879.4h1.3v38.3h-1.3zM148.1 1879.4h1.3v38.3h-1.3zM153.1 1879.4h1.3v38.3h-1.3zM155.6 1879.4h1.3v38.3h-1.3zM159.4 1879.4h1.3v38.3h-1.3zM164.4 1879.4h1.3v38.3h-1.3zM168.2 1879.4h1.3v38.3h-1.3zM178.2 1879.4h1.3v38.3h-1.3zM189.4 1879.4h2.6v38.3h-2.6zM195.7 1879.4h1.3v38.3h-1.3zM222 1879.4h2.6v38.3h-2.6zM225.8 1879.4h1.3v38.3h-1.3zM230.8 1879.4h2.6v38.3h-2.6zM235.8 1879.4h1.3v38.3h-1.3zM252.1 1879.4h1.3v38.3h-1.3zM260.8 1879.4h2.6v38.3h-2.6zM265.8 1879.4h1.3v38.3h-1.3zM272.1 1879.4h1.3v38.3h-1.3zM288.4 1879.4h1.3v38.3h-1.3zM312.2 1879.4h1.3v38.3h-1.3zM323.5 1879.4h1.3v38.3h-1.3zM384.8 1879.4h1.3v38.3h-1.3zM411.1 1879.4h1.3v38.3h-1.3z"/>
<path fill="#1a1008" shape-rendering="crispEdges" d="M19.1 1535.2h1.3v38.3h-1.3zM25.4 1535.2h1.3v38.3h-1.3zM115.5 1535.2h1.3v38.3h-1.3zM222 1535.2h1.3v38.3h-1.3zM224.5 1535.2h1.3v38.3h-1.3zM228.3 1535.2h3.8v38.3h-3.8zM235.8 1535.2h1.3v38.3h-1.3zM245.8 1535.2h1.3v38.3h-1.3zM248.3 1535.2h3.8v38.3h-3.8zM259.6 1535.2h1.3v38.3h-1.3zM267.1 1535.2h1.3v38.3h-1.3zM270.9 1535.2h1.3v38.3h-1.3zM275.9 1535.2h1.3v38.3h-1.3zM280.9 1535.2h2.6v38.3h-2.6zM284.6 1535.2h1.3v38.3h-1.3zM287.1 1535.2h2.6v38.3h-2.6zM294.7 1535.2h1.3v38.3h-1.3zM300.9 1535.2h1.3v38.3h-1.3zM303.4 1535.2h3.8v38.3h-3.8zM313.4 1535.2h2.6v38.3h-2.6zM321 1535.2h1.3v38.3h-1.3zM338.5 1535.2h1.3v38.3h-1.3zM353.5 1535.2h1.3v38.3h-1.3zM357.3 1535.2h1.3v38.3h-1.3zM409.9 1535.2h1.3v38.3h-1.3zM20.4 1573.4h2.6v38.3h-2.6zM25.4 1573.4h2.6v38.3h-2.6zM31.6 1573.4h5.1v38.3h-5.1zM39.1 1573.4h1.3v38.3h-1.3zM46.7 1573.4h1.3v38.3h-1.3zM54.2 1573.4h2.6v38.3h-2.6zM62.9 1573.4h1.3v38.3h-1.3zM66.7 1573.4h1.3v38.3h-1.3zM71.7 1573.4h1.3v38.3h-1.3zM75.5 1573.4h1.3v38.3h-1.3zM79.2 1573.4h1.3v38.3h-1.3zM91.7 1573.4h1.3v38.3h-1.3zM94.3 1573.4h2.6v38.3h-2.6zM98 1573.4h1.3v38.3h-1.3zM104.3 1573.4h1.3v38.3h-1.3zM108 1573.4h1.3v38.3h-1.3zM110.5 1573.4h1.3v38.3h-1.3zM115.5 1573.4h2.6v38.3h-2.6zM124.3 1573.4h1.3v38.3h-1.3zM136.8 1573.4h1.3v38.3h-1.3zM148.1 1573.4h1.3v38.3h-1.3zM150.6 1573.4h1.3v38.3h-1.3zM154.4 1573.4h1.3v38.3h-1.3zM164.4 1573.4h1.3v38.3h-1.3zM173.2 1573.4h1.3v38.3h-1.3zM181.9 1573.4h1.3v38.3h-1.3zM188.2 1573.4h1.3v38.3h-1.3zM195.7 1573.4h1.3v38.3h-1.3zM198.2 1573.4h2.6v38.3h-2.6zM205.7 1573.4h2.6v38.3h-2.6zM210.7 1573.4h1.3v38.3h-1.3zM213.2 1573.4h1.3v38.3h-1.3zM228.3 1573.4h1.3v38.3h-1.3zM230.8 1573.4h1.3v38.3h-1.3zM242 1573.4h1.3v38.3h-1.3zM245.8 1573.4h1.3v38.3h-1.3zM253.3 1573.4h1.3v38.3h-1.3zM264.6 1573.4h1.3v38.3h-1.3zM270.9 1573.4h1.3v38.3h-1.3zM283.4 1573.4h1.3v38.3h-1.3zM287.1 1573.4h1.3v38.3h-1.3zM294.7 1573.4h1.3v38.3h-1.3zM299.7 1573.4h2.6v38.3h-2.6zM310.9 1573.4h1.3v38.3h-1.3zM317.2 1573.4h1.3v38.3h-1.3zM324.7 1573.4h1.3v38.3h-1.3zM332.2 1573.4h1.3v38.3h-1.3zM342.2 1573.4h2.6v38.3h-2.6zM346 1573.4h1.3v38.3h-1.3zM353.5 1573.4h1.3v38.3h-1.3zM357.3 1573.4h1.3v38.3h-1.3zM361 1573.4h1.3v38.3h-1.3zM367.3 1573.4h2.6v38.3h-2.6zM372.3 1573.4h1.3v38.3h-1.3zM376.1 1573.4h1.3v38.3h-1.3zM382.3 1573.4h1.3v38.3h-1.3zM386.1 1573.4h1.3v38.3h-1.3zM396.1 1573.4h1.3v38.3h-1.3zM40.4 1611.7h1.3v38.3h-1.3zM42.9 1611.7h1.3v38.3h-1.3zM49.2 1611.7h2.6v38.3h-2.6zM62.9 1611.7h1.3v38.3h-1.3zM65.4 1611.7h1.3v38.3h-1.3zM79.2 1611.7h1.3v38.3h-1.3zM83 1611.7h1.3v38.3h-1.3zM96.8 1611.7h2.6v38.3h-2.6zM103 1611.7h1.3v38.3h-1.3zM111.8 1611.7h3.8v38.3h-3.8zM120.6 1611.7h1.3v38.3h-1.3zM123.1 1611.7h2.6v38.3h-2.6zM126.8 1611.7h1.3v38.3h-1.3zM141.8 1611.7h2.6v38.3h-2.6zM160.6 1611.7h1.3v38.3h-1.3zM170.7 1611.7h1.3v38.3h-1.3zM178.2 1611.7h1.3v38.3h-1.3zM188.2 1611.7h1.3v38.3h-1.3zM190.7 1611.7h1.3v38.3h-1.3zM198.2 1611.7h1.3v38.3h-1.3zM208.2 1611.7h1.3v38.3h-1.3zM213.2 1611.7h1.3v38.3h-1.3zM238.3 1611.7h1.3v38.3h-1.3zM243.3 1611.7h1.3v38.3h-1.3zM247.1 1611.7h2.6v38.3h-2.6zM258.3 1611.7h2.6v38.3h-2.6zM279.6 1611.7h1.3v38.3h-1.3zM293.4 1611.7h1.3v38.3h-1.3zM298.4 1611.7h1.3v38.3h-1.3zM353.5 1611.7h1.3v38.3h-1.3zM358.5 1611.7h1.3v38.3h-1.3zM363.5 1611.7h1.3v38.3h-1.3zM76.7 1649.9h1.3v38.3h-1.3zM81.7 1649.9h1.3v38.3h-1.3zM110.5 1649.9h1.3v38.3h-1.3zM120.6 1649.9h1.3v38.3h-1.3zM136.8 1649.9h1.3v38.3h-1.3zM139.3 1649.9h1.3v38.3h-1.3zM153.1 1649.9h1.3v38.3h-1.3zM185.7 1649.9h1.3v38.3h-1.3zM189.4 1649.9h1.3v38.3h-1.3zM199.5 1649.9h1.3v38.3h-1.3zM209.5 1649.9h1.3v38.3h-1.3zM212 1649.9h1.3v38.3h-1.3zM218.2 1649.9h1.3v38.3h-1.3zM227 1649.9h1.3v38.3h-1.3zM262.1 1649.9h2.6v38.3h-2.6zM267.1 1649.9h1.3v38.3h-1.3zM269.6 1649.9h1.3v38.3h-1.3zM282.1 1649.9h1.3v38.3h-1.3zM284.6 1649.9h1.3v38.3h-1.3zM298.4 1649.9h1.3v38.3h-1.3zM307.2 1649.9h1.3v38.3h-1.3zM324.7 1649.9h2.6v38.3h-2.6zM343.5 1649.9h1.3v38.3h-1.3zM351 1649.9h1.3v38.3h-1.3zM353.5 1649.9h1.3v38.3h-1.3zM376.1 1649.9h1.3v38.3h-1.3zM399.9 1649.9h1.3v38.3h-1.3zM407.4 1649.9h1.3v38.3h-1.3zM413.6 1649.9h1.3v38.3h-1.3zM36.6 1688.2h1.3v38.3h-1.3zM41.6 1688.2h2.6v38.3h-2.6zM50.4 1688.2h1.3v38.3h-1.3zM56.7 1688.2h1.3v38.3h-1.3zM60.4 1688.2h1.3v38.3h-1.3zM62.9 1688.2h5.1v38.3h-5.1zM73 1688.2h1.3v38.3h-1.3zM81.7 1688.2h2.6v38.3h-2.6zM86.7 1688.2h1.3v38.3h-1.3zM91.7 1688.2h1.3v38.3h-1.3zM105.5 1688.2h1.3v38.3h-1.3zM110.5 1688.2h1.3v38.3h-1.3zM114.3 1688.2h6.3v38.3h-6.3zM128.1 1688.2h1.3v38.3h-1.3zM136.8 1688.2h1.3v38.3h-1.3zM144.4 1688.2h1.3v38.3h-1.3zM146.9 1688.2h1.3v38.3h-1.3zM150.6 1688.2h1.3v38.3h-1.3zM154.4 1688.2h1.3v38.3h-1.3zM163.1 1688.2h2.6v38.3h-2.6zM169.4 1688.2h2.6v38.3h-2.6zM178.2 1688.2h1.3v38.3h-1.3zM183.2 1688.2h1.3v38.3h-1.3zM191.9 1688.2h1.3v38.3h-1.3zM197 1688.2h1.3v38.3h-1.3zM215.7 1688.2h6.3v38.3h-6.3zM232 1688.2h1.3v38.3h-1.3zM238.3 1688.2h1.3v38.3h-1.3zM244.6 1688.2h1.3v38.3h-1.3zM250.8 1688.2h1.3v38.3h-1.3zM267.1 1688.2h1.3v38.3h-1.3zM280.9 1688.2h1.3v38.3h-1.3zM294.7 1688.2h1.3v38.3h-1.3zM309.7 1688.2h1.3v38.3h-1.3zM317.2 1688.2h1.3v38.3h-1.3zM322.2 1688.2h1.3v38.3h-1.3zM344.8 1688.2h1.3v38.3h-1.3zM383.6 1688.2h1.3v38.3h-1.3zM20.4 1726.4h1.3v38.3h-1.3zM22.9 1726.4h2.6v38.3h-2.6zM27.9 1726.4h1.3v38.3h-1.3zM31.6 1726.4h1.3v38.3h-1.3zM34.1 1726.4h1.3v38.3h-1.3zM40.4 1726.4h1.3v38.3h-1.3zM49.2 1726.4h1.3v38.3h-1.3zM51.7 1726.4h1.3v38.3h-1.3zM55.4 1726.4h1.3v38.3h-1.3zM57.9 1726.4h1.3v38.3h-1.3zM62.9 1726.4h3.8v38.3h-3.8zM68 1726.4h3.8v38.3h-3.8zM78 1726.4h1.3v38.3h-1.3zM85.5 1726.4h1.3v38.3h-1.3zM89.2 1726.4h2.6v38.3h-2.6zM94.3 1726.4h2.6v38.3h-2.6zM98 1726.4h1.3v38.3h-1.3zM100.5 1726.4h1.3v38.3h-1.3zM105.5 1726.4h3.8v38.3h-3.8zM113 1726.4h1.3v38.3h-1.3zM115.5 1726.4h1.3v38.3h-1.3zM124.3 1726.4h2.6v38.3h-2.6zM140.6 1726.4h2.6v38.3h-2.6zM148.1 1726.4h1.3v38.3h-1.3zM154.4 1726.4h1.3v38.3h-1.3zM156.9 1726.4h1.3v38.3h-1.3zM160.6 1726.4h1.3v38.3h-1.3zM166.9 1726.4h1.3v38.3h-1.3zM174.4 1726.4h1.3v38.3h-1.3zM185.7 1726.4h1.3v38.3h-1.3zM188.2 1726.4h1.3v38.3h-1.3zM194.5 1726.4h1.3v38.3h-1.3zM205.7 1726.4h1.3v38.3h-1.3zM209.5 1726.4h1.3v38.3h-1.3zM222 1726.4h1.3v38.3h-1.3zM233.3 1726.4h1.3v38.3h-1.3zM250.8 1726.4h1.3v38.3h-1.3zM263.3 1726.4h1.3v38.3h-1.3zM269.6 1726.4h3.8v38.3h-3.8zM322.2 1726.4h1.3v38.3h-1.3zM327.2 1726.4h1.3v38.3h-1.3zM364.8 1726.4h1.3v38.3h-1.3zM64.2 1764.6h1.3v38.3h-1.3zM171.9 1764.6h1.3v38.3h-1.3zM184.4 1764.6h1.3v38.3h-1.3zM213.2 1764.6h1.3v38.3h-1.3zM225.8 1764.6h1.3v38.3h-1.3zM235.8 1764.6h1.3v38.3h-1.3zM277.1 1764.6h1.3v38.3h-1.3zM285.9 1764.6h1.3v38.3h-1.3zM290.9 1764.6h1.3v38.3h-1.3zM341 1764.6h1.3v38.3h-1.3zM343.5 1764.6h1.3v38.3h-1.3zM352.3 1764.6h1.3v38.3h-1.3zM357.3 1764.6h1.3v38.3h-1.3zM362.3 1764.6h2.6v38.3h-2.6zM371.1 1764.6h1.3v38.3h-1.3zM376.1 1764.6h1.3v38.3h-1.3zM378.6 1764.6h2.6v38.3h-2.6zM386.1 1764.6h1.3v38.3h-1.3zM394.9 1764.6h1.3v38.3h-1.3zM402.4 1764.6h1.3v38.3h-1.3zM413.6 1764.6h1.3v38.3h-1.3zM16.6 1802.9h2.6v38.3h-2.6zM24.1 1802.9h1.3v38.3h-1.3zM26.6 1802.9h1.3v38.3h-1.3zM29.1 1802.9h2.6v38.3h-2.6zM34.1 1802.9h1.3v38.3h-1.3zM36.6 1802.9h1.3v38.3h-1.3zM45.4 1802.9h1.3v38.3h-1.3zM47.9 1802.9h1.3v38.3h-1.3zM55.4 1802.9h1.3v38.3h-1.3zM62.9 1802.9h2.6v38.3h-2.6zM78 1802.9h2.6v38.3h-2.6zM81.7 1802.9h2.6v38.3h-2.6zM85.5 1802.9h1.3v38.3h-1.3zM93 1802.9h2.6v38.3h-2.6zM96.8 1802.9h2.6v38.3h-2.6zM111.8 1802.9h1.3v38.3h-1.3zM116.8 1802.9h2.6v38.3h-2.6zM120.6 1802.9h1.3v38.3h-1.3zM124.3 1802.9h2.6v38.3h-2.6zM128.1 1802.9h1.3v38.3h-1.3zM153.1 1802.9h1.3v38.3h-1.3zM156.9 1802.9h1.3v38.3h-1.3zM160.6 1802.9h1.3v38.3h-1.3zM168.2 1802.9h2.6v38.3h-2.6zM171.9 1802.9h1.3v38.3h-1.3zM184.4 1802.9h1.3v38.3h-1.3zM189.4 1802.9h1.3v38.3h-1.3zM208.2 1802.9h1.3v38.3h-1.3zM214.5 1802.9h1.3v38.3h-1.3zM228.3 1802.9h2.6v38.3h-2.6zM235.8 1802.9h1.3v38.3h-1.3zM238.3 1802.9h1.3v38.3h-1.3zM248.3 1802.9h1.3v38.3h-1.3zM263.3 1802.9h1.3v38.3h-1.3zM290.9 1802.9h1.3v38.3h-1.3zM294.7 1802.9h1.3v38.3h-1.3zM300.9 1802.9h1.3v38.3h-1.3zM303.4 1802.9h1.3v38.3h-1.3zM314.7 1802.9h1.3v38.3h-1.3zM348.5 1802.9h2.6v38.3h-2.6zM394.9 1802.9h1.3v38.3h-1.3zM406.1 1802.9h1.3v38.3h-1.3zM80.5 1841.1h1.3v38.3h-1.3zM149.4 1841.1h1.3v38.3h-1.3zM156.9 1841.1h1.3v38.3h-1.3zM178.2 1841.1h2.6v38.3h-2.6zM186.9 1841.1h1.3v38.3h-1.3zM194.5 1841.1h1.3v38.3h-1.3zM200.7 1841.1h1.3v38.3h-1.3zM213.2 1841.1h1.3v38.3h-1.3zM220.8 1841.1h1.3v38.3h-1.3zM223.3 1841.1h1.3v38.3h-1.3zM225.8 1841.1h1.3v38.3h-1.3zM228.3 1841.1h1.3v38.3h-1.3zM237 1841.1h1.3v38.3h-1.3zM240.8 1841.1h1.3v38.3h-1.3zM244.6 1841.1h1.3v38.3h-1.3zM253.3 1841.1h1.3v38.3h-1.3zM259.6 1841.1h1.3v38.3h-1.3zM263.3 1841.1h1.3v38.3h-1.3zM265.8 1841.1h2.6v38.3h-2.6zM272.1 1841.1h1.3v38.3h-1.3zM274.6 1841.1h1.3v38.3h-1.3zM280.9 1841.1h1.3v38.3h-1.3zM284.6 1841.1h1.3v38.3h-1.3zM288.4 1841.1h3.8v38.3h-3.8zM294.7 1841.1h1.3v38.3h-1.3zM297.2 1841.1h1.3v38.3h-1.3zM299.7 1841.1h1.3v38.3h-1.3zM308.4 1841.1h3.8v38.3h-3.8zM314.7 1841.1h1.3v38.3h-1.3zM319.7 1841.1h2.6v38.3h-2.6zM326 1841.1h1.3v38.3h-1.3zM333.5 1841.1h1.3v38.3h-1.3zM338.5 1841.1h1.3v38.3h-1.3zM346 1841.1h1.3v38.3h-1.3zM348.5 1841.1h1.3v38.3h-1.3zM353.5 1841.1h1.3v38.3h-1.3zM356 1841.1h2.6v38.3h-2.6zM359.8 1841.1h1.3v38.3h-1.3zM367.3 1841.1h1.3v38.3h-1.3zM377.3 1841.1h1.3v38.3h-1.3zM382.3 1841.1h2.6v38.3h-2.6zM386.1 1841.1h1.3v38.3h-1.3zM389.8 1841.1h1.3v38.3h-1.3zM393.6 1841.1h2.6v38.3h-2.6zM401.1 1841.1h2.6v38.3h-2.6zM16.6 1879.4h1.3v38.3h-1.3zM20.4 1879.4h1.3v38.3h-1.3zM46.7 1879.4h1.3v38.3h-1.3zM60.4 1879.4h1.3v38.3h-1.3zM69.2 1879.4h1.3v38.3h-1.3zM84.2 1879.4h1.3v38.3h-1.3zM130.6 1879.4h1.3v38.3h-1.3zM140.6 1879.4h1.3v38.3h-1.3zM180.7 1879.4h1.3v38.3h-1.3zM188.2 1879.4h1.3v38.3h-1.3zM191.9 1879.4h1.3v38.3h-1.3zM194.5 1879.4h1.3v38.3h-1.3zM198.2 1879.4h1.3v38.3h-1.3zM202 1879.4h1.3v38.3h-1.3zM207 1879.4h1.3v38.3h-1.3zM213.2 1879.4h1.3v38.3h-1.3zM215.7 1879.4h1.3v38.3h-1.3zM224.5 1879.4h1.3v38.3h-1.3zM227 1879.4h1.3v38.3h-1.3zM229.5 1879.4h1.3v38.3h-1.3zM233.3 1879.4h2.6v38.3h-2.6zM247.1 1879.4h2.6v38.3h-2.6zM250.8 1879.4h1.3v38.3h-1.3zM253.3 1879.4h1.3v38.3h-1.3zM255.8 1879.4h1.3v38.3h-1.3zM264.6 1879.4h1.3v38.3h-1.3zM267.1 1879.4h1.3v38.3h-1.3zM269.6 1879.4h1.3v38.3h-1.3zM275.9 1879.4h1.3v38.3h-1.3zM314.7 1879.4h1.3v38.3h-1.3zM318.4 1879.4h3.8v38.3h-3.8zM326 1879.4h3.8v38.3h-3.8zM336 1879.4h1.3v38.3h-1.3zM341 1879.4h1.3v38.3h-1.3zM348.5 1879.4h1.3v38.3h-1.3zM351 1879.4h1.3v38.3h-1.3zM357.3 1879.4h2.6v38.3h-2.6zM377.3 1879.4h1.3v38.3h-1.3zM388.6 1879.4h1.3v38.3h-1.3zM392.3 1879.4h1.3v38.3h-1.3zM394.9 1879.4h1.3v38.3h-1.3zM397.4 1879.4h1.3v38.3h-1.3zM404.9 1879.4h1.3v38.3h-1.3zM408.6 1879.4h1.3v38.3h-1.3zM412.4 1879.4h1.3v38.3h-1.3z"/>
<path fill="#121109" shape-rendering="crispEdges" d="M20.4 1535.2h1.3v38.3h-1.3zM37.9 1535.2h1.3v38.3h-1.3zM91.7 1535.2h1.3v38.3h-1.3zM134.3 1535.2h1.3v38.3h-1.3zM140.6 1535.2h1.3v38.3h-1.3zM166.9 1535.2h1.3v38.3h-1.3zM186.9 1535.2h1.3v38.3h-1.3zM215.7 1535.2h1.3v38.3h-1.3zM219.5 1535.2h1.3v38.3h-1.3zM223.3 1535.2h1.3v38.3h-1.3zM242 1535.2h1.3v38.3h-1.3zM255.8 1535.2h1.3v38.3h-1.3zM262.1 1535.2h1.3v38.3h-1.3zM273.4 1535.2h2.6v38.3h-2.6zM279.6 1535.2h1.3v38.3h-1.3zM293.4 1535.2h1.3v38.3h-1.3zM299.7 1535.2h1.3v38.3h-1.3zM308.4 1535.2h1.3v38.3h-1.3zM339.7 1535.2h2.6v38.3h-2.6zM374.8 1535.2h1.3v38.3h-1.3zM384.8 1535.2h1.3v38.3h-1.3zM40.4 1573.4h1.3v38.3h-1.3zM59.2 1573.4h2.6v38.3h-2.6zM74.2 1573.4h1.3v38.3h-1.3zM83 1573.4h1.3v38.3h-1.3zM86.7 1573.4h1.3v38.3h-1.3zM90.5 1573.4h1.3v38.3h-1.3zM105.5 1573.4h1.3v38.3h-1.3zM130.6 1573.4h1.3v38.3h-1.3zM138.1 1573.4h1.3v38.3h-1.3zM143.1 1573.4h2.6v38.3h-2.6zM151.9 1573.4h2.6v38.3h-2.6zM156.9 1573.4h1.3v38.3h-1.3zM160.6 1573.4h1.3v38.3h-1.3zM165.6 1573.4h1.3v38.3h-1.3zM171.9 1573.4h1.3v38.3h-1.3zM175.7 1573.4h1.3v38.3h-1.3zM179.4 1573.4h1.3v38.3h-1.3zM184.4 1573.4h1.3v38.3h-1.3zM191.9 1573.4h1.3v38.3h-1.3zM194.5 1573.4h1.3v38.3h-1.3zM217 1573.4h1.3v38.3h-1.3zM220.8 1573.4h1.3v38.3h-1.3zM224.5 1573.4h1.3v38.3h-1.3zM244.6 1573.4h1.3v38.3h-1.3zM248.3 1573.4h2.6v38.3h-2.6zM252.1 1573.4h1.3v38.3h-1.3zM255.8 1573.4h1.3v38.3h-1.3zM262.1 1573.4h1.3v38.3h-1.3zM265.8 1573.4h2.6v38.3h-2.6zM272.1 1573.4h2.6v38.3h-2.6zM275.9 1573.4h1.3v38.3h-1.3zM279.6 1573.4h1.3v38.3h-1.3zM292.1 1573.4h1.3v38.3h-1.3zM295.9 1573.4h1.3v38.3h-1.3zM302.2 1573.4h2.6v38.3h-2.6zM309.7 1573.4h1.3v38.3h-1.3zM312.2 1573.4h1.3v38.3h-1.3zM321 1573.4h1.3v38.3h-1.3zM327.2 1573.4h1.3v38.3h-1.3zM329.7 1573.4h1.3v38.3h-1.3zM333.5 1573.4h3.8v38.3h-3.8zM338.5 1573.4h1.3v38.3h-1.3zM356 1573.4h1.3v38.3h-1.3zM369.8 1573.4h1.3v38.3h-1.3zM394.9 1573.4h1.3v38.3h-1.3zM397.4 1573.4h1.3v38.3h-1.3zM412.4 1573.4h1.3v38.3h-1.3zM46.7 1611.7h1.3v38.3h-1.3zM52.9 1611.7h1.3v38.3h-1.3zM64.2 1611.7h1.3v38.3h-1.3zM69.2 1611.7h1.3v38.3h-1.3zM95.5 1611.7h1.3v38.3h-1.3zM104.3 1611.7h2.6v38.3h-2.6zM109.3 1611.7h1.3v38.3h-1.3zM129.3 1611.7h1.3v38.3h-1.3zM133.1 1611.7h1.3v38.3h-1.3zM136.8 1611.7h3.8v38.3h-3.8zM146.9 1611.7h1.3v38.3h-1.3zM150.6 1611.7h1.3v38.3h-1.3zM159.4 1611.7h1.3v38.3h-1.3zM163.1 1611.7h1.3v38.3h-1.3zM166.9 1611.7h1.3v38.3h-1.3zM174.4 1611.7h1.3v38.3h-1.3zM179.4 1611.7h1.3v38.3h-1.3zM181.9 1611.7h5.1v38.3h-5.1zM189.4 1611.7h1.3v38.3h-1.3zM200.7 1611.7h1.3v38.3h-1.3zM203.2 1611.7h1.3v38.3h-1.3zM205.7 1611.7h1.3v38.3h-1.3zM212 1611.7h1.3v38.3h-1.3zM235.8 1611.7h1.3v38.3h-1.3zM239.5 1611.7h2.6v38.3h-2.6zM255.8 1611.7h1.3v38.3h-1.3zM263.3 1611.7h1.3v38.3h-1.3zM265.8 1611.7h1.3v38.3h-1.3zM268.3 1611.7h1.3v38.3h-1.3zM274.6 1611.7h1.3v38.3h-1.3zM289.6 1611.7h1.3v38.3h-1.3zM292.1 1611.7h1.3v38.3h-1.3zM297.2 1611.7h1.3v38.3h-1.3zM300.9 1611.7h2.6v38.3h-2.6zM314.7 1611.7h1.3v38.3h-1.3zM322.2 1611.7h1.3v38.3h-1.3zM331 1611.7h1.3v38.3h-1.3zM337.2 1611.7h1.3v38.3h-1.3zM16.6 1649.9h2.6v38.3h-2.6zM57.9 1649.9h2.6v38.3h-2.6zM66.7 1649.9h1.3v38.3h-1.3zM75.5 1649.9h1.3v38.3h-1.3zM89.2 1649.9h1.3v38.3h-1.3zM95.5 1649.9h1.3v38.3h-1.3zM103 1649.9h1.3v38.3h-1.3zM115.5 1649.9h1.3v38.3h-1.3zM118.1 1649.9h1.3v38.3h-1.3zM131.8 1649.9h1.3v38.3h-1.3zM145.6 1649.9h1.3v38.3h-1.3zM159.4 1649.9h1.3v38.3h-1.3zM163.1 1649.9h1.3v38.3h-1.3zM165.6 1649.9h1.3v38.3h-1.3zM170.7 1649.9h1.3v38.3h-1.3zM173.2 1649.9h2.6v38.3h-2.6zM179.4 1649.9h1.3v38.3h-1.3zM188.2 1649.9h1.3v38.3h-1.3zM190.7 1649.9h1.3v38.3h-1.3zM207 1649.9h1.3v38.3h-1.3zM219.5 1649.9h1.3v38.3h-1.3zM232 1649.9h1.3v38.3h-1.3zM237 1649.9h1.3v38.3h-1.3zM253.3 1649.9h2.6v38.3h-2.6zM264.6 1649.9h2.6v38.3h-2.6zM272.1 1649.9h1.3v38.3h-1.3zM275.9 1649.9h1.3v38.3h-1.3zM283.4 1649.9h1.3v38.3h-1.3zM288.4 1649.9h1.3v38.3h-1.3zM299.7 1649.9h1.3v38.3h-1.3zM317.2 1649.9h2.6v38.3h-2.6zM333.5 1649.9h1.3v38.3h-1.3zM337.2 1649.9h1.3v38.3h-1.3zM339.7 1649.9h1.3v38.3h-1.3zM344.8 1649.9h1.3v38.3h-1.3zM347.3 1649.9h1.3v38.3h-1.3zM354.8 1649.9h1.3v38.3h-1.3zM361 1649.9h1.3v38.3h-1.3zM368.5 1649.9h1.3v38.3h-1.3zM373.6 1649.9h1.3v38.3h-1.3zM378.6 1649.9h2.6v38.3h-2.6zM387.3 1649.9h1.3v38.3h-1.3zM392.3 1649.9h2.6v38.3h-2.6zM401.1 1649.9h1.3v38.3h-1.3zM409.9 1649.9h1.3v38.3h-1.3zM412.4 1649.9h1.3v38.3h-1.3zM52.9 1688.2h1.3v38.3h-1.3zM55.4 1688.2h1.3v38.3h-1.3zM68 1688.2h1.3v38.3h-1.3zM70.5 1688.2h1.3v38.3h-1.3zM78 1688.2h1.3v38.3h-1.3zM85.5 1688.2h1.3v38.3h-1.3zM93 1688.2h1.3v38.3h-1.3zM109.3 1688.2h1.3v38.3h-1.3zM130.6 1688.2h1.3v38.3h-1.3zM134.3 1688.2h2.6v38.3h-2.6zM138.1 1688.2h2.6v38.3h-2.6zM141.8 1688.2h1.3v38.3h-1.3zM145.6 1688.2h1.3v38.3h-1.3zM155.6 1688.2h1.3v38.3h-1.3zM158.1 1688.2h1.3v38.3h-1.3zM171.9 1688.2h1.3v38.3h-1.3zM174.4 1688.2h2.6v38.3h-2.6zM180.7 1688.2h2.6v38.3h-2.6zM184.4 1688.2h2.6v38.3h-2.6zM190.7 1688.2h1.3v38.3h-1.3zM193.2 1688.2h1.3v38.3h-1.3zM195.7 1688.2h1.3v38.3h-1.3zM198.2 1688.2h3.8v38.3h-3.8zM208.2 1688.2h2.6v38.3h-2.6zM213.2 1688.2h1.3v38.3h-1.3zM224.5 1688.2h2.6v38.3h-2.6zM229.5 1688.2h1.3v38.3h-1.3zM234.5 1688.2h3.8v38.3h-3.8zM240.8 1688.2h1.3v38.3h-1.3zM245.8 1688.2h2.6v38.3h-2.6zM252.1 1688.2h2.6v38.3h-2.6zM255.8 1688.2h1.3v38.3h-1.3zM260.8 1688.2h1.3v38.3h-1.3zM264.6 1688.2h1.3v38.3h-1.3zM277.1 1688.2h1.3v38.3h-1.3zM279.6 1688.2h1.3v38.3h-1.3zM285.9 1688.2h1.3v38.3h-1.3zM288.4 1688.2h1.3v38.3h-1.3zM299.7 1688.2h1.3v38.3h-1.3zM312.2 1688.2h1.3v38.3h-1.3zM339.7 1688.2h1.3v38.3h-1.3zM364.8 1688.2h1.3v38.3h-1.3zM373.6 1688.2h2.6v38.3h-2.6zM393.6 1688.2h1.3v38.3h-1.3zM16.6 1726.4h1.3v38.3h-1.3zM21.6 1726.4h1.3v38.3h-1.3zM26.6 1726.4h1.3v38.3h-1.3zM42.9 1726.4h1.3v38.3h-1.3zM45.4 1726.4h1.3v38.3h-1.3zM54.2 1726.4h1.3v38.3h-1.3zM59.2 1726.4h3.8v38.3h-3.8zM71.7 1726.4h1.3v38.3h-1.3zM76.7 1726.4h1.3v38.3h-1.3zM81.7 1726.4h1.3v38.3h-1.3zM101.8 1726.4h1.3v38.3h-1.3zM111.8 1726.4h1.3v38.3h-1.3zM126.8 1726.4h1.3v38.3h-1.3zM129.3 1726.4h5.1v38.3h-5.1zM135.6 1726.4h2.6v38.3h-2.6zM139.3 1726.4h1.3v38.3h-1.3zM143.1 1726.4h1.3v38.3h-1.3zM145.6 1726.4h1.3v38.3h-1.3zM149.4 1726.4h1.3v38.3h-1.3zM158.1 1726.4h1.3v38.3h-1.3zM164.4 1726.4h2.6v38.3h-2.6zM168.2 1726.4h1.3v38.3h-1.3zM171.9 1726.4h2.6v38.3h-2.6zM176.9 1726.4h2.6v38.3h-2.6zM180.7 1726.4h1.3v38.3h-1.3zM183.2 1726.4h1.3v38.3h-1.3zM189.4 1726.4h1.3v38.3h-1.3zM191.9 1726.4h1.3v38.3h-1.3zM195.7 1726.4h1.3v38.3h-1.3zM210.7 1726.4h1.3v38.3h-1.3zM217 1726.4h2.6v38.3h-2.6zM237 1726.4h1.3v38.3h-1.3zM245.8 1726.4h1.3v38.3h-1.3zM252.1 1726.4h2.6v38.3h-2.6zM257.1 1726.4h1.3v38.3h-1.3zM268.3 1726.4h1.3v38.3h-1.3zM278.4 1726.4h1.3v38.3h-1.3zM280.9 1726.4h1.3v38.3h-1.3zM287.1 1726.4h1.3v38.3h-1.3zM295.9 1726.4h1.3v38.3h-1.3zM300.9 1726.4h1.3v38.3h-1.3zM305.9 1726.4h1.3v38.3h-1.3zM324.7 1726.4h2.6v38.3h-2.6zM329.7 1726.4h1.3v38.3h-1.3zM332.2 1726.4h1.3v38.3h-1.3zM342.2 1726.4h1.3v38.3h-1.3zM353.5 1726.4h1.3v38.3h-1.3zM372.3 1726.4h1.3v38.3h-1.3zM386.1 1726.4h1.3v38.3h-1.3zM391.1 1726.4h1.3v38.3h-1.3zM393.6 1726.4h1.3v38.3h-1.3zM398.6 1726.4h1.3v38.3h-1.3zM402.4 1726.4h1.3v38.3h-1.3zM412.4 1726.4h2.6v38.3h-2.6zM19.1 1764.6h2.6v38.3h-2.6zM46.7 1764.6h1.3v38.3h-1.3zM71.7 1764.6h1.3v38.3h-1.3zM99.3 1764.6h1.3v38.3h-1.3zM134.3 1764.6h1.3v38.3h-1.3zM150.6 1764.6h1.3v38.3h-1.3zM160.6 1764.6h1.3v38.3h-1.3zM170.7 1764.6h1.3v38.3h-1.3zM183.2 1764.6h1.3v38.3h-1.3zM186.9 1764.6h2.6v38.3h-2.6zM191.9 1764.6h2.6v38.3h-2.6zM197 1764.6h1.3v38.3h-1.3zM202 1764.6h2.6v38.3h-2.6zM205.7 1764.6h1.3v38.3h-1.3zM217 1764.6h2.6v38.3h-2.6zM228.3 1764.6h1.3v38.3h-1.3zM247.1 1764.6h1.3v38.3h-1.3zM268.3 1764.6h1.3v38.3h-1.3zM270.9 1764.6h2.6v38.3h-2.6zM278.4 1764.6h1.3v38.3h-1.3zM284.6 1764.6h1.3v38.3h-1.3zM302.2 1764.6h1.3v38.3h-1.3zM308.4 1764.6h1.3v38.3h-1.3zM314.7 1764.6h1.3v38.3h-1.3zM318.4 1764.6h1.3v38.3h-1.3zM331 1764.6h1.3v38.3h-1.3zM336 1764.6h1.3v38.3h-1.3zM344.8 1764.6h1.3v38.3h-1.3zM348.5 1764.6h1.3v38.3h-1.3zM353.5 1764.6h1.3v38.3h-1.3zM356 1764.6h1.3v38.3h-1.3zM372.3 1764.6h1.3v38.3h-1.3zM382.3 1764.6h1.3v38.3h-1.3zM389.8 1764.6h1.3v38.3h-1.3zM393.6 1764.6h1.3v38.3h-1.3zM396.1 1764.6h5.1v38.3h-5.1zM406.1 1764.6h1.3v38.3h-1.3zM408.6 1764.6h1.3v38.3h-1.3zM412.4 1764.6h1.3v38.3h-1.3zM416.1 1764.6h1.3v38.3h-1.3zM418.6 1764.6h1.3v38.3h-1.3zM20.4 1802.9h1.3v38.3h-1.3zM41.6 1802.9h1.3v38.3h-1.3zM50.4 1802.9h1.3v38.3h-1.3zM54.2 1802.9h1.3v38.3h-1.3zM56.7 1802.9h1.3v38.3h-1.3zM59.2 1802.9h2.6v38.3h-2.6zM70.5 1802.9h1.3v38.3h-1.3zM80.5 1802.9h1.3v38.3h-1.3zM99.3 1802.9h1.3v38.3h-1.3zM103 1802.9h1.3v38.3h-1.3zM105.5 1802.9h1.3v38.3h-1.3zM108 1802.9h1.3v38.3h-1.3zM115.5 1802.9h1.3v38.3h-1.3zM123.1 1802.9h1.3v38.3h-1.3zM129.3 1802.9h1.3v38.3h-1.3zM144.4 1802.9h1.3v38.3h-1.3zM148.1 1802.9h3.8v38.3h-3.8zM155.6 1802.9h1.3v38.3h-1.3zM159.4 1802.9h1.3v38.3h-1.3zM163.1 1802.9h1.3v38.3h-1.3zM166.9 1802.9h1.3v38.3h-1.3zM179.4 1802.9h1.3v38.3h-1.3zM181.9 1802.9h1.3v38.3h-1.3zM198.2 1802.9h2.6v38.3h-2.6zM202 1802.9h1.3v38.3h-1.3zM204.5 1802.9h3.8v38.3h-3.8zM219.5 1802.9h1.3v38.3h-1.3zM223.3 1802.9h1.3v38.3h-1.3zM225.8 1802.9h1.3v38.3h-1.3zM233.3 1802.9h1.3v38.3h-1.3zM239.5 1802.9h1.3v38.3h-1.3zM245.8 1802.9h2.6v38.3h-2.6zM253.3 1802.9h1.3v38.3h-1.3zM259.6 1802.9h1.3v38.3h-1.3zM277.1 1802.9h1.3v38.3h-1.3zM283.4 1802.9h1.3v38.3h-1.3zM297.2 1802.9h1.3v38.3h-1.3zM302.2 1802.9h1.3v38.3h-1.3zM304.7 1802.9h1.3v38.3h-1.3zM307.2 1802.9h1.3v38.3h-1.3zM317.2 1802.9h1.3v38.3h-1.3zM319.7 1802.9h1.3v38.3h-1.3zM329.7 1802.9h5.1v38.3h-5.1zM337.2 1802.9h2.6v38.3h-2.6zM341 1802.9h1.3v38.3h-1.3zM354.8 1802.9h1.3v38.3h-1.3zM358.5 1802.9h1.3v38.3h-1.3zM364.8 1802.9h1.3v38.3h-1.3zM369.8 1802.9h1.3v38.3h-1.3zM372.3 1802.9h1.3v38.3h-1.3zM379.8 1802.9h1.3v38.3h-1.3zM383.6 1802.9h1.3v38.3h-1.3zM387.3 1802.9h1.3v38.3h-1.3zM389.8 1802.9h3.8v38.3h-3.8zM409.9 1802.9h3.8v38.3h-3.8zM416.1 1802.9h1.3v38.3h-1.3zM62.9 1841.1h1.3v38.3h-1.3zM78 1841.1h1.3v38.3h-1.3zM95.5 1841.1h2.6v38.3h-2.6zM111.8 1841.1h1.3v38.3h-1.3zM134.3 1841.1h1.3v38.3h-1.3zM164.4 1841.1h1.3v38.3h-1.3zM181.9 1841.1h1.3v38.3h-1.3zM193.2 1841.1h1.3v38.3h-1.3zM198.2 1841.1h2.6v38.3h-2.6zM202 1841.1h1.3v38.3h-1.3zM210.7 1841.1h1.3v38.3h-1.3zM214.5 1841.1h1.3v38.3h-1.3zM222 1841.1h1.3v38.3h-1.3zM229.5 1841.1h1.3v38.3h-1.3zM245.8 1841.1h2.6v38.3h-2.6zM249.6 1841.1h1.3v38.3h-1.3zM258.3 1841.1h1.3v38.3h-1.3zM260.8 1841.1h1.3v38.3h-1.3zM268.3 1841.1h3.8v38.3h-3.8zM273.4 1841.1h1.3v38.3h-1.3zM275.9 1841.1h1.3v38.3h-1.3zM282.1 1841.1h1.3v38.3h-1.3zM298.4 1841.1h1.3v38.3h-1.3zM300.9 1841.1h1.3v38.3h-1.3zM331 1841.1h1.3v38.3h-1.3zM341 1841.1h1.3v38.3h-1.3zM358.5 1841.1h1.3v38.3h-1.3zM376.1 1841.1h1.3v38.3h-1.3zM397.4 1841.1h1.3v38.3h-1.3zM403.6 1841.1h1.3v38.3h-1.3zM17.9 1879.4h1.3v38.3h-1.3zM30.4 1879.4h5.1v38.3h-5.1zM36.6 1879.4h1.3v38.3h-1.3zM55.4 1879.4h1.3v38.3h-1.3zM61.7 1879.4h1.3v38.3h-1.3zM64.2 1879.4h1.3v38.3h-1.3zM70.5 1879.4h1.3v38.3h-1.3zM89.2 1879.4h2.6v38.3h-2.6zM100.5 1879.4h1.3v38.3h-1.3zM110.5 1879.4h2.6v38.3h-2.6zM115.5 1879.4h1.3v38.3h-1.3zM118.1 1879.4h1.3v38.3h-1.3zM128.1 1879.4h2.6v38.3h-2.6zM134.3 1879.4h2.6v38.3h-2.6zM139.3 1879.4h1.3v38.3h-1.3zM145.6 1879.4h1.3v38.3h-1.3zM151.9 1879.4h1.3v38.3h-1.3zM163.1 1879.4h1.3v38.3h-1.3zM169.4 1879.4h1.3v38.3h-1.3zM174.4 1879.4h3.8v38.3h-3.8zM181.9 1879.4h1.3v38.3h-1.3zM185.7 1879.4h2.6v38.3h-2.6zM199.5 1879.4h2.6v38.3h-2.6zM210.7 1879.4h1.3v38.3h-1.3zM217 1879.4h2.6v38.3h-2.6zM228.3 1879.4h1.3v38.3h-1.3zM238.3 1879.4h2.6v38.3h-2.6zM254.6 1879.4h1.3v38.3h-1.3zM257.1 1879.4h3.8v38.3h-3.8zM274.6 1879.4h1.3v38.3h-1.3zM279.6 1879.4h1.3v38.3h-1.3zM283.4 1879.4h2.6v38.3h-2.6zM292.1 1879.4h1.3v38.3h-1.3zM294.7 1879.4h5.1v38.3h-5.1zM305.9 1879.4h1.3v38.3h-1.3zM309.7 1879.4h1.3v38.3h-1.3zM313.4 1879.4h1.3v38.3h-1.3zM317.2 1879.4h1.3v38.3h-1.3zM324.7 1879.4h1.3v38.3h-1.3zM329.7 1879.4h1.3v38.3h-1.3zM332.2 1879.4h2.6v38.3h-2.6zM342.2 1879.4h1.3v38.3h-1.3zM347.3 1879.4h1.3v38.3h-1.3zM349.8 1879.4h1.3v38.3h-1.3zM353.5 1879.4h2.6v38.3h-2.6zM361 1879.4h2.6v38.3h-2.6zM368.5 1879.4h1.3v38.3h-1.3zM381.1 1879.4h2.6v38.3h-2.6zM387.3 1879.4h1.3v38.3h-1.3zM389.8 1879.4h1.3v38.3h-1.3zM402.4 1879.4h1.3v38.3h-1.3zM406.1 1879.4h2.6v38.3h-2.6zM413.6 1879.4h3.8v38.3h-3.8z"/>
<path fill="#1c280d" shape-rendering="crispEdges" d="M21.6 1535.2h1.3v38.3h-1.3zM24.1 1535.2h1.3v38.3h-1.3zM29.1 1535.2h1.3v38.3h-1.3zM47.9 1535.2h1.3v38.3h-1.3zM54.2 1535.2h1.3v38.3h-1.3zM56.7 1535.2h1.3v38.3h-1.3zM68 1535.2h1.3v38.3h-1.3zM76.7 1535.2h1.3v38.3h-1.3zM86.7 1535.2h1.3v38.3h-1.3zM89.2 1535.2h1.3v38.3h-1.3zM101.8 1535.2h2.6v38.3h-2.6zM105.5 1535.2h1.3v38.3h-1.3zM111.8 1535.2h2.6v38.3h-2.6zM118.1 1535.2h3.8v38.3h-3.8zM125.6 1535.2h1.3v38.3h-1.3zM133.1 1535.2h1.3v38.3h-1.3zM136.8 1535.2h1.3v38.3h-1.3zM139.3 1535.2h1.3v38.3h-1.3zM141.8 1535.2h1.3v38.3h-1.3zM151.9 1535.2h1.3v38.3h-1.3zM154.4 1535.2h3.8v38.3h-3.8zM170.7 1535.2h1.3v38.3h-1.3zM178.2 1535.2h1.3v38.3h-1.3zM181.9 1535.2h5.1v38.3h-5.1zM188.2 1535.2h1.3v38.3h-1.3zM190.7 1535.2h1.3v38.3h-1.3zM197 1535.2h1.3v38.3h-1.3zM203.2 1535.2h2.6v38.3h-2.6zM212 1535.2h1.3v38.3h-1.3zM227 1535.2h1.3v38.3h-1.3zM268.3 1535.2h1.3v38.3h-1.3zM413.6 1535.2h1.3v38.3h-1.3zM123.1 1573.4h1.3v38.3h-1.3zM166.9 1573.4h1.3v38.3h-1.3zM176.9 1573.4h1.3v38.3h-1.3zM215.7 1573.4h1.3v38.3h-1.3zM234.5 1573.4h1.3v38.3h-1.3zM239.5 1573.4h1.3v38.3h-1.3zM298.4 1573.4h1.3v38.3h-1.3zM315.9 1573.4h1.3v38.3h-1.3zM378.6 1573.4h1.3v38.3h-1.3zM403.6 1573.4h1.3v38.3h-1.3zM413.6 1573.4h1.3v38.3h-1.3zM34.1 1611.7h1.3v38.3h-1.3zM71.7 1611.7h1.3v38.3h-1.3zM128.1 1611.7h1.3v38.3h-1.3zM217 1611.7h1.3v38.3h-1.3zM228.3 1611.7h1.3v38.3h-1.3zM237 1611.7h1.3v38.3h-1.3zM273.4 1611.7h1.3v38.3h-1.3zM277.1 1611.7h1.3v38.3h-1.3zM287.1 1611.7h1.3v38.3h-1.3zM290.9 1611.7h1.3v38.3h-1.3zM305.9 1611.7h2.6v38.3h-2.6zM326 1611.7h1.3v38.3h-1.3zM334.7 1611.7h1.3v38.3h-1.3zM343.5 1611.7h1.3v38.3h-1.3zM356 1611.7h1.3v38.3h-1.3zM369.8 1611.7h5.1v38.3h-5.1zM376.1 1611.7h1.3v38.3h-1.3zM378.6 1611.7h2.6v38.3h-2.6zM391.1 1611.7h2.6v38.3h-2.6zM397.4 1611.7h1.3v38.3h-1.3zM399.9 1611.7h1.3v38.3h-1.3zM413.6 1611.7h3.8v38.3h-3.8zM21.6 1649.9h1.3v38.3h-1.3zM24.1 1649.9h1.3v38.3h-1.3zM31.6 1649.9h2.6v38.3h-2.6zM47.9 1649.9h1.3v38.3h-1.3zM52.9 1649.9h1.3v38.3h-1.3zM56.7 1649.9h1.3v38.3h-1.3zM69.2 1649.9h1.3v38.3h-1.3zM73 1649.9h2.6v38.3h-2.6zM79.2 1649.9h2.6v38.3h-2.6zM91.7 1649.9h2.6v38.3h-2.6zM101.8 1649.9h1.3v38.3h-1.3zM108 1649.9h1.3v38.3h-1.3zM116.8 1649.9h1.3v38.3h-1.3zM123.1 1649.9h1.3v38.3h-1.3zM126.8 1649.9h1.3v38.3h-1.3zM140.6 1649.9h1.3v38.3h-1.3zM148.1 1649.9h1.3v38.3h-1.3zM150.6 1649.9h1.3v38.3h-1.3zM155.6 1649.9h1.3v38.3h-1.3zM171.9 1649.9h1.3v38.3h-1.3zM202 1649.9h1.3v38.3h-1.3zM205.7 1649.9h1.3v38.3h-1.3zM220.8 1649.9h1.3v38.3h-1.3zM242 1649.9h1.3v38.3h-1.3zM260.8 1649.9h1.3v38.3h-1.3zM285.9 1649.9h1.3v38.3h-1.3zM305.9 1649.9h1.3v38.3h-1.3zM372.3 1649.9h1.3v38.3h-1.3zM416.1 1649.9h1.3v38.3h-1.3zM179.4 1688.2h1.3v38.3h-1.3zM212 1688.2h1.3v38.3h-1.3zM248.3 1688.2h1.3v38.3h-1.3zM273.4 1688.2h1.3v38.3h-1.3zM300.9 1688.2h1.3v38.3h-1.3zM304.7 1688.2h1.3v38.3h-1.3zM307.2 1688.2h1.3v38.3h-1.3zM313.4 1688.2h1.3v38.3h-1.3zM331 1688.2h1.3v38.3h-1.3zM334.7 1688.2h1.3v38.3h-1.3zM343.5 1688.2h1.3v38.3h-1.3zM351 1688.2h2.6v38.3h-2.6zM356 1688.2h1.3v38.3h-1.3zM359.8 1688.2h2.6v38.3h-2.6zM367.3 1688.2h1.3v38.3h-1.3zM369.8 1688.2h1.3v38.3h-1.3zM382.3 1688.2h1.3v38.3h-1.3zM387.3 1688.2h5.1v38.3h-5.1zM394.9 1688.2h1.3v38.3h-1.3zM397.4 1688.2h1.3v38.3h-1.3zM399.9 1688.2h2.6v38.3h-2.6zM406.1 1688.2h5.1v38.3h-5.1zM416.1 1688.2h1.3v38.3h-1.3zM121.8 1726.4h1.3v38.3h-1.3zM128.1 1726.4h1.3v38.3h-1.3zM159.4 1726.4h1.3v38.3h-1.3zM184.4 1726.4h1.3v38.3h-1.3zM220.8 1726.4h1.3v38.3h-1.3zM242 1726.4h1.3v38.3h-1.3zM264.6 1726.4h2.6v38.3h-2.6zM277.1 1726.4h1.3v38.3h-1.3zM284.6 1726.4h1.3v38.3h-1.3zM337.2 1726.4h1.3v38.3h-1.3zM352.3 1726.4h1.3v38.3h-1.3zM356 1726.4h1.3v38.3h-1.3zM362.3 1726.4h1.3v38.3h-1.3zM377.3 1726.4h1.3v38.3h-1.3zM381.1 1726.4h1.3v38.3h-1.3zM392.3 1726.4h1.3v38.3h-1.3zM399.9 1726.4h2.6v38.3h-2.6zM406.1 1726.4h1.3v38.3h-1.3zM414.9 1726.4h1.3v38.3h-1.3zM418.6 1726.4h1.3v38.3h-1.3zM16.6 1764.6h1.3v38.3h-1.3zM22.9 1764.6h1.3v38.3h-1.3zM29.1 1764.6h1.3v38.3h-1.3zM32.9 1764.6h1.3v38.3h-1.3zM41.6 1764.6h1.3v38.3h-1.3zM52.9 1764.6h1.3v38.3h-1.3zM55.4 1764.6h1.3v38.3h-1.3zM62.9 1764.6h1.3v38.3h-1.3zM65.4 1764.6h1.3v38.3h-1.3zM68 1764.6h3.8v38.3h-3.8zM76.7 1764.6h1.3v38.3h-1.3zM79.2 1764.6h2.6v38.3h-2.6zM88 1764.6h1.3v38.3h-1.3zM91.7 1764.6h1.3v38.3h-1.3zM98 1764.6h1.3v38.3h-1.3zM100.5 1764.6h3.8v38.3h-3.8zM110.5 1764.6h1.3v38.3h-1.3zM115.5 1764.6h2.6v38.3h-2.6zM120.6 1764.6h1.3v38.3h-1.3zM141.8 1764.6h2.6v38.3h-2.6zM146.9 1764.6h1.3v38.3h-1.3zM155.6 1764.6h1.3v38.3h-1.3zM165.6 1764.6h1.3v38.3h-1.3zM168.2 1764.6h1.3v38.3h-1.3zM174.4 1764.6h1.3v38.3h-1.3zM212 1764.6h1.3v38.3h-1.3zM219.5 1764.6h1.3v38.3h-1.3zM230.8 1764.6h1.3v38.3h-1.3zM234.5 1764.6h1.3v38.3h-1.3zM243.3 1764.6h1.3v38.3h-1.3zM249.6 1764.6h1.3v38.3h-1.3zM254.6 1764.6h1.3v38.3h-1.3zM280.9 1764.6h1.3v38.3h-1.3zM292.1 1764.6h1.3v38.3h-1.3zM298.4 1764.6h1.3v38.3h-1.3zM303.4 1764.6h1.3v38.3h-1.3zM312.2 1764.6h2.6v38.3h-2.6zM359.8 1764.6h1.3v38.3h-1.3zM374.8 1764.6h1.3v38.3h-1.3zM22.9 1802.9h1.3v38.3h-1.3zM110.5 1802.9h1.3v38.3h-1.3zM135.6 1802.9h1.3v38.3h-1.3zM183.2 1802.9h1.3v38.3h-1.3zM185.7 1802.9h1.3v38.3h-1.3zM190.7 1802.9h1.3v38.3h-1.3zM288.4 1802.9h1.3v38.3h-1.3zM324.7 1802.9h1.3v38.3h-1.3zM352.3 1802.9h1.3v38.3h-1.3zM361 1802.9h1.3v38.3h-1.3zM401.1 1802.9h1.3v38.3h-1.3zM20.4 1841.1h1.3v38.3h-1.3zM42.9 1841.1h1.3v38.3h-1.3zM45.4 1841.1h1.3v38.3h-1.3zM47.9 1841.1h1.3v38.3h-1.3zM50.4 1841.1h1.3v38.3h-1.3zM52.9 1841.1h2.6v38.3h-2.6zM57.9 1841.1h1.3v38.3h-1.3zM60.4 1841.1h1.3v38.3h-1.3zM64.2 1841.1h1.3v38.3h-1.3zM73 1841.1h3.8v38.3h-3.8zM81.7 1841.1h1.3v38.3h-1.3zM85.5 1841.1h1.3v38.3h-1.3zM91.7 1841.1h1.3v38.3h-1.3zM105.5 1841.1h2.6v38.3h-2.6zM118.1 1841.1h1.3v38.3h-1.3zM133.1 1841.1h1.3v38.3h-1.3zM138.1 1841.1h2.6v38.3h-2.6zM145.6 1841.1h1.3v38.3h-1.3zM150.6 1841.1h1.3v38.3h-1.3zM158.1 1841.1h1.3v38.3h-1.3zM173.2 1841.1h2.6v38.3h-2.6zM230.8 1841.1h1.3v38.3h-1.3zM239.5 1841.1h1.3v38.3h-1.3zM362.3 1841.1h1.3v38.3h-1.3zM19.1 1879.4h1.3v38.3h-1.3zM25.4 1879.4h5.1v38.3h-5.1zM59.2 1879.4h1.3v38.3h-1.3zM62.9 1879.4h1.3v38.3h-1.3zM76.7 1879.4h1.3v38.3h-1.3zM80.5 1879.4h1.3v38.3h-1.3zM91.7 1879.4h1.3v38.3h-1.3zM106.8 1879.4h1.3v38.3h-1.3zM116.8 1879.4h1.3v38.3h-1.3zM171.9 1879.4h1.3v38.3h-1.3zM197 1879.4h1.3v38.3h-1.3zM399.9 1879.4h1.3v38.3h-1.3z"/>
<path fill="#350e08" shape-rendering="crispEdges" d="M22.9 1535.2h1.3v38.3h-1.3zM124.3 1535.2h1.3v38.3h-1.3zM179.4 1535.2h1.3v38.3h-1.3zM218.2 1535.2h1.3v38.3h-1.3zM272.1 1535.2h1.3v38.3h-1.3zM317.2 1535.2h1.3v38.3h-1.3zM319.7 1535.2h1.3v38.3h-1.3zM324.7 1535.2h1.3v38.3h-1.3zM327.2 1535.2h1.3v38.3h-1.3zM347.3 1535.2h1.3v38.3h-1.3zM351 1535.2h1.3v38.3h-1.3zM358.5 1535.2h1.3v38.3h-1.3zM371.1 1535.2h2.6v38.3h-2.6zM376.1 1535.2h1.3v38.3h-1.3zM378.6 1535.2h1.3v38.3h-1.3zM382.3 1535.2h1.3v38.3h-1.3zM391.1 1535.2h3.8v38.3h-3.8zM402.4 1535.2h1.3v38.3h-1.3zM408.6 1535.2h1.3v38.3h-1.3zM44.2 1573.4h1.3v38.3h-1.3zM73 1573.4h1.3v38.3h-1.3zM84.2 1573.4h1.3v38.3h-1.3zM93 1573.4h1.3v38.3h-1.3zM134.3 1573.4h1.3v38.3h-1.3zM161.9 1573.4h1.3v38.3h-1.3zM212 1573.4h1.3v38.3h-1.3zM232 1573.4h1.3v38.3h-1.3zM323.5 1573.4h1.3v38.3h-1.3zM411.1 1573.4h1.3v38.3h-1.3zM24.1 1611.7h1.3v38.3h-1.3zM45.4 1611.7h1.3v38.3h-1.3zM54.2 1611.7h1.3v38.3h-1.3zM81.7 1611.7h1.3v38.3h-1.3zM93 1611.7h1.3v38.3h-1.3zM168.2 1611.7h1.3v38.3h-1.3zM262.1 1611.7h1.3v38.3h-1.3zM295.9 1611.7h1.3v38.3h-1.3zM318.4 1611.7h1.3v38.3h-1.3zM83 1649.9h1.3v38.3h-1.3zM240.8 1649.9h1.3v38.3h-1.3zM279.6 1649.9h1.3v38.3h-1.3zM394.9 1649.9h1.3v38.3h-1.3zM17.9 1688.2h1.3v38.3h-1.3zM31.6 1688.2h1.3v38.3h-1.3zM35.4 1688.2h1.3v38.3h-1.3zM40.4 1688.2h1.3v38.3h-1.3zM49.2 1688.2h1.3v38.3h-1.3zM80.5 1688.2h1.3v38.3h-1.3zM98 1688.2h1.3v38.3h-1.3zM125.6 1688.2h1.3v38.3h-1.3zM151.9 1688.2h1.3v38.3h-1.3zM204.5 1688.2h1.3v38.3h-1.3zM315.9 1688.2h1.3v38.3h-1.3zM32.9 1726.4h1.3v38.3h-1.3zM66.7 1726.4h1.3v38.3h-1.3zM114.3 1726.4h1.3v38.3h-1.3zM396.1 1726.4h1.3v38.3h-1.3zM27.9 1764.6h1.3v38.3h-1.3zM85.5 1764.6h1.3v38.3h-1.3zM131.8 1764.6h1.3v38.3h-1.3zM259.6 1764.6h1.3v38.3h-1.3zM88 1802.9h1.3v38.3h-1.3zM374.8 1802.9h1.3v38.3h-1.3zM377.3 1802.9h1.3v38.3h-1.3zM382.3 1802.9h1.3v38.3h-1.3zM402.4 1802.9h1.3v38.3h-1.3zM203.2 1841.1h1.3v38.3h-1.3zM257.1 1841.1h1.3v38.3h-1.3zM293.4 1841.1h1.3v38.3h-1.3zM328.5 1841.1h1.3v38.3h-1.3zM332.2 1841.1h1.3v38.3h-1.3zM351 1841.1h1.3v38.3h-1.3zM364.8 1841.1h1.3v38.3h-1.3zM384.8 1841.1h1.3v38.3h-1.3zM399.9 1841.1h1.3v38.3h-1.3zM406.1 1841.1h1.3v38.3h-1.3zM51.7 1879.4h1.3v38.3h-1.3zM149.4 1879.4h1.3v38.3h-1.3zM343.5 1879.4h1.3v38.3h-1.3zM359.8 1879.4h1.3v38.3h-1.3zM366 1879.4h1.3v38.3h-1.3zM418.6 1879.4h1.3v38.3h-1.3z"/>
<path fill="#202f0e" shape-rendering="crispEdges" d="M26.6 1535.2h2.6v38.3h-2.6zM30.4 1535.2h1.3v38.3h-1.3zM39.1 1535.2h1.3v38.3h-1.3zM45.4 1535.2h2.6v38.3h-2.6zM50.4 1535.2h1.3v38.3h-1.3zM52.9 1535.2h1.3v38.3h-1.3zM60.4 1535.2h2.6v38.3h-2.6zM75.5 1535.2h1.3v38.3h-1.3zM88 1535.2h1.3v38.3h-1.3zM90.5 1535.2h1.3v38.3h-1.3zM96.8 1535.2h2.6v38.3h-2.6zM100.5 1535.2h1.3v38.3h-1.3zM106.8 1535.2h1.3v38.3h-1.3zM109.3 1535.2h1.3v38.3h-1.3zM121.8 1535.2h1.3v38.3h-1.3zM126.8 1535.2h1.3v38.3h-1.3zM144.4 1535.2h1.3v38.3h-1.3zM158.1 1535.2h1.3v38.3h-1.3zM163.1 1535.2h2.6v38.3h-2.6zM168.2 1535.2h1.3v38.3h-1.3zM175.7 1535.2h1.3v38.3h-1.3zM191.9 1535.2h1.3v38.3h-1.3zM194.5 1535.2h1.3v38.3h-1.3zM198.2 1535.2h1.3v38.3h-1.3zM202 1535.2h1.3v38.3h-1.3zM205.7 1535.2h2.6v38.3h-2.6zM213.2 1535.2h2.6v38.3h-2.6zM328.5 1535.2h1.3v38.3h-1.3zM361 1535.2h1.3v38.3h-1.3zM398.6 1535.2h1.3v38.3h-1.3zM260.8 1573.4h1.3v38.3h-1.3zM399.9 1573.4h1.3v38.3h-1.3zM408.6 1573.4h1.3v38.3h-1.3zM414.9 1573.4h1.3v38.3h-1.3zM110.5 1611.7h1.3v38.3h-1.3zM161.9 1611.7h1.3v38.3h-1.3zM249.6 1611.7h1.3v38.3h-1.3zM313.4 1611.7h1.3v38.3h-1.3zM324.7 1611.7h1.3v38.3h-1.3zM328.5 1611.7h1.3v38.3h-1.3zM347.3 1611.7h1.3v38.3h-1.3zM349.8 1611.7h1.3v38.3h-1.3zM366 1611.7h1.3v38.3h-1.3zM368.5 1611.7h1.3v38.3h-1.3zM381.1 1611.7h3.8v38.3h-3.8zM389.8 1611.7h1.3v38.3h-1.3zM396.1 1611.7h1.3v38.3h-1.3zM402.4 1611.7h2.6v38.3h-2.6zM408.6 1611.7h2.6v38.3h-2.6zM40.4 1649.9h1.3v38.3h-1.3zM44.2 1649.9h1.3v38.3h-1.3zM46.7 1649.9h1.3v38.3h-1.3zM71.7 1649.9h1.3v38.3h-1.3zM85.5 1649.9h1.3v38.3h-1.3zM88 1649.9h1.3v38.3h-1.3zM111.8 1649.9h1.3v38.3h-1.3zM135.6 1649.9h1.3v38.3h-1.3zM158.1 1649.9h1.3v38.3h-1.3zM164.4 1649.9h1.3v38.3h-1.3zM175.7 1649.9h1.3v38.3h-1.3zM180.7 1649.9h1.3v38.3h-1.3zM191.9 1649.9h1.3v38.3h-1.3zM194.5 1649.9h2.6v38.3h-2.6zM224.5 1649.9h1.3v38.3h-1.3zM252.1 1649.9h1.3v38.3h-1.3zM268.3 1649.9h1.3v38.3h-1.3zM148.1 1688.2h1.3v38.3h-1.3zM284.6 1688.2h1.3v38.3h-1.3zM321 1688.2h1.3v38.3h-1.3zM324.7 1688.2h2.6v38.3h-2.6zM346 1688.2h1.3v38.3h-1.3zM362.3 1688.2h2.6v38.3h-2.6zM384.8 1688.2h1.3v38.3h-1.3zM403.6 1688.2h1.3v38.3h-1.3zM413.6 1688.2h2.6v38.3h-2.6zM249.6 1726.4h1.3v38.3h-1.3zM274.6 1726.4h1.3v38.3h-1.3zM338.5 1726.4h1.3v38.3h-1.3zM347.3 1726.4h1.3v38.3h-1.3zM359.8 1726.4h1.3v38.3h-1.3zM388.6 1726.4h2.6v38.3h-2.6zM25.4 1764.6h1.3v38.3h-1.3zM39.1 1764.6h2.6v38.3h-2.6zM45.4 1764.6h1.3v38.3h-1.3zM54.2 1764.6h1.3v38.3h-1.3zM94.3 1764.6h2.6v38.3h-2.6zM104.3 1764.6h1.3v38.3h-1.3zM108 1764.6h1.3v38.3h-1.3zM114.3 1764.6h1.3v38.3h-1.3zM135.6 1764.6h1.3v38.3h-1.3zM148.1 1764.6h1.3v38.3h-1.3zM151.9 1764.6h1.3v38.3h-1.3zM158.1 1764.6h1.3v38.3h-1.3zM194.5 1764.6h1.3v38.3h-1.3zM214.5 1764.6h2.6v38.3h-2.6zM223.3 1764.6h1.3v38.3h-1.3zM233.3 1764.6h1.3v38.3h-1.3zM274.6 1764.6h1.3v38.3h-1.3zM66.7 1802.9h1.3v38.3h-1.3zM104.3 1802.9h1.3v38.3h-1.3zM114.3 1802.9h1.3v38.3h-1.3zM121.8 1802.9h1.3v38.3h-1.3zM188.2 1802.9h1.3v38.3h-1.3zM210.7 1802.9h1.3v38.3h-1.3zM280.9 1802.9h1.3v38.3h-1.3zM346 1802.9h1.3v38.3h-1.3zM381.1 1802.9h1.3v38.3h-1.3zM34.1 1841.1h1.3v38.3h-1.3zM46.7 1841.1h1.3v38.3h-1.3zM59.2 1841.1h1.3v38.3h-1.3zM61.7 1841.1h1.3v38.3h-1.3zM68 1841.1h1.3v38.3h-1.3zM70.5 1841.1h1.3v38.3h-1.3zM99.3 1841.1h3.8v38.3h-3.8zM120.6 1841.1h2.6v38.3h-2.6zM124.3 1841.1h1.3v38.3h-1.3zM151.9 1841.1h1.3v38.3h-1.3zM218.2 1841.1h1.3v38.3h-1.3zM305.9 1841.1h1.3v38.3h-1.3zM354.8 1841.1h1.3v38.3h-1.3zM74.2 1879.4h2.6v38.3h-2.6zM96.8 1879.4h1.3v38.3h-1.3zM156.9 1879.4h2.6v38.3h-2.6zM166.9 1879.4h1.3v38.3h-1.3zM396.1 1879.4h1.3v38.3h-1.3z"/>
<path fill="#233610" shape-rendering="crispEdges" d="M31.6 1535.2h1.3v38.3h-1.3zM34.1 1535.2h1.3v38.3h-1.3zM40.4 1535.2h1.3v38.3h-1.3zM99.3 1535.2h1.3v38.3h-1.3zM108 1535.2h1.3v38.3h-1.3zM128.1 1535.2h2.6v38.3h-2.6zM138.1 1535.2h1.3v38.3h-1.3zM180.7 1535.2h1.3v38.3h-1.3zM258.3 1535.2h1.3v38.3h-1.3zM121.8 1573.4h1.3v38.3h-1.3zM32.9 1611.7h1.3v38.3h-1.3zM164.4 1611.7h1.3v38.3h-1.3zM230.8 1611.7h1.3v38.3h-1.3zM260.8 1611.7h1.3v38.3h-1.3zM346 1611.7h1.3v38.3h-1.3zM352.3 1611.7h1.3v38.3h-1.3zM359.8 1611.7h1.3v38.3h-1.3zM364.8 1611.7h1.3v38.3h-1.3zM386.1 1611.7h1.3v38.3h-1.3zM388.6 1611.7h1.3v38.3h-1.3zM404.9 1611.7h1.3v38.3h-1.3zM411.1 1611.7h1.3v38.3h-1.3zM417.4 1611.7h1.3v38.3h-1.3zM86.7 1649.9h1.3v38.3h-1.3zM99.3 1649.9h1.3v38.3h-1.3zM119.3 1649.9h1.3v38.3h-1.3zM149.4 1649.9h1.3v38.3h-1.3zM242 1688.2h1.3v38.3h-1.3zM292.1 1688.2h1.3v38.3h-1.3zM295.9 1688.2h1.3v38.3h-1.3zM342.2 1688.2h1.3v38.3h-1.3zM357.3 1688.2h1.3v38.3h-1.3zM372.3 1688.2h1.3v38.3h-1.3zM396.1 1688.2h1.3v38.3h-1.3zM104.3 1726.4h1.3v38.3h-1.3zM193.2 1726.4h1.3v38.3h-1.3zM213.2 1726.4h1.3v38.3h-1.3zM255.8 1726.4h1.3v38.3h-1.3zM275.9 1726.4h1.3v38.3h-1.3zM292.1 1726.4h1.3v38.3h-1.3zM344.8 1726.4h1.3v38.3h-1.3zM49.2 1764.6h2.6v38.3h-2.6zM60.4 1764.6h1.3v38.3h-1.3zM159.4 1764.6h1.3v38.3h-1.3zM180.7 1764.6h1.3v38.3h-1.3zM189.4 1764.6h1.3v38.3h-1.3zM258.3 1764.6h1.3v38.3h-1.3zM269.6 1764.6h1.3v38.3h-1.3zM299.7 1802.9h1.3v38.3h-1.3zM16.6 1841.1h1.3v38.3h-1.3zM19.1 1841.1h1.3v38.3h-1.3zM22.9 1841.1h1.3v38.3h-1.3zM26.6 1841.1h1.3v38.3h-1.3zM35.4 1841.1h1.3v38.3h-1.3zM83 1841.1h1.3v38.3h-1.3zM113 1879.4h1.3v38.3h-1.3zM204.5 1879.4h1.3v38.3h-1.3zM249.6 1879.4h1.3v38.3h-1.3zM302.2 1879.4h1.3v38.3h-1.3zM337.2 1879.4h1.3v38.3h-1.3z"/>
<path fill="#2c0f08" shape-rendering="crispEdges" d="M36.6 1535.2h1.3v38.3h-1.3zM104.3 1535.2h1.3v38.3h-1.3zM116.8 1535.2h1.3v38.3h-1.3zM149.4 1535.2h1.3v38.3h-1.3zM161.9 1535.2h1.3v38.3h-1.3zM225.8 1535.2h1.3v38.3h-1.3zM233.3 1535.2h1.3v38.3h-1.3zM239.5 1535.2h1.3v38.3h-1.3zM265.8 1535.2h1.3v38.3h-1.3zM285.9 1535.2h1.3v38.3h-1.3zM309.7 1535.2h1.3v38.3h-1.3zM315.9 1535.2h1.3v38.3h-1.3zM318.4 1535.2h1.3v38.3h-1.3zM323.5 1535.2h1.3v38.3h-1.3zM326 1535.2h1.3v38.3h-1.3zM331 1535.2h1.3v38.3h-1.3zM336 1535.2h2.6v38.3h-2.6zM342.2 1535.2h3.8v38.3h-3.8zM349.8 1535.2h1.3v38.3h-1.3zM352.3 1535.2h1.3v38.3h-1.3zM362.3 1535.2h1.3v38.3h-1.3zM369.8 1535.2h1.3v38.3h-1.3zM373.6 1535.2h1.3v38.3h-1.3zM377.3 1535.2h1.3v38.3h-1.3zM379.8 1535.2h1.3v38.3h-1.3zM383.6 1535.2h1.3v38.3h-1.3zM394.9 1535.2h1.3v38.3h-1.3zM397.4 1535.2h1.3v38.3h-1.3zM399.9 1535.2h2.6v38.3h-2.6zM404.9 1535.2h1.3v38.3h-1.3zM416.1 1535.2h2.6v38.3h-2.6zM19.1 1573.4h1.3v38.3h-1.3zM29.1 1573.4h1.3v38.3h-1.3zM37.9 1573.4h1.3v38.3h-1.3zM41.6 1573.4h1.3v38.3h-1.3zM45.4 1573.4h1.3v38.3h-1.3zM47.9 1573.4h1.3v38.3h-1.3zM57.9 1573.4h1.3v38.3h-1.3zM64.2 1573.4h2.6v38.3h-2.6zM78 1573.4h1.3v38.3h-1.3zM100.5 1573.4h1.3v38.3h-1.3zM106.8 1573.4h1.3v38.3h-1.3zM183.2 1573.4h1.3v38.3h-1.3zM186.9 1573.4h1.3v38.3h-1.3zM189.4 1573.4h1.3v38.3h-1.3zM208.2 1573.4h1.3v38.3h-1.3zM381.1 1573.4h1.3v38.3h-1.3zM17.9 1611.7h3.8v38.3h-3.8zM26.6 1611.7h3.8v38.3h-3.8zM31.6 1611.7h1.3v38.3h-1.3zM35.4 1611.7h1.3v38.3h-1.3zM37.9 1611.7h2.6v38.3h-2.6zM44.2 1611.7h1.3v38.3h-1.3zM47.9 1611.7h1.3v38.3h-1.3zM68 1611.7h1.3v38.3h-1.3zM76.7 1611.7h1.3v38.3h-1.3zM89.2 1611.7h1.3v38.3h-1.3zM106.8 1611.7h2.6v38.3h-2.6zM115.5 1611.7h1.3v38.3h-1.3zM153.1 1611.7h1.3v38.3h-1.3zM165.6 1611.7h1.3v38.3h-1.3zM180.7 1611.7h1.3v38.3h-1.3zM195.7 1611.7h1.3v38.3h-1.3zM204.5 1611.7h1.3v38.3h-1.3zM218.2 1611.7h1.3v38.3h-1.3zM287.1 1649.9h1.3v38.3h-1.3zM293.4 1649.9h1.3v38.3h-1.3zM328.5 1649.9h1.3v38.3h-1.3zM19.1 1688.2h1.3v38.3h-1.3zM21.6 1688.2h1.3v38.3h-1.3zM25.4 1688.2h1.3v38.3h-1.3zM47.9 1688.2h1.3v38.3h-1.3zM57.9 1688.2h1.3v38.3h-1.3zM71.7 1688.2h1.3v38.3h-1.3zM89.2 1688.2h1.3v38.3h-1.3zM94.3 1688.2h3.8v38.3h-3.8zM100.5 1688.2h2.6v38.3h-2.6zM143.1 1688.2h1.3v38.3h-1.3zM268.3 1688.2h1.3v38.3h-1.3zM308.4 1688.2h1.3v38.3h-1.3zM349.8 1688.2h1.3v38.3h-1.3zM379.8 1688.2h1.3v38.3h-1.3zM29.1 1726.4h1.3v38.3h-1.3zM37.9 1726.4h1.3v38.3h-1.3zM46.7 1726.4h2.6v38.3h-2.6zM56.7 1726.4h1.3v38.3h-1.3zM96.8 1726.4h1.3v38.3h-1.3zM110.5 1726.4h1.3v38.3h-1.3zM118.1 1726.4h1.3v38.3h-1.3zM163.1 1726.4h1.3v38.3h-1.3zM219.5 1726.4h1.3v38.3h-1.3zM307.2 1726.4h1.3v38.3h-1.3zM334.7 1726.4h1.3v38.3h-1.3zM245.8 1764.6h1.3v38.3h-1.3zM351 1764.6h1.3v38.3h-1.3zM27.9 1802.9h1.3v38.3h-1.3zM39.1 1802.9h2.6v38.3h-2.6zM51.7 1802.9h2.6v38.3h-2.6zM71.7 1802.9h1.3v38.3h-1.3zM86.7 1802.9h1.3v38.3h-1.3zM143.1 1802.9h1.3v38.3h-1.3zM146.9 1802.9h1.3v38.3h-1.3zM165.6 1802.9h1.3v38.3h-1.3zM274.6 1802.9h1.3v38.3h-1.3zM313.4 1802.9h1.3v38.3h-1.3zM353.5 1802.9h1.3v38.3h-1.3zM359.8 1802.9h1.3v38.3h-1.3zM41.6 1841.1h1.3v38.3h-1.3zM170.7 1841.1h1.3v38.3h-1.3zM175.7 1841.1h1.3v38.3h-1.3zM219.5 1841.1h1.3v38.3h-1.3zM264.6 1841.1h1.3v38.3h-1.3zM279.6 1841.1h1.3v38.3h-1.3zM307.2 1841.1h1.3v38.3h-1.3zM315.9 1841.1h1.3v38.3h-1.3zM323.5 1841.1h2.6v38.3h-2.6zM329.7 1841.1h1.3v38.3h-1.3zM347.3 1841.1h1.3v38.3h-1.3zM368.5 1841.1h1.3v38.3h-1.3zM371.1 1841.1h1.3v38.3h-1.3zM373.6 1841.1h1.3v38.3h-1.3zM379.8 1841.1h1.3v38.3h-1.3zM391.1 1841.1h1.3v38.3h-1.3zM396.1 1841.1h1.3v38.3h-1.3zM409.9 1841.1h1.3v38.3h-1.3zM417.4 1841.1h2.6v38.3h-2.6zM165.6 1879.4h1.3v38.3h-1.3zM179.4 1879.4h1.3v38.3h-1.3zM219.5 1879.4h2.6v38.3h-2.6zM244.6 1879.4h1.3v38.3h-1.3zM287.1 1879.4h1.3v38.3h-1.3zM293.4 1879.4h1.3v38.3h-1.3zM304.7 1879.4h1.3v38.3h-1.3zM308.4 1879.4h1.3v38.3h-1.3zM310.9 1879.4h1.3v38.3h-1.3zM352.3 1879.4h1.3v38.3h-1.3zM367.3 1879.4h1.3v38.3h-1.3zM371.1 1879.4h1.3v38.3h-1.3zM378.6 1879.4h1.3v38.3h-1.3zM391.1 1879.4h1.3v38.3h-1.3zM398.6 1879.4h1.3v38.3h-1.3zM401.1 1879.4h1.3v38.3h-1.3z"/>
<path fill="#315215" shape-rendering="crispEdges" d="M64.2 1535.2h1.3v38.3h-1.3zM69.2 1535.2h1.3v38.3h-1.3zM173.2 1535.2h1.3v38.3h-1.3zM341 1611.7h1.3v38.3h-1.3zM327.2 1688.2h1.3v38.3h-1.3zM403.6 1726.4h1.3v38.3h-1.3zM260.8 1802.9h1.3v38.3h-1.3zM69.2 1841.1h1.3v38.3h-1.3zM131.8 1841.1h1.3v38.3h-1.3zM170.7 1879.4h1.3v38.3h-1.3z"/>
<path fill="#2a4412" shape-rendering="crispEdges" d="M70.5 1535.2h1.3v38.3h-1.3zM84.2 1535.2h1.3v38.3h-1.3zM165.6 1535.2h1.3v38.3h-1.3zM217 1535.2h1.3v38.3h-1.3zM407.4 1573.4h1.3v38.3h-1.3zM80.5 1611.7h1.3v38.3h-1.3zM151.9 1611.7h1.3v38.3h-1.3zM242 1611.7h1.3v38.3h-1.3zM78 1649.9h1.3v38.3h-1.3zM223.3 1649.9h1.3v38.3h-1.3zM392.3 1688.2h1.3v38.3h-1.3zM348.5 1726.4h1.3v38.3h-1.3zM411.1 1726.4h1.3v38.3h-1.3zM26.6 1764.6h1.3v38.3h-1.3zM78 1764.6h1.3v38.3h-1.3zM128.1 1764.6h1.3v38.3h-1.3zM199.5 1764.6h1.3v38.3h-1.3zM413.6 1802.9h1.3v38.3h-1.3zM17.9 1841.1h1.3v38.3h-1.3zM25.4 1841.1h1.3v38.3h-1.3zM27.9 1841.1h1.3v38.3h-1.3zM39.1 1841.1h1.3v38.3h-1.3zM119.3 1841.1h1.3v38.3h-1.3zM123.1 1841.1h1.3v38.3h-1.3zM217 1841.1h1.3v38.3h-1.3zM238.3 1841.1h1.3v38.3h-1.3zM203.2 1879.4h1.3v38.3h-1.3zM205.7 1879.4h1.3v38.3h-1.3zM240.8 1879.4h1.3v38.3h-1.3z"/>
<path fill="#273d11" shape-rendering="crispEdges" d="M79.2 1535.2h1.3v38.3h-1.3zM95.5 1535.2h1.3v38.3h-1.3zM143.1 1535.2h1.3v38.3h-1.3zM160.6 1535.2h1.3v38.3h-1.3zM209.5 1535.2h1.3v38.3h-1.3zM290.9 1535.2h1.3v38.3h-1.3zM113 1573.4h1.3v38.3h-1.3zM288.4 1573.4h1.3v38.3h-1.3zM344.8 1573.4h1.3v38.3h-1.3zM61.7 1611.7h1.3v38.3h-1.3zM156.9 1611.7h1.3v38.3h-1.3zM193.2 1611.7h1.3v38.3h-1.3zM317.2 1611.7h1.3v38.3h-1.3zM418.6 1611.7h1.3v38.3h-1.3zM50.4 1649.9h1.3v38.3h-1.3zM124.3 1649.9h1.3v38.3h-1.3zM144.4 1649.9h1.3v38.3h-1.3zM229.5 1649.9h1.3v38.3h-1.3zM303.4 1649.9h1.3v38.3h-1.3zM336 1649.9h1.3v38.3h-1.3zM52.9 1726.4h1.3v38.3h-1.3zM109.3 1726.4h1.3v38.3h-1.3zM197 1726.4h1.3v38.3h-1.3zM341 1726.4h1.3v38.3h-1.3zM24.1 1764.6h1.3v38.3h-1.3zM36.6 1764.6h1.3v38.3h-1.3zM90.5 1764.6h1.3v38.3h-1.3zM105.5 1764.6h1.3v38.3h-1.3zM387.3 1764.6h1.3v38.3h-1.3zM151.9 1802.9h1.3v38.3h-1.3zM158.1 1802.9h1.3v38.3h-1.3zM24.1 1841.1h1.3v38.3h-1.3zM29.1 1841.1h2.6v38.3h-2.6zM32.9 1841.1h1.3v38.3h-1.3zM36.6 1841.1h1.3v38.3h-1.3zM94.3 1841.1h1.3v38.3h-1.3zM103 1841.1h1.3v38.3h-1.3zM143.1 1841.1h1.3v38.3h-1.3zM205.7 1841.1h1.3v38.3h-1.3zM334.7 1841.1h1.3v38.3h-1.3zM109.3 1879.4h1.3v38.3h-1.3zM183.2 1879.4h1.3v38.3h-1.3zM245.8 1879.4h1.3v38.3h-1.3zM346 1879.4h1.3v38.3h-1.3z"/>
<path fill="#355917" shape-rendering="crispEdges" d="M159.4 1535.2h1.3v38.3h-1.3zM168.2 1649.9h1.3v38.3h-1.3zM387.3 1726.4h1.3v38.3h-1.3zM21.6 1841.1h1.3v38.3h-1.3zM21.6 1879.4h1.3v38.3h-1.3z"/>
<path fill="#3d0e08" shape-rendering="crispEdges" d="M193.2 1535.2h1.3v38.3h-1.3zM278.4 1535.2h1.3v38.3h-1.3zM292.1 1535.2h1.3v38.3h-1.3zM333.5 1535.2h1.3v38.3h-1.3zM354.8 1535.2h1.3v38.3h-1.3zM367.3 1535.2h2.6v38.3h-2.6zM381.1 1535.2h1.3v38.3h-1.3zM388.6 1535.2h1.3v38.3h-1.3zM403.6 1535.2h1.3v38.3h-1.3zM36.6 1573.4h1.3v38.3h-1.3zM61.7 1573.4h1.3v38.3h-1.3zM347.3 1573.4h1.3v38.3h-1.3zM30.4 1611.7h1.3v38.3h-1.3zM36.6 1611.7h1.3v38.3h-1.3zM41.6 1611.7h1.3v38.3h-1.3zM55.4 1611.7h1.3v38.3h-1.3zM140.6 1611.7h1.3v38.3h-1.3zM245.8 1611.7h1.3v38.3h-1.3zM339.7 1611.7h1.3v38.3h-1.3zM362.3 1611.7h1.3v38.3h-1.3zM160.6 1649.9h1.3v38.3h-1.3zM277.1 1649.9h1.3v38.3h-1.3zM391.1 1649.9h1.3v38.3h-1.3zM396.1 1649.9h1.3v38.3h-1.3zM37.9 1688.2h1.3v38.3h-1.3zM51.7 1688.2h1.3v38.3h-1.3zM120.6 1688.2h1.3v38.3h-1.3zM418.6 1688.2h1.3v38.3h-1.3zM39.1 1726.4h1.3v38.3h-1.3zM80.5 1726.4h1.3v38.3h-1.3zM289.6 1726.4h1.3v38.3h-1.3zM179.4 1764.6h1.3v38.3h-1.3zM65.4 1802.9h1.3v38.3h-1.3zM212 1802.9h1.3v38.3h-1.3zM305.9 1802.9h1.3v38.3h-1.3zM371.1 1802.9h1.3v38.3h-1.3zM399.9 1802.9h1.3v38.3h-1.3zM262.1 1841.1h1.3v38.3h-1.3zM303.4 1841.1h1.3v38.3h-1.3zM312.2 1841.1h1.3v38.3h-1.3zM79.2 1879.4h1.3v38.3h-1.3zM280.9 1879.4h1.3v38.3h-1.3z"/>
<path fill="#2e4b14" shape-rendering="crispEdges" d="M208.2 1535.2h1.3v38.3h-1.3zM139.3 1573.4h1.3v38.3h-1.3zM178.2 1573.4h1.3v38.3h-1.3zM314.7 1573.4h1.3v38.3h-1.3zM280.9 1611.7h1.3v38.3h-1.3zM336 1611.7h1.3v38.3h-1.3zM178.2 1649.9h1.3v38.3h-1.3zM259.6 1726.4h1.3v38.3h-1.3zM34.1 1764.6h1.3v38.3h-1.3zM31.6 1841.1h1.3v38.3h-1.3zM109.3 1841.1h1.3v38.3h-1.3zM208.2 1841.1h1.3v38.3h-1.3zM160.6 1879.4h1.3v38.3h-1.3z"/>
<path fill="#230f08" shape-rendering="crispEdges" d="M220.8 1535.2h1.3v38.3h-1.3zM237 1535.2h2.6v38.3h-2.6zM243.3 1535.2h2.6v38.3h-2.6zM252.1 1535.2h1.3v38.3h-1.3zM254.6 1535.2h1.3v38.3h-1.3zM260.8 1535.2h1.3v38.3h-1.3zM269.6 1535.2h1.3v38.3h-1.3zM277.1 1535.2h1.3v38.3h-1.3zM283.4 1535.2h1.3v38.3h-1.3zM289.6 1535.2h1.3v38.3h-1.3zM298.4 1535.2h1.3v38.3h-1.3zM302.2 1535.2h1.3v38.3h-1.3zM307.2 1535.2h1.3v38.3h-1.3zM329.7 1535.2h1.3v38.3h-1.3zM332.2 1535.2h1.3v38.3h-1.3zM334.7 1535.2h1.3v38.3h-1.3zM346 1535.2h1.3v38.3h-1.3zM348.5 1535.2h1.3v38.3h-1.3zM356 1535.2h1.3v38.3h-1.3zM364.8 1535.2h2.6v38.3h-2.6zM396.1 1535.2h1.3v38.3h-1.3zM411.1 1535.2h1.3v38.3h-1.3zM16.6 1573.4h2.6v38.3h-2.6zM22.9 1573.4h2.6v38.3h-2.6zM27.9 1573.4h1.3v38.3h-1.3zM30.4 1573.4h1.3v38.3h-1.3zM42.9 1573.4h1.3v38.3h-1.3zM50.4 1573.4h2.6v38.3h-2.6zM76.7 1573.4h1.3v38.3h-1.3zM80.5 1573.4h2.6v38.3h-2.6zM85.5 1573.4h1.3v38.3h-1.3zM88 1573.4h1.3v38.3h-1.3zM101.8 1573.4h2.6v38.3h-2.6zM109.3 1573.4h1.3v38.3h-1.3zM111.8 1573.4h1.3v38.3h-1.3zM118.1 1573.4h1.3v38.3h-1.3zM125.6 1573.4h2.6v38.3h-2.6zM129.3 1573.4h1.3v38.3h-1.3zM131.8 1573.4h2.6v38.3h-2.6zM135.6 1573.4h1.3v38.3h-1.3zM145.6 1573.4h2.6v38.3h-2.6zM149.4 1573.4h1.3v38.3h-1.3zM158.1 1573.4h1.3v38.3h-1.3zM163.1 1573.4h1.3v38.3h-1.3zM168.2 1573.4h3.8v38.3h-3.8zM180.7 1573.4h1.3v38.3h-1.3zM190.7 1573.4h1.3v38.3h-1.3zM193.2 1573.4h1.3v38.3h-1.3zM200.7 1573.4h1.3v38.3h-1.3zM203.2 1573.4h1.3v38.3h-1.3zM218.2 1573.4h1.3v38.3h-1.3zM223.3 1573.4h1.3v38.3h-1.3zM235.8 1573.4h1.3v38.3h-1.3zM254.6 1573.4h1.3v38.3h-1.3zM258.3 1573.4h1.3v38.3h-1.3zM268.3 1573.4h1.3v38.3h-1.3zM278.4 1573.4h1.3v38.3h-1.3zM290.9 1573.4h1.3v38.3h-1.3zM308.4 1573.4h1.3v38.3h-1.3zM328.5 1573.4h1.3v38.3h-1.3zM331 1573.4h1.3v38.3h-1.3zM391.1 1573.4h1.3v38.3h-1.3zM21.6 1611.7h2.6v38.3h-2.6zM25.4 1611.7h1.3v38.3h-1.3zM56.7 1611.7h2.6v38.3h-2.6zM60.4 1611.7h1.3v38.3h-1.3zM66.7 1611.7h1.3v38.3h-1.3zM73 1611.7h2.6v38.3h-2.6zM78 1611.7h1.3v38.3h-1.3zM85.5 1611.7h2.6v38.3h-2.6zM90.5 1611.7h2.6v38.3h-2.6zM100.5 1611.7h2.6v38.3h-2.6zM118.1 1611.7h2.6v38.3h-2.6zM130.6 1611.7h2.6v38.3h-2.6zM134.3 1611.7h2.6v38.3h-2.6zM155.6 1611.7h1.3v38.3h-1.3zM173.2 1611.7h1.3v38.3h-1.3zM175.7 1611.7h2.6v38.3h-2.6zM186.9 1611.7h1.3v38.3h-1.3zM197 1611.7h1.3v38.3h-1.3zM199.5 1611.7h1.3v38.3h-1.3zM209.5 1611.7h1.3v38.3h-1.3zM219.5 1611.7h2.6v38.3h-2.6zM254.6 1611.7h1.3v38.3h-1.3zM42.9 1649.9h1.3v38.3h-1.3zM121.8 1649.9h1.3v38.3h-1.3zM186.9 1649.9h1.3v38.3h-1.3zM244.6 1649.9h1.3v38.3h-1.3zM250.8 1649.9h1.3v38.3h-1.3zM259.6 1649.9h1.3v38.3h-1.3zM273.4 1649.9h1.3v38.3h-1.3zM312.2 1649.9h1.3v38.3h-1.3zM342.2 1649.9h1.3v38.3h-1.3zM357.3 1649.9h1.3v38.3h-1.3zM366 1649.9h2.6v38.3h-2.6zM371.1 1649.9h1.3v38.3h-1.3zM406.1 1649.9h1.3v38.3h-1.3zM20.4 1688.2h1.3v38.3h-1.3zM24.1 1688.2h1.3v38.3h-1.3zM26.6 1688.2h2.6v38.3h-2.6zM32.9 1688.2h2.6v38.3h-2.6zM46.7 1688.2h1.3v38.3h-1.3zM54.2 1688.2h1.3v38.3h-1.3zM59.2 1688.2h1.3v38.3h-1.3zM61.7 1688.2h1.3v38.3h-1.3zM69.2 1688.2h1.3v38.3h-1.3zM75.5 1688.2h1.3v38.3h-1.3zM84.2 1688.2h1.3v38.3h-1.3zM88 1688.2h1.3v38.3h-1.3zM90.5 1688.2h1.3v38.3h-1.3zM99.3 1688.2h1.3v38.3h-1.3zM103 1688.2h1.3v38.3h-1.3zM111.8 1688.2h2.6v38.3h-2.6zM121.8 1688.2h3.8v38.3h-3.8zM133.1 1688.2h1.3v38.3h-1.3zM149.4 1688.2h1.3v38.3h-1.3zM159.4 1688.2h1.3v38.3h-1.3zM161.9 1688.2h1.3v38.3h-1.3zM205.7 1688.2h1.3v38.3h-1.3zM210.7 1688.2h1.3v38.3h-1.3zM233.3 1688.2h1.3v38.3h-1.3zM239.5 1688.2h1.3v38.3h-1.3zM265.8 1688.2h1.3v38.3h-1.3zM290.9 1688.2h1.3v38.3h-1.3zM302.2 1688.2h1.3v38.3h-1.3zM328.5 1688.2h1.3v38.3h-1.3zM17.9 1726.4h1.3v38.3h-1.3zM25.4 1726.4h1.3v38.3h-1.3zM30.4 1726.4h1.3v38.3h-1.3zM35.4 1726.4h2.6v38.3h-2.6zM41.6 1726.4h1.3v38.3h-1.3zM44.2 1726.4h1.3v38.3h-1.3zM50.4 1726.4h1.3v38.3h-1.3zM73 1726.4h1.3v38.3h-1.3zM75.5 1726.4h1.3v38.3h-1.3zM84.2 1726.4h1.3v38.3h-1.3zM88 1726.4h1.3v38.3h-1.3zM99.3 1726.4h1.3v38.3h-1.3zM103 1726.4h1.3v38.3h-1.3zM116.8 1726.4h1.3v38.3h-1.3zM119.3 1726.4h2.6v38.3h-2.6zM138.1 1726.4h1.3v38.3h-1.3zM144.4 1726.4h1.3v38.3h-1.3zM146.9 1726.4h1.3v38.3h-1.3zM150.6 1726.4h1.3v38.3h-1.3zM208.2 1726.4h1.3v38.3h-1.3zM215.7 1726.4h1.3v38.3h-1.3zM229.5 1726.4h1.3v38.3h-1.3zM273.4 1726.4h1.3v38.3h-1.3zM285.9 1726.4h1.3v38.3h-1.3zM293.4 1726.4h1.3v38.3h-1.3zM51.7 1764.6h1.3v38.3h-1.3zM125.6 1764.6h1.3v38.3h-1.3zM136.8 1764.6h1.3v38.3h-1.3zM204.5 1764.6h1.3v38.3h-1.3zM289.6 1764.6h1.3v38.3h-1.3zM324.7 1764.6h1.3v38.3h-1.3zM338.5 1764.6h1.3v38.3h-1.3zM342.2 1764.6h1.3v38.3h-1.3zM349.8 1764.6h1.3v38.3h-1.3zM384.8 1764.6h1.3v38.3h-1.3zM407.4 1764.6h1.3v38.3h-1.3zM411.1 1764.6h1.3v38.3h-1.3zM68 1802.9h2.6v38.3h-2.6zM89.2 1802.9h2.6v38.3h-2.6zM106.8 1802.9h1.3v38.3h-1.3zM109.3 1802.9h1.3v38.3h-1.3zM131.8 1802.9h1.3v38.3h-1.3zM136.8 1802.9h1.3v38.3h-1.3zM139.3 1802.9h2.6v38.3h-2.6zM175.7 1802.9h1.3v38.3h-1.3zM180.7 1802.9h1.3v38.3h-1.3zM227 1802.9h1.3v38.3h-1.3zM242 1802.9h1.3v38.3h-1.3zM257.1 1802.9h1.3v38.3h-1.3zM264.6 1802.9h1.3v38.3h-1.3zM269.6 1802.9h1.3v38.3h-1.3zM282.1 1802.9h1.3v38.3h-1.3zM328.5 1802.9h1.3v38.3h-1.3zM339.7 1802.9h1.3v38.3h-1.3zM347.3 1802.9h1.3v38.3h-1.3zM398.6 1802.9h1.3v38.3h-1.3zM79.2 1841.1h1.3v38.3h-1.3zM185.7 1841.1h1.3v38.3h-1.3zM188.2 1841.1h1.3v38.3h-1.3zM212 1841.1h1.3v38.3h-1.3zM232 1841.1h1.3v38.3h-1.3zM242 1841.1h1.3v38.3h-1.3zM248.3 1841.1h1.3v38.3h-1.3zM250.8 1841.1h1.3v38.3h-1.3zM278.4 1841.1h1.3v38.3h-1.3zM285.9 1841.1h2.6v38.3h-2.6zM292.1 1841.1h1.3v38.3h-1.3zM317.2 1841.1h2.6v38.3h-2.6zM322.2 1841.1h1.3v38.3h-1.3zM327.2 1841.1h1.3v38.3h-1.3zM337.2 1841.1h1.3v38.3h-1.3zM342.2 1841.1h1.3v38.3h-1.3zM344.8 1841.1h1.3v38.3h-1.3zM349.8 1841.1h1.3v38.3h-1.3zM352.3 1841.1h1.3v38.3h-1.3zM361 1841.1h1.3v38.3h-1.3zM363.5 1841.1h1.3v38.3h-1.3zM366 1841.1h1.3v38.3h-1.3zM378.6 1841.1h1.3v38.3h-1.3zM387.3 1841.1h2.6v38.3h-2.6zM392.3 1841.1h1.3v38.3h-1.3zM407.4 1841.1h1.3v38.3h-1.3zM412.4 1841.1h5.1v38.3h-5.1zM35.4 1879.4h1.3v38.3h-1.3zM41.6 1879.4h1.3v38.3h-1.3zM54.2 1879.4h1.3v38.3h-1.3zM56.7 1879.4h1.3v38.3h-1.3zM105.5 1879.4h1.3v38.3h-1.3zM120.6 1879.4h2.6v38.3h-2.6zM242 1879.4h2.6v38.3h-2.6zM268.3 1879.4h1.3v38.3h-1.3zM270.9 1879.4h1.3v38.3h-1.3zM273.4 1879.4h1.3v38.3h-1.3zM277.1 1879.4h2.6v38.3h-2.6zM285.9 1879.4h1.3v38.3h-1.3zM289.6 1879.4h1.3v38.3h-1.3zM299.7 1879.4h1.3v38.3h-1.3zM307.2 1879.4h1.3v38.3h-1.3zM315.9 1879.4h1.3v38.3h-1.3zM322.2 1879.4h1.3v38.3h-1.3zM334.7 1879.4h1.3v38.3h-1.3zM339.7 1879.4h1.3v38.3h-1.3zM344.8 1879.4h1.3v38.3h-1.3zM363.5 1879.4h2.6v38.3h-2.6zM369.8 1879.4h1.3v38.3h-1.3zM373.6 1879.4h3.8v38.3h-3.8zM383.6 1879.4h1.3v38.3h-1.3zM386.1 1879.4h1.3v38.3h-1.3zM393.6 1879.4h1.3v38.3h-1.3zM403.6 1879.4h1.3v38.3h-1.3zM409.9 1879.4h1.3v38.3h-1.3zM417.4 1879.4h1.3v38.3h-1.3z"/>
<path fill="#460d08" shape-rendering="crispEdges" d="M264.6 1535.2h1.3v38.3h-1.3zM387.3 1535.2h1.3v38.3h-1.3zM407.4 1535.2h1.3v38.3h-1.3zM412.4 1535.2h1.3v38.3h-1.3zM120.6 1573.4h1.3v38.3h-1.3zM305.9 1573.4h1.3v38.3h-1.3zM16.6 1611.7h1.3v38.3h-1.3zM88 1611.7h1.3v38.3h-1.3zM121.8 1611.7h1.3v38.3h-1.3zM222 1649.9h1.3v38.3h-1.3zM243.3 1649.9h1.3v38.3h-1.3zM331 1649.9h1.3v38.3h-1.3zM314.7 1688.2h1.3v38.3h-1.3zM134.3 1726.4h1.3v38.3h-1.3zM113 1802.9h1.3v38.3h-1.3zM138.1 1802.9h1.3v38.3h-1.3zM194.5 1802.9h1.3v38.3h-1.3zM321 1802.9h1.3v38.3h-1.3zM327.2 1802.9h1.3v38.3h-1.3zM140.6 1841.1h1.3v38.3h-1.3zM374.8 1841.1h1.3v38.3h-1.3zM398.6 1841.1h1.3v38.3h-1.3zM209.5 1879.4h1.3v38.3h-1.3z"/>
<path fill="#4f0c08" shape-rendering="crispEdges" d="M297.2 1535.2h1.3v38.3h-1.3zM310.9 1535.2h1.3v38.3h-1.3zM406.1 1535.2h1.3v38.3h-1.3zM52.9 1573.4h1.3v38.3h-1.3zM114.3 1573.4h1.3v38.3h-1.3zM119.3 1573.4h1.3v38.3h-1.3zM128.1 1573.4h1.3v38.3h-1.3zM257.1 1573.4h1.3v38.3h-1.3zM259.6 1573.4h1.3v38.3h-1.3zM384.8 1573.4h1.3v38.3h-1.3zM169.4 1611.7h1.3v38.3h-1.3zM171.9 1611.7h1.3v38.3h-1.3zM176.9 1649.9h1.3v38.3h-1.3zM233.3 1649.9h1.3v38.3h-1.3zM45.4 1688.2h1.3v38.3h-1.3zM108 1688.2h1.3v38.3h-1.3zM176.9 1688.2h1.3v38.3h-1.3zM202 1726.4h1.3v38.3h-1.3zM318.4 1726.4h1.3v38.3h-1.3zM126.8 1802.9h1.3v38.3h-1.3zM273.4 1802.9h1.3v38.3h-1.3zM292.1 1802.9h1.3v38.3h-1.3zM197 1841.1h1.3v38.3h-1.3zM215.7 1841.1h1.3v38.3h-1.3zM233.3 1841.1h1.3v38.3h-1.3zM313.4 1841.1h1.3v38.3h-1.3zM369.8 1841.1h1.3v38.3h-1.3zM372.3 1841.1h1.3v38.3h-1.3zM411.1 1841.1h1.3v38.3h-1.3zM37.9 1879.4h1.3v38.3h-1.3zM212 1879.4h1.3v38.3h-1.3zM372.3 1879.4h1.3v38.3h-1.3z"/>
<path fill="#580c08" shape-rendering="crispEdges" d="M359.8 1535.2h1.3v38.3h-1.3zM68 1573.4h1.3v38.3h-1.3zM237 1573.4h1.3v38.3h-1.3zM145.6 1611.7h1.3v38.3h-1.3zM149.4 1611.7h1.3v38.3h-1.3zM194.5 1611.7h1.3v38.3h-1.3zM138.1 1649.9h1.3v38.3h-1.3zM247.1 1649.9h1.3v38.3h-1.3zM16.6 1688.2h1.3v38.3h-1.3zM74.2 1726.4h1.3v38.3h-1.3zM198.2 1764.6h1.3v38.3h-1.3zM191.9 1802.9h1.3v38.3h-1.3zM243.3 1841.1h1.3v38.3h-1.3zM42.9 1879.4h1.3v38.3h-1.3zM290.9 1879.4h1.3v38.3h-1.3z"/>
<path fill="#600b08" shape-rendering="crispEdges" d="M363.5 1535.2h1.3v38.3h-1.3zM164.4 1802.9h1.3v38.3h-1.3zM408.6 1841.1h1.3v38.3h-1.3zM379.8 1879.4h1.3v38.3h-1.3z"/>
<path fill="#386018" shape-rendering="crispEdges" d="M374.8 1611.7h1.3v38.3h-1.3z"/>
<path fill="#690b08" shape-rendering="crispEdges" d="M39.1 1688.2h1.3v38.3h-1.3zM381.1 1841.1h1.3v38.3h-1.3zM356 1879.4h1.3v38.3h-1.3z"/>
<path fill="#3f6e1b" shape-rendering="crispEdges" d="M37.9 1841.1h1.3v38.3h-1.3z"/>
<path fill="#3c6719" shape-rendering="crispEdges" d="M44.2 1841.1h1.3v38.3h-1.3z"/>
<text x="423.3" y="1535.1" text-anchor="start" font-size="13.2" fill="#1a1a1a" textLength="58" lengthAdjust="spacingAndGlyphs">Riskgroup</text>
<linearGradient id="gg" x1="0" x2="1" y1="0" y2="0"><stop offset="0" stop-color="#dd1111"/><stop offset="0.2" stop-color="#8a0a0a"/><stop offset="0.5" stop-color="#000000"/><stop offset="0.8" stop-color="#4a7a22"/><stop offset="1" stop-color="#90f040"/></linearGradient>
<rect x="58" y="1971.7" width="165.8" height="11.1" fill="url(#gg)"/>
<text x="99.6" y="1966.8" text-anchor="middle" font-size="13.2" fill="#1a1a1a" textLength="7" lengthAdjust="spacingAndGlyphs">5</text>
<text x="139.3" y="1966.8" text-anchor="middle" font-size="13.2" fill="#1a1a1a" textLength="7" lengthAdjust="spacingAndGlyphs">0</text>
<text x="184" y="1966.8" text-anchor="middle" font-size="13.2" fill="#1a1a1a" textLength="11.1" lengthAdjust="spacingAndGlyphs">-5</text>
<text x="293.1" y="1952.5" text-anchor="start" font-size="13.2" fill="#1a1a1a" textLength="58.5" lengthAdjust="spacingAndGlyphs">Riskgroup</text>
<rect x="295.6" y="1956.2" width="15.2" height="14.4" fill="#8ef03c"/>
<rect x="295.6" y="1970.6" width="15.2" height="14.9" fill="#d60c0c"/>
<text x="315.3" y="1967.9" text-anchor="start" font-size="13.2" fill="#1a1a1a" textLength="23.5" lengthAdjust="spacingAndGlyphs">Low</text>
<text x="315.3" y="1982.6" text-anchor="start" font-size="13.2" fill="#1a1a1a" textLength="27" lengthAdjust="spacingAndGlyphs">High</text>
<line x1="569.4" y1="890.3" x2="936.7" y2="530.9" stroke="#222" stroke-width="1.3" stroke-dasharray="3,2.6"/>
<path d="M583.1 877.3 L586.2 873.2 L587.2 861.1 L589.2 840.9 L594.2 836.9 L596.2 832.8 L599.3 818.7 L609.4 818.7 L611.4 812.7 L615.4 810.6 L618.5 800.5 L622.5 794.5 L626.5 788.4 L628.6 776.3 L644.7 776.3 L647.7 754.1 L652.8 752.1 L655.8 735.9 L661.9 731.9 L673 731.9 L675 724.8 L679 707.7 L683.1 689.5 L688.1 689.5 L689.1 672.3 L711.3 672.3 L713.3 667.3 L715.4 661.2 L719.4 654.2 L722.4 649.1 L732.5 649.1 L733.5 643.1 L735.6 638 L738.6 633 L739.6 626.9 L742.6 622.9 L747.7 617.8 L748.7 612.8 L760 612.8 L763.1 613.8 L783.3 613.8 L784.3 607.7 L795.4 607.7 L797.4 601.7 L804.5 596.6 L806.5 590.6 L817.6 589.6 L818.6 584.5 L825.7 584.5 L826.7 578.5 L833.8 578.5 L833.8 572.4 L842.9 572.4 L843.9 566.3 L845.9 560.3 L846.9 555.2 L877.2 555.2 L879.2 550.2 L884.3 549.2 L920.6 549.2 L921.6 545.1" fill="none" stroke="#e02424" stroke-width="2.4" stroke-linejoin="miter"/>
<path d="M583.1 877.3 L584.1 861.1 L586.2 855.1 L589.2 845 L591.2 834.9 L595.2 820.7 L599.3 812.7 L602.3 806.6 L603.3 792.5 L606.3 790.4 L610.4 790.4 L610.4 780.4 L616.4 777.3 L626.5 776.3 L627.5 772.3 L629.6 758.1 L631.6 738 L634.6 733.9 L638.6 732.9 L639.7 717.8 L643.7 711.7 L644.7 697.6 L646.7 686.5 L652.8 685.5 L656.8 685.5 L656.8 675.4 L676 674.4 L677 669.3 L681 665.3 L687.1 663.3 L688.1 660.2 L692.1 658.2 L692.1 655.6 L707.3 655.2 L711.3 649.1 L715.4 641 L720.4 636 L726.5 634 L735.6 632 L737.6 628.9 L751.7 628.9 L751.7 626.9 L760 626.9 L761.1 628.9 L761.1 620.9 L768.2 610.8 L776.2 610.8 L777.3 607.7 L788.4 604.7 L788.4 598.6 L794.4 595.6 L800.5 592.6 L800.5 588.6 L810.6 588.6 L817.6 586.5 L818.6 580.5 L826.7 578.5 L834.8 578.5 L838.8 572.4 L838.8 566.7 L884.3 566.7 L887.3 560.3 L891.3 552.2 L895.4 547.8 L922.6 544.5" fill="none" stroke="#f8f43a" stroke-width="2.4" stroke-linejoin="miter"/>
<path d="M583.1 877.3 L583.1 838.9 L589.2 838.9 L589.2 803.6 L602.3 803.6 L603.3 802.6 L608.4 802.6 L608.4 775.3 L614.4 775.3 L614.4 762.2 L621.5 762.2 L621.5 729.9 L627.5 729.9 L627.5 699.6 L634.6 699.6 L634.6 677.4 L646.7 677.4 L646.7 675 L652.8 675 L652.8 671.3 L659.8 671.3 L659.8 665.7 L666.9 665.7 L666.9 662.6 L673 662.6 L673 657.6 L679 657.6 L679 654.6 L692.1 654.6 L692.1 653.6 L699.2 653.6 L699.2 651.7 L709.3 651.7 L711.3 649.1 L717.4 647.1 L723.4 643.1 L729.5 637 L735.6 633 L737.6 629.9 L749.7 629.9 L749.7 623.9 L760 623.9 L762.1 623.9 L763.1 612.8 L775.2 612.8 L775.2 606.3 L794.4 606.3 L794.4 601.7 L807.5 601.7 L807.5 594.2 L832.8 594.2 L832.8 581.5 L865.1 581.5 L865.1 566.3 L871.1 566.3 L872.1 558.3 L878.2 558.3 L878.2 549.6 L884.3 549.6 L884.3 547.2 L891.3 547.2 L891.3 544.5 L922.6 544.5" fill="none" stroke="#1c2ee6" stroke-width="2.4" stroke-linejoin="miter"/>
<rect x="569.4" y="530.9" width="367.3" height="359.4" fill="none" stroke="#555" stroke-width="1.1"/>
<line x1="563.4" y1="877.7" x2="569.4" y2="877.7" stroke="#444" stroke-width="1.1"/>
<text x="560.1" y="882.2" text-anchor="end" font-size="13.2" fill="#1a1a1a" textLength="17.4" lengthAdjust="spacingAndGlyphs">0.0</text>
<line x1="582.9" y1="890.3" x2="582.9" y2="896.3" stroke="#444" stroke-width="1.1"/>
<text x="582.9" y="916.4" text-anchor="middle" font-size="13.2" fill="#1a1a1a" textLength="17.4" lengthAdjust="spacingAndGlyphs">0.0</text>
<line x1="563.4" y1="810.9" x2="569.4" y2="810.9" stroke="#444" stroke-width="1.1"/>
<text x="560.1" y="815.4" text-anchor="end" font-size="13.2" fill="#1a1a1a" textLength="17.4" lengthAdjust="spacingAndGlyphs">0.2</text>
<line x1="651" y1="890.3" x2="651" y2="896.3" stroke="#444" stroke-width="1.1"/>
<text x="651" y="916.4" text-anchor="middle" font-size="13.2" fill="#1a1a1a" textLength="17.4" lengthAdjust="spacingAndGlyphs">0.2</text>
<line x1="563.4" y1="744.1" x2="569.4" y2="744.1" stroke="#444" stroke-width="1.1"/>
<text x="560.1" y="748.6" text-anchor="end" font-size="13.2" fill="#1a1a1a" textLength="17.4" lengthAdjust="spacingAndGlyphs">0.4</text>
<line x1="719" y1="890.3" x2="719" y2="896.3" stroke="#444" stroke-width="1.1"/>
<text x="719" y="916.4" text-anchor="middle" font-size="13.2" fill="#1a1a1a" textLength="17.4" lengthAdjust="spacingAndGlyphs">0.4</text>
<line x1="563.4" y1="677.3" x2="569.4" y2="677.3" stroke="#444" stroke-width="1.1"/>
<text x="560.1" y="681.8" text-anchor="end" font-size="13.2" fill="#1a1a1a" textLength="17.4" lengthAdjust="spacingAndGlyphs">0.6</text>
<line x1="787.1" y1="890.3" x2="787.1" y2="896.3" stroke="#444" stroke-width="1.1"/>
<text x="787.1" y="916.4" text-anchor="middle" font-size="13.2" fill="#1a1a1a" textLength="17.4" lengthAdjust="spacingAndGlyphs">0.6</text>
<line x1="563.4" y1="610.5" x2="569.4" y2="610.5" stroke="#444" stroke-width="1.1"/>
<text x="560.1" y="615" text-anchor="end" font-size="13.2" fill="#1a1a1a" textLength="17.4" lengthAdjust="spacingAndGlyphs">0.8</text>
<line x1="855.1" y1="890.3" x2="855.1" y2="896.3" stroke="#444" stroke-width="1.1"/>
<text x="855.1" y="916.4" text-anchor="middle" font-size="13.2" fill="#1a1a1a" textLength="17.4" lengthAdjust="spacingAndGlyphs">0.8</text>
<line x1="563.4" y1="543.7" x2="569.4" y2="543.7" stroke="#444" stroke-width="1.1"/>
<text x="560.1" y="548.2" text-anchor="end" font-size="13.2" fill="#1a1a1a" textLength="17.4" lengthAdjust="spacingAndGlyphs">1.0</text>
<line x1="923.2" y1="890.3" x2="923.2" y2="896.3" stroke="#444" stroke-width="1.1"/>
<text x="923.2" y="916.4" text-anchor="middle" font-size="13.2" fill="#1a1a1a" textLength="17.4" lengthAdjust="spacingAndGlyphs">1.0</text>
<text x="751.4" y="944.5" text-anchor="middle" font-size="13.2" fill="#1a1a1a" textLength="67" lengthAdjust="spacingAndGlyphs">1-Specificity</text>
<text transform="translate(525.8,712.8) rotate(-90)" x="0" y="4.5" text-anchor="middle" font-size="13.2" fill="#1a1a1a" textLength="56.3" lengthAdjust="spacingAndGlyphs">Sensitivity</text>
<line x1="720.2" y1="804.6" x2="750.9" y2="804.6" stroke="#e02424" stroke-width="3.6"/>
<text x="756.3" y="809.1" text-anchor="start" font-size="13.2" fill="#1a1a1a" textLength="156" lengthAdjust="spacingAndGlyphs">AUC of 1 year survival: 0.673</text>
<line x1="720.2" y1="826.1" x2="750.9" y2="826.1" stroke="#f8f43a" stroke-width="3.6"/>
<text x="756.3" y="830.6" text-anchor="start" font-size="13.2" fill="#1a1a1a" textLength="156" lengthAdjust="spacingAndGlyphs">AUC of 3 year survival: 0.709</text>
<line x1="720.2" y1="845.8" x2="750.9" y2="845.8" stroke="#1c2ee6" stroke-width="3.6"/>
<text x="756.3" y="850.3" text-anchor="start" font-size="13.2" fill="#1a1a1a" textLength="156" lengthAdjust="spacingAndGlyphs">AUC of 5 year survival: 0.722</text>
<line x1="569.4" y1="1894" x2="936.7" y2="1533" stroke="#222" stroke-width="1.3" stroke-dasharray="3,2.6"/>
<path d="M583.1 1882.3 L586.2 1881.3 L586.2 1866.2 L589.2 1866.2 L589.2 1858.1 L591.2 1858.1 L591.2 1833.9 L602.3 1833.9 L602.3 1826.8 L614.8 1826.8 L614.8 1818.7 L616.4 1818.7 L616.4 1810.6 L619.5 1810.6 L619.5 1803.6 L622.9 1803.6 L622.9 1795.5 L629.6 1795.5 L629.6 1787.4 L637 1787.4 L637 1764.2 L641.7 1764.2 L641.7 1756.1 L651.8 1756.1 L651.8 1749.1 L656.8 1749.1 L656.8 1741 L667.9 1741 L669.9 1732.9 L676 1732.9 L677 1719.8 L678 1709.7 L687.1 1709.7 L687.1 1701.6 L694.2 1701.6 L694.2 1685.5 L710.9 1685.5 L710.9 1678.4 L715 1678.4 L715 1670.3 L724.5 1670.3 L724.5 1655.2 L736 1655.2 L736 1647.1 L752.7 1647.1 L752.7 1639 L760 1639 L752 1639 L770.2 1639 L770.2 1630.9 L780.3 1630.9 L780.3 1615.8 L787.4 1615.8 L787.4 1608.3 L806.5 1608.3 L806.5 1592.6 L837.2 1592.6 L837.2 1569.4 L850.9 1569.4 L850.9 1561.3 L860 1561.3 L860 1553.8 L901.4 1553.8 L901.4 1545.7 L922.6 1545.7" fill="none" stroke="#e02424" stroke-width="2.4" stroke-linejoin="miter"/>
<path d="M583.1 1882.3 L586.2 1881.3 L589.2 1879.3 L593.2 1875.2 L597.3 1869.2 L598.3 1846 L602.3 1846 L603.3 1830.8 L608.4 1828.8 L608.4 1808.2 L612.8 1808.2 L612.8 1793.5 L618.5 1788.4 L622.9 1788.4 L623.5 1779.3 L632.6 1779.3 L633.6 1771.3 L647.7 1771.3 L647.7 1764.2 L652.8 1762.2 L657.8 1757.1 L658.8 1752.1 L667.9 1748 L667.9 1726.9 L676 1725.8 L677 1718.8 L693.2 1718.8 L693.2 1705.7 L698.2 1697.6 L718.4 1697.6 L718.4 1684.5 L728.5 1683.8 L728.5 1676.4 L742.6 1675.4 L742.6 1661.2 L747.7 1661.2 L748.7 1651.1 L760 1649.1 L758.1 1651.1 L758.1 1649.1 L778.3 1649.1 L778.3 1628.9 L783.3 1627.9 L803.5 1627.9 L803.5 1609.7 L808.6 1606.7 L813.6 1602.7 L823.7 1600.7 L832.8 1599.7 L837.8 1597.6 L837.8 1584.5 L847.9 1584.5 L848.9 1578.5 L854 1576 L868.1 1576 L868.1 1568.4 L903.4 1568.4 L903.4 1566.3 L907.5 1560.3 L909.5 1556.2 L914.5 1552.2 L918.6 1548.2 L923.2 1545.7" fill="none" stroke="#f8f43a" stroke-width="2.4" stroke-linejoin="miter"/>
<path d="M583.1 1882.3 L583.1 1734.9 L651.8 1734.9 L651.8 1724.2 L719.4 1724.2 L719.4 1674.4 L760 1674.4 L787.4 1674.4 L787.4 1646.1 L855.4 1646.1 L855.4 1599 L923.2 1599 L923.2 1545.7" fill="none" stroke="#1c2ee6" stroke-width="2.4" stroke-linejoin="miter"/>
<rect x="569.4" y="1533" width="367.3" height="361" fill="none" stroke="#555" stroke-width="1.1"/>
<line x1="563.4" y1="1881.6" x2="569.4" y2="1881.6" stroke="#444" stroke-width="1.1"/>
<text x="560.1" y="1886.1" text-anchor="end" font-size="13.2" fill="#1a1a1a" textLength="17.4" lengthAdjust="spacingAndGlyphs">0.0</text>
<line x1="582.9" y1="1894" x2="582.9" y2="1900" stroke="#444" stroke-width="1.1"/>
<text x="582.9" y="1915.6" text-anchor="middle" font-size="13.2" fill="#1a1a1a" textLength="17.4" lengthAdjust="spacingAndGlyphs">0.0</text>
<line x1="563.4" y1="1814.7" x2="569.4" y2="1814.7" stroke="#444" stroke-width="1.1"/>
<text x="560.1" y="1819.2" text-anchor="end" font-size="13.2" fill="#1a1a1a" textLength="17.4" lengthAdjust="spacingAndGlyphs">0.2</text>
<line x1="651" y1="1894" x2="651" y2="1900" stroke="#444" stroke-width="1.1"/>
<text x="651" y="1915.6" text-anchor="middle" font-size="13.2" fill="#1a1a1a" textLength="17.4" lengthAdjust="spacingAndGlyphs">0.2</text>
<line x1="563.4" y1="1747.8" x2="569.4" y2="1747.8" stroke="#444" stroke-width="1.1"/>
<text x="560.1" y="1752.3" text-anchor="end" font-size="13.2" fill="#1a1a1a" textLength="17.4" lengthAdjust="spacingAndGlyphs">0.4</text>
<line x1="719" y1="1894" x2="719" y2="1900" stroke="#444" stroke-width="1.1"/>
<text x="719" y="1915.6" text-anchor="middle" font-size="13.2" fill="#1a1a1a" textLength="17.4" lengthAdjust="spacingAndGlyphs">0.4</text>
<line x1="563.4" y1="1680.8" x2="569.4" y2="1680.8" stroke="#444" stroke-width="1.1"/>
<text x="560.1" y="1685.4" text-anchor="end" font-size="13.2" fill="#1a1a1a" textLength="17.4" lengthAdjust="spacingAndGlyphs">0.6</text>
<line x1="787.1" y1="1894" x2="787.1" y2="1900" stroke="#444" stroke-width="1.1"/>
<text x="787.1" y="1915.6" text-anchor="middle" font-size="13.2" fill="#1a1a1a" textLength="17.4" lengthAdjust="spacingAndGlyphs">0.6</text>
<line x1="563.4" y1="1613.9" x2="569.4" y2="1613.9" stroke="#444" stroke-width="1.1"/>
<text x="560.1" y="1618.5" text-anchor="end" font-size="13.2" fill="#1a1a1a" textLength="17.4" lengthAdjust="spacingAndGlyphs">0.8</text>
<line x1="855.1" y1="1894" x2="855.1" y2="1900" stroke="#444" stroke-width="1.1"/>
<text x="855.1" y="1915.6" text-anchor="middle" font-size="13.2" fill="#1a1a1a" textLength="17.4" lengthAdjust="spacingAndGlyphs">0.8</text>
<line x1="563.4" y1="1547" x2="569.4" y2="1547" stroke="#444" stroke-width="1.1"/>
<text x="560.1" y="1551.5" text-anchor="end" font-size="13.2" fill="#1a1a1a" textLength="17.4" lengthAdjust="spacingAndGlyphs">1.0</text>
<line x1="923.2" y1="1894" x2="923.2" y2="1900" stroke="#444" stroke-width="1.1"/>
<text x="923.2" y="1915.6" text-anchor="middle" font-size="13.2" fill="#1a1a1a" textLength="17.4" lengthAdjust="spacingAndGlyphs">1.0</text>
<text x="751.4" y="1937.6" text-anchor="middle" font-size="13.2" fill="#1a1a1a" textLength="67" lengthAdjust="spacingAndGlyphs">1-Specificity</text>
<text transform="translate(525.8,1715.5) rotate(-90)" x="0" y="4.5" text-anchor="middle" font-size="13.2" fill="#1a1a1a" textLength="56.3" lengthAdjust="spacingAndGlyphs">Sensitivity</text>
<line x1="720.2" y1="1806.6" x2="750.9" y2="1806.6" stroke="#e02424" stroke-width="3.6"/>
<text x="756.3" y="1811.1" text-anchor="start" font-size="13.2" fill="#1a1a1a" textLength="156" lengthAdjust="spacingAndGlyphs">AUC of 1 year survival: 0.657</text>
<line x1="720.2" y1="1829.1" x2="750.9" y2="1829.1" stroke="#f8f43a" stroke-width="3.6"/>
<text x="756.3" y="1833.6" text-anchor="start" font-size="13.2" fill="#1a1a1a" textLength="156" lengthAdjust="spacingAndGlyphs">AUC of 3 year survival: 0.625</text>
<line x1="720.2" y1="1848.8" x2="750.9" y2="1848.8" stroke="#1c2ee6" stroke-width="3.6"/>
<text x="756.3" y="1853.3" text-anchor="start" font-size="13.2" fill="#1a1a1a" textLength="156" lengthAdjust="spacingAndGlyphs">AUC of 5 year survival: 0.614</text>
</svg></body></html>
